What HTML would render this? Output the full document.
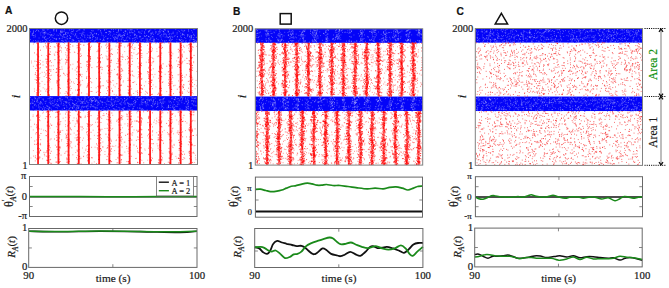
<!DOCTYPE html>
<html><head><meta charset="utf-8"><style>html,body{margin:0;padding:0;background:#fff;overflow:hidden}svg{display:block}text{stroke-width:0.2px}</style></head>
<body><svg width="669" height="288" viewBox="0 0 669 288">
<rect width="669" height="288" fill="#fff"/>
<rect x="29.5" y="28.5" width="168" height="14" fill="#0404f8"/>
<rect x="29.5" y="96.1" width="168" height="14.4" fill="#0404f8"/>
<path d="M105.3 36.3h.9M183.9 35.1h.9M114.6 36.6h.9M60.7 35.7h.9M134.9 39.3h.9M45.7 33.0h.9M45.1 39.5h.9M145.5 29.6h.9M193.5 41.4h.9M138.9 37.0h.9M56.2 29.3h.9M118.0 29.9h.9M61.7 32.2h.9M35.0 35.0h.9M103.3 39.9h.9M116.4 37.3h.9M113.2 37.6h.9M106.1 32.7h.9M196.1 41.8h.9M169.9 38.2h.9M82.5 32.0h.9M78.1 30.0h.9M157.6 34.2h.9M171.0 34.0h.9M189.5 39.9h.9M30.1 31.8h.9M181.6 35.1h.9M193.2 34.2h.9M42.2 37.2h.9M159.6 32.6h.9M44.5 33.4h.9M190.5 38.8h.9M49.6 32.3h.9M46.8 29.9h.9M162.7 31.4h.9M123.1 34.8h.9M61.7 38.5h.9M51.8 37.3h.9M49.4 34.5h.9M65.4 32.6h.9M191.7 39.4h.9M80.6 40.4h.9M65.1 34.1h.9M172.3 37.3h.9M46.7 41.8h.9M65.5 32.4h.9M158.7 33.3h.9M79.3 30.0h.9M45.0 36.6h.9M70.5 36.8h.9M91.9 34.9h.9M189.7 35.3h.9M125.7 40.2h.9M60.4 31.1h.9M181.3 39.6h.9M71.5 31.5h.9M153.1 41.1h.9M62.7 41.3h.9M176.9 36.8h.9M100.2 30.4h.9M36.4 41.4h.9M69.7 38.1h.9M72.8 39.6h.9M129.3 32.9h.9M59.2 38.3h.9M41.5 32.0h.9M123.1 40.0h.9M132.3 32.7h.9M182.7 31.7h.9M32.8 32.5h.9M104.2 29.9h.9M59.3 33.8h.9M125.3 30.8h.9M90.3 40.5h.9M193.3 37.5h.9M145.1 36.6h.9M53.4 29.5h.9M33.0 40.8h.9M146.7 41.4h.9M33.5 37.2h.9M110.3 38.5h.9M83.1 41.9h.9M42.5 36.1h.9M152.7 40.6h.9M152.7 38.1h.9M162.1 40.8h.9M88.6 37.9h.9M180.0 40.3h.9M99.5 39.2h.9M173.8 36.4h.9M134.1 34.0h.9M127.0 36.9h.9M43.4 37.3h.9M195.4 40.4h.9M151.2 34.1h.9M152.4 36.5h.9M103.3 39.8h.9M43.9 38.7h.9M35.0 36.8h.9M110.1 32.0h.9M146.3 35.5h.9M132.3 40.9h.9M72.6 29.2h.9M80.1 37.8h.9M63.7 31.3h.9M180.8 37.5h.9M103.6 40.5h.9M84.4 37.6h.9M63.1 34.6h.9M164.2 40.8h.9M176.6 34.0h.9M127.1 33.2h.9M52.7 35.5h.9M169.4 40.0h.9M148.4 41.3h.9M76.1 31.3h.9M105.0 32.6h.9M65.6 34.4h.9M134.2 35.4h.9M82.5 39.8h.9M193.5 34.9h.9M42.4 29.5h.9M175.3 29.6h.9M148.0 36.4h.9M81.5 39.2h.9M33.2 30.8h.9M105.7 29.4h.9M168.1 32.1h.9M53.5 29.7h.9M134.8 34.8h.9M134.9 37.5h.9M164.4 41.4h.9M144.0 31.7h.9M109.1 31.4h.9M31.8 35.1h.9M148.9 31.4h.9M75.3 33.5h.9M146.1 35.8h.9M132.3 38.8h.9M95.5 39.2h.9M180.9 30.2h.9M185.3 38.3h.9M51.6 34.9h.9M134.2 40.7h.9M92.7 36.4h.9M176.4 39.3h.9M187.2 35.0h.9M138.4 31.7h.9M150.2 39.6h.9M136.8 38.3h.9M65.5 40.6h.9M193.3 41.6h.9M119.4 39.2h.9M83.3 40.7h.9M172.5 33.6h.9M43.8 34.7h.9M121.6 38.9h.9M111.2 29.5h.9M164.7 29.9h.9M163.2 31.3h.9M85.8 39.2h.9M53.4 31.0h.9M116.0 38.4h.9M169.9 37.9h.9M187.5 35.4h.9M188.0 30.2h.9M66.9 35.8h.9M78.3 38.4h.9M136.4 35.8h.9M170.5 36.3h.9M81.9 34.0h.9M170.7 40.6h.9M64.7 40.0h.9M191.2 35.8h.9M125.4 31.7h.9M119.2 35.5h.9M130.8 29.5h.9M191.4 35.7h.9M96.7 39.4h.9M123.7 35.4h.9M145.0 29.9h.9M119.7 34.4h.9M189.3 40.9h.9M74.8 35.2h.9M51.1 34.7h.9M165.8 40.6h.9M109.3 33.2h.9M61.9 37.0h.9M184.1 30.8h.9M159.8 29.4h.9M62.3 32.0h.9M144.4 33.2h.9M89.2 37.0h.9M47.5 38.5h.9M50.4 35.6h.9M71.7 31.6h.9M118.3 34.7h.9M92.6 34.4h.9M118.1 31.1h.9M64.0 37.2h.9M136.3 35.9h.9M171.7 36.9h.9M172.7 32.1h.9M153.3 39.5h.9M180.3 33.1h.9M82.4 40.9h.9M66.3 41.9h.9M177.8 30.8h.9M69.9 38.4h.9M73.2 30.3h.9M168.6 34.5h.9M161.5 30.7h.9M97.1 37.9h.9M33.0 31.7h.9M143.6 40.8h.9M191.2 30.6h.9M114.2 38.8h.9M113.7 37.9h.9M61.5 30.0h.9M47.7 29.6h.9M121.9 35.7h.9M124.7 31.0h.9M60.7 31.7h.9M169.9 41.8h.9M184.3 30.3h.9M40.3 41.3h.9M106.9 38.9h.9M84.4 35.1h.9M115.8 34.6h.9M130.1 29.3h.9M146.7 39.9h.9M60.2 34.9h.9M153.1 34.3h.9M62.5 31.2h.9M115.3 29.3h.9M178.7 39.4h.9M147.3 40.1h.9M134.8 34.3h.9M129.8 35.6h.9M193.6 39.4h.9M73.0 40.8h.9M153.9 39.1h.9M165.6 34.3h.9M179.3 40.4h.9M145.7 38.9h.9M157.4 34.3h.9M150.3 30.0h.9M86.9 35.1h.9M31.8 33.7h.9M136.3 37.1h.9M68.6 41.2h.9M140.9 33.4h.9M139.9 36.4h.9M118.8 34.1h.9M196.5 37.3h.9M146.8 38.9h.9M193.2 29.4h.9M132.5 38.6h.9M72.7 34.2h.9M38.4 31.6h.9M92.6 30.4h.9M71.8 40.7h.9M121.6 35.6h.9M191.0 36.4h.9M195.7 37.3h.9M164.8 30.1h.9M129.5 38.8h.9M37.5 41.0h.9M56.6 35.1h.9M58.2 35.4h.9M131.8 29.8h.9M187.4 34.5h.9M117.7 36.8h.9M90.9 32.8h.9M139.1 36.3h.9M77.2 38.3h.9M79.3 29.3h.9M70.8 29.6h.9M56.1 38.8h.9M94.9 40.6h.9M154.6 29.7h.9M194.6 41.2h.9M42.2 40.7h.9M101.5 35.2h.9M192.0 32.2h.9M117.1 41.1h.9M150.3 35.1h.9M193.0 39.6h.9M130.5 30.6h.9M133.9 34.9h.9M63.9 29.8h.9M117.9 30.7h.9M103.7 37.6h.9M105.8 32.5h.9M126.9 34.5h.9M159.5 35.9h.9M196.1 41.3h.9M152.3 32.2h.9M49.0 40.5h.9M160.6 37.1h.9M89.8 32.6h.9M144.1 36.3h.9M128.5 37.2h.9M155.4 31.5h.9M71.5 41.6h.9M182.5 40.3h.9M36.6 29.9h.9M75.1 34.5h.9M133.8 30.4h.9M120.2 30.0h.9M44.4 37.8h.9M121.7 37.2h.9M92.1 35.2h.9M65.1 33.5h.9M154.0 39.8h.9M42.4 30.6h.9M164.7 37.1h.9M158.0 31.8h.9M100.7 32.4h.9M164.8 33.8h.9M138.8 41.8h.9M84.2 36.1h.9M154.2 40.9h.9M101.2 33.8h.9M46.2 40.3h.9M43.1 30.2h.9M123.9 35.3h.9M144.1 32.9h.9M159.1 30.1h.9M65.5 37.6h.9M43.6 33.0h.9M150.7 38.0h.9M77.1 30.9h.9M89.6 38.4h.9M91.0 30.6h.9M148.1 36.4h.9M182.9 41.1h.9M182.1 34.7h.9M163.7 33.0h.9M82.9 34.2h.9M185.6 40.6h.9M71.3 33.7h.9M90.9 33.8h.9M95.9 34.1h.9M62.5 36.3h.9M162.7 36.0h.9M169.3 36.3h.9M59.4 38.8h.9M176.7 32.7h.9M33.7 35.7h.9M120.6 36.4h.9M190.9 37.4h.9M163.9 29.9h.9M121.0 39.2h.9M44.0 30.1h.9M152.7 40.6h.9M44.1 37.2h.9M54.0 38.6h.9M138.1 32.2h.9M66.7 38.9h.9M116.8 38.9h.9M95.7 33.4h.9M191.2 37.7h.9M112.2 36.0h.9M150.0 38.2h.9M182.3 34.4h.9M167.6 37.6h.9M172.1 39.4h.9M168.8 40.5h.9M189.5 37.3h.9M117.2 38.2h.9M163.6 34.5h.9M100.0 31.0h.9M153.4 41.8h.9M92.5 31.2h.9M64.0 34.5h.9M78.6 41.5h.9M39.9 33.0h.9M49.1 37.4h.9M159.2 31.4h.9M40.4 35.0h.9M127.2 40.7h.9M36.1 30.5h.9M60.7 31.9h.9M69.2 38.3h.9M129.0 32.0h.9M60.8 32.7h.9M58.7 38.8h.9M81.9 36.1h.9M166.1 35.2h.9M73.4 40.5h.9M182.2 33.5h.9M121.1 41.3h.9M110.4 31.9h.9M38.3 41.2h.9M163.4 34.0h.9M117.8 35.7h.9M75.7 41.8h.9M139.5 32.1h.9M102.4 102.5h.9M73.8 107.2h.9M42.1 108.7h.9M124.7 103.9h.9M161.8 99.8h.9M54.3 100.8h.9M37.0 100.8h.9M133.4 103.6h.9M74.1 104.5h.9M44.7 107.5h.9M58.6 100.1h.9M56.6 105.8h.9M168.3 107.1h.9M40.2 102.1h.9M90.7 99.6h.9M191.6 97.3h.9M111.5 106.7h.9M194.2 98.6h.9M105.8 106.5h.9M36.5 99.9h.9M178.2 98.6h.9M95.4 100.6h.9M100.7 97.7h.9M35.7 109.8h.9M157.1 106.4h.9M68.3 100.0h.9M121.9 99.9h.9M106.8 109.0h.9M90.6 101.1h.9M193.4 104.8h.9M36.6 102.0h.9M138.2 97.5h.9M87.1 105.9h.9M173.9 104.5h.9M177.6 102.8h.9M95.4 107.8h.9M93.5 107.0h.9M65.9 101.3h.9M60.6 104.0h.9M57.3 99.4h.9M65.7 102.9h.9M81.4 102.6h.9M195.4 105.7h.9M173.6 99.4h.9M93.8 97.7h.9M145.1 101.5h.9M75.7 96.9h.9M60.3 100.2h.9M95.4 108.9h.9M149.1 100.2h.9M90.1 98.7h.9M185.9 101.4h.9M157.5 106.2h.9M181.0 97.0h.9M83.6 101.8h.9M43.8 108.3h.9M84.2 106.9h.9M116.5 97.4h.9M95.6 99.8h.9M36.8 98.7h.9M129.1 97.1h.9M82.0 102.3h.9M120.6 98.5h.9M147.6 100.1h.9M150.8 105.5h.9M54.5 99.4h.9M76.7 106.1h.9M97.5 101.8h.9M174.2 99.7h.9M78.6 101.3h.9M65.9 97.2h.9M34.1 105.0h.9M124.2 107.4h.9M192.4 100.6h.9M141.6 108.8h.9M66.0 105.8h.9M141.0 109.3h.9M174.6 99.8h.9M135.3 97.9h.9M101.2 101.9h.9M40.0 101.8h.9M84.6 103.3h.9M76.6 98.8h.9M97.0 103.0h.9M57.8 105.5h.9M69.9 97.9h.9M86.9 102.3h.9M55.1 104.4h.9M146.8 104.0h.9M146.6 97.0h.9M95.2 101.5h.9M40.5 102.0h.9M39.1 103.2h.9M127.5 102.9h.9M84.2 100.0h.9M33.9 101.3h.9M178.5 104.2h.9M73.6 105.5h.9M61.0 102.9h.9M132.4 109.3h.9M90.4 104.3h.9M186.9 106.9h.9M134.5 104.9h.9M98.4 102.2h.9M76.0 107.7h.9M176.5 101.7h.9M181.5 97.2h.9M52.6 103.4h.9M81.4 101.5h.9M192.7 98.7h.9M62.0 99.7h.9M143.2 99.8h.9M30.2 103.9h.9M95.6 99.9h.9M112.2 105.3h.9M121.3 104.9h.9M123.4 107.7h.9M191.3 101.1h.9M87.7 108.4h.9M82.2 106.2h.9M145.8 105.8h.9M190.5 107.6h.9M56.6 104.9h.9M111.7 104.1h.9M91.5 100.5h.9M154.7 103.7h.9M69.5 100.0h.9M84.1 99.0h.9M115.5 98.4h.9M40.5 97.6h.9M47.0 106.0h.9M48.8 102.7h.9M158.6 103.0h.9M57.1 108.1h.9M174.8 97.4h.9M72.3 103.4h.9M162.6 101.9h.9M149.2 100.0h.9M149.2 101.0h.9M85.6 106.7h.9M170.3 107.6h.9M124.5 102.3h.9M147.7 104.9h.9M168.4 107.3h.9M50.8 101.7h.9M141.4 99.7h.9M60.7 96.9h.9M127.5 109.1h.9M191.6 98.5h.9M144.5 102.2h.9M135.1 101.9h.9M185.4 109.8h.9M38.1 106.1h.9M49.7 97.3h.9M77.6 106.4h.9M195.4 98.3h.9M85.0 97.1h.9M120.3 103.1h.9M92.2 100.8h.9M163.3 107.8h.9M77.2 101.9h.9M132.9 106.8h.9M193.3 101.8h.9M145.6 103.9h.9M163.2 98.6h.9M59.2 98.1h.9M185.4 100.0h.9M111.3 98.3h.9M83.9 97.0h.9M124.2 98.6h.9M134.1 100.3h.9M67.9 103.1h.9M90.9 100.1h.9M38.5 97.5h.9M178.6 100.8h.9M43.1 99.1h.9M110.5 109.9h.9M63.7 108.1h.9M110.6 102.2h.9M164.4 101.9h.9M39.6 104.0h.9M139.4 104.9h.9M76.1 109.1h.9M174.0 109.8h.9M103.8 107.7h.9M150.7 99.0h.9M34.5 98.9h.9M49.8 97.7h.9M89.8 106.6h.9M81.6 103.5h.9M31.7 99.5h.9M189.7 96.8h.9M117.8 107.4h.9M161.9 106.4h.9M96.5 107.3h.9M167.8 106.8h.9M194.2 98.0h.9M188.2 102.0h.9M147.4 100.0h.9M181.5 97.0h.9M126.0 99.7h.9M94.7 101.6h.9M139.4 107.4h.9M90.7 105.1h.9M88.9 100.4h.9M180.7 100.9h.9M45.7 101.1h.9M153.5 99.5h.9M153.7 103.9h.9M143.3 99.0h.9M47.6 98.6h.9M88.3 102.4h.9M31.6 103.3h.9M97.2 100.9h.9M119.4 109.3h.9M64.1 108.3h.9M83.4 106.7h.9M48.0 109.7h.9M101.6 109.4h.9M66.6 102.1h.9M147.6 99.0h.9M75.5 105.6h.9M187.8 101.0h.9M60.5 101.4h.9M194.7 98.7h.9M135.7 101.7h.9M137.2 99.5h.9M132.6 108.4h.9M172.6 105.0h.9M114.1 104.2h.9M49.0 107.8h.9M144.9 102.7h.9M140.8 102.2h.9M94.0 99.7h.9M130.0 104.3h.9M115.8 97.1h.9M134.5 102.6h.9M128.8 104.5h.9M185.1 98.7h.9M108.0 109.8h.9M152.9 100.8h.9M152.7 109.8h.9M96.9 108.2h.9M51.1 109.8h.9M111.8 99.8h.9M169.9 105.3h.9M186.1 107.6h.9M162.8 103.5h.9M195.4 97.6h.9M174.9 106.1h.9M71.7 107.4h.9M105.6 103.8h.9M174.1 99.3h.9M76.6 105.2h.9M42.2 104.0h.9M161.1 103.2h.9M70.3 107.3h.9M172.4 106.9h.9M121.5 108.7h.9M162.7 98.7h.9M90.9 98.0h.9M36.1 101.3h.9M174.0 107.7h.9M49.5 99.1h.9M94.7 107.9h.9M132.7 108.6h.9M42.0 109.7h.9M64.4 105.0h.9M175.9 106.3h.9M62.8 105.5h.9M101.7 96.9h.9M86.5 100.9h.9M134.8 100.4h.9M130.4 105.9h.9M60.1 98.4h.9M145.5 102.9h.9M51.5 98.2h.9M186.7 104.8h.9M89.5 99.3h.9M195.6 105.8h.9M152.6 101.5h.9M81.7 102.1h.9M54.4 105.0h.9M100.7 107.5h.9M98.1 102.7h.9M114.3 109.1h.9M87.7 106.0h.9M69.1 104.3h.9M77.4 108.2h.9M77.7 108.0h.9M142.7 102.7h.9M185.5 101.8h.9M153.8 104.6h.9M104.7 97.5h.9M99.8 100.4h.9M103.4 109.3h.9M78.8 105.9h.9M141.9 99.9h.9M98.5 98.4h.9M179.1 100.0h.9M100.0 101.2h.9M166.6 107.9h.9M128.4 103.9h.9M46.6 108.5h.9M44.7 101.5h.9M92.4 106.2h.9M141.4 101.2h.9M179.5 109.2h.9M33.9 105.1h.9M108.1 101.5h.9M107.4 100.9h.9M141.7 104.7h.9M191.6 109.6h.9M195.3 101.9h.9M168.0 105.3h.9M146.7 109.9h.9M41.1 102.8h.9M96.8 105.4h.9M66.3 109.8h.9M64.9 101.6h.9M53.8 101.9h.9M153.5 97.8h.9M57.8 105.3h.9M133.7 106.5h.9M72.2 107.4h.9M151.7 106.9h.9M49.9 102.9h.9M32.6 108.0h.9M187.3 108.5h.9M34.0 101.3h.9M119.2 103.7h.9M48.5 107.1h.9M80.2 103.4h.9M50.7 104.2h.9M51.6 97.9h.9M115.3 100.6h.9M159.4 100.0h.9M98.9 97.4h.9M66.2 102.7h.9M122.9 102.8h.9M171.6 98.1h.9M171.5 98.7h.9M191.6 103.6h.9M97.7 104.8h.9M173.8 109.4h.9M98.8 96.8h.9M55.6 107.5h.9M152.3 106.1h.9M56.1 103.7h.9M34.8 98.2h.9M80.1 109.5h.9M137.1 107.9h.9M37.7 102.2h.9M43.0 100.1h.9M48.6 108.8h.9M84.7 103.2h.9M138.9 108.4h.9M187.6 104.2h.9M113.4 108.6h.9M95.7 100.7h.9M153.1 100.1h.9M91.2 102.4h.9M109.4 101.4h.9M101.7 102.7h.9M38.3 107.7h.9M40.3 103.7h.9M121.2 102.0h.9M67.1 98.0h.9M91.9 100.9h.9M110.6 99.7h.9M154.8 103.1h.9M31.5 102.1h.9M190.9 96.8h.9M128.8 109.4h.9M90.9 104.6h.9M91.4 100.7h.9M131.4 104.5h.9M82.5 103.3h.9M115.9 106.6h.9M38.8 97.9h.9M72.0 100.3h.9M162.5 102.3h.9M173.2 102.0h.9M77.6 105.7h.9M44.2 109.7h.9M168.5 101.0h.9M82.8 107.5h.9M161.3 105.2h.9M39.4 106.8h.9M38.0 104.9h.9M121.9 108.9h.9M136.3 97.0h.9M185.6 106.6h.9M126.5 96.8h.9M152.7 102.2h.9M143.2 109.7h.9M182.6 97.7h.9M160.1 102.5h.9M155.1 101.7h.9M104.5 102.5h.9M49.6 100.9h.9M152.3 97.6h.9M49.3 107.7h.9M140.9 103.9h.9M48.9 98.3h.9M81.6 109.3h.9M123.3 108.9h.9M65.2 102.2h.9M119.3 107.8h.9M50.5 108.2h.9M108.7 97.1h.9" stroke="#ffffff" stroke-opacity="0.35" stroke-width="0.9"/>
<path d="M31.8 35.1h.7M91.9 39.3h.7M148.8 36.9h.7M56.2 31.1h.7M83.6 32.4h.7M174.7 35.7h.7M136.1 41.8h.7M74.4 35.9h.7M55.1 39.0h.7M30.2 39.6h.7M170.9 39.6h.7M43.7 32.6h.7M149.3 30.3h.7M109.9 35.1h.7M189.1 36.6h.7M172.7 33.0h.7M161.4 34.4h.7M182.6 30.3h.7M167.6 31.8h.7M120.5 35.8h.7M56.2 39.7h.7M81.8 33.1h.7M42.7 33.0h.7M107.8 38.3h.7M89.9 37.9h.7M47.6 34.1h.7M106.9 41.5h.7M168.2 37.5h.7M32.1 33.9h.7M148.2 32.1h.7M123.9 35.0h.7M31.7 41.8h.7M163.1 31.7h.7M132.6 32.8h.7M92.6 36.0h.7M79.7 33.4h.7M95.3 37.6h.7M72.7 31.7h.7M151.8 33.3h.7M187.3 36.3h.7M150.5 33.3h.7M167.7 30.3h.7M53.4 30.3h.7M142.8 38.2h.7M59.9 34.2h.7M169.3 36.7h.7M45.0 32.0h.7M56.2 30.7h.7M97.7 30.0h.7M183.3 34.6h.7M115.2 37.4h.7M157.7 39.6h.7M94.3 33.3h.7M98.6 29.3h.7M96.7 38.1h.7M193.5 39.2h.7M139.9 36.9h.7M33.1 33.3h.7M87.0 37.4h.7M47.7 33.9h.7M114.8 39.2h.7M167.4 36.9h.7M56.4 38.9h.7M180.3 36.1h.7M88.7 35.5h.7M53.6 38.2h.7M194.3 35.7h.7M149.1 39.8h.7M62.8 41.2h.7M134.4 31.6h.7M43.9 32.2h.7M126.0 38.0h.7M84.8 41.0h.7M90.1 35.0h.7M50.7 41.6h.7M52.6 40.7h.7M120.5 36.3h.7M123.3 32.5h.7M181.4 41.8h.7M166.1 36.8h.7M50.4 39.7h.7M78.0 40.6h.7M70.1 36.4h.7M168.3 31.5h.7M121.2 30.1h.7M35.3 31.4h.7M194.3 41.1h.7M139.6 33.0h.7M141.8 38.5h.7M93.5 36.7h.7M163.8 29.3h.7M63.2 35.1h.7M53.8 34.0h.7M124.8 31.3h.7M116.5 32.5h.7M124.6 33.4h.7M136.8 29.6h.7M141.7 31.0h.7M189.7 36.8h.7M108.2 34.4h.7M133.9 37.9h.7M156.2 38.7h.7M110.9 41.8h.7M169.6 40.0h.7M98.1 34.7h.7M124.2 40.7h.7M117.6 35.8h.7M102.0 40.7h.7M83.4 29.8h.7M150.8 40.6h.7M151.9 36.7h.7M155.2 33.0h.7M128.8 30.0h.7M50.7 34.8h.7M113.7 34.2h.7M38.7 38.0h.7M117.6 32.2h.7M81.0 34.2h.7M69.3 30.0h.7M181.7 41.5h.7M140.8 40.2h.7M100.2 39.4h.7M66.9 38.7h.7M124.4 40.7h.7M46.4 39.2h.7M50.6 36.0h.7M188.3 29.1h.7M70.6 32.9h.7M84.1 29.9h.7M179.0 39.5h.7M96.1 33.7h.7M127.5 29.7h.7M35.2 40.6h.7M81.3 35.5h.7M185.5 41.6h.7M108.7 31.7h.7M79.2 40.9h.7M179.3 31.6h.7M169.5 33.6h.7M108.7 31.3h.7M176.5 41.8h.7M63.6 37.2h.7M61.9 40.4h.7M38.3 30.5h.7M150.8 33.1h.7M179.9 40.2h.7M148.7 30.8h.7M145.9 41.1h.7M104.1 30.1h.7M67.2 33.0h.7M148.3 31.6h.7M60.1 32.1h.7M140.7 39.2h.7M92.0 37.6h.7M177.3 36.7h.7M68.1 33.0h.7M184.3 37.6h.7M76.1 37.3h.7M45.0 41.7h.7M103.3 35.9h.7M118.4 29.7h.7M129.8 32.7h.7M71.8 39.4h.7M44.5 32.7h.7M155.8 32.2h.7M76.5 36.1h.7M61.0 40.6h.7M194.5 29.5h.7M106.9 38.7h.7M94.1 41.0h.7M113.2 31.4h.7M122.6 37.4h.7M89.9 37.5h.7M160.4 35.7h.7M114.2 39.9h.7M143.9 35.8h.7M188.4 31.3h.7M159.8 31.2h.7M131.2 32.1h.7M103.3 39.0h.7M161.0 39.2h.7M69.3 35.4h.7M66.8 36.5h.7M113.1 29.6h.7M129.4 38.2h.7M125.3 40.3h.7M60.0 31.0h.7M33.0 35.5h.7M101.9 101.7h.7M142.3 109.0h.7M112.2 105.8h.7M94.6 107.0h.7M47.5 106.5h.7M57.7 104.4h.7M63.7 101.3h.7M57.3 101.3h.7M128.5 103.6h.7M94.7 104.3h.7M170.2 101.4h.7M127.2 103.0h.7M193.3 101.0h.7M146.1 99.8h.7M73.5 106.3h.7M125.7 100.1h.7M40.7 107.6h.7M92.9 106.2h.7M102.0 104.9h.7M123.2 109.6h.7M181.5 102.7h.7M111.1 99.8h.7M155.4 98.1h.7M81.0 107.9h.7M35.8 105.9h.7M124.6 104.0h.7M85.5 98.7h.7M188.3 106.8h.7M164.2 98.0h.7M160.5 99.6h.7M63.2 103.8h.7M131.5 98.3h.7M157.4 104.4h.7M179.7 108.9h.7M144.8 101.5h.7M188.3 106.2h.7M78.4 108.0h.7M151.0 100.2h.7M71.5 97.0h.7M119.4 100.0h.7M78.8 100.0h.7M51.9 103.1h.7M75.4 100.5h.7M76.2 103.4h.7M175.5 98.8h.7M173.1 108.0h.7M131.5 103.9h.7M152.2 103.8h.7M139.9 108.8h.7M159.1 100.1h.7M39.0 109.1h.7M90.4 107.1h.7M68.9 102.7h.7M91.7 106.3h.7M187.1 103.4h.7M124.2 101.3h.7M68.7 109.2h.7M48.4 109.1h.7M139.4 97.6h.7M180.1 98.0h.7M124.1 98.3h.7M194.6 100.8h.7M175.2 97.5h.7M140.9 97.6h.7M34.9 104.2h.7M193.6 105.7h.7M172.4 107.1h.7M116.8 97.7h.7M117.7 99.1h.7M117.7 101.4h.7M113.1 99.3h.7M147.4 102.2h.7M110.9 97.7h.7M111.1 104.1h.7M191.9 104.1h.7M52.5 100.7h.7M85.9 106.0h.7M186.3 109.6h.7M188.2 108.9h.7M173.0 109.0h.7M33.4 103.2h.7M128.3 105.8h.7M132.0 104.8h.7M185.4 97.8h.7M116.5 109.4h.7M35.3 98.2h.7M174.7 109.3h.7M34.0 97.1h.7M168.2 105.8h.7M116.5 104.4h.7M156.1 107.4h.7M30.1 97.6h.7M162.2 109.6h.7M168.8 102.1h.7M85.9 101.3h.7M32.5 106.9h.7M73.7 104.4h.7M117.6 101.1h.7M142.4 102.7h.7M69.0 108.3h.7M59.3 98.7h.7M72.2 103.0h.7M160.5 101.1h.7M69.7 105.3h.7M73.3 103.6h.7M72.4 108.3h.7M60.7 99.8h.7M80.2 101.1h.7M151.0 105.6h.7M161.6 103.8h.7M43.1 106.8h.7M70.7 99.6h.7M99.0 109.8h.7M91.7 101.4h.7M181.7 109.8h.7M94.5 98.5h.7M161.5 107.0h.7M86.3 107.1h.7M93.2 100.5h.7M128.8 106.5h.7M109.2 107.5h.7M32.3 103.3h.7M93.3 97.6h.7M182.3 98.6h.7M64.2 108.3h.7M189.9 109.0h.7M86.9 109.0h.7M53.6 106.1h.7M187.4 99.2h.7M52.6 105.7h.7M176.9 106.3h.7M188.1 102.7h.7M92.0 98.3h.7M75.5 109.1h.7M41.9 99.1h.7M87.9 97.4h.7M81.1 99.1h.7M50.4 103.7h.7M120.0 104.2h.7M156.9 103.7h.7M187.7 97.8h.7M67.1 97.7h.7M81.5 106.7h.7M183.9 103.4h.7M56.7 101.1h.7M124.6 100.6h.7M162.0 109.5h.7M106.5 104.7h.7M170.9 102.8h.7M61.8 109.2h.7M192.8 97.0h.7M157.0 102.0h.7M38.6 98.8h.7M58.8 106.4h.7M65.2 97.0h.7M66.6 107.2h.7M113.1 105.3h.7M107.4 99.1h.7M32.5 100.7h.7M36.9 100.1h.7M133.0 101.6h.7M108.7 104.9h.7M82.8 101.4h.7M177.2 104.4h.7M99.4 103.8h.7M106.6 101.1h.7M182.1 99.8h.7M185.8 108.0h.7M176.9 98.8h.7M114.7 109.7h.7M78.1 99.0h.7M150.4 99.8h.7M127.2 98.8h.7M187.8 100.4h.7M46.1 105.8h.7M87.8 104.1h.7M112.8 108.9h.7M115.6 101.7h.7M30.3 103.3h.7M74.8 104.3h.7M135.2 102.8h.7M45.0 103.3h.7M110.2 105.2h.7M191.5 100.4h.7M103.7 97.8h.7M163.2 99.8h.7M168.0 107.2h.7M72.4 108.6h.7M113.9 102.3h.7M122.4 109.2h.7M111.6 103.1h.7M78.4 107.8h.7M113.8 101.2h.7" stroke="#ffffff" stroke-opacity="0.6" stroke-width="0.7"/>
<path d="M62.7 42.3h.9M163.8 43.0h.9M192.9 42.8h.9M162.8 42.5h.9M148.5 42.4h.9M59.3 42.9h.9M165.7 42.2h.9M183.1 42.5h.9M33.8 42.6h.9M161.8 42.1h.9M131.7 43.1h.9M137.3 42.7h.9M40.7 42.2h.9M193.5 42.3h.9M175.1 42.2h.9M145.6 42.4h.9M156.2 42.8h.9M50.9 42.2h.9M151.0 43.0h.9M158.0 42.5h.9M160.8 42.6h.9M187.1 42.6h.9M136.4 42.6h.9M88.8 42.1h.9M33.8 42.6h.9M68.1 42.9h.9M138.8 42.2h.9M115.9 42.9h.9M82.6 42.1h.9M137.9 42.4h.9M144.3 42.5h.9M184.4 42.3h.9M181.8 42.4h.9M133.1 43.3h.9M190.3 42.2h.9M76.5 42.5h.9M117.0 42.2h.9M173.6 42.1h.9M119.2 42.9h.9M71.6 42.2h.9M63.2 42.4h.9M84.5 42.3h.9M41.6 110.5h.9M117.7 110.3h.9M188.0 110.4h.9M97.7 110.5h.9M69.2 111.3h.9M50.3 110.3h.9M102.1 110.4h.9M122.4 110.9h.9M136.8 111.1h.9M71.8 110.5h.9M120.1 110.7h.9M61.5 110.1h.9M157.6 110.4h.9M121.8 110.2h.9M75.4 110.3h.9M83.2 110.9h.9M157.7 110.6h.9M106.0 110.7h.9M102.0 110.5h.9M189.0 110.5h.9M177.9 110.3h.9M74.9 110.2h.9M145.6 110.3h.9M100.9 110.2h.9M125.4 110.1h.9M138.2 110.6h.9M143.4 110.2h.9M148.3 110.2h.9M51.4 110.6h.9M32.8 110.3h.9M42.1 110.5h.9M47.6 110.5h.9M188.8 110.4h.9M127.9 110.6h.9M82.5 110.4h.9M80.6 110.1h.9M66.8 110.5h.9M98.3 110.5h.9M96.4 110.4h.9M161.8 110.4h.9M147.9 110.6h.9M102.7 110.3h.9" stroke="#0000ff" stroke-opacity="0.5" stroke-width="0.9"/>
<rect x="37.15" y="42.50" width="1.8" height="53.60" fill="#ff0000" fill-opacity="0.88"/>
<rect x="47.34" y="42.50" width="1.8" height="53.60" fill="#ff0000" fill-opacity="0.88"/>
<rect x="57.52" y="42.50" width="1.8" height="53.60" fill="#ff0000" fill-opacity="0.88"/>
<rect x="67.70" y="42.50" width="1.8" height="53.60" fill="#ff0000" fill-opacity="0.88"/>
<rect x="77.89" y="42.50" width="1.8" height="53.60" fill="#ff0000" fill-opacity="0.88"/>
<rect x="88.07" y="42.50" width="1.8" height="53.60" fill="#ff0000" fill-opacity="0.88"/>
<rect x="98.26" y="42.50" width="1.8" height="53.60" fill="#ff0000" fill-opacity="0.88"/>
<rect x="108.44" y="42.50" width="1.8" height="53.60" fill="#ff0000" fill-opacity="0.88"/>
<rect x="118.63" y="42.50" width="1.8" height="53.60" fill="#ff0000" fill-opacity="0.88"/>
<rect x="128.81" y="42.50" width="1.8" height="53.60" fill="#ff0000" fill-opacity="0.88"/>
<rect x="139.00" y="42.50" width="1.8" height="53.60" fill="#ff0000" fill-opacity="0.88"/>
<rect x="149.19" y="42.50" width="1.8" height="53.60" fill="#ff0000" fill-opacity="0.88"/>
<rect x="159.37" y="42.50" width="1.8" height="53.60" fill="#ff0000" fill-opacity="0.88"/>
<rect x="169.55" y="42.50" width="1.8" height="53.60" fill="#ff0000" fill-opacity="0.88"/>
<rect x="179.74" y="42.50" width="1.8" height="53.60" fill="#ff0000" fill-opacity="0.88"/>
<rect x="189.92" y="42.50" width="1.8" height="53.60" fill="#ff0000" fill-opacity="0.88"/>
<rect x="37.15" y="110.50" width="1.8" height="54.00" fill="#ff0000" fill-opacity="0.88"/>
<rect x="47.34" y="110.50" width="1.8" height="54.00" fill="#ff0000" fill-opacity="0.88"/>
<rect x="57.52" y="110.50" width="1.8" height="54.00" fill="#ff0000" fill-opacity="0.88"/>
<rect x="67.70" y="110.50" width="1.8" height="54.00" fill="#ff0000" fill-opacity="0.88"/>
<rect x="77.89" y="110.50" width="1.8" height="54.00" fill="#ff0000" fill-opacity="0.88"/>
<rect x="88.07" y="110.50" width="1.8" height="54.00" fill="#ff0000" fill-opacity="0.88"/>
<rect x="98.26" y="110.50" width="1.8" height="54.00" fill="#ff0000" fill-opacity="0.88"/>
<rect x="108.44" y="110.50" width="1.8" height="54.00" fill="#ff0000" fill-opacity="0.88"/>
<rect x="118.63" y="110.50" width="1.8" height="54.00" fill="#ff0000" fill-opacity="0.88"/>
<rect x="128.81" y="110.50" width="1.8" height="54.00" fill="#ff0000" fill-opacity="0.88"/>
<rect x="139.00" y="110.50" width="1.8" height="54.00" fill="#ff0000" fill-opacity="0.88"/>
<rect x="149.19" y="110.50" width="1.8" height="54.00" fill="#ff0000" fill-opacity="0.88"/>
<rect x="159.37" y="110.50" width="1.8" height="54.00" fill="#ff0000" fill-opacity="0.88"/>
<rect x="169.55" y="110.50" width="1.8" height="54.00" fill="#ff0000" fill-opacity="0.88"/>
<rect x="179.74" y="110.50" width="1.8" height="54.00" fill="#ff0000" fill-opacity="0.88"/>
<rect x="189.92" y="110.50" width="1.8" height="54.00" fill="#ff0000" fill-opacity="0.88"/>
<path d="M36.4 75.6h.9M38.0 64.3h.9M36.8 66.7h.9M39.9 67.6h.9M38.7 62.5h.9M36.5 90.2h.9M40.0 63.8h.9M37.2 78.1h.9M37.5 80.9h.9M36.4 92.9h.9M36.4 65.6h.9M35.9 77.2h.9M38.0 71.1h.9M40.0 94.5h.9M36.4 43.4h.9M39.5 64.6h.9M37.7 75.1h.9M36.5 54.2h.9M34.0 52.9h.9M40.3 91.0h.9M39.3 86.1h.9M38.3 87.0h.9M36.1 80.3h.9M38.8 82.9h.9M37.6 55.9h.9M35.8 79.9h.9M36.0 94.9h.9M36.9 49.7h.9M37.8 81.1h.9M36.4 93.0h.9M37.3 70.6h.9M39.4 68.8h.9M38.6 89.9h.9M39.3 77.7h.9M37.0 64.8h.9M40.1 50.2h.9M36.4 70.6h.9M36.6 95.1h.9M34.5 61.2h.9M36.1 82.8h.9M38.7 79.2h.9M38.1 79.2h.9M38.2 57.0h.9M36.4 61.5h.9M37.3 62.4h.9M37.5 77.4h.9M38.3 88.8h.9M38.6 92.1h.9M37.6 48.8h.9M38.5 47.1h.9M38.2 56.5h.9M35.4 68.5h.9M37.5 86.0h.9M37.3 88.1h.9M38.1 79.6h.9M39.7 60.4h.9M38.3 67.7h.9M36.9 59.2h.9M35.2 72.8h.9M38.5 74.9h.9M48.8 54.3h.9M47.7 75.4h.9M49.9 60.6h.9M50.7 65.9h.9M45.4 91.1h.9M48.9 78.4h.9M48.4 80.0h.9M48.9 54.0h.9M49.9 54.5h.9M45.9 61.8h.9M48.1 45.0h.9M50.0 79.4h.9M50.3 71.3h.9M48.8 73.5h.9M48.1 61.2h.9M48.0 94.8h.9M45.5 45.8h.9M46.1 47.9h.9M49.9 51.9h.9M48.1 57.0h.9M46.7 59.6h.9M45.9 67.3h.9M47.3 61.4h.9M49.5 61.6h.9M47.8 56.4h.9M48.9 43.4h.9M47.1 56.8h.9M49.5 48.5h.9M48.7 69.7h.9M46.5 59.1h.9M49.6 75.6h.9M46.3 77.5h.9M47.2 64.4h.9M46.2 63.2h.9M46.2 70.6h.9M47.7 70.8h.9M48.5 54.4h.9M44.9 43.7h.9M47.7 84.8h.9M48.1 75.4h.9M47.6 88.6h.9M48.7 86.9h.9M46.9 82.0h.9M45.8 66.6h.9M46.4 89.3h.9M48.9 95.1h.9M50.1 46.4h.9M46.5 55.6h.9M49.5 69.8h.9M47.5 59.0h.9M48.9 95.1h.9M46.5 46.5h.9M48.0 50.4h.9M47.8 63.2h.9M47.4 72.4h.9M47.3 92.4h.9M45.6 73.9h.9M48.7 73.4h.9M48.5 90.3h.9M49.2 78.3h.9M58.3 71.4h.9M59.5 60.4h.9M56.2 43.4h.9M57.0 54.2h.9M57.4 46.4h.9M57.2 83.0h.9M56.2 72.2h.9M61.0 47.9h.9M57.3 85.7h.9M57.1 81.0h.9M58.0 44.3h.9M57.5 84.9h.9M58.6 44.1h.9M58.7 51.2h.9M54.5 59.6h.9M58.6 56.3h.9M58.4 76.2h.9M57.2 75.2h.9M58.4 72.4h.9M57.8 62.8h.9M58.4 80.5h.9M57.0 52.3h.9M54.3 55.2h.9M58.1 57.3h.9M59.8 46.0h.9M56.9 52.4h.9M58.1 87.3h.9M59.1 79.7h.9M60.0 75.8h.9M57.7 62.8h.9M57.6 45.6h.9M56.4 68.6h.9M56.7 45.1h.9M59.1 44.0h.9M59.3 60.0h.9M57.8 50.4h.9M55.4 52.1h.9M56.3 69.1h.9M55.6 72.5h.9M58.0 55.2h.9M58.8 46.6h.9M60.1 88.4h.9M58.9 67.3h.9M58.2 87.3h.9M56.3 82.9h.9M56.4 80.9h.9M60.4 50.3h.9M58.8 51.1h.9M58.3 89.1h.9M58.0 62.7h.9M58.3 87.4h.9M58.2 74.4h.9M58.3 48.5h.9M57.8 57.7h.9M58.2 53.1h.9M58.6 76.5h.9M58.4 70.9h.9M58.7 62.4h.9M59.0 69.5h.9M59.4 63.1h.9M67.8 75.2h.9M68.2 52.8h.9M68.1 89.6h.9M68.3 73.7h.9M66.8 92.4h.9M69.3 49.5h.9M66.5 62.3h.9M69.6 80.0h.9M68.5 57.6h.9M67.9 58.0h.9M68.2 79.6h.9M65.7 91.6h.9M68.7 87.8h.9M69.4 83.1h.9M71.1 81.8h.9M70.7 88.5h.9M66.9 93.4h.9M69.6 90.2h.9M65.6 95.5h.9M66.8 87.1h.9M66.2 50.1h.9M65.2 63.9h.9M67.5 84.0h.9M67.9 45.8h.9M67.4 59.6h.9M67.3 74.7h.9M68.7 88.0h.9M69.6 94.9h.9M68.0 79.3h.9M69.5 52.6h.9M68.7 72.1h.9M67.4 60.5h.9M68.2 42.6h.9M68.2 59.9h.9M67.5 76.4h.9M72.4 46.0h.9M67.9 68.1h.9M67.2 80.9h.9M70.2 64.9h.9M65.6 59.4h.9M67.2 81.9h.9M68.9 67.1h.9M67.8 84.1h.9M67.4 93.8h.9M68.7 51.1h.9M70.0 44.4h.9M67.4 81.3h.9M68.6 72.9h.9M66.5 45.6h.9M64.9 47.7h.9M69.7 86.3h.9M68.5 78.8h.9M65.5 62.3h.9M67.3 48.5h.9M68.0 54.7h.9M67.9 44.1h.9M68.4 70.7h.9M68.6 49.3h.9M66.1 60.8h.9M66.6 48.9h.9M77.3 89.4h.9M76.4 71.9h.9M75.9 78.5h.9M77.0 94.3h.9M77.8 76.1h.9M80.7 67.4h.9M79.9 56.5h.9M78.4 74.4h.9M76.7 45.6h.9M78.2 49.5h.9M76.7 95.1h.9M77.0 84.6h.9M78.0 69.4h.9M79.8 85.2h.9M75.9 68.2h.9M80.3 63.6h.9M77.0 95.6h.9M78.5 45.0h.9M77.9 78.5h.9M78.7 50.5h.9M79.2 74.5h.9M79.5 83.0h.9M77.2 62.0h.9M78.7 89.7h.9M78.4 89.5h.9M78.5 68.1h.9M78.9 89.8h.9M78.9 82.3h.9M80.3 53.9h.9M79.2 66.2h.9M78.0 92.2h.9M78.1 60.3h.9M79.8 48.3h.9M80.3 44.5h.9M77.4 90.3h.9M77.1 84.5h.9M78.5 74.5h.9M78.7 67.5h.9M77.4 53.6h.9M81.3 76.7h.9M81.2 92.9h.9M79.8 75.3h.9M77.4 90.5h.9M80.4 84.7h.9M79.9 49.9h.9M78.8 71.5h.9M81.0 55.7h.9M77.5 71.8h.9M78.0 82.0h.9M79.1 82.8h.9M77.6 79.5h.9M79.6 81.1h.9M77.7 47.6h.9M78.5 51.5h.9M79.1 76.7h.9M76.9 61.9h.9M77.7 94.3h.9M79.0 74.7h.9M79.8 74.2h.9M79.9 75.1h.9M88.8 89.0h.9M86.6 94.0h.9M86.8 62.4h.9M89.6 64.3h.9M87.2 61.2h.9M90.0 61.2h.9M90.0 78.4h.9M86.5 87.3h.9M87.0 55.8h.9M89.8 59.2h.9M90.5 91.4h.9M90.0 58.6h.9M88.0 50.1h.9M89.0 76.4h.9M89.0 56.0h.9M88.2 82.8h.9M89.0 61.2h.9M91.4 67.6h.9M88.9 65.0h.9M89.6 57.3h.9M88.5 76.4h.9M88.2 85.1h.9M88.1 48.9h.9M89.3 46.6h.9M89.0 43.3h.9M86.7 66.6h.9M87.5 44.3h.9M87.8 64.9h.9M86.3 61.6h.9M91.5 91.5h.9M89.8 49.2h.9M87.2 85.4h.9M90.0 47.7h.9M89.5 47.4h.9M87.8 95.2h.9M89.0 73.2h.9M91.3 82.7h.9M86.4 76.8h.9M86.1 78.0h.9M88.9 50.9h.9M87.1 69.9h.9M88.3 80.4h.9M87.8 84.4h.9M86.8 86.3h.9M89.2 45.0h.9M89.0 51.0h.9M89.7 65.8h.9M88.2 67.2h.9M87.5 83.8h.9M88.1 60.1h.9M90.0 42.6h.9M86.4 71.6h.9M90.9 46.2h.9M90.1 56.7h.9M88.7 77.9h.9M86.7 64.4h.9M87.6 67.1h.9M88.4 56.2h.9M88.2 49.8h.9M87.9 53.0h.9M96.9 42.7h.9M98.3 94.9h.9M99.4 50.9h.9M97.5 86.4h.9M99.6 82.6h.9M98.6 85.9h.9M99.6 48.9h.9M98.3 51.2h.9M99.1 90.8h.9M101.7 67.7h.9M99.6 55.3h.9M99.6 76.9h.9M98.3 65.7h.9M96.3 66.8h.9M97.4 66.7h.9M99.0 78.9h.9M98.4 72.6h.9M97.5 50.2h.9M100.0 61.6h.9M99.1 44.2h.9M100.0 92.5h.9M99.4 87.0h.9M99.9 62.1h.9M98.9 59.0h.9M99.9 87.1h.9M100.1 62.8h.9M99.0 43.3h.9M99.3 83.1h.9M99.0 84.5h.9M100.9 46.9h.9M99.2 83.3h.9M99.8 81.6h.9M98.2 61.4h.9M100.2 67.5h.9M99.0 85.5h.9M97.7 91.4h.9M95.9 92.3h.9M96.6 51.6h.9M99.6 85.2h.9M98.7 48.9h.9M98.2 87.1h.9M100.1 78.6h.9M99.6 88.5h.9M101.6 69.6h.9M99.8 58.0h.9M99.1 64.7h.9M100.5 86.0h.9M98.0 46.3h.9M98.8 60.6h.9M101.0 54.6h.9M99.1 64.4h.9M98.9 71.5h.9M97.2 57.9h.9M99.8 43.4h.9M98.1 68.6h.9M97.6 62.6h.9M98.7 58.2h.9M99.2 58.3h.9M99.0 68.0h.9M98.9 43.5h.9M109.9 66.1h.9M108.0 70.4h.9M109.5 84.2h.9M109.0 72.0h.9M107.6 82.4h.9M108.9 69.2h.9M109.6 90.0h.9M106.3 81.0h.9M108.2 70.8h.9M107.5 73.2h.9M106.3 88.1h.9M108.5 45.3h.9M108.9 74.3h.9M107.0 90.7h.9M110.4 62.4h.9M109.4 92.9h.9M109.8 50.2h.9M110.4 82.5h.9M106.6 58.8h.9M109.1 89.4h.9M109.9 81.4h.9M108.9 89.2h.9M109.1 46.8h.9M107.8 80.2h.9M108.8 92.1h.9M108.4 70.5h.9M110.5 60.5h.9M109.2 48.0h.9M111.4 49.1h.9M106.7 66.2h.9M108.6 48.3h.9M111.0 60.2h.9M107.6 65.6h.9M109.7 74.1h.9M111.9 90.7h.9M107.7 86.5h.9M109.0 66.9h.9M109.9 76.7h.9M107.9 95.2h.9M108.1 59.1h.9M109.5 53.6h.9M109.0 81.3h.9M109.1 55.1h.9M108.6 55.4h.9M109.6 56.5h.9M106.0 47.9h.9M112.5 80.6h.9M108.1 67.6h.9M108.8 69.5h.9M106.5 56.9h.9M106.9 59.7h.9M108.6 76.4h.9M111.1 53.7h.9M111.9 54.5h.9M112.2 91.6h.9M108.0 87.2h.9M110.4 72.6h.9M106.8 46.4h.9M108.6 87.0h.9M106.3 44.8h.9M121.2 68.4h.9M119.9 90.0h.9M120.6 78.4h.9M119.0 77.8h.9M118.6 76.5h.9M117.8 46.1h.9M120.9 85.1h.9M117.8 67.0h.9M119.5 78.6h.9M120.6 71.6h.9M119.2 63.6h.9M119.2 55.5h.9M119.2 64.6h.9M120.1 79.4h.9M120.9 43.6h.9M118.0 88.6h.9M117.3 75.1h.9M117.6 61.3h.9M118.8 77.8h.9M119.5 45.4h.9M117.8 78.0h.9M116.3 74.7h.9M120.3 85.6h.9M115.8 95.1h.9M118.8 75.1h.9M119.1 76.4h.9M120.3 61.8h.9M117.6 42.7h.9M120.0 94.8h.9M117.4 74.0h.9M120.5 95.1h.9M117.2 67.0h.9M120.2 43.1h.9M118.2 59.8h.9M116.5 63.5h.9M122.6 57.1h.9M118.8 58.7h.9M118.5 63.5h.9M120.4 65.0h.9M120.4 85.1h.9M117.0 52.9h.9M122.3 70.7h.9M119.1 58.5h.9M119.3 90.1h.9M118.7 70.3h.9M120.6 56.6h.9M118.6 61.1h.9M119.0 57.6h.9M120.0 79.7h.9M116.9 74.1h.9M120.6 45.4h.9M117.4 49.4h.9M119.0 95.0h.9M116.4 83.7h.9M120.1 75.7h.9M120.6 74.6h.9M121.5 69.6h.9M121.8 56.8h.9M120.5 46.2h.9M118.9 78.0h.9M129.2 58.6h.9M130.2 74.7h.9M128.4 90.6h.9M131.1 95.1h.9M131.7 55.9h.9M127.2 86.3h.9M130.8 46.5h.9M130.3 47.8h.9M130.0 80.6h.9M129.0 70.5h.9M131.8 45.7h.9M129.3 89.6h.9M129.9 66.2h.9M127.8 44.0h.9M129.1 70.4h.9M128.9 91.6h.9M129.0 80.8h.9M128.6 79.8h.9M128.1 73.2h.9M131.4 64.5h.9M128.2 57.7h.9M129.1 89.7h.9M127.9 62.0h.9M131.2 52.6h.9M132.9 82.4h.9M129.3 94.6h.9M128.8 51.2h.9M129.0 45.1h.9M127.8 93.2h.9M128.0 58.2h.9M129.4 50.3h.9M130.2 44.0h.9M127.8 62.0h.9M129.3 93.0h.9M128.2 70.8h.9M131.7 48.0h.9M131.2 88.9h.9M129.6 45.2h.9M129.0 79.0h.9M128.3 86.7h.9M129.1 50.8h.9M128.2 93.9h.9M132.0 71.2h.9M127.7 45.2h.9M127.2 46.1h.9M131.5 58.2h.9M132.0 61.3h.9M130.0 46.9h.9M128.7 65.5h.9M130.0 75.2h.9M128.9 70.9h.9M128.7 45.5h.9M126.9 56.4h.9M130.2 86.2h.9M129.3 84.6h.9M130.7 42.7h.9M127.6 80.5h.9M128.7 92.8h.9M128.9 53.1h.9M128.3 68.1h.9M139.1 47.3h.9M141.2 79.3h.9M139.1 48.9h.9M139.7 92.2h.9M141.1 63.2h.9M137.1 94.8h.9M140.5 92.5h.9M141.4 53.6h.9M140.2 46.9h.9M139.5 85.2h.9M138.2 48.6h.9M138.5 76.6h.9M139.9 74.0h.9M140.0 76.7h.9M140.3 49.8h.9M137.0 58.6h.9M140.5 44.0h.9M140.7 88.6h.9M138.4 68.4h.9M137.1 90.9h.9M140.8 85.3h.9M137.2 54.0h.9M139.2 83.1h.9M139.8 67.6h.9M140.6 65.4h.9M139.4 88.5h.9M141.8 89.4h.9M139.0 91.5h.9M139.2 45.9h.9M141.4 78.4h.9M141.0 50.2h.9M139.0 72.7h.9M140.9 46.8h.9M140.1 64.7h.9M140.4 87.8h.9M137.4 66.8h.9M139.0 84.4h.9M139.6 72.8h.9M138.8 66.8h.9M139.9 45.8h.9M139.9 65.1h.9M139.8 49.8h.9M140.3 88.5h.9M137.8 71.9h.9M140.1 87.1h.9M140.4 73.6h.9M138.2 45.1h.9M137.9 53.1h.9M137.0 92.6h.9M140.6 73.9h.9M139.4 72.2h.9M139.9 64.2h.9M140.3 53.4h.9M139.0 43.3h.9M142.0 88.8h.9M139.9 50.7h.9M141.3 55.6h.9M139.6 75.1h.9M141.4 57.4h.9M138.2 74.7h.9M149.1 56.2h.9M151.9 88.7h.9M148.3 60.9h.9M147.0 93.2h.9M148.7 76.8h.9M149.1 59.0h.9M149.9 74.9h.9M149.9 55.3h.9M151.6 50.0h.9M151.1 82.6h.9M149.4 92.0h.9M151.0 86.5h.9M151.6 74.6h.9M146.3 92.2h.9M148.3 59.7h.9M148.3 62.6h.9M148.7 76.6h.9M149.2 88.4h.9M149.4 44.0h.9M148.7 62.0h.9M147.2 71.5h.9M150.7 70.0h.9M148.2 78.5h.9M148.5 72.1h.9M148.7 49.1h.9M149.3 65.8h.9M152.2 58.1h.9M147.4 73.0h.9M148.1 52.0h.9M149.5 84.4h.9M150.5 57.3h.9M150.1 53.3h.9M149.8 70.3h.9M150.2 51.6h.9M148.5 75.7h.9M148.2 68.0h.9M148.7 67.1h.9M148.9 79.1h.9M150.1 73.6h.9M151.9 94.3h.9M148.3 83.3h.9M148.5 57.8h.9M148.6 81.5h.9M150.7 80.7h.9M151.0 94.6h.9M152.8 68.8h.9M151.6 62.9h.9M149.6 47.1h.9M151.5 80.7h.9M149.8 75.2h.9M149.9 81.9h.9M148.2 74.6h.9M148.5 77.9h.9M148.3 72.2h.9M151.4 79.9h.9M150.8 65.2h.9M151.2 51.3h.9M149.3 69.7h.9M149.1 89.7h.9M150.3 51.9h.9M159.6 70.0h.9M159.0 95.4h.9M162.2 42.8h.9M161.3 94.4h.9M161.1 76.4h.9M159.0 66.9h.9M160.5 65.9h.9M160.9 88.7h.9M161.1 67.5h.9M161.0 71.9h.9M160.3 59.7h.9M158.0 93.2h.9M158.9 71.6h.9M159.2 88.6h.9M161.8 68.4h.9M160.4 57.8h.9M160.4 65.7h.9M160.7 64.9h.9M158.9 75.4h.9M159.2 67.6h.9M160.5 55.1h.9M157.4 94.4h.9M158.6 56.0h.9M159.5 80.3h.9M157.9 56.1h.9M160.6 88.2h.9M159.6 65.8h.9M162.6 63.8h.9M158.3 71.6h.9M159.0 72.3h.9M162.0 47.4h.9M159.1 95.0h.9M160.3 86.0h.9M159.9 57.1h.9M160.7 68.8h.9M160.0 87.3h.9M160.7 43.2h.9M159.9 45.3h.9M159.2 93.9h.9M161.3 76.9h.9M161.0 90.8h.9M158.3 78.3h.9M159.9 68.0h.9M161.2 48.3h.9M161.2 53.1h.9M159.1 68.6h.9M160.2 73.7h.9M158.8 47.4h.9M159.9 69.3h.9M160.7 79.0h.9M160.1 73.6h.9M161.9 82.4h.9M161.1 95.4h.9M159.8 66.7h.9M158.9 47.0h.9M159.8 76.8h.9M160.1 47.0h.9M160.0 71.3h.9M160.2 83.2h.9M160.9 66.2h.9M171.3 95.3h.9M171.7 75.5h.9M168.4 79.8h.9M170.6 87.0h.9M170.2 83.9h.9M169.0 48.0h.9M171.2 52.3h.9M171.2 72.3h.9M169.3 65.5h.9M173.3 85.8h.9M171.5 83.3h.9M169.5 68.6h.9M169.4 77.5h.9M170.4 91.4h.9M169.5 70.4h.9M168.9 61.4h.9M168.1 42.9h.9M171.5 68.1h.9M169.2 81.4h.9M169.9 56.0h.9M169.1 74.2h.9M170.6 65.4h.9M169.4 84.1h.9M168.7 71.8h.9M171.3 55.9h.9M171.0 58.3h.9M171.5 81.7h.9M169.5 50.8h.9M169.5 54.3h.9M169.5 49.3h.9M173.0 93.7h.9M170.5 62.0h.9M172.3 77.7h.9M170.2 44.9h.9M170.1 54.9h.9M169.5 83.8h.9M170.1 69.5h.9M169.0 85.0h.9M168.6 52.3h.9M169.0 46.1h.9M170.7 74.1h.9M171.6 66.9h.9M168.8 76.8h.9M168.6 64.3h.9M170.9 89.2h.9M168.6 94.9h.9M171.1 79.1h.9M167.9 71.8h.9M170.0 77.6h.9M170.7 55.7h.9M168.7 74.7h.9M168.9 65.3h.9M170.1 79.5h.9M171.2 89.5h.9M169.5 66.3h.9M171.1 65.3h.9M168.4 83.3h.9M168.3 85.5h.9M169.4 66.3h.9M166.3 66.2h.9M179.5 86.5h.9M179.2 64.7h.9M178.6 61.8h.9M179.6 43.1h.9M179.9 93.0h.9M181.8 49.8h.9M183.3 84.5h.9M178.0 57.3h.9M183.1 46.1h.9M180.5 58.3h.9M182.1 86.2h.9M179.4 86.8h.9M180.9 47.5h.9M181.7 62.6h.9M177.6 57.9h.9M180.3 77.9h.9M180.9 45.6h.9M181.0 73.3h.9M178.3 64.8h.9M179.0 92.2h.9M179.9 88.9h.9M178.4 52.0h.9M179.7 74.3h.9M181.9 93.2h.9M180.0 92.6h.9M179.8 67.3h.9M180.8 75.9h.9M182.5 87.9h.9M179.2 67.5h.9M179.8 67.3h.9M179.1 50.4h.9M181.7 55.9h.9M180.4 70.4h.9M180.4 81.7h.9M177.7 74.8h.9M181.9 77.5h.9M179.5 61.0h.9M183.1 87.4h.9M180.3 78.8h.9M183.6 52.0h.9M180.1 63.0h.9M179.4 62.6h.9M179.5 51.0h.9M181.3 63.7h.9M182.3 61.3h.9M181.6 80.3h.9M176.8 89.2h.9M181.8 80.0h.9M181.9 91.9h.9M177.6 64.4h.9M179.7 61.8h.9M179.9 59.9h.9M180.1 82.5h.9M180.1 46.5h.9M178.8 87.2h.9M180.9 76.1h.9M181.4 55.0h.9M181.9 75.3h.9M177.2 66.3h.9M182.0 56.9h.9M189.1 61.0h.9M193.6 55.4h.9M188.3 92.4h.9M189.9 46.7h.9M189.3 68.8h.9M192.3 79.2h.9M190.1 45.2h.9M189.8 51.9h.9M190.1 57.7h.9M191.2 48.6h.9M192.1 82.7h.9M190.7 51.0h.9M192.3 46.7h.9M191.6 49.9h.9M189.2 84.2h.9M190.4 69.4h.9M189.0 44.0h.9M190.2 86.1h.9M188.4 48.1h.9M192.1 65.4h.9M189.6 46.4h.9M190.2 92.2h.9M196.6 71.4h.9M187.9 81.4h.9M189.1 51.6h.9M189.4 76.6h.9M188.4 44.7h.9M191.1 58.1h.9M192.2 67.9h.9M191.9 57.7h.9M190.7 57.9h.9M188.7 63.3h.9M190.9 44.5h.9M190.4 93.6h.9M191.6 92.5h.9M189.2 71.1h.9M190.1 65.7h.9M189.8 74.9h.9M188.7 60.7h.9M191.5 77.3h.9M190.8 65.2h.9M191.9 70.4h.9M191.4 80.5h.9M190.7 51.3h.9M185.9 74.9h.9M191.0 81.5h.9M190.9 63.1h.9M186.7 63.5h.9M190.4 67.4h.9M190.1 56.9h.9M188.2 88.2h.9M189.6 69.4h.9M190.2 77.5h.9M189.8 91.9h.9M189.2 69.6h.9M189.3 64.4h.9M190.8 84.7h.9M191.2 69.9h.9M192.3 86.6h.9M190.8 77.1h.9M34.0 124.2h.9M40.0 150.6h.9M40.3 139.7h.9M39.1 119.8h.9M38.8 117.5h.9M34.9 157.7h.9M38.9 152.8h.9M37.3 149.0h.9M36.3 127.2h.9M37.0 154.2h.9M38.3 114.2h.9M34.3 141.0h.9M37.3 111.6h.9M36.7 158.3h.9M38.0 128.3h.9M35.4 133.9h.9M37.8 149.2h.9M37.0 148.3h.9M34.2 144.3h.9M38.4 157.8h.9M38.1 126.1h.9M38.9 137.2h.9M37.7 159.2h.9M33.3 156.1h.9M39.9 149.9h.9M37.3 115.4h.9M36.2 116.1h.9M38.5 158.7h.9M36.9 114.9h.9M38.3 139.2h.9M35.8 144.4h.9M40.5 133.5h.9M37.8 147.3h.9M38.0 143.2h.9M35.9 132.5h.9M37.7 159.0h.9M38.6 153.0h.9M37.9 127.4h.9M36.9 126.3h.9M38.9 151.1h.9M39.1 148.7h.9M38.6 128.9h.9M37.4 143.8h.9M36.3 116.0h.9M36.9 143.2h.9M39.2 135.3h.9M39.3 156.8h.9M38.0 125.0h.9M38.1 122.9h.9M39.5 116.0h.9M39.4 157.7h.9M38.5 151.8h.9M35.2 155.9h.9M36.1 124.9h.9M34.8 160.9h.9M40.2 144.8h.9M36.7 115.4h.9M36.7 128.1h.9M37.8 145.6h.9M39.6 144.2h.9M47.8 121.5h.9M47.8 115.8h.9M45.7 135.5h.9M50.0 153.3h.9M48.3 153.2h.9M49.0 126.2h.9M47.6 145.6h.9M45.9 112.1h.9M45.2 130.6h.9M50.9 125.4h.9M49.7 147.7h.9M47.8 136.4h.9M46.8 125.2h.9M46.8 126.1h.9M48.1 115.2h.9M49.9 116.8h.9M43.5 152.3h.9M47.6 146.3h.9M47.7 137.8h.9M46.8 111.4h.9M47.4 116.7h.9M47.7 117.0h.9M46.9 122.2h.9M49.1 114.6h.9M50.3 163.2h.9M50.2 159.4h.9M48.4 157.5h.9M48.5 111.3h.9M49.0 162.1h.9M49.4 160.0h.9M48.5 149.7h.9M46.8 160.6h.9M50.8 151.3h.9M45.6 152.6h.9M47.3 141.2h.9M46.4 160.2h.9M47.5 134.4h.9M47.6 157.1h.9M47.4 160.5h.9M46.2 151.0h.9M48.1 157.0h.9M49.9 110.9h.9M49.2 155.9h.9M47.2 111.2h.9M47.3 122.1h.9M48.9 145.7h.9M48.4 159.2h.9M45.8 116.6h.9M47.5 152.9h.9M49.2 150.0h.9M50.6 138.9h.9M47.6 150.1h.9M48.5 146.8h.9M46.2 156.2h.9M48.2 112.1h.9M47.1 148.3h.9M48.1 156.0h.9M47.0 151.0h.9M48.2 145.7h.9M48.5 143.8h.9M59.6 122.0h.9M60.6 155.1h.9M58.6 148.0h.9M57.7 139.9h.9M59.3 132.5h.9M57.2 123.0h.9M58.7 159.2h.9M57.0 112.3h.9M58.2 149.2h.9M57.8 161.3h.9M57.2 132.6h.9M59.7 114.0h.9M58.8 153.4h.9M56.6 112.4h.9M58.5 154.2h.9M58.8 111.7h.9M59.3 131.2h.9M58.2 155.8h.9M58.6 150.2h.9M57.2 129.6h.9M58.2 114.3h.9M55.9 135.6h.9M56.6 140.2h.9M58.7 147.5h.9M56.6 154.8h.9M58.9 146.9h.9M58.2 125.0h.9M58.7 161.4h.9M55.8 162.1h.9M59.8 147.9h.9M56.4 137.4h.9M59.7 161.5h.9M56.0 147.1h.9M58.0 144.2h.9M58.8 133.4h.9M59.6 146.9h.9M58.1 130.3h.9M57.0 124.2h.9M59.5 134.6h.9M57.6 162.1h.9M58.5 137.4h.9M55.3 117.3h.9M57.6 131.9h.9M58.4 134.6h.9M54.1 139.0h.9M58.5 119.4h.9M58.9 138.1h.9M59.9 132.4h.9M56.5 146.8h.9M58.0 142.2h.9M59.5 123.9h.9M58.5 141.7h.9M55.7 162.1h.9M58.5 150.2h.9M56.7 116.6h.9M56.8 149.6h.9M58.4 141.7h.9M59.3 124.7h.9M59.1 162.5h.9M56.6 111.7h.9M66.9 141.3h.9M68.4 145.2h.9M65.4 134.1h.9M66.4 130.3h.9M68.2 124.9h.9M66.4 159.8h.9M68.2 139.3h.9M68.7 159.2h.9M69.7 143.2h.9M66.1 137.8h.9M67.9 134.2h.9M69.0 155.1h.9M64.4 153.3h.9M66.8 139.6h.9M66.9 159.0h.9M67.4 155.1h.9M69.5 146.7h.9M70.9 129.8h.9M68.1 147.6h.9M66.7 137.5h.9M66.0 158.1h.9M65.8 136.2h.9M66.5 146.2h.9M69.6 115.6h.9M67.0 145.2h.9M68.1 119.4h.9M67.8 125.5h.9M69.2 140.8h.9M69.5 145.1h.9M66.6 151.2h.9M67.0 145.3h.9M69.1 121.6h.9M68.2 157.6h.9M65.0 114.0h.9M69.0 117.5h.9M67.7 143.5h.9M67.7 143.0h.9M68.9 139.2h.9M66.5 143.5h.9M67.8 152.1h.9M67.8 154.8h.9M66.0 135.7h.9M67.7 114.9h.9M67.6 134.7h.9M67.7 161.8h.9M67.2 126.0h.9M66.6 162.4h.9M68.2 118.7h.9M68.1 129.9h.9M70.1 128.9h.9M70.3 134.2h.9M70.5 141.5h.9M68.3 116.2h.9M71.4 147.8h.9M69.7 127.9h.9M68.8 161.4h.9M65.7 112.1h.9M69.2 123.1h.9M69.5 112.5h.9M68.0 124.4h.9M77.2 130.9h.9M79.6 126.8h.9M76.8 120.3h.9M78.6 138.2h.9M76.7 150.1h.9M77.5 134.7h.9M79.1 116.8h.9M81.6 126.7h.9M77.1 121.8h.9M79.1 156.6h.9M77.8 143.1h.9M80.0 117.5h.9M77.7 139.5h.9M78.7 149.6h.9M80.4 116.6h.9M75.7 135.0h.9M77.7 161.0h.9M77.2 137.0h.9M78.7 131.3h.9M78.0 147.8h.9M79.2 156.4h.9M76.9 151.2h.9M76.5 138.1h.9M79.5 116.5h.9M80.5 158.2h.9M76.7 123.1h.9M78.4 137.2h.9M78.0 126.7h.9M77.0 139.9h.9M78.3 133.7h.9M78.5 125.4h.9M76.3 121.1h.9M78.4 133.2h.9M79.6 137.5h.9M78.7 124.5h.9M74.4 126.3h.9M78.2 144.5h.9M78.3 112.5h.9M76.8 131.0h.9M77.3 163.5h.9M78.2 116.2h.9M78.6 123.4h.9M78.2 129.4h.9M76.1 157.7h.9M78.9 141.1h.9M79.2 139.0h.9M78.6 158.7h.9M77.2 144.3h.9M77.7 121.8h.9M76.6 140.6h.9M78.6 128.2h.9M78.3 127.0h.9M78.3 145.2h.9M80.7 117.7h.9M77.5 114.0h.9M75.6 111.5h.9M76.0 139.9h.9M76.6 137.6h.9M76.8 159.3h.9M79.3 142.5h.9M88.5 157.8h.9M87.0 151.6h.9M87.3 126.6h.9M88.5 162.9h.9M88.2 138.4h.9M88.1 133.4h.9M87.6 158.9h.9M87.9 136.3h.9M89.0 158.0h.9M87.6 139.7h.9M87.1 160.9h.9M88.1 140.6h.9M87.2 135.0h.9M88.2 125.0h.9M87.5 114.6h.9M88.9 130.0h.9M90.6 115.6h.9M88.9 158.9h.9M88.1 139.9h.9M89.5 126.1h.9M88.3 159.8h.9M87.3 112.7h.9M91.2 147.3h.9M89.5 124.6h.9M87.7 137.7h.9M87.5 125.2h.9M86.6 155.8h.9M88.0 124.2h.9M86.9 157.3h.9M87.8 136.2h.9M90.6 132.3h.9M86.1 132.2h.9M90.3 138.9h.9M88.2 152.1h.9M87.2 145.7h.9M87.5 124.5h.9M88.4 149.1h.9M88.7 154.6h.9M88.2 150.9h.9M84.8 116.2h.9M87.2 116.3h.9M91.4 157.5h.9M88.8 121.7h.9M87.8 149.6h.9M88.3 138.8h.9M88.2 120.6h.9M89.6 111.2h.9M87.2 131.7h.9M91.6 158.0h.9M88.7 148.9h.9M91.8 124.6h.9M88.6 145.3h.9M88.7 116.7h.9M86.7 123.6h.9M88.4 130.6h.9M87.8 160.4h.9M87.8 145.3h.9M89.0 129.2h.9M88.9 154.8h.9M87.2 154.7h.9M99.5 134.3h.9M100.3 117.1h.9M99.8 143.2h.9M98.0 113.7h.9M102.4 147.1h.9M97.5 117.5h.9M97.9 135.8h.9M97.4 122.2h.9M100.3 142.8h.9M100.9 150.5h.9M98.6 139.9h.9M97.3 126.7h.9M97.9 152.4h.9M97.5 126.1h.9M98.3 112.6h.9M99.1 122.0h.9M100.2 130.8h.9M98.9 157.7h.9M102.6 115.6h.9M99.8 154.9h.9M98.0 143.2h.9M99.5 129.5h.9M99.4 146.8h.9M98.8 149.0h.9M99.8 151.7h.9M98.7 128.8h.9M97.6 132.5h.9M98.6 159.4h.9M98.7 159.1h.9M100.2 134.7h.9M99.4 129.2h.9M97.1 149.0h.9M97.9 163.9h.9M97.6 115.4h.9M100.0 148.5h.9M96.9 135.8h.9M98.7 146.4h.9M98.3 156.8h.9M96.8 147.7h.9M100.0 137.3h.9M98.9 116.9h.9M97.1 138.5h.9M98.7 135.2h.9M97.9 155.2h.9M101.5 129.3h.9M98.9 129.9h.9M98.1 125.9h.9M97.0 118.8h.9M96.1 163.7h.9M100.1 148.9h.9M98.0 159.4h.9M96.7 119.1h.9M100.4 111.6h.9M100.8 138.5h.9M96.1 143.9h.9M100.5 122.5h.9M100.2 140.0h.9M99.3 135.5h.9M98.3 129.7h.9M98.5 154.9h.9M108.7 120.1h.9M109.8 160.7h.9M109.9 128.1h.9M107.9 130.2h.9M111.2 161.4h.9M106.8 156.3h.9M108.6 160.9h.9M108.3 119.5h.9M108.8 112.5h.9M107.6 145.7h.9M108.8 120.2h.9M111.8 146.2h.9M108.5 125.6h.9M109.1 127.1h.9M109.3 160.5h.9M106.5 119.4h.9M109.2 127.6h.9M110.2 121.5h.9M108.9 139.2h.9M108.7 117.6h.9M108.4 135.2h.9M110.0 160.7h.9M108.8 163.5h.9M107.4 124.1h.9M109.6 151.7h.9M110.7 149.2h.9M106.7 128.3h.9M108.8 161.2h.9M108.7 139.4h.9M106.4 159.6h.9M105.5 134.2h.9M109.5 161.4h.9M108.2 140.5h.9M110.4 139.9h.9M110.4 120.2h.9M106.6 148.3h.9M107.5 116.7h.9M108.7 159.2h.9M111.1 141.1h.9M108.7 114.9h.9M108.4 115.1h.9M110.0 130.6h.9M107.9 114.2h.9M110.0 117.6h.9M110.6 123.0h.9M108.4 134.5h.9M107.8 120.0h.9M110.1 150.3h.9M110.7 161.8h.9M108.1 154.1h.9M107.2 147.5h.9M108.5 130.2h.9M110.3 154.2h.9M109.6 146.6h.9M111.4 113.0h.9M109.5 138.3h.9M109.4 122.9h.9M110.0 143.4h.9M108.2 137.6h.9M106.1 113.7h.9M119.7 117.4h.9M119.2 119.9h.9M118.9 156.0h.9M119.8 129.7h.9M116.6 120.2h.9M119.4 137.3h.9M120.6 160.2h.9M119.5 140.8h.9M118.4 137.4h.9M121.0 137.1h.9M117.6 158.1h.9M117.4 162.8h.9M121.6 147.0h.9M118.5 153.3h.9M119.4 155.6h.9M120.0 133.8h.9M121.4 117.7h.9M119.4 125.1h.9M119.9 154.7h.9M118.6 124.8h.9M119.5 140.6h.9M117.8 147.1h.9M118.9 146.4h.9M118.1 119.4h.9M119.2 118.7h.9M121.5 132.6h.9M120.5 119.9h.9M120.3 129.8h.9M120.6 137.3h.9M118.9 112.2h.9M119.0 143.7h.9M119.7 118.7h.9M119.4 150.1h.9M119.8 145.4h.9M118.8 125.3h.9M120.3 139.8h.9M118.4 118.7h.9M118.8 144.0h.9M118.7 119.9h.9M121.1 115.7h.9M121.6 139.2h.9M120.3 111.5h.9M117.9 122.2h.9M120.6 155.0h.9M120.8 141.2h.9M119.1 120.6h.9M120.8 117.5h.9M118.9 150.9h.9M121.2 155.2h.9M119.5 144.7h.9M119.6 154.9h.9M119.2 155.8h.9M118.7 154.0h.9M122.3 116.2h.9M119.3 127.9h.9M118.9 121.7h.9M119.5 113.0h.9M120.7 162.2h.9M119.6 129.3h.9M121.1 159.6h.9M127.7 151.2h.9M128.7 140.6h.9M128.4 153.3h.9M129.5 144.1h.9M125.2 135.3h.9M130.2 150.2h.9M129.9 144.2h.9M130.4 124.3h.9M133.5 145.0h.9M129.2 149.0h.9M128.9 156.5h.9M131.7 135.1h.9M127.4 123.8h.9M128.4 113.0h.9M130.0 144.6h.9M130.8 156.3h.9M129.2 132.9h.9M130.1 119.2h.9M129.2 147.1h.9M130.9 116.1h.9M130.0 138.4h.9M130.7 119.9h.9M128.3 162.0h.9M127.7 161.5h.9M128.8 138.4h.9M128.8 125.0h.9M129.2 147.5h.9M129.8 145.6h.9M129.1 163.6h.9M130.3 140.1h.9M128.9 160.9h.9M128.3 148.9h.9M128.6 133.9h.9M129.2 111.8h.9M129.9 116.4h.9M131.6 121.5h.9M127.3 119.3h.9M132.3 132.8h.9M128.8 140.6h.9M129.2 114.2h.9M128.7 163.8h.9M130.4 133.9h.9M128.9 126.6h.9M130.5 119.2h.9M128.4 129.4h.9M131.2 122.8h.9M131.7 126.5h.9M129.9 125.0h.9M131.4 140.0h.9M126.3 114.2h.9M130.5 111.4h.9M127.2 125.9h.9M130.1 119.9h.9M127.9 163.2h.9M129.5 147.7h.9M130.1 163.3h.9M129.2 111.6h.9M129.0 122.0h.9M127.5 116.7h.9M126.2 146.3h.9M139.3 158.8h.9M139.1 127.3h.9M137.7 139.6h.9M141.2 144.0h.9M141.3 118.5h.9M140.1 154.6h.9M139.8 145.0h.9M137.4 162.7h.9M140.5 129.8h.9M137.5 111.2h.9M140.0 112.8h.9M139.4 142.3h.9M141.0 121.7h.9M139.4 111.5h.9M140.2 129.2h.9M140.6 124.9h.9M143.3 162.8h.9M135.7 121.0h.9M139.2 135.2h.9M138.7 137.3h.9M138.5 122.2h.9M141.7 153.4h.9M139.6 114.6h.9M137.5 117.0h.9M140.7 123.3h.9M136.1 146.2h.9M139.6 117.8h.9M136.6 121.5h.9M141.4 129.7h.9M140.3 147.8h.9M140.5 125.1h.9M141.2 134.0h.9M136.6 120.7h.9M137.6 152.4h.9M140.3 147.8h.9M139.7 114.9h.9M141.0 122.2h.9M137.0 148.3h.9M137.2 137.0h.9M136.3 130.2h.9M140.2 159.4h.9M138.7 129.9h.9M137.2 151.0h.9M140.9 120.4h.9M137.2 131.9h.9M135.9 140.3h.9M138.2 131.4h.9M137.6 130.9h.9M140.3 128.2h.9M141.2 152.6h.9M141.7 119.1h.9M140.1 157.0h.9M140.0 115.8h.9M138.3 121.8h.9M140.5 153.6h.9M143.2 111.8h.9M141.2 134.8h.9M139.5 140.1h.9M140.9 117.7h.9M137.2 162.3h.9M148.1 118.6h.9M150.0 123.3h.9M150.1 139.6h.9M150.7 124.3h.9M149.6 114.2h.9M150.3 159.2h.9M148.2 117.5h.9M150.2 163.1h.9M152.1 112.8h.9M149.8 125.9h.9M148.1 148.2h.9M149.8 141.0h.9M149.5 126.2h.9M149.1 125.2h.9M148.2 116.3h.9M149.8 117.4h.9M150.1 145.1h.9M149.8 162.1h.9M148.9 143.2h.9M149.1 137.0h.9M149.1 124.6h.9M152.1 126.9h.9M150.6 159.9h.9M149.9 136.1h.9M149.4 124.7h.9M148.0 129.5h.9M148.4 138.1h.9M149.6 111.8h.9M149.1 136.1h.9M150.1 138.9h.9M152.0 158.3h.9M148.1 134.3h.9M148.9 116.9h.9M152.2 130.8h.9M152.0 150.4h.9M150.6 160.1h.9M150.7 147.8h.9M152.1 139.6h.9M147.3 135.8h.9M150.5 161.1h.9M150.8 139.3h.9M149.0 133.5h.9M151.9 131.9h.9M148.0 130.2h.9M148.8 146.1h.9M151.5 143.7h.9M147.6 110.8h.9M149.4 136.1h.9M148.8 154.1h.9M147.5 122.6h.9M152.9 143.7h.9M148.0 154.4h.9M149.9 122.1h.9M150.5 139.1h.9M150.7 160.4h.9M148.8 154.9h.9M150.0 163.9h.9M149.7 137.2h.9M150.1 126.8h.9M146.9 111.3h.9M162.0 131.9h.9M157.4 145.9h.9M163.1 143.2h.9M160.1 162.8h.9M159.3 120.1h.9M158.6 138.0h.9M161.0 139.3h.9M158.5 122.3h.9M160.4 126.8h.9M160.6 135.7h.9M160.9 122.7h.9M159.4 150.1h.9M160.8 126.5h.9M159.4 132.7h.9M160.4 140.0h.9M160.1 123.7h.9M160.1 136.3h.9M162.3 140.7h.9M158.5 159.8h.9M157.9 162.4h.9M161.6 111.8h.9M161.3 116.9h.9M159.8 118.7h.9M160.6 123.0h.9M160.8 137.3h.9M157.5 139.9h.9M159.8 114.6h.9M157.9 135.1h.9M160.3 162.8h.9M161.3 121.0h.9M159.0 145.8h.9M161.5 126.9h.9M158.5 160.2h.9M160.8 113.2h.9M161.2 159.5h.9M158.7 131.4h.9M159.6 122.4h.9M159.6 145.2h.9M159.0 163.1h.9M161.3 140.5h.9M158.9 124.0h.9M158.2 163.2h.9M159.6 133.2h.9M160.0 132.7h.9M160.2 114.4h.9M161.2 160.8h.9M158.7 139.8h.9M159.7 142.1h.9M157.9 134.9h.9M161.5 159.9h.9M160.0 119.2h.9M157.7 148.2h.9M162.4 112.8h.9M159.5 125.7h.9M161.9 157.9h.9M159.8 147.2h.9M158.9 149.6h.9M158.3 139.7h.9M160.1 135.7h.9M159.0 144.2h.9M171.6 159.5h.9M170.8 115.2h.9M169.8 158.1h.9M167.8 162.2h.9M168.8 135.9h.9M168.6 134.0h.9M169.0 153.2h.9M169.2 139.7h.9M168.5 148.4h.9M170.7 155.2h.9M170.9 123.6h.9M168.0 110.5h.9M170.4 137.6h.9M170.4 114.6h.9M167.7 134.1h.9M170.4 157.2h.9M169.0 124.7h.9M171.2 117.5h.9M169.4 118.4h.9M169.7 126.0h.9M169.5 122.1h.9M166.2 123.4h.9M171.8 153.1h.9M169.7 164.0h.9M169.4 163.0h.9M169.1 158.2h.9M173.7 145.2h.9M170.1 122.9h.9M168.8 152.0h.9M170.2 131.9h.9M172.5 128.2h.9M171.5 119.8h.9M169.8 142.9h.9M169.3 134.3h.9M172.5 147.6h.9M172.4 113.5h.9M171.6 154.5h.9M168.8 151.8h.9M170.6 119.7h.9M171.1 153.9h.9M171.7 146.1h.9M169.4 162.7h.9M168.5 125.5h.9M169.8 163.3h.9M170.7 156.0h.9M170.6 111.9h.9M170.6 123.2h.9M171.6 131.1h.9M172.1 114.5h.9M170.3 126.0h.9M171.7 122.1h.9M171.3 140.2h.9M171.8 128.8h.9M170.4 159.1h.9M170.4 157.0h.9M171.1 113.8h.9M168.4 126.1h.9M170.1 119.5h.9M169.7 111.0h.9M170.0 125.8h.9M179.4 148.5h.9M180.9 132.7h.9M178.7 148.5h.9M179.0 160.4h.9M178.2 140.3h.9M179.4 114.6h.9M181.1 112.6h.9M178.7 150.2h.9M176.8 132.8h.9M180.2 135.7h.9M182.7 151.7h.9M178.2 134.3h.9M178.1 158.5h.9M181.1 135.0h.9M179.7 140.0h.9M178.5 121.9h.9M180.0 163.1h.9M181.2 111.9h.9M180.4 154.1h.9M181.1 146.4h.9M180.0 146.5h.9M180.8 150.4h.9M178.8 142.5h.9M178.5 112.1h.9M181.0 119.5h.9M177.5 131.0h.9M184.0 154.2h.9M179.8 155.6h.9M181.8 154.5h.9M182.6 121.2h.9M182.4 159.5h.9M178.8 158.5h.9M180.9 153.6h.9M180.7 119.8h.9M178.8 154.9h.9M182.2 131.9h.9M178.3 163.8h.9M181.3 144.1h.9M179.6 120.5h.9M181.0 143.2h.9M180.0 150.3h.9M179.2 142.8h.9M178.7 132.5h.9M179.4 111.3h.9M178.2 158.0h.9M179.7 162.5h.9M179.7 156.5h.9M179.5 132.7h.9M183.5 115.3h.9M179.4 113.3h.9M182.2 136.8h.9M180.8 143.9h.9M179.3 115.6h.9M181.9 121.5h.9M180.1 116.6h.9M179.2 145.2h.9M183.5 157.7h.9M179.8 148.7h.9M181.0 141.6h.9M180.2 139.0h.9M190.6 144.0h.9M190.1 114.3h.9M190.4 136.5h.9M189.8 151.8h.9M192.9 152.3h.9M190.1 126.5h.9M189.3 137.0h.9M189.0 142.4h.9M189.1 151.3h.9M190.8 145.1h.9M193.5 153.3h.9M189.9 116.4h.9M188.7 152.8h.9M190.3 159.2h.9M190.4 157.0h.9M190.6 162.7h.9M189.4 131.1h.9M192.0 131.0h.9M189.0 158.7h.9M188.7 130.0h.9M188.8 163.3h.9M190.4 138.2h.9M193.6 112.0h.9M188.6 151.8h.9M191.6 144.2h.9M191.4 114.7h.9M188.5 129.1h.9M189.4 139.3h.9M189.7 124.1h.9M190.9 160.9h.9M189.2 153.6h.9M189.1 155.3h.9M190.4 139.4h.9M189.0 127.7h.9M193.3 114.8h.9M191.6 130.4h.9M191.1 159.3h.9M189.4 111.6h.9M191.3 144.5h.9M191.6 152.9h.9M192.4 120.4h.9M188.8 163.6h.9M191.9 129.2h.9M190.8 111.8h.9M191.7 162.4h.9M194.6 128.9h.9M192.7 112.3h.9M190.4 142.7h.9M190.7 148.9h.9M191.5 121.6h.9M190.3 127.7h.9M190.5 126.7h.9M190.9 132.3h.9M190.8 114.9h.9M191.4 130.2h.9M190.0 113.9h.9M190.7 114.6h.9M189.5 130.3h.9M193.0 135.5h.9M188.7 141.6h.9" stroke="#ff0000" stroke-opacity="0.65" stroke-width="0.9"/>
<path d="M60.0 93.0h.9M60.3 69.5h.9M106.6 51.3h.9M74.4 52.4h.9M57.9 44.7h.9M137.5 77.9h.9M71.9 93.0h.9M100.5 66.7h.9M184.4 77.0h.9M107.6 82.2h.9M153.3 58.9h.9M41.6 81.4h.9M154.5 74.4h.9M49.5 82.0h.9M59.2 84.9h.9M133.5 76.3h.9M42.5 61.9h.9M152.0 48.4h.9M36.4 64.4h.9M172.0 75.9h.9M68.3 46.8h.9M169.3 87.2h.9M146.7 53.5h.9M155.0 43.0h.9M58.7 59.5h.9M189.3 44.4h.9M56.8 81.5h.9M156.9 56.7h.9M42.7 87.8h.9M191.6 90.7h.9M124.2 47.0h.9M153.2 77.0h.9M168.4 82.8h.9M113.7 94.4h.9M106.9 66.2h.9M136.1 84.4h.9M127.8 92.5h.9M75.2 90.1h.9M176.2 60.9h.9M34.8 74.4h.9M133.2 93.5h.9M122.9 80.9h.9M156.5 51.4h.9M141.0 65.8h.9M66.0 57.1h.9M90.4 81.5h.9M121.9 59.5h.9M39.2 84.3h.9M155.5 86.9h.9M160.9 45.9h.9M76.8 67.1h.9M79.5 86.2h.9M64.1 43.3h.9M105.1 45.2h.9M34.8 74.7h.9M130.6 71.3h.9M41.7 72.3h.9M117.1 58.7h.9M67.1 50.8h.9M110.4 62.0h.9M127.5 78.3h.9M76.0 74.7h.9M73.0 82.1h.9M64.0 74.1h.9M152.6 84.9h.9M118.4 90.9h.9M194.2 84.6h.9M89.7 56.7h.9M134.3 49.3h.9M59.5 47.5h.9M138.4 63.1h.9M183.4 85.3h.9M118.5 60.6h.9M83.4 45.3h.9M48.5 88.8h.9M79.6 42.9h.9M193.2 62.7h.9M159.0 66.6h.9M191.2 46.8h.9M108.8 76.9h.9M34.1 91.2h.9M86.3 78.5h.9M43.1 46.7h.9M44.4 84.4h.9M186.9 91.1h.9M118.4 47.3h.9M159.4 69.4h.9M160.3 76.2h.9M124.3 51.6h.9M53.8 46.8h.9M102.0 57.8h.9M188.9 45.1h.9M156.4 48.9h.9M47.2 91.5h.9M66.6 74.1h.9M127.4 63.7h.9M88.3 50.0h.9M145.8 62.2h.9M130.0 86.0h.9M42.6 65.0h.9M88.8 92.0h.9M133.4 53.0h.9M106.3 43.3h.9M115.6 46.2h.9M53.0 69.5h.9M119.6 53.8h.9M127.1 59.0h.9M147.0 45.3h.9M170.1 66.3h.9M58.8 57.9h.9M134.5 47.5h.9M181.9 54.2h.9M98.4 46.4h.9M106.0 93.6h.9M61.1 52.0h.9M121.1 76.5h.9M53.8 54.1h.9M130.6 55.2h.9M34.6 79.4h.9M174.6 85.3h.9M172.4 53.8h.9M81.6 74.4h.9M132.5 75.7h.9M122.1 54.9h.9M69.7 47.0h.9M39.6 73.4h.9M44.4 89.0h.9M189.7 50.3h.9M190.8 75.6h.9M31.0 62.9h.9M90.1 58.9h.9M41.2 55.4h.9M32.9 66.3h.9M110.2 54.8h.9M183.9 89.5h.9M113.2 85.1h.9M88.8 82.5h.9M159.5 61.2h.9M153.3 61.2h.9M58.8 64.8h.9M48.9 80.6h.9M71.9 68.9h.9M164.7 74.3h.9M181.3 81.0h.9M145.3 81.8h.9M145.0 91.3h.9M129.0 77.6h.9M121.6 70.9h.9M186.7 58.4h.9M61.7 69.1h.9M81.9 80.4h.9M135.9 42.6h.9M64.8 75.4h.9M96.0 78.6h.9M108.2 48.4h.9M144.8 94.2h.9M45.3 75.2h.9M132.1 75.0h.9M114.1 69.4h.9M194.7 88.8h.9M102.4 85.7h.9M141.1 85.3h.9M196.2 46.3h.9M65.3 54.8h.9M166.3 91.6h.9M67.7 68.3h.9M178.1 80.9h.9M127.7 89.9h.9M183.8 47.3h.9M190.8 58.0h.9M132.3 82.5h.9M78.9 58.8h.9M180.7 84.5h.9M192.6 47.5h.9M134.3 81.8h.9M189.2 81.0h.9M76.6 47.9h.9M58.8 56.3h.9M125.0 59.6h.9M54.7 47.1h.9M144.1 85.8h.9M50.6 69.8h.9M193.2 61.7h.9M119.0 85.6h.9M33.9 88.9h.9M158.9 81.6h.9M87.1 68.6h.9M186.6 45.8h.9M43.7 76.5h.9M188.6 50.4h.9M61.4 66.9h.9M161.4 72.4h.9M139.9 45.3h.9M63.2 73.6h.9M150.6 47.3h.9M45.1 59.2h.9M99.0 60.2h.9M58.3 46.4h.9M137.5 93.1h.9M135.6 91.3h.9M51.1 75.2h.9M90.8 87.5h.9M129.7 75.1h.9M182.3 93.2h.9M52.9 65.7h.9M44.2 72.3h.9M67.3 79.6h.9M89.2 42.9h.9M177.9 49.2h.9M74.7 70.1h.9M39.5 83.5h.9M149.3 48.7h.9M133.4 49.3h.9M118.3 47.5h.9M76.9 66.4h.9M120.7 77.2h.9M184.3 60.3h.9M88.3 53.6h.9M152.8 62.0h.9M65.3 52.7h.9M100.0 86.9h.9M102.9 85.7h.9M108.5 73.4h.9M72.5 64.2h.9M150.6 47.0h.9M105.6 55.9h.9M78.4 60.5h.9M63.0 73.1h.9M36.7 55.1h.9M73.9 52.1h.9M168.9 78.9h.9M177.8 49.6h.9M61.3 59.1h.9M114.7 86.8h.9M169.0 88.2h.9M32.9 44.0h.9M86.1 65.3h.9M31.0 61.1h.9M51.3 88.9h.9M65.0 59.4h.9M59.1 87.5h.9M48.7 65.8h.9M66.7 55.6h.9M195.6 80.4h.9M152.6 61.4h.9M192.7 93.8h.9M135.8 54.6h.9M38.1 71.4h.9M111.0 88.3h.9M196.2 85.9h.9M70.3 94.8h.9M132.0 44.5h.9M64.6 93.4h.9M162.5 81.8h.9M140.2 43.7h.9M186.0 58.3h.9M158.5 71.1h.9M111.3 70.4h.9M182.9 86.8h.9M95.7 87.8h.9M59.2 61.0h.9M83.4 45.0h.9M96.8 42.6h.9M191.3 85.9h.9M109.8 45.8h.9M73.8 83.5h.9M78.9 47.5h.9M101.1 73.2h.9M51.1 62.5h.9M122.7 82.0h.9M42.2 158.8h.9M155.6 123.7h.9M169.9 119.1h.9M110.4 125.8h.9M124.5 123.9h.9M120.5 124.2h.9M32.6 116.6h.9M161.3 134.4h.9M115.3 145.8h.9M72.5 120.6h.9M97.9 150.7h.9M151.9 135.1h.9M131.1 124.1h.9M187.9 144.7h.9M163.8 130.3h.9M126.4 148.5h.9M118.6 151.2h.9M75.3 152.5h.9M83.0 138.1h.9M53.9 132.1h.9M177.6 112.1h.9M61.3 139.5h.9M139.5 147.3h.9M144.3 149.0h.9M130.3 118.7h.9M120.6 125.5h.9M30.9 137.6h.9M192.3 135.5h.9M156.6 143.8h.9M36.2 139.9h.9M194.6 145.5h.9M79.5 158.9h.9M141.4 160.4h.9M171.3 141.7h.9M107.9 138.9h.9M83.2 156.2h.9M51.2 163.4h.9M86.5 134.0h.9M131.4 127.1h.9M131.2 113.4h.9M174.8 116.1h.9M175.4 156.4h.9M161.0 150.7h.9M61.1 140.9h.9M40.3 150.4h.9M161.2 121.8h.9M103.7 115.4h.9M141.1 147.8h.9M40.0 143.3h.9M176.3 120.0h.9M181.1 125.1h.9M32.7 115.0h.9M156.0 120.8h.9M173.1 133.8h.9M43.8 154.2h.9M84.6 117.5h.9M30.6 126.7h.9M106.9 137.0h.9M127.0 114.8h.9M30.5 158.0h.9M100.8 149.2h.9M179.0 142.3h.9M153.4 122.3h.9M65.3 138.0h.9M194.2 162.5h.9M68.6 144.4h.9M78.3 129.7h.9M76.9 163.8h.9M93.9 135.3h.9M44.4 155.9h.9M44.2 154.8h.9M69.9 123.1h.9M37.0 129.4h.9M189.1 129.8h.9M85.3 150.3h.9M68.3 151.0h.9M190.9 156.3h.9M36.7 152.3h.9M161.4 153.0h.9M126.3 116.2h.9M142.7 141.6h.9M110.9 151.5h.9M60.4 130.6h.9M135.2 158.5h.9M194.9 157.9h.9M73.7 133.1h.9M117.4 135.1h.9M43.2 130.1h.9M185.0 130.6h.9M176.4 158.2h.9M115.6 159.5h.9M192.6 111.0h.9M128.3 161.5h.9M81.6 129.9h.9M55.3 157.7h.9M123.8 142.2h.9M129.4 158.5h.9M116.1 139.9h.9M104.5 128.5h.9M191.4 145.1h.9M112.3 115.3h.9M136.4 112.9h.9M108.5 121.8h.9M95.2 122.3h.9M67.4 133.9h.9M50.0 124.0h.9M149.8 115.9h.9M170.9 132.5h.9M65.3 151.8h.9M92.7 130.2h.9M30.2 120.0h.9M186.1 136.9h.9M102.4 142.0h.9M44.9 118.6h.9M173.6 144.3h.9M83.1 156.6h.9M78.5 134.4h.9M160.7 156.1h.9M76.7 163.0h.9M65.0 124.7h.9M115.6 140.6h.9M119.9 135.5h.9M159.8 124.0h.9M102.4 146.7h.9M178.3 124.1h.9M89.1 135.6h.9M74.6 137.9h.9M186.5 123.0h.9M168.4 158.1h.9M111.4 129.3h.9M49.6 139.9h.9M170.6 130.9h.9M72.4 154.8h.9M56.2 140.6h.9M157.6 137.8h.9M78.8 142.5h.9M86.0 146.3h.9M162.5 153.4h.9M158.8 117.1h.9M74.9 146.2h.9M135.9 158.3h.9M103.3 113.7h.9M42.3 113.1h.9M119.6 127.8h.9M36.2 159.1h.9M40.8 129.1h.9M159.0 147.1h.9M66.4 162.0h.9M104.5 154.5h.9M100.3 145.1h.9M189.2 113.7h.9M124.5 142.1h.9M191.1 142.7h.9M73.6 117.9h.9M122.2 119.3h.9M88.4 161.8h.9M60.4 121.5h.9M141.5 137.4h.9M181.2 128.0h.9M156.3 132.7h.9M195.5 159.7h.9M62.3 130.4h.9M108.9 135.7h.9M128.5 147.5h.9M54.9 145.2h.9M167.1 132.5h.9M74.9 124.0h.9M131.1 116.9h.9M65.2 126.6h.9M144.7 150.2h.9M120.5 118.4h.9M88.9 113.7h.9M195.9 135.1h.9M169.5 123.7h.9M76.0 118.2h.9M94.6 147.2h.9M121.9 127.8h.9M51.4 125.1h.9M158.1 120.0h.9M195.1 155.3h.9M58.2 110.7h.9M167.3 112.8h.9M141.5 137.4h.9M98.6 141.6h.9M32.9 150.6h.9M170.0 112.5h.9M76.9 155.4h.9M62.7 118.2h.9M164.0 163.5h.9M194.5 120.9h.9M52.0 111.1h.9M49.7 128.1h.9M189.9 150.9h.9M60.1 131.7h.9M121.4 118.9h.9M39.6 120.7h.9M79.9 112.5h.9M192.3 162.6h.9M108.6 133.7h.9M122.2 155.1h.9M98.4 159.7h.9M189.3 125.3h.9M126.3 161.6h.9M80.6 163.6h.9M113.4 146.4h.9M45.9 131.6h.9M139.3 121.5h.9M191.6 131.7h.9M124.4 152.1h.9M82.1 148.0h.9M152.0 152.0h.9M82.9 128.6h.9M127.1 134.4h.9M108.7 140.8h.9M156.3 118.2h.9M65.3 117.3h.9M116.3 121.5h.9M184.9 121.5h.9M104.5 151.6h.9M77.1 114.8h.9M68.5 148.2h.9M88.2 161.1h.9M55.9 126.7h.9M112.3 128.4h.9M79.2 116.0h.9M114.2 150.6h.9M91.5 163.2h.9M133.6 129.9h.9M90.9 125.4h.9M45.8 135.8h.9M119.0 153.1h.9M43.0 112.1h.9M181.1 129.8h.9M150.7 157.4h.9M76.7 120.0h.9M159.9 126.7h.9M113.6 110.6h.9M127.0 134.1h.9M64.9 120.8h.9M184.3 158.6h.9M81.7 127.5h.9M86.5 129.0h.9M93.8 161.9h.9M32.8 129.9h.9M121.3 143.2h.9M85.5 149.1h.9M101.3 118.5h.9M181.7 121.6h.9M147.3 160.2h.9M58.2 151.0h.9M159.6 129.0h.9M182.6 117.9h.9M116.4 162.9h.9M117.4 157.4h.9M96.9 145.2h.9M110.9 148.5h.9M152.3 148.9h.9M156.5 121.9h.9M138.7 153.0h.9M154.2 120.0h.9M121.5 111.3h.9M191.7 145.2h.9M70.9 142.7h.9M82.1 140.3h.9M161.0 156.4h.9M193.5 145.8h.9M119.6 138.1h.9M55.2 112.3h.9M178.0 162.6h.9M168.1 120.6h.9M134.2 121.0h.9M83.7 152.8h.9" stroke="#ff0000" stroke-opacity="0.45" stroke-width="0.9"/>
<rect x="29.5" y="28.5" width="168" height="136" fill="none" stroke="#808080" stroke-width="1"/>
<rect x="255.3" y="28.8" width="167.4" height="14.03" fill="#0404f8"/>
<rect x="255.3" y="96.55" width="167.4" height="14.43" fill="#0404f8"/>
<path d="M373.7 38.4h.9M314.0 39.0h.9M299.4 31.4h.9M279.0 31.7h.9M267.6 33.2h.9M372.7 30.5h.9M283.2 40.8h.9M326.4 34.8h.9M300.6 34.8h.9M407.8 30.0h.9M327.0 37.2h.9M265.9 41.0h.9M417.9 41.0h.9M289.7 36.6h.9M398.4 39.1h.9M268.7 38.0h.9M409.6 41.2h.9M410.2 39.6h.9M359.7 31.2h.9M407.5 39.7h.9M335.9 36.3h.9M266.0 31.4h.9M279.6 40.7h.9M301.2 34.9h.9M360.6 34.4h.9M376.2 33.9h.9M316.2 32.8h.9M410.0 41.1h.9M365.0 41.3h.9M278.7 29.7h.9M256.5 30.8h.9M325.6 37.6h.9M266.5 34.8h.9M386.4 37.4h.9M297.9 41.0h.9M325.5 41.3h.9M398.0 40.0h.9M361.6 32.6h.9M386.4 39.7h.9M372.7 36.6h.9M349.1 32.1h.9M302.9 39.1h.9M374.0 30.9h.9M408.8 36.6h.9M336.7 34.8h.9M336.4 32.5h.9M287.8 35.1h.9M271.2 40.8h.9M397.9 33.5h.9M272.1 37.4h.9M363.6 38.5h.9M407.3 40.6h.9M409.0 33.8h.9M327.4 41.2h.9M326.1 39.5h.9M386.1 40.3h.9M421.3 34.6h.9M317.6 37.1h.9M371.1 31.1h.9M407.2 39.0h.9M395.1 35.7h.9M291.8 33.7h.9M393.3 33.3h.9M420.7 41.8h.9M408.0 37.1h.9M362.7 39.3h.9M315.8 34.0h.9M268.3 38.4h.9M332.5 39.1h.9M314.8 35.6h.9M353.5 35.0h.9M256.2 33.7h.9M409.4 39.0h.9M335.4 30.5h.9M360.4 39.2h.9M361.9 34.0h.9M405.5 34.4h.9M282.2 34.9h.9M385.3 34.8h.9M338.2 33.7h.9M302.4 37.4h.9M302.3 32.2h.9M351.2 30.9h.9M361.3 30.1h.9M289.1 38.6h.9M279.8 41.3h.9M281.5 39.5h.9M382.5 35.6h.9M316.3 34.0h.9M301.9 32.6h.9M325.4 35.4h.9M314.0 37.2h.9M315.7 31.9h.9M396.5 30.2h.9M398.4 32.1h.9M310.1 33.5h.9M336.8 36.6h.9M372.0 36.0h.9M408.4 40.6h.9M313.4 37.6h.9M418.7 32.8h.9M313.2 34.1h.9M372.0 31.9h.9M407.8 36.1h.9M290.5 34.4h.9M409.7 32.3h.9M257.9 37.3h.9M304.9 41.2h.9M301.9 31.2h.9M325.5 39.7h.9M281.3 39.6h.9M314.9 30.5h.9M315.9 32.8h.9M302.6 38.7h.9M339.6 37.7h.9M332.8 39.1h.9M300.4 35.7h.9M291.3 41.2h.9M326.3 41.1h.9M385.3 37.2h.9M350.6 37.0h.9M396.9 32.1h.9M340.7 30.6h.9M382.4 38.0h.9M298.5 35.4h.9M373.6 39.6h.9M372.7 29.6h.9M373.9 37.0h.9M277.6 42.0h.9M326.9 29.5h.9M409.5 31.9h.9M370.5 40.1h.9M350.0 29.8h.9M315.1 40.5h.9M300.8 36.7h.9M266.3 36.2h.9M337.9 31.4h.9M258.7 36.3h.9M385.6 32.2h.9M389.8 39.0h.9M300.5 34.5h.9M390.8 32.4h.9M280.2 35.1h.9M419.2 40.7h.9M393.5 30.6h.9M346.7 32.5h.9M257.3 41.7h.9M397.7 39.9h.9M406.2 40.6h.9M312.2 35.7h.9M302.8 40.6h.9M337.2 36.0h.9M327.5 38.6h.9M312.0 32.4h.9M303.3 37.5h.9M397.9 38.3h.9M375.6 30.2h.9M387.9 41.4h.9M409.8 40.7h.9M269.9 40.9h.9M383.0 32.1h.9M276.2 37.4h.9M357.9 33.7h.9M385.8 35.7h.9M395.2 32.0h.9M345.1 32.2h.9M299.8 38.4h.9M304.5 35.8h.9M333.1 38.4h.9M267.3 31.9h.9M267.6 40.6h.9M296.0 37.8h.9M408.1 39.5h.9M302.6 36.2h.9M379.4 39.6h.9M336.3 34.7h.9M396.9 38.5h.9M375.8 35.3h.9M302.5 35.2h.9M375.1 30.7h.9M374.9 32.6h.9M268.4 31.5h.9M311.5 34.6h.9M369.3 40.2h.9M358.9 36.2h.9M304.7 40.6h.9M290.8 31.8h.9M395.2 40.5h.9M361.6 34.0h.9M335.5 30.7h.9M288.3 42.0h.9M314.6 30.4h.9M339.1 30.3h.9M361.2 33.7h.9M419.6 31.7h.9M388.1 32.6h.9M374.0 32.5h.9M383.2 37.6h.9M278.8 33.9h.9M268.7 35.1h.9M363.0 32.1h.9M395.7 32.1h.9M409.5 29.7h.9M290.3 34.3h.9M290.1 33.2h.9M317.0 30.9h.9M371.1 32.4h.9M291.1 35.0h.9M313.4 40.9h.9M336.0 37.1h.9M408.4 35.0h.9M326.9 40.6h.9M337.4 39.5h.9M338.9 35.4h.9M323.8 33.9h.9M315.9 33.9h.9M268.0 42.1h.9M267.3 33.5h.9M303.0 38.9h.9M256.5 35.5h.9M371.7 34.2h.9M326.2 38.9h.9M337.7 37.1h.9M397.7 33.8h.9M327.9 29.9h.9M371.3 32.4h.9M293.7 38.0h.9M373.2 32.0h.9M416.5 30.7h.9M339.3 31.4h.9M392.1 37.0h.9M277.5 39.0h.9M341.0 30.8h.9M343.9 32.3h.9M406.2 41.7h.9M407.3 34.0h.9M361.7 38.4h.9M292.3 30.5h.9M278.1 40.3h.9M295.8 42.1h.9M382.9 33.0h.9M288.5 31.7h.9M258.5 39.9h.9M278.0 40.9h.9M418.5 30.1h.9M290.9 37.4h.9M380.8 41.3h.9M417.2 40.4h.9M336.0 29.5h.9M265.2 33.8h.9M267.3 30.2h.9M326.3 30.5h.9M284.3 32.3h.9M394.7 35.1h.9M291.7 40.5h.9M326.8 36.8h.9M336.9 38.5h.9M278.9 30.0h.9M280.8 40.5h.9M396.6 30.0h.9M316.8 29.7h.9M311.9 31.9h.9M303.0 34.3h.9M383.0 40.9h.9M392.2 37.7h.9M303.1 41.7h.9M359.0 35.8h.9M312.3 33.4h.9M257.2 33.2h.9M419.6 33.8h.9M406.4 30.7h.9M407.5 40.2h.9M385.5 38.2h.9M273.5 32.0h.9M304.1 31.2h.9M264.6 30.7h.9M271.6 33.4h.9M282.0 36.9h.9M302.5 34.9h.9M256.2 37.3h.9M384.8 34.3h.9M372.2 40.7h.9M383.4 40.5h.9M419.2 33.9h.9M319.3 31.9h.9M384.8 40.0h.9M415.0 41.8h.9M278.0 35.9h.9M314.4 32.2h.9M417.6 35.7h.9M385.8 33.4h.9M339.1 38.9h.9M406.2 31.0h.9M338.8 30.8h.9M281.2 40.8h.9M267.6 35.2h.9M385.7 29.7h.9M257.6 37.6h.9M350.0 32.7h.9M362.1 31.0h.9M303.8 31.6h.9M261.6 40.6h.9M419.1 42.1h.9M354.7 42.1h.9M317.3 35.5h.9M419.6 34.3h.9M400.1 38.4h.9M350.6 41.3h.9M313.3 36.2h.9M323.0 33.4h.9M394.7 36.8h.9M277.4 39.9h.9M417.7 33.6h.9M419.2 32.5h.9M396.7 31.0h.9M383.3 40.1h.9M373.5 31.8h.9M277.2 35.1h.9M269.8 40.9h.9M268.2 39.0h.9M340.5 34.9h.9M395.5 34.8h.9M294.9 37.0h.9M407.8 30.1h.9M316.6 36.4h.9M416.6 34.7h.9M338.2 37.0h.9M326.4 41.9h.9M395.1 31.6h.9M405.6 31.6h.9M314.9 33.9h.9M407.6 42.2h.9M258.5 33.7h.9M419.3 30.0h.9M333.9 40.2h.9M351.1 41.1h.9M393.9 36.4h.9M322.1 40.3h.9M384.8 39.5h.9M313.4 32.7h.9M317.5 38.4h.9M292.8 36.4h.9M314.5 35.0h.9M265.9 30.4h.9M288.3 34.7h.9M280.0 36.9h.9M302.0 38.4h.9M290.2 40.5h.9M279.1 35.8h.9M338.7 29.8h.9M419.2 41.9h.9M334.9 32.2h.9M419.4 40.6h.9M407.8 34.0h.9M316.1 41.1h.9M356.5 41.0h.9M257.0 33.4h.9M378.0 32.0h.9M256.2 29.5h.9M291.0 35.2h.9M417.4 34.8h.9M265.6 38.6h.9M373.2 40.5h.9M304.1 41.9h.9M421.2 34.8h.9M384.1 41.9h.9M316.0 30.7h.9M327.4 34.2h.9M395.7 29.9h.9M278.3 35.0h.9M265.8 30.3h.9M258.8 32.5h.9M348.2 41.0h.9M270.6 33.5h.9M418.6 30.1h.9M384.8 39.1h.9M419.1 35.9h.9M337.8 34.8h.9M304.4 31.1h.9M362.4 41.7h.9M325.5 41.7h.9M313.6 31.1h.9M299.5 39.9h.9M415.6 30.4h.9M279.6 41.6h.9M295.7 34.1h.9M396.2 36.0h.9M382.3 42.1h.9M279.6 39.4h.9M280.7 34.3h.9M418.7 33.0h.9M328.6 40.2h.9M407.8 39.6h.9M316.2 41.8h.9M270.4 31.1h.9M268.0 33.8h.9M304.6 29.9h.9M400.2 31.9h.9M353.7 41.9h.9M354.8 100.6h.9M352.3 109.3h.9M354.6 97.7h.9M273.7 109.5h.9M317.7 102.7h.9M353.0 107.3h.9M402.1 106.0h.9M356.0 102.5h.9M356.8 105.1h.9M378.8 98.1h.9M412.5 101.7h.9M402.3 97.4h.9M263.2 108.2h.9M317.8 102.1h.9M401.4 109.8h.9M274.1 108.4h.9M297.3 105.9h.9M354.0 104.0h.9M377.1 101.7h.9M344.3 103.3h.9M387.3 107.6h.9M346.2 106.4h.9M390.5 100.6h.9M414.6 104.1h.9M357.7 106.5h.9M333.9 102.6h.9M353.8 98.6h.9M365.7 98.9h.9M375.8 100.1h.9M262.1 100.5h.9M309.0 98.4h.9M366.5 101.8h.9M379.7 100.1h.9M297.6 105.6h.9M355.8 107.4h.9M323.5 104.9h.9M354.3 97.2h.9M388.7 103.6h.9M354.6 101.5h.9M322.1 109.9h.9M331.6 103.2h.9M366.7 107.6h.9M279.4 108.0h.9M273.7 107.2h.9M343.7 100.8h.9M403.1 99.2h.9M269.8 101.8h.9M364.4 107.6h.9M341.8 106.5h.9M403.9 103.1h.9M320.2 105.4h.9M358.0 97.3h.9M353.0 97.5h.9M329.2 101.3h.9M274.5 103.6h.9M309.5 105.5h.9M275.5 110.4h.9M415.9 97.4h.9M281.3 107.0h.9M374.7 108.7h.9M421.3 110.0h.9M264.9 103.4h.9M355.9 100.0h.9M292.7 108.1h.9M414.0 98.5h.9M376.3 104.0h.9M412.7 97.8h.9M414.6 105.2h.9M297.7 101.3h.9M410.7 107.8h.9M403.2 98.8h.9M274.7 102.1h.9M401.6 110.1h.9M258.8 102.4h.9M319.7 97.7h.9M284.2 100.1h.9M356.8 99.8h.9M338.5 107.4h.9M388.2 97.6h.9M354.1 106.8h.9M285.6 100.9h.9M392.3 102.0h.9M355.7 106.1h.9M359.3 98.1h.9M364.5 97.3h.9M377.1 109.1h.9M304.6 98.9h.9M330.2 109.7h.9M331.9 102.6h.9M367.1 99.9h.9M318.2 106.3h.9M314.0 101.9h.9M354.1 97.9h.9M366.0 101.4h.9M285.1 103.1h.9M329.8 101.8h.9M399.9 100.4h.9M298.7 101.5h.9M330.6 104.6h.9M390.0 98.5h.9M320.7 97.6h.9M259.1 99.7h.9M388.7 102.1h.9M266.2 100.7h.9M343.5 98.6h.9M318.2 98.5h.9M287.5 105.0h.9M390.0 97.4h.9M368.8 109.7h.9M282.7 106.1h.9M351.8 101.4h.9M288.3 108.8h.9M271.6 102.4h.9M343.0 106.9h.9M367.4 101.2h.9M384.0 109.2h.9M411.4 105.8h.9M379.7 108.9h.9M413.2 106.2h.9M287.1 98.6h.9M351.9 107.4h.9M413.5 97.7h.9M381.0 106.8h.9M356.7 99.9h.9M380.7 108.0h.9M388.6 104.8h.9M318.1 105.5h.9M354.2 106.3h.9M375.6 106.8h.9M410.2 104.9h.9M321.3 108.1h.9M284.6 99.9h.9M343.4 100.2h.9M390.0 106.7h.9M358.9 109.7h.9M364.7 102.5h.9M378.1 109.6h.9M399.8 101.7h.9M272.3 105.2h.9M342.8 101.7h.9M315.2 109.3h.9M275.7 97.3h.9M414.2 108.1h.9M328.3 105.9h.9M368.7 97.3h.9M401.9 108.8h.9M341.7 99.1h.9M270.8 98.1h.9M289.0 99.0h.9M381.3 101.5h.9M377.8 106.6h.9M260.1 106.4h.9M258.9 100.2h.9M301.5 104.4h.9M378.9 104.9h.9M282.2 98.8h.9M318.8 101.8h.9M332.2 101.2h.9M319.5 97.4h.9M369.6 108.3h.9M334.1 104.1h.9M402.8 99.7h.9M413.5 109.9h.9M283.1 102.4h.9M331.7 105.7h.9M295.6 98.8h.9M295.6 108.5h.9M271.4 106.8h.9M330.5 98.0h.9M326.7 99.9h.9M397.2 100.0h.9M354.1 100.2h.9M275.3 104.0h.9M419.5 102.1h.9M322.9 99.3h.9M317.7 101.5h.9M262.3 104.7h.9M319.6 101.7h.9M306.4 100.1h.9M273.3 106.1h.9M363.9 98.0h.9M306.7 106.3h.9M396.4 104.7h.9M403.3 98.8h.9M366.4 99.2h.9M402.5 109.3h.9M412.4 104.4h.9M363.9 98.8h.9M412.6 106.3h.9M386.2 107.1h.9M411.3 97.7h.9M418.8 100.4h.9M285.6 107.4h.9M295.4 104.7h.9M274.2 102.5h.9M356.8 107.8h.9M367.6 97.8h.9M321.9 109.9h.9M355.0 106.8h.9M379.3 99.2h.9M391.0 105.2h.9M260.0 108.2h.9M331.1 101.9h.9M413.6 103.7h.9M354.9 109.4h.9M342.2 100.1h.9M323.8 98.4h.9M272.9 102.6h.9M317.6 102.3h.9M375.8 110.3h.9M381.2 108.8h.9M295.7 105.3h.9M365.5 109.1h.9M284.8 109.8h.9M390.5 109.8h.9M272.9 99.9h.9M260.3 110.4h.9M342.1 100.5h.9M263.3 108.2h.9M412.5 107.6h.9M411.3 105.6h.9M352.0 101.7h.9M329.5 103.9h.9M336.4 102.9h.9M413.5 104.1h.9M390.6 105.2h.9M403.1 106.2h.9M378.8 98.9h.9M343.5 108.9h.9M342.0 99.5h.9M405.3 109.9h.9M377.9 108.6h.9M287.8 101.4h.9M256.4 105.9h.9M378.9 98.0h.9M413.4 109.7h.9M297.8 100.9h.9M282.7 105.4h.9M310.9 102.7h.9M377.6 101.4h.9M362.7 107.9h.9M273.3 109.2h.9M412.4 99.2h.9M299.9 99.2h.9M262.7 99.5h.9M355.2 101.0h.9M401.4 107.1h.9M354.4 102.5h.9M321.5 102.4h.9M390.7 102.4h.9M286.8 97.7h.9M386.9 105.8h.9M331.8 102.6h.9M344.9 108.4h.9M367.7 100.8h.9M353.2 101.9h.9M420.0 98.4h.9M340.6 110.1h.9M312.4 100.6h.9M319.4 107.9h.9M260.1 109.6h.9M311.9 107.0h.9M352.7 103.7h.9M282.0 102.3h.9M322.3 99.8h.9M309.9 97.3h.9M359.0 104.1h.9M360.4 108.5h.9M308.8 108.9h.9M272.6 99.2h.9M344.1 107.4h.9M298.1 109.6h.9M296.5 103.9h.9M284.8 97.5h.9M261.7 105.9h.9M397.2 97.8h.9M331.1 109.3h.9M262.4 106.9h.9M285.9 98.0h.9M273.0 98.4h.9M263.0 103.4h.9M262.5 108.0h.9M285.2 108.4h.9M297.5 108.9h.9M292.6 108.9h.9M262.6 108.3h.9M293.2 99.5h.9M343.0 99.8h.9M260.7 98.0h.9M354.7 103.4h.9M355.1 103.4h.9M280.1 101.2h.9M401.3 98.0h.9M413.4 100.8h.9M413.9 99.8h.9M336.6 100.7h.9M354.1 102.8h.9M295.7 99.9h.9M350.1 106.1h.9M304.7 104.9h.9M379.4 103.8h.9M255.8 100.6h.9M329.8 102.6h.9M296.3 99.9h.9M400.9 101.1h.9M271.3 98.9h.9M379.0 97.2h.9M262.6 105.1h.9M286.0 109.2h.9M412.8 100.0h.9M273.3 104.3h.9M401.3 99.8h.9M315.2 100.9h.9M260.7 97.3h.9M321.1 105.7h.9M338.8 106.1h.9M348.0 106.2h.9M294.2 107.3h.9M380.3 100.9h.9M379.9 100.5h.9M394.8 103.4h.9M257.5 101.9h.9M270.2 104.1h.9M411.0 103.4h.9M287.7 102.5h.9M326.9 102.0h.9M284.5 106.6h.9M379.0 97.6h.9M310.4 102.8h.9M318.2 110.2h.9M330.6 97.6h.9M397.1 103.6h.9M307.9 101.4h.9M314.2 101.5h.9M274.7 108.8h.9M390.8 103.5h.9M333.0 108.7h.9M364.3 103.9h.9M265.7 98.3h.9M259.6 107.9h.9M342.5 109.7h.9M353.9 104.6h.9M262.3 106.8h.9M397.6 110.2h.9M293.8 101.5h.9M305.7 109.0h.9M377.7 100.8h.9M402.8 109.3h.9M380.2 99.3h.9M307.5 105.1h.9M274.4 107.9h.9M380.6 105.6h.9M307.8 107.4h.9M307.2 102.5h.9M385.0 98.5h.9M370.2 106.0h.9M364.1 102.6h.9M291.5 97.9h.9M272.5 105.4h.9M354.6 103.2h.9M392.9 108.1h.9M283.8 97.7h.9M399.2 100.5h.9M307.6 101.2h.9M296.9 107.1h.9M332.5 104.3h.9M389.4 106.8h.9M410.4 99.9h.9M414.6 108.8h.9M380.5 109.5h.9M320.1 98.8h.9M268.3 101.9h.9M328.8 98.2h.9M368.4 107.6h.9M403.4 102.4h.9M343.2 108.3h.9M368.9 98.5h.9M297.6 102.9h.9M297.7 99.7h.9M309.4 97.6h.9M421.6 100.5h.9M421.2 104.1h.9M274.1 100.5h.9M318.4 108.6h.9M333.1 97.8h.9M368.1 105.8h.9M336.4 105.2h.9M260.0 107.4h.9M286.4 102.6h.9M368.5 107.3h.9M355.4 102.4h.9M401.2 105.2h.9M343.3 99.9h.9M263.0 98.0h.9M398.1 103.5h.9M325.4 99.0h.9M400.8 105.5h.9M378.8 102.3h.9M389.5 102.0h.9M320.1 109.5h.9M297.8 109.1h.9M272.4 103.7h.9M376.7 99.1h.9M367.4 99.5h.9M399.7 110.1h.9M401.9 109.7h.9M390.2 104.1h.9M404.8 98.9h.9M273.7 99.7h.9M390.8 105.0h.9" stroke="#ffffff" stroke-opacity="0.35" stroke-width="0.9"/>
<path d="M397.3 40.0h.7M408.3 39.9h.7M278.5 33.6h.7M340.5 39.6h.7M418.2 29.8h.7M382.5 38.6h.7M393.4 35.1h.7M266.7 34.7h.7M315.5 41.7h.7M372.0 33.1h.7M371.8 38.0h.7M351.1 41.8h.7M342.0 30.0h.7M334.9 37.8h.7M291.9 34.2h.7M360.2 32.3h.7M265.6 31.1h.7M361.8 35.8h.7M405.6 35.3h.7M356.1 41.0h.7M367.3 36.7h.7M394.8 29.6h.7M374.7 34.5h.7M383.3 32.9h.7M385.3 34.2h.7M325.3 30.9h.7M380.8 34.3h.7M310.3 30.1h.7M393.4 31.7h.7M293.2 34.0h.7M292.9 31.9h.7M315.6 37.5h.7M301.0 33.3h.7M349.5 32.9h.7M281.6 39.0h.7M325.7 31.9h.7M371.1 39.5h.7M375.3 36.9h.7M383.4 31.6h.7M257.7 41.1h.7M314.3 41.0h.7M312.6 41.3h.7M361.4 40.5h.7M279.8 32.8h.7M350.9 31.6h.7M398.3 36.0h.7M281.0 34.4h.7M332.2 39.1h.7M312.6 41.9h.7M419.3 30.3h.7M360.3 40.6h.7M289.0 29.7h.7M342.0 32.4h.7M407.5 40.6h.7M257.2 30.6h.7M314.6 34.9h.7M368.2 37.1h.7M325.6 38.6h.7M314.6 39.5h.7M303.0 30.4h.7M383.4 39.0h.7M313.2 30.0h.7M346.1 41.2h.7M260.9 36.0h.7M260.2 32.1h.7M418.6 32.6h.7M335.2 37.3h.7M291.7 31.2h.7M320.3 35.6h.7M325.6 32.4h.7M411.4 34.9h.7M350.8 37.0h.7M349.3 40.1h.7M316.0 39.0h.7M369.8 31.6h.7M349.0 41.4h.7M349.3 30.0h.7M370.5 40.4h.7M292.1 33.1h.7M382.4 41.7h.7M386.7 33.2h.7M287.6 32.5h.7M335.9 35.9h.7M373.9 41.3h.7M327.5 33.9h.7M406.4 36.7h.7M338.9 36.3h.7M314.2 30.3h.7M315.2 40.3h.7M375.1 30.0h.7M361.7 39.7h.7M393.2 37.8h.7M291.8 41.1h.7M349.4 36.5h.7M406.5 35.3h.7M384.2 33.9h.7M279.3 36.9h.7M271.1 36.4h.7M364.1 34.9h.7M359.5 41.7h.7M275.7 30.3h.7M381.7 40.9h.7M384.8 30.7h.7M335.1 39.3h.7M325.0 32.2h.7M360.1 39.1h.7M348.5 33.2h.7M311.8 40.8h.7M361.8 40.2h.7M407.3 30.9h.7M409.1 32.6h.7M289.5 31.2h.7M277.6 40.0h.7M385.8 40.7h.7M265.6 40.0h.7M351.2 31.2h.7M389.4 37.3h.7M369.0 39.8h.7M301.5 32.8h.7M266.1 41.0h.7M360.1 30.5h.7M364.1 29.9h.7M327.0 39.1h.7M339.3 29.6h.7M327.9 30.5h.7M360.2 34.2h.7M265.6 35.0h.7M394.6 39.1h.7M420.8 37.8h.7M361.6 32.7h.7M361.5 33.3h.7M301.8 34.6h.7M333.1 35.0h.7M394.0 37.1h.7M397.6 32.3h.7M360.6 38.2h.7M397.3 31.2h.7M288.0 41.6h.7M399.4 32.6h.7M360.8 32.4h.7M360.6 41.1h.7M347.5 30.8h.7M396.1 40.4h.7M326.2 38.8h.7M339.2 29.8h.7M401.6 31.0h.7M418.4 30.9h.7M266.7 33.1h.7M406.8 30.4h.7M417.9 32.6h.7M293.3 37.9h.7M369.0 31.6h.7M310.1 31.5h.7M288.3 35.5h.7M395.7 41.8h.7M400.6 36.9h.7M337.7 38.1h.7M304.6 41.0h.7M418.2 31.8h.7M397.8 38.6h.7M406.1 34.5h.7M373.1 41.4h.7M313.9 39.3h.7M374.3 30.2h.7M361.5 36.6h.7M308.9 42.1h.7M420.7 33.7h.7M383.9 34.4h.7M315.3 36.1h.7M323.2 33.4h.7M267.8 34.0h.7M381.3 38.8h.7M292.2 37.7h.7M407.3 40.9h.7M395.2 39.6h.7M337.9 38.3h.7M405.1 40.1h.7M385.0 36.4h.7M312.0 39.9h.7M283.7 35.8h.7M273.9 32.7h.7M290.5 38.1h.7M302.8 31.5h.7M269.5 39.7h.7M293.4 40.8h.7M338.8 32.9h.7M389.0 32.5h.7M411.8 100.7h.7M298.3 98.8h.7M343.0 106.6h.7M332.1 99.5h.7M365.1 100.9h.7M378.0 105.4h.7M294.4 97.9h.7M344.4 99.7h.7M284.0 99.6h.7M283.3 103.4h.7M297.2 109.3h.7M261.7 98.7h.7M354.1 107.6h.7M308.2 108.6h.7M381.9 105.9h.7M285.3 108.6h.7M402.3 104.1h.7M400.8 106.7h.7M358.2 97.2h.7M272.1 105.0h.7M377.7 100.5h.7M412.3 104.1h.7M286.4 98.3h.7M365.7 105.8h.7M357.0 109.7h.7M283.5 107.1h.7M283.1 100.4h.7M390.4 108.5h.7M307.3 104.2h.7M414.3 98.2h.7M315.5 100.0h.7M283.3 99.9h.7M387.8 107.1h.7M379.3 98.1h.7M343.9 109.6h.7M342.6 102.9h.7M302.0 100.2h.7M377.9 100.7h.7M305.3 102.8h.7M287.2 102.0h.7M334.0 106.8h.7M354.1 109.3h.7M396.4 107.5h.7M407.5 99.9h.7M297.4 98.8h.7M375.8 99.5h.7M331.0 103.5h.7M416.6 104.8h.7M260.3 98.9h.7M330.1 99.7h.7M332.4 105.9h.7M334.1 99.3h.7M286.8 108.2h.7M344.2 104.5h.7M367.5 97.8h.7M344.2 105.9h.7M323.3 99.4h.7M330.3 107.0h.7M278.3 110.2h.7M344.6 106.5h.7M298.1 105.5h.7M287.2 107.7h.7M332.5 108.4h.7M277.9 110.3h.7M285.6 108.3h.7M401.4 109.3h.7M287.1 98.1h.7M353.7 101.3h.7M412.6 109.9h.7M275.2 102.7h.7M412.2 109.5h.7M260.7 98.0h.7M321.4 100.7h.7M368.7 100.4h.7M344.7 108.4h.7M319.9 98.6h.7M370.4 102.1h.7M336.0 110.0h.7M410.9 107.2h.7M282.7 99.1h.7M354.2 102.3h.7M333.2 108.4h.7M302.1 104.9h.7M366.5 110.0h.7M400.5 107.5h.7M320.9 101.1h.7M367.3 102.7h.7M330.8 106.2h.7M274.9 101.1h.7M282.3 101.6h.7M366.4 101.0h.7M259.3 105.5h.7M351.6 102.9h.7M399.7 98.7h.7M278.5 99.1h.7M344.9 102.7h.7M357.1 106.9h.7M297.8 100.3h.7M410.9 107.3h.7M415.7 100.0h.7M260.4 98.3h.7M278.3 99.8h.7M298.3 104.7h.7M337.4 103.0h.7M298.9 101.7h.7M412.2 108.0h.7M296.8 104.5h.7M332.9 101.5h.7M418.4 105.1h.7M308.2 105.1h.7M332.1 108.9h.7M307.0 108.2h.7M389.4 105.0h.7M401.2 106.3h.7M295.1 107.2h.7M269.0 108.0h.7M401.8 103.4h.7M332.2 105.6h.7M355.6 102.3h.7M393.3 99.1h.7M365.8 104.0h.7M389.9 109.2h.7M364.0 104.5h.7M363.6 97.4h.7M310.0 98.4h.7M296.5 98.8h.7M297.8 108.5h.7M305.9 103.5h.7M392.0 101.2h.7M413.8 99.2h.7M283.8 109.0h.7M261.4 109.9h.7M402.5 102.7h.7M272.2 104.3h.7M261.1 102.9h.7M413.0 98.9h.7M304.9 107.6h.7M415.2 103.3h.7M330.8 101.2h.7M286.6 105.0h.7M297.0 105.9h.7M318.9 108.0h.7M282.9 98.3h.7M288.0 105.7h.7M355.4 102.3h.7M403.2 107.9h.7M288.4 102.1h.7M375.4 106.6h.7M389.6 100.8h.7M345.2 109.8h.7M334.1 102.7h.7M390.9 104.9h.7M378.4 100.6h.7M282.8 100.9h.7M356.6 100.3h.7M389.8 108.8h.7M272.6 104.1h.7M342.8 97.5h.7M284.7 103.7h.7M351.8 98.9h.7M260.3 109.1h.7M412.8 101.5h.7M334.4 98.8h.7M346.2 108.7h.7M283.4 104.7h.7M292.0 104.0h.7M262.7 104.6h.7M273.8 103.0h.7M351.4 103.3h.7M317.8 108.9h.7M390.2 98.8h.7M348.6 107.4h.7M320.6 100.3h.7M306.7 99.2h.7M354.5 97.6h.7M261.6 110.3h.7M276.1 108.2h.7M363.8 104.3h.7M298.2 99.5h.7M352.2 99.8h.7M275.1 107.2h.7M402.1 106.2h.7M324.0 99.2h.7M274.8 105.2h.7M331.2 103.7h.7M367.5 100.5h.7M319.0 108.5h.7M273.7 99.7h.7M368.5 102.1h.7M296.2 107.7h.7M412.0 101.3h.7M285.3 103.9h.7M377.4 101.5h.7" stroke="#ffffff" stroke-opacity="0.6" stroke-width="0.7"/>
<path d="M366.5 43.6h.9M322.5 43.3h.9M310.2 42.6h.9M330.4 42.6h.9M418.7 43.2h.9M282.9 42.8h.9M307.7 42.5h.9M290.2 42.6h.9M406.9 42.9h.9M281.2 42.5h.9M377.6 42.8h.9M319.8 42.5h.9M372.9 42.5h.9M358.5 42.6h.9M278.3 43.2h.9M294.3 42.8h.9M312.3 42.8h.9M292.8 43.0h.9M417.0 42.8h.9M282.5 43.2h.9M409.7 43.0h.9M402.0 42.8h.9M396.0 42.7h.9M265.5 42.5h.9M285.1 42.6h.9M276.7 43.2h.9M314.9 42.6h.9M416.9 43.0h.9M402.7 42.9h.9M296.2 42.7h.9M278.9 42.9h.9M281.5 42.5h.9M410.8 43.2h.9M277.6 43.0h.9M301.6 43.5h.9M318.1 42.6h.9M293.9 42.9h.9M277.9 42.5h.9M310.5 42.6h.9M270.2 42.8h.9M350.7 43.0h.9M405.6 111.0h.9M276.0 111.0h.9M303.4 110.8h.9M333.5 111.3h.9M333.3 110.9h.9M280.1 111.0h.9M269.5 110.8h.9M381.6 111.3h.9M405.8 110.8h.9M352.0 111.0h.9M337.8 111.1h.9M279.4 111.4h.9M259.1 110.6h.9M369.0 111.0h.9M383.2 112.0h.9M288.1 111.1h.9M354.9 110.9h.9M412.0 110.7h.9M329.2 110.8h.9M295.6 112.1h.9M344.2 110.9h.9M275.5 110.9h.9M343.4 111.3h.9M287.4 110.6h.9M379.9 111.3h.9M282.8 110.7h.9M257.1 110.8h.9M355.0 111.0h.9M411.6 111.5h.9M319.3 110.6h.9M291.2 110.6h.9M318.0 111.6h.9M262.3 111.3h.9M350.2 111.4h.9M420.4 111.7h.9M419.8 110.9h.9M284.9 110.6h.9M328.6 110.8h.9M346.7 111.5h.9M366.8 111.6h.9M315.0 111.1h.9" stroke="#0000ff" stroke-opacity="0.5" stroke-width="0.9"/>
<path d="M261.9 42.8L261.9 46.7L262.0 50.5L262.1 54.3L261.9 58.2L261.7 62.0L261.5 65.9L261.5 69.7L261.7 73.5L261.8 77.4L261.8 81.2L261.9 85.0L262.0 88.9L262.1 92.7L262.1 96.5M273.7 42.8L273.7 46.7L273.6 50.5L273.5 54.3L273.4 58.2L273.3 62.0L273.2 65.9L273.2 69.7L273.3 73.5L273.5 77.4L273.7 81.2L273.7 85.0L273.6 88.9L273.5 92.7L273.5 96.5M285.0 42.8L284.9 46.7L285.0 50.5L285.2 54.3L285.4 58.2L285.4 62.0L285.2 65.9L285.1 69.7L285.1 73.5L285.1 77.4L285.0 81.2L284.9 85.0L284.9 88.9L285.1 92.7L285.3 96.5M296.6 42.8L296.6 46.7L296.7 50.5L296.8 54.3L296.9 58.2L296.8 62.0L296.8 65.9L296.9 69.7L296.9 73.5L296.8 77.4L296.7 81.2L296.6 85.0L296.7 88.9L296.8 92.7L296.9 96.5M308.7 42.8L308.6 46.7L308.4 50.5L308.4 54.3L308.5 58.2L308.5 62.0L308.3 65.9L308.2 69.7L308.3 73.5L308.5 77.4L308.6 81.2L308.6 85.0L308.5 88.9L308.5 92.7L308.5 96.5M320.1 42.8L320.0 46.7L320.1 50.5L320.2 54.3L320.3 58.2L320.3 62.0L320.1 65.9L320.0 69.7L320.0 73.5L320.0 77.4L320.0 81.2L320.0 85.0L320.0 88.9L320.1 92.7L320.3 96.5M331.7 42.8L331.8 46.7L331.8 50.5L331.7 54.3L331.6 58.2L331.5 62.0L331.7 65.9L331.9 69.7L332.0 73.5L331.9 77.4L331.8 81.2L331.8 85.0L331.9 88.9L331.8 92.7L331.6 96.5M343.6 42.8L343.6 46.7L343.6 50.5L343.5 54.3L343.5 58.2L343.5 62.0L343.4 65.9L343.2 69.7L343.1 73.5L343.3 77.4L343.5 81.2L343.6 85.0L343.6 88.9L343.5 92.7L343.6 96.5M355.0 42.8L354.9 46.7L355.0 50.5L355.2 54.3L355.3 58.2L355.2 62.0L355.1 65.9L355.1 69.7L355.1 73.5L355.1 77.4L355.0 81.2L354.9 85.0L354.9 88.9L355.1 92.7L355.2 96.5M366.9 42.8L366.6 46.7L366.5 50.5L366.5 54.3L366.6 58.2L366.7 62.0L366.8 65.9L366.8 69.7L366.9 73.5L367.0 77.4L367.0 81.2L366.8 85.0L366.5 88.9L366.5 92.7L366.6 96.5M378.2 42.8L378.2 46.7L378.4 50.5L378.4 54.3L378.4 58.2L378.3 62.0L378.4 65.9L378.6 69.7L378.6 73.5L378.5 77.4L378.3 81.2L378.2 85.0L378.3 88.9L378.4 92.7L378.4 96.5M390.1 42.8L390.1 46.7L390.2 50.5L390.2 54.3L390.1 58.2L390.0 62.0L389.9 65.9L389.9 69.7L390.0 73.5L390.1 77.4L390.1 81.2L390.1 85.0L390.2 88.9L390.2 92.7L390.2 96.5M401.9 42.8L401.9 46.7L401.9 50.5L401.7 54.3L401.4 58.2L401.3 62.0L401.4 65.9L401.7 69.7L401.9 73.5L401.9 77.4L401.9 81.2L401.9 85.0L402.0 88.9L401.8 92.7L401.5 96.5M413.5 42.8L413.3 46.7L413.1 50.5L413.2 54.3L413.3 58.2L413.4 62.0L413.3 65.9L413.4 69.7L413.5 73.5L413.7 77.4L413.6 81.2L413.4 85.0L413.2 88.9L413.2 92.7L413.3 96.5M267.0 111.0L267.0 114.8L267.2 118.7L267.3 122.6L267.4 126.4L267.4 130.3L267.5 134.2L267.5 138.0L267.5 141.9L267.3 145.8L267.1 149.6L267.0 153.5L267.1 157.4L267.3 161.2L267.3 165.1M279.0 111.0L279.2 114.8L279.2 118.7L279.1 122.6L279.0 126.4L278.9 130.3L278.9 134.2L278.8 138.0L278.7 141.9L278.8 145.8L279.0 149.6L279.1 153.5L279.2 157.4L279.1 161.2L279.0 165.1M290.4 111.0L290.3 114.8L290.4 118.7L290.6 122.6L290.8 126.4L290.9 130.3L290.8 134.2L290.8 138.0L290.7 141.9L290.6 145.8L290.4 149.6L290.3 153.5L290.3 157.4L290.5 161.2L290.7 165.1M302.3 111.0L302.5 114.8L302.5 118.7L302.3 122.6L302.2 126.4L302.2 130.3L302.2 134.2L302.2 138.0L302.1 141.9L302.1 145.8L302.3 149.6L302.5 153.5L302.5 157.4L302.4 161.2L302.2 165.1M313.9 111.0L314.0 114.8L314.1 118.7L314.1 122.6L314.1 126.4L314.0 130.3L313.9 134.2L313.7 138.0L313.6 141.9L313.7 145.8L313.8 149.6L313.9 153.5L314.0 157.4L314.1 161.2L314.1 165.1M325.8 111.0L325.9 114.8L325.7 118.7L325.6 122.6L325.4 126.4L325.4 130.3L325.4 134.2L325.3 138.0L325.4 141.9L325.6 145.8L325.8 149.6L325.9 153.5L325.8 157.4L325.6 161.2L325.5 165.1M337.2 111.0L337.0 114.8L336.9 118.7L337.1 122.6L337.3 126.4L337.5 130.3L337.4 134.2L337.3 138.0L337.2 141.9L337.3 145.8L337.2 149.6L337.0 153.5L336.9 157.4L337.0 161.2L337.2 165.1M349.0 111.0L349.0 114.8L349.0 118.7L349.0 122.6L348.8 126.4L348.6 130.3L348.5 134.2L348.7 138.0L348.9 141.9L349.0 145.8L348.9 149.6L349.0 153.5L349.0 157.4L349.1 161.2L348.9 165.1M360.7 111.0L360.7 114.8L360.6 118.7L360.4 122.6L360.2 126.4L360.1 130.3L360.3 134.2L360.5 138.0L360.6 141.9L360.7 145.8L360.7 149.6L360.7 153.5L360.7 157.4L360.5 161.2L360.3 165.1M372.5 111.0L372.3 114.8L372.1 118.7L372.1 122.6L372.0 126.4L371.9 130.3L371.9 134.2L372.0 138.0L372.2 141.9L372.4 145.8L372.5 149.6L372.4 153.5L372.2 157.4L372.1 161.2L372.1 165.1M384.1 111.0L384.1 114.8L383.9 118.7L383.9 122.6L383.9 126.4L383.8 130.3L383.6 134.2L383.4 138.0L383.5 141.9L383.8 145.8L384.0 149.6L384.0 153.5L384.0 157.4L383.9 161.2L384.0 165.1M395.4 111.0L395.6 114.8L395.8 118.7L395.8 122.6L395.5 126.4L395.3 130.3L395.3 134.2L395.3 138.0L395.3 141.9L395.2 145.8L395.3 149.6L395.5 153.5L395.8 157.4L395.8 161.2L395.6 165.1M406.8 111.0L406.8 114.8L407.0 118.7L407.1 122.6L407.1 126.4L407.1 130.3L407.3 134.2L407.4 138.0L407.4 141.9L407.1 145.8L406.9 149.6L406.8 153.5L406.9 157.4L407.0 161.2L407.0 165.1M418.6 111.0L418.5 114.8L418.5 118.7L418.7 122.6L418.8 126.4L418.9 130.3L418.9 134.2L418.9 138.0L418.9 141.9L418.8 145.8L418.7 149.6L418.5 153.5L418.5 157.4L418.6 161.2L418.8 165.1" stroke="#ff0000" stroke-opacity="0.5" stroke-width="2.2" fill="none"/>
<path d="M260.7 70.5h.9M258.6 61.9h.9M261.5 88.7h.9M260.4 88.3h.9M260.1 59.3h.9M262.3 74.1h.9M263.2 88.5h.9M260.0 78.5h.9M260.6 82.8h.9M259.9 57.2h.9M257.4 68.4h.9M262.1 60.9h.9M263.2 59.3h.9M258.5 75.8h.9M262.7 83.7h.9M262.7 46.5h.9M262.0 82.1h.9M260.0 79.8h.9M261.1 64.8h.9M262.8 84.5h.9M261.6 85.5h.9M262.8 53.9h.9M261.2 67.8h.9M261.2 63.4h.9M256.9 87.6h.9M264.0 47.1h.9M264.7 54.9h.9M261.0 47.5h.9M260.0 60.4h.9M260.1 74.4h.9M261.8 88.2h.9M259.4 65.0h.9M259.6 49.7h.9M260.0 56.7h.9M261.5 47.7h.9M261.0 86.9h.9M261.2 63.5h.9M262.8 90.4h.9M261.9 82.0h.9M260.2 58.9h.9M261.2 57.0h.9M263.4 54.0h.9M262.4 92.2h.9M263.5 62.3h.9M260.9 54.3h.9M261.1 93.4h.9M261.9 76.3h.9M259.2 83.8h.9M261.6 67.8h.9M262.8 60.6h.9M260.3 64.8h.9M259.2 83.4h.9M259.3 92.0h.9M262.0 89.5h.9M261.1 63.9h.9M260.4 70.5h.9M258.7 66.2h.9M264.5 88.6h.9M261.8 91.3h.9M262.8 52.5h.9M258.4 62.5h.9M258.6 65.2h.9M261.1 81.7h.9M260.9 55.6h.9M262.4 80.8h.9M263.1 49.9h.9M262.8 43.7h.9M261.3 81.9h.9M261.2 81.9h.9M258.5 93.8h.9M264.2 63.8h.9M263.2 76.7h.9M261.4 93.8h.9M259.7 54.8h.9M260.9 73.5h.9M264.9 85.0h.9M263.3 47.4h.9M262.7 45.9h.9M263.1 94.6h.9M262.5 91.8h.9M262.7 65.2h.9M260.7 50.3h.9M261.1 90.1h.9M259.4 74.6h.9M262.1 45.9h.9M262.6 54.8h.9M263.1 90.6h.9M259.8 55.2h.9M263.2 60.7h.9M262.3 92.4h.9M259.2 93.0h.9M262.2 70.2h.9M260.1 42.8h.9M263.9 70.0h.9M261.0 76.7h.9M260.6 50.8h.9M258.7 65.3h.9M262.1 73.8h.9M261.5 66.7h.9M261.9 56.2h.9M261.9 74.2h.9M261.4 67.2h.9M259.1 56.0h.9M260.4 59.7h.9M261.1 44.2h.9M261.8 71.9h.9M261.3 48.8h.9M261.3 84.7h.9M260.7 76.0h.9M259.9 95.2h.9M261.7 75.7h.9M262.0 66.4h.9M260.3 53.1h.9M259.5 55.6h.9M260.1 50.3h.9M261.7 69.7h.9M261.7 88.9h.9M261.8 85.8h.9M260.4 94.3h.9M263.3 86.1h.9M261.0 61.0h.9M263.3 49.5h.9M262.9 72.3h.9M260.1 43.1h.9M261.3 73.4h.9M261.8 70.1h.9M260.6 51.9h.9M260.3 72.8h.9M262.4 94.3h.9M262.2 55.7h.9M262.2 59.7h.9M260.7 78.2h.9M260.2 69.1h.9M263.3 76.6h.9M263.9 87.3h.9M258.7 55.6h.9M260.9 87.7h.9M262.4 49.0h.9M261.0 67.9h.9M263.9 58.3h.9M262.5 54.3h.9M263.3 75.2h.9M260.5 76.4h.9M263.2 69.4h.9M259.3 87.9h.9M260.4 74.7h.9M262.4 58.3h.9M262.1 88.1h.9M261.4 81.3h.9M260.3 76.2h.9M260.9 67.2h.9M262.5 56.5h.9M260.1 56.1h.9M261.5 65.6h.9M259.4 71.4h.9M261.6 80.9h.9M261.9 59.6h.9M260.8 90.9h.9M262.3 56.8h.9M261.3 69.6h.9M260.4 73.4h.9M264.3 73.8h.9M260.3 82.8h.9M260.0 75.4h.9M263.0 70.6h.9M263.4 86.2h.9M262.0 81.6h.9M262.5 43.0h.9M259.9 74.6h.9M261.7 95.0h.9M261.5 60.2h.9M259.4 74.3h.9M260.7 64.9h.9M260.1 44.1h.9M263.5 69.5h.9M261.0 50.6h.9M262.1 91.8h.9M261.7 77.0h.9M259.0 72.9h.9M260.1 62.5h.9M272.9 69.5h.9M272.9 78.4h.9M273.3 50.3h.9M275.4 74.1h.9M273.4 94.7h.9M273.8 52.8h.9M274.5 87.3h.9M274.6 79.2h.9M275.8 47.4h.9M272.2 94.4h.9M273.9 72.0h.9M273.6 59.4h.9M270.7 74.8h.9M271.8 76.9h.9M272.6 72.0h.9M273.2 55.0h.9M274.2 80.9h.9M273.8 47.5h.9M275.3 90.3h.9M272.4 80.1h.9M274.2 88.7h.9M272.8 56.3h.9M275.0 43.8h.9M274.3 44.9h.9M272.3 68.7h.9M272.2 82.5h.9M273.6 52.6h.9M273.8 57.5h.9M272.6 80.0h.9M275.2 48.5h.9M272.9 52.7h.9M275.5 58.5h.9M274.8 48.1h.9M274.0 50.8h.9M274.1 79.5h.9M274.1 85.6h.9M274.8 75.6h.9M273.8 86.3h.9M272.1 63.5h.9M272.0 68.2h.9M273.4 74.2h.9M274.2 87.7h.9M272.6 62.9h.9M274.4 87.6h.9M275.6 57.9h.9M274.1 80.9h.9M268.6 55.2h.9M271.8 51.8h.9M272.9 59.9h.9M270.6 81.2h.9M273.8 51.3h.9M273.2 66.4h.9M271.6 86.0h.9M271.7 72.3h.9M273.4 80.2h.9M270.6 77.4h.9M272.2 67.4h.9M272.8 54.0h.9M273.1 83.3h.9M272.2 69.9h.9M271.0 92.0h.9M272.4 63.6h.9M272.5 89.9h.9M272.5 78.2h.9M273.7 67.6h.9M272.6 59.9h.9M274.5 66.2h.9M273.9 79.6h.9M275.2 44.5h.9M272.9 53.6h.9M273.6 43.8h.9M274.8 65.5h.9M273.8 57.2h.9M270.7 81.4h.9M274.5 87.4h.9M271.9 79.2h.9M273.5 53.9h.9M274.8 85.8h.9M273.4 56.0h.9M274.4 60.5h.9M271.4 47.4h.9M272.8 46.2h.9M274.4 91.1h.9M272.5 50.5h.9M272.6 46.4h.9M273.1 50.7h.9M271.0 63.9h.9M273.1 84.0h.9M273.3 66.9h.9M274.9 90.0h.9M271.6 70.0h.9M274.7 87.6h.9M271.3 46.0h.9M272.5 50.7h.9M272.8 94.0h.9M274.7 75.4h.9M273.1 52.5h.9M273.2 72.7h.9M273.8 92.1h.9M272.3 82.9h.9M271.6 57.8h.9M272.6 92.4h.9M275.4 54.5h.9M271.5 84.6h.9M272.8 77.5h.9M272.7 94.1h.9M270.7 55.1h.9M272.1 91.5h.9M273.1 88.5h.9M272.5 66.2h.9M273.3 79.4h.9M273.7 67.7h.9M276.2 88.2h.9M275.6 77.9h.9M272.5 80.4h.9M271.1 66.9h.9M273.3 61.2h.9M272.0 90.6h.9M272.0 54.9h.9M270.8 75.5h.9M272.1 84.8h.9M273.1 91.2h.9M275.2 51.2h.9M272.5 52.5h.9M273.7 77.0h.9M273.4 82.6h.9M274.7 51.3h.9M273.6 95.5h.9M272.8 66.3h.9M272.4 51.0h.9M273.8 42.9h.9M273.3 49.3h.9M273.2 92.0h.9M273.5 43.3h.9M273.2 67.9h.9M271.5 81.1h.9M272.4 55.8h.9M271.8 51.6h.9M269.9 95.5h.9M273.4 91.0h.9M273.6 91.2h.9M273.8 84.7h.9M275.6 93.8h.9M274.2 56.2h.9M273.6 72.4h.9M271.3 64.5h.9M273.7 44.3h.9M271.2 56.6h.9M272.7 43.8h.9M273.2 94.5h.9M275.3 45.0h.9M273.7 93.0h.9M273.5 64.6h.9M274.1 81.2h.9M273.1 58.2h.9M276.0 56.3h.9M273.2 67.6h.9M274.0 49.6h.9M272.9 72.5h.9M273.0 85.5h.9M275.7 73.5h.9M272.0 54.6h.9M271.7 50.1h.9M274.1 92.5h.9M271.2 85.0h.9M271.4 49.1h.9M272.1 85.7h.9M274.0 93.6h.9M273.9 59.8h.9M273.2 49.2h.9M271.3 72.0h.9M273.4 58.4h.9M273.6 85.5h.9M272.7 75.4h.9M274.2 44.2h.9M274.4 63.0h.9M269.7 67.8h.9M273.2 89.7h.9M273.9 67.5h.9M273.6 46.5h.9M285.5 47.6h.9M283.5 66.3h.9M283.9 65.0h.9M283.1 81.1h.9M283.3 68.9h.9M284.5 66.9h.9M287.2 91.7h.9M283.9 74.1h.9M283.8 83.8h.9M282.3 82.2h.9M286.2 51.6h.9M284.6 75.4h.9M283.3 75.6h.9M283.5 69.3h.9M285.7 59.3h.9M284.0 51.6h.9M283.7 85.3h.9M283.3 61.1h.9M284.9 92.2h.9M282.5 74.7h.9M284.9 52.6h.9M286.3 78.7h.9M282.9 54.0h.9M284.4 76.7h.9M282.1 52.1h.9M285.3 67.7h.9M282.7 60.4h.9M287.0 71.8h.9M282.9 93.1h.9M283.2 48.8h.9M286.7 76.1h.9M283.7 49.4h.9M285.3 72.9h.9M285.0 81.3h.9M282.5 74.6h.9M285.4 86.0h.9M284.9 57.3h.9M282.6 43.1h.9M284.1 65.9h.9M281.9 80.4h.9M283.4 87.6h.9M285.3 91.0h.9M282.7 87.6h.9M284.7 84.7h.9M284.7 71.9h.9M282.8 60.1h.9M285.3 93.5h.9M284.0 77.6h.9M283.4 87.3h.9M287.5 57.3h.9M284.0 64.6h.9M284.4 94.6h.9M283.3 52.7h.9M285.0 66.8h.9M282.4 53.6h.9M285.4 89.6h.9M284.3 68.3h.9M283.3 69.5h.9M284.9 92.2h.9M285.9 54.2h.9M284.6 83.6h.9M284.5 90.3h.9M284.1 80.2h.9M284.8 44.6h.9M284.4 94.8h.9M284.6 47.6h.9M285.3 51.1h.9M285.1 76.5h.9M285.7 47.2h.9M283.7 92.3h.9M283.9 50.8h.9M282.9 74.4h.9M284.5 68.9h.9M284.6 80.2h.9M283.4 53.6h.9M285.7 55.6h.9M284.5 74.0h.9M288.3 59.0h.9M286.0 86.1h.9M285.0 45.9h.9M284.3 82.9h.9M282.3 70.0h.9M282.1 44.5h.9M283.9 94.0h.9M284.0 79.2h.9M285.1 62.2h.9M284.6 55.6h.9M285.2 66.0h.9M285.5 63.7h.9M286.8 84.5h.9M283.7 95.3h.9M282.8 47.0h.9M285.1 77.4h.9M282.0 75.6h.9M286.9 50.1h.9M284.8 92.2h.9M284.5 45.2h.9M287.5 61.5h.9M284.1 71.7h.9M285.8 86.7h.9M284.8 43.5h.9M286.1 81.7h.9M285.7 72.4h.9M285.3 53.1h.9M284.7 75.5h.9M285.6 92.8h.9M285.6 54.0h.9M284.2 45.3h.9M288.3 62.7h.9M285.4 54.4h.9M281.8 67.4h.9M285.6 91.6h.9M286.0 63.1h.9M282.2 83.5h.9M285.2 63.1h.9M284.1 68.0h.9M283.1 62.6h.9M286.0 91.0h.9M285.2 52.9h.9M284.2 51.1h.9M287.6 59.3h.9M283.4 87.0h.9M284.8 45.1h.9M285.3 94.2h.9M285.7 58.9h.9M285.9 45.8h.9M286.4 71.4h.9M283.7 58.3h.9M282.8 71.7h.9M283.6 57.6h.9M286.4 90.1h.9M284.9 56.7h.9M283.4 48.9h.9M285.1 46.0h.9M284.5 79.1h.9M281.6 83.6h.9M285.2 54.4h.9M284.2 65.8h.9M285.1 86.9h.9M285.5 56.4h.9M283.2 61.1h.9M284.1 89.9h.9M284.0 47.5h.9M287.5 45.6h.9M283.5 68.4h.9M285.4 66.8h.9M284.8 62.8h.9M285.0 95.1h.9M285.6 85.6h.9M283.0 69.2h.9M285.0 73.0h.9M283.2 87.5h.9M283.8 64.2h.9M285.5 57.5h.9M283.6 49.5h.9M285.5 76.5h.9M288.4 52.7h.9M282.7 90.1h.9M283.9 68.1h.9M286.2 64.8h.9M282.2 85.1h.9M283.1 68.8h.9M282.1 46.3h.9M284.4 86.0h.9M285.3 86.0h.9M286.3 72.7h.9M285.3 82.3h.9M285.0 69.0h.9M286.8 59.2h.9M283.2 84.8h.9M283.6 62.2h.9M283.4 59.4h.9M283.8 60.4h.9M286.8 77.1h.9M284.4 75.4h.9M285.7 81.1h.9M286.2 55.7h.9M285.8 92.3h.9M285.0 94.0h.9M285.3 44.6h.9M294.1 49.9h.9M298.2 82.8h.9M295.8 76.0h.9M294.2 42.9h.9M296.1 76.7h.9M294.7 44.9h.9M295.7 93.4h.9M297.1 51.2h.9M296.4 62.1h.9M297.8 62.6h.9M295.9 53.3h.9M293.6 46.5h.9M295.7 93.5h.9M296.9 72.8h.9M296.7 80.0h.9M297.4 75.6h.9M295.6 52.4h.9M298.4 46.2h.9M297.1 86.1h.9M296.3 77.5h.9M295.0 67.2h.9M295.9 95.5h.9M295.6 85.6h.9M299.3 74.7h.9M295.9 78.9h.9M298.8 58.6h.9M293.8 45.1h.9M296.7 84.8h.9M294.6 54.3h.9M296.0 45.1h.9M296.9 53.1h.9M300.0 82.9h.9M297.5 69.2h.9M297.2 86.8h.9M297.7 80.5h.9M296.4 72.0h.9M295.2 64.5h.9M295.3 81.2h.9M296.1 95.0h.9M295.8 44.4h.9M298.1 66.9h.9M296.0 81.6h.9M294.6 93.0h.9M296.0 74.9h.9M295.0 45.9h.9M297.3 89.0h.9M295.3 44.7h.9M297.8 67.6h.9M295.7 70.9h.9M297.1 75.0h.9M297.9 72.3h.9M296.9 78.7h.9M297.9 90.6h.9M294.8 83.2h.9M295.1 69.7h.9M294.5 84.6h.9M299.1 90.2h.9M297.2 50.4h.9M297.3 74.4h.9M297.6 53.2h.9M298.5 95.1h.9M297.8 93.5h.9M295.5 70.4h.9M296.2 84.3h.9M296.9 81.4h.9M295.6 91.0h.9M293.9 58.2h.9M296.0 76.0h.9M298.6 92.3h.9M295.7 51.1h.9M297.2 64.6h.9M297.8 43.2h.9M296.8 75.9h.9M298.2 56.5h.9M296.4 66.7h.9M295.1 44.5h.9M298.6 91.7h.9M295.4 50.9h.9M296.4 82.7h.9M295.9 85.8h.9M295.7 57.9h.9M297.1 58.3h.9M298.2 90.0h.9M295.8 69.8h.9M296.9 46.3h.9M296.8 75.3h.9M296.1 75.8h.9M296.9 78.8h.9M295.3 68.3h.9M297.5 69.8h.9M295.9 54.6h.9M298.2 52.9h.9M299.1 62.1h.9M295.9 80.7h.9M296.6 78.1h.9M297.9 74.4h.9M295.7 85.7h.9M295.9 90.6h.9M297.9 66.6h.9M297.3 78.8h.9M296.0 93.0h.9M297.6 79.3h.9M296.0 73.1h.9M299.4 74.2h.9M297.4 94.8h.9M296.9 50.9h.9M297.7 93.9h.9M296.2 94.6h.9M298.3 82.8h.9M294.8 43.7h.9M294.9 54.4h.9M296.2 92.6h.9M294.8 93.9h.9M297.1 60.7h.9M296.1 89.1h.9M297.7 94.2h.9M297.4 57.5h.9M297.6 80.7h.9M295.8 87.5h.9M297.5 60.6h.9M297.1 93.7h.9M295.0 93.2h.9M294.2 57.7h.9M296.0 64.3h.9M297.2 94.0h.9M296.6 49.8h.9M296.9 75.8h.9M296.4 47.2h.9M299.0 86.9h.9M295.4 74.2h.9M297.8 57.9h.9M294.5 57.5h.9M297.6 60.9h.9M297.4 84.3h.9M296.1 58.7h.9M297.5 67.7h.9M296.4 95.8h.9M295.5 48.6h.9M296.2 69.3h.9M297.1 54.1h.9M295.2 64.1h.9M295.2 74.8h.9M296.2 70.4h.9M295.5 45.6h.9M296.8 43.4h.9M296.5 59.3h.9M295.1 95.1h.9M298.5 57.1h.9M299.1 50.3h.9M296.4 73.9h.9M297.2 68.6h.9M295.2 93.1h.9M296.2 54.1h.9M296.0 92.4h.9M297.0 66.6h.9M295.9 69.5h.9M294.8 65.3h.9M295.5 79.9h.9M295.9 84.6h.9M295.2 52.9h.9M298.5 67.2h.9M296.7 43.2h.9M297.2 76.6h.9M298.2 68.1h.9M295.4 49.2h.9M295.4 62.0h.9M295.1 91.5h.9M296.7 87.6h.9M294.4 66.1h.9M295.9 43.6h.9M295.6 65.1h.9M295.7 87.0h.9M293.8 66.3h.9M297.2 78.5h.9M297.3 71.3h.9M296.3 76.7h.9M294.3 69.7h.9M296.5 95.5h.9M297.0 65.3h.9M296.8 77.4h.9M307.3 85.1h.9M308.4 68.4h.9M308.2 46.0h.9M308.8 93.3h.9M308.7 65.3h.9M307.8 62.9h.9M308.5 70.1h.9M308.0 95.4h.9M309.0 89.0h.9M307.4 73.8h.9M307.9 87.4h.9M306.0 65.1h.9M307.5 57.1h.9M306.6 49.5h.9M309.3 90.1h.9M308.9 80.9h.9M307.7 95.7h.9M307.4 89.6h.9M307.7 63.6h.9M305.0 76.8h.9M308.3 55.0h.9M308.0 69.0h.9M309.5 54.6h.9M306.0 46.8h.9M308.6 73.4h.9M308.0 71.4h.9M308.0 62.5h.9M309.3 58.9h.9M303.6 62.0h.9M308.2 88.6h.9M310.4 89.4h.9M308.8 87.9h.9M308.8 93.5h.9M307.6 43.7h.9M309.7 90.4h.9M309.0 55.0h.9M307.3 85.6h.9M308.4 55.2h.9M307.3 51.4h.9M308.7 43.9h.9M305.8 92.8h.9M308.2 60.3h.9M308.9 51.4h.9M307.1 81.1h.9M307.4 52.9h.9M308.6 60.6h.9M309.2 89.2h.9M308.1 79.5h.9M307.4 53.6h.9M308.7 78.5h.9M307.1 58.9h.9M307.8 82.2h.9M307.6 55.4h.9M309.3 79.4h.9M308.5 59.7h.9M307.6 93.6h.9M309.3 82.9h.9M306.9 90.9h.9M310.1 91.0h.9M306.4 62.5h.9M308.1 78.1h.9M306.4 48.2h.9M309.7 79.3h.9M307.9 53.2h.9M307.2 63.9h.9M309.5 65.1h.9M308.1 64.3h.9M306.0 48.1h.9M309.7 52.5h.9M307.2 49.1h.9M308.7 91.2h.9M306.1 68.4h.9M306.9 61.3h.9M307.0 94.0h.9M307.3 87.9h.9M308.7 61.1h.9M307.4 81.0h.9M307.3 66.2h.9M307.2 71.8h.9M308.4 56.8h.9M309.6 65.7h.9M306.7 67.0h.9M308.2 91.9h.9M306.7 49.0h.9M307.7 49.3h.9M306.5 70.9h.9M308.9 61.1h.9M306.2 93.1h.9M306.5 84.0h.9M304.9 86.7h.9M311.4 90.9h.9M306.7 64.1h.9M307.7 84.3h.9M308.5 48.4h.9M311.2 42.9h.9M307.7 53.7h.9M304.4 93.4h.9M309.1 43.8h.9M310.0 53.5h.9M308.7 72.7h.9M306.5 92.3h.9M309.0 74.0h.9M311.0 52.9h.9M308.4 66.8h.9M307.5 63.1h.9M308.6 82.2h.9M310.7 67.0h.9M306.5 43.1h.9M308.6 57.0h.9M307.2 65.6h.9M307.3 71.4h.9M307.1 72.4h.9M304.6 43.0h.9M308.5 83.1h.9M308.3 71.9h.9M311.7 79.9h.9M306.7 68.2h.9M307.3 76.1h.9M310.1 53.3h.9M309.0 84.5h.9M306.5 70.2h.9M307.3 66.7h.9M308.3 89.0h.9M308.3 45.3h.9M307.6 68.1h.9M305.0 66.0h.9M307.8 70.8h.9M308.5 57.1h.9M308.1 69.7h.9M310.2 80.2h.9M307.9 72.3h.9M307.4 85.4h.9M310.0 59.8h.9M307.3 74.8h.9M308.3 75.1h.9M307.7 66.4h.9M305.6 83.8h.9M308.8 73.6h.9M308.6 70.5h.9M307.4 74.4h.9M310.5 60.8h.9M305.6 88.2h.9M305.8 86.7h.9M308.1 54.5h.9M308.5 69.0h.9M307.9 56.1h.9M308.4 47.3h.9M306.6 87.0h.9M310.4 94.8h.9M308.2 59.0h.9M306.0 79.3h.9M306.5 77.7h.9M308.0 52.4h.9M309.3 58.7h.9M307.5 57.9h.9M308.5 67.8h.9M309.4 55.8h.9M308.0 64.3h.9M305.3 45.0h.9M306.9 66.7h.9M307.4 75.7h.9M306.3 66.4h.9M305.1 72.7h.9M308.4 44.8h.9M305.8 67.0h.9M309.0 72.2h.9M310.5 47.2h.9M307.1 71.1h.9M304.6 61.4h.9M308.1 90.3h.9M308.8 63.6h.9M307.0 65.8h.9M307.1 71.5h.9M309.7 71.4h.9M308.0 87.7h.9M306.9 51.4h.9M308.4 74.2h.9M308.9 62.3h.9M307.5 67.1h.9M311.9 71.4h.9M318.9 81.9h.9M318.3 75.5h.9M321.1 54.5h.9M321.2 65.7h.9M319.4 44.3h.9M318.5 77.0h.9M319.8 61.7h.9M318.2 91.8h.9M319.7 76.3h.9M319.7 74.2h.9M318.8 47.3h.9M320.0 92.9h.9M317.2 57.2h.9M320.8 53.9h.9M320.6 67.6h.9M319.9 90.9h.9M318.6 60.4h.9M322.2 58.2h.9M318.5 68.6h.9M320.4 55.6h.9M318.5 57.2h.9M320.1 81.5h.9M319.6 58.1h.9M320.9 57.6h.9M322.2 89.7h.9M320.1 58.0h.9M321.7 93.7h.9M320.0 70.5h.9M322.8 70.7h.9M318.8 91.9h.9M319.0 54.2h.9M322.5 66.4h.9M317.8 79.6h.9M319.5 78.9h.9M319.2 86.6h.9M319.8 54.4h.9M321.3 86.7h.9M319.2 67.5h.9M318.6 59.6h.9M318.8 65.0h.9M319.0 47.6h.9M321.8 62.2h.9M318.6 81.6h.9M322.0 75.9h.9M320.8 51.1h.9M319.2 92.9h.9M322.6 63.3h.9M319.4 71.0h.9M319.3 86.6h.9M317.8 62.5h.9M320.1 92.8h.9M317.6 82.5h.9M322.7 56.8h.9M321.8 59.8h.9M321.3 54.6h.9M318.3 47.1h.9M322.7 64.0h.9M320.9 48.0h.9M318.9 57.7h.9M318.2 53.1h.9M318.4 63.7h.9M320.8 43.3h.9M318.1 68.3h.9M318.1 75.7h.9M319.0 76.2h.9M320.6 84.2h.9M318.8 59.4h.9M318.2 92.7h.9M318.9 48.6h.9M319.0 76.8h.9M318.6 52.0h.9M319.2 52.7h.9M318.3 80.0h.9M320.9 77.5h.9M320.7 49.2h.9M318.4 65.0h.9M320.8 44.0h.9M320.1 74.4h.9M318.5 78.9h.9M320.6 80.6h.9M321.4 82.7h.9M318.0 59.5h.9M318.0 75.8h.9M319.6 93.3h.9M317.4 92.6h.9M318.9 43.3h.9M321.4 54.3h.9M316.9 85.5h.9M320.0 93.6h.9M319.4 46.1h.9M320.8 86.9h.9M319.6 63.5h.9M317.9 77.1h.9M320.9 53.9h.9M320.0 84.8h.9M319.1 88.5h.9M319.6 92.5h.9M317.2 60.6h.9M318.8 93.1h.9M319.4 95.1h.9M321.2 58.6h.9M323.0 55.9h.9M320.1 63.7h.9M321.5 51.2h.9M319.1 67.8h.9M320.0 54.1h.9M321.4 76.4h.9M317.9 44.2h.9M317.5 52.5h.9M321.4 62.8h.9M319.2 66.4h.9M320.6 61.3h.9M319.2 50.5h.9M321.2 93.8h.9M321.4 72.4h.9M319.4 88.5h.9M318.3 84.1h.9M316.2 87.2h.9M322.5 65.2h.9M319.9 58.1h.9M322.1 92.5h.9M317.8 81.1h.9M316.8 64.6h.9M319.7 94.9h.9M320.3 85.4h.9M318.4 93.2h.9M321.9 86.4h.9M322.7 45.2h.9M321.3 66.2h.9M320.0 50.0h.9M320.5 85.7h.9M319.2 84.6h.9M319.8 49.3h.9M319.1 84.2h.9M321.2 79.7h.9M319.5 58.0h.9M319.2 52.2h.9M321.3 63.0h.9M323.6 66.4h.9M319.3 47.3h.9M318.8 57.2h.9M320.9 56.9h.9M318.7 62.6h.9M322.0 85.4h.9M318.4 71.7h.9M318.8 53.6h.9M319.8 84.7h.9M320.0 75.1h.9M319.8 72.0h.9M320.4 78.5h.9M318.6 87.8h.9M320.2 68.6h.9M317.9 52.8h.9M320.4 62.5h.9M322.4 54.1h.9M320.5 56.4h.9M318.6 95.8h.9M318.4 71.2h.9M321.1 57.9h.9M318.0 73.5h.9M320.9 50.3h.9M321.1 49.8h.9M319.0 59.9h.9M322.5 46.0h.9M321.1 72.2h.9M319.1 87.7h.9M318.3 75.1h.9M319.5 58.0h.9M318.4 93.1h.9M319.1 69.7h.9M319.2 84.3h.9M318.3 85.3h.9M315.8 84.3h.9M318.4 61.4h.9M318.1 47.7h.9M318.4 94.3h.9M318.9 81.0h.9M318.9 69.0h.9M319.1 52.3h.9M320.4 82.3h.9M332.5 84.8h.9M331.5 76.4h.9M331.2 44.6h.9M332.3 72.2h.9M331.3 94.1h.9M331.3 52.1h.9M330.2 79.5h.9M333.9 78.2h.9M332.7 57.8h.9M333.0 48.8h.9M331.4 92.4h.9M331.9 91.9h.9M333.1 51.8h.9M333.2 94.4h.9M330.7 66.6h.9M331.8 61.3h.9M331.4 44.4h.9M334.3 72.1h.9M333.1 50.1h.9M334.2 57.1h.9M331.3 55.9h.9M331.1 77.1h.9M330.7 63.4h.9M332.3 83.2h.9M331.0 89.2h.9M331.5 80.1h.9M327.9 48.9h.9M329.7 57.3h.9M334.2 79.0h.9M329.7 84.3h.9M330.6 52.0h.9M331.2 65.6h.9M329.0 50.8h.9M330.8 61.1h.9M333.9 74.0h.9M330.0 73.6h.9M330.7 79.0h.9M332.6 84.4h.9M330.7 89.7h.9M332.5 70.3h.9M332.3 44.0h.9M331.3 55.7h.9M329.9 79.3h.9M331.9 52.4h.9M329.7 78.2h.9M331.5 62.0h.9M330.9 49.4h.9M332.1 80.3h.9M329.9 70.8h.9M331.4 83.5h.9M333.4 83.0h.9M330.2 72.6h.9M332.1 81.1h.9M331.9 88.7h.9M332.4 57.5h.9M330.0 76.6h.9M331.1 91.3h.9M328.7 88.7h.9M330.2 50.2h.9M332.4 88.1h.9M332.4 71.5h.9M331.5 60.3h.9M330.2 45.3h.9M331.2 47.9h.9M332.7 66.8h.9M330.6 60.8h.9M331.1 54.0h.9M332.7 77.3h.9M332.7 46.7h.9M330.6 82.0h.9M332.9 66.3h.9M329.6 66.7h.9M332.4 59.4h.9M332.2 68.2h.9M330.5 80.5h.9M330.6 43.4h.9M331.2 53.6h.9M331.3 66.0h.9M331.7 72.2h.9M330.5 92.4h.9M328.9 61.6h.9M331.6 73.4h.9M331.5 46.0h.9M329.1 62.7h.9M332.5 55.8h.9M331.2 49.6h.9M331.3 74.8h.9M330.4 55.8h.9M331.4 50.5h.9M334.9 43.4h.9M330.3 61.5h.9M334.4 57.3h.9M329.2 46.5h.9M332.0 68.7h.9M328.8 76.0h.9M332.4 69.9h.9M331.9 44.1h.9M333.0 43.4h.9M328.4 45.8h.9M330.8 80.7h.9M333.5 71.4h.9M330.7 75.4h.9M330.3 72.8h.9M331.6 60.0h.9M329.6 77.4h.9M330.4 80.9h.9M331.8 62.9h.9M332.5 72.0h.9M331.7 70.9h.9M332.8 69.4h.9M331.9 94.7h.9M332.4 88.9h.9M329.6 53.2h.9M331.2 87.4h.9M330.0 91.7h.9M330.7 91.5h.9M329.9 51.1h.9M332.2 61.9h.9M333.9 73.3h.9M334.3 49.8h.9M333.7 82.7h.9M332.4 50.0h.9M330.2 72.5h.9M332.1 60.3h.9M331.2 92.7h.9M330.9 42.9h.9M328.2 76.2h.9M331.9 73.3h.9M333.0 66.2h.9M332.3 58.6h.9M332.8 94.2h.9M329.3 52.0h.9M332.4 72.7h.9M333.0 61.7h.9M332.1 84.6h.9M331.6 90.8h.9M331.3 74.1h.9M331.4 55.2h.9M329.1 59.5h.9M331.4 50.1h.9M334.2 83.5h.9M331.3 65.3h.9M330.8 80.8h.9M330.2 81.7h.9M333.1 89.9h.9M329.5 60.4h.9M329.2 82.5h.9M331.8 45.9h.9M331.1 74.7h.9M332.9 82.5h.9M330.7 54.4h.9M333.3 63.5h.9M330.5 76.2h.9M333.3 76.7h.9M330.7 69.8h.9M332.4 83.3h.9M330.9 84.9h.9M332.2 60.8h.9M332.0 80.8h.9M331.2 84.5h.9M331.7 53.7h.9M329.4 67.5h.9M331.4 89.7h.9M333.0 51.8h.9M329.3 64.4h.9M332.0 79.3h.9M332.5 49.1h.9M331.8 55.1h.9M329.7 57.1h.9M329.7 78.4h.9M329.7 83.2h.9M331.4 47.7h.9M330.8 85.3h.9M331.9 46.6h.9M330.1 49.5h.9M334.2 94.3h.9M331.0 93.3h.9M332.2 50.7h.9M329.9 54.3h.9M330.4 57.0h.9M342.6 80.0h.9M341.6 62.0h.9M345.0 95.5h.9M343.0 82.1h.9M343.1 95.9h.9M342.9 86.9h.9M343.7 53.9h.9M342.5 70.1h.9M344.4 60.8h.9M341.6 86.7h.9M340.9 47.5h.9M346.4 88.2h.9M342.8 57.7h.9M342.8 65.0h.9M342.2 46.0h.9M341.2 72.4h.9M342.0 90.5h.9M343.3 81.8h.9M343.4 55.7h.9M343.0 55.3h.9M341.3 74.2h.9M343.4 80.7h.9M342.7 47.9h.9M342.3 70.9h.9M343.9 48.2h.9M341.9 60.2h.9M343.8 77.1h.9M341.4 65.2h.9M344.7 85.0h.9M341.5 60.8h.9M342.7 76.4h.9M343.0 88.0h.9M344.1 80.4h.9M342.9 78.5h.9M343.3 90.7h.9M343.0 62.7h.9M342.4 46.6h.9M341.6 79.9h.9M342.5 53.4h.9M341.8 46.3h.9M341.3 65.5h.9M342.0 88.4h.9M344.5 45.0h.9M344.1 56.5h.9M344.0 83.8h.9M342.4 93.4h.9M341.8 44.3h.9M341.5 90.9h.9M342.9 71.7h.9M344.5 78.9h.9M343.0 80.6h.9M344.3 51.1h.9M338.3 60.3h.9M343.0 93.8h.9M343.9 76.4h.9M341.0 70.1h.9M341.0 59.9h.9M340.2 82.8h.9M344.7 51.8h.9M340.9 58.0h.9M343.5 74.1h.9M344.1 60.0h.9M342.1 46.1h.9M341.1 69.6h.9M341.6 81.7h.9M343.0 86.9h.9M343.1 64.0h.9M341.1 54.2h.9M341.4 60.4h.9M343.4 65.8h.9M341.2 69.8h.9M343.7 89.1h.9M342.4 49.4h.9M341.8 95.8h.9M340.4 57.8h.9M344.5 66.3h.9M340.6 60.4h.9M344.3 92.6h.9M343.7 58.8h.9M343.5 65.8h.9M344.1 62.0h.9M342.3 93.4h.9M342.3 53.7h.9M341.5 56.0h.9M342.2 66.1h.9M340.4 70.4h.9M344.7 62.2h.9M344.2 83.4h.9M344.1 45.9h.9M342.5 83.7h.9M341.5 68.9h.9M343.5 91.0h.9M341.9 50.2h.9M340.5 45.2h.9M344.9 62.8h.9M343.0 79.7h.9M341.9 84.0h.9M342.4 74.8h.9M342.5 68.2h.9M342.6 75.8h.9M342.4 81.4h.9M343.4 55.7h.9M342.4 43.8h.9M343.3 77.0h.9M341.7 86.7h.9M342.2 69.6h.9M341.8 56.5h.9M340.7 84.6h.9M342.6 78.9h.9M345.1 88.6h.9M343.5 55.8h.9M345.2 78.0h.9M342.6 49.1h.9M344.3 43.2h.9M341.5 93.9h.9M344.2 55.5h.9M344.1 60.7h.9M341.2 79.0h.9M342.8 72.7h.9M342.9 88.8h.9M343.4 87.4h.9M342.5 79.3h.9M343.8 92.6h.9M345.0 48.5h.9M345.5 46.6h.9M345.8 93.5h.9M343.5 43.5h.9M344.5 55.9h.9M344.3 54.9h.9M343.4 75.2h.9M343.7 72.4h.9M344.5 80.2h.9M344.7 64.4h.9M340.4 54.2h.9M344.4 70.5h.9M344.5 62.3h.9M343.2 75.4h.9M343.9 61.1h.9M343.2 87.4h.9M342.6 82.5h.9M343.5 51.6h.9M342.4 52.6h.9M343.3 76.2h.9M344.0 60.8h.9M342.0 70.7h.9M342.3 54.1h.9M345.1 85.4h.9M342.4 93.4h.9M342.6 61.9h.9M343.7 54.4h.9M343.0 83.0h.9M342.6 90.0h.9M344.2 94.6h.9M341.5 43.2h.9M343.7 49.4h.9M343.1 67.7h.9M343.4 44.9h.9M343.5 78.1h.9M343.6 62.8h.9M342.2 84.4h.9M344.3 53.9h.9M344.5 57.9h.9M342.6 82.2h.9M342.7 91.7h.9M342.0 94.0h.9M344.8 55.6h.9M344.3 60.5h.9M342.4 58.1h.9M344.1 84.5h.9M342.8 60.6h.9M344.0 50.2h.9M342.3 94.1h.9M343.1 85.8h.9M341.6 79.3h.9M343.6 44.9h.9M346.2 69.4h.9M342.2 46.2h.9M342.4 78.0h.9M343.5 87.5h.9M342.7 94.0h.9M355.4 89.0h.9M351.7 61.6h.9M354.9 62.1h.9M355.5 64.7h.9M356.0 44.5h.9M358.0 55.0h.9M356.5 68.9h.9M353.0 83.5h.9M355.8 59.1h.9M355.3 93.3h.9M354.1 88.9h.9M352.0 46.8h.9M355.7 59.7h.9M357.7 88.3h.9M357.4 45.7h.9M355.8 63.2h.9M354.9 53.7h.9M353.5 69.2h.9M354.7 72.7h.9M353.8 50.8h.9M353.3 82.0h.9M355.9 86.5h.9M353.2 79.2h.9M355.1 95.1h.9M354.2 50.3h.9M355.5 48.4h.9M354.7 62.0h.9M355.4 95.1h.9M357.3 61.9h.9M356.0 67.6h.9M354.0 79.3h.9M353.5 78.7h.9M358.2 57.2h.9M354.4 86.8h.9M352.9 94.6h.9M356.4 51.0h.9M353.9 88.3h.9M353.5 68.9h.9M355.3 43.2h.9M352.9 93.2h.9M354.4 68.0h.9M354.8 45.7h.9M355.5 92.7h.9M352.6 48.1h.9M356.3 80.8h.9M356.5 55.5h.9M354.8 71.4h.9M353.8 47.1h.9M356.5 62.1h.9M355.8 67.0h.9M356.3 68.7h.9M353.8 91.0h.9M354.3 53.3h.9M353.8 75.8h.9M353.2 71.7h.9M354.1 50.6h.9M353.1 86.6h.9M352.6 44.6h.9M356.4 53.4h.9M353.7 48.2h.9M356.4 89.7h.9M353.9 68.4h.9M355.9 60.6h.9M355.4 95.9h.9M353.9 75.6h.9M355.9 72.1h.9M355.8 51.8h.9M354.5 92.2h.9M353.6 65.9h.9M355.8 72.4h.9M354.8 45.9h.9M351.3 72.6h.9M356.8 46.5h.9M355.4 43.5h.9M355.5 67.3h.9M353.6 57.3h.9M353.8 70.7h.9M353.8 90.5h.9M355.8 46.2h.9M355.8 67.0h.9M354.9 85.9h.9M356.7 63.8h.9M352.5 57.0h.9M353.3 77.8h.9M356.1 51.2h.9M353.2 86.1h.9M354.7 58.8h.9M354.5 79.9h.9M353.3 75.3h.9M355.0 75.5h.9M355.7 86.3h.9M358.1 62.2h.9M352.4 72.1h.9M355.4 70.2h.9M356.4 59.6h.9M355.3 91.5h.9M355.5 93.5h.9M356.5 92.4h.9M356.4 91.6h.9M355.7 89.1h.9M354.4 44.7h.9M355.9 45.1h.9M353.1 85.4h.9M353.3 77.5h.9M354.7 63.9h.9M354.9 70.0h.9M354.3 47.8h.9M357.3 63.4h.9M353.1 51.2h.9M354.1 87.6h.9M355.6 48.8h.9M355.9 62.5h.9M352.3 53.1h.9M353.3 90.8h.9M354.8 47.2h.9M353.9 91.0h.9M354.1 56.7h.9M356.2 76.2h.9M356.4 43.1h.9M356.3 69.0h.9M352.7 63.6h.9M353.2 51.8h.9M354.5 49.4h.9M353.5 88.5h.9M352.7 85.5h.9M357.1 93.1h.9M355.9 59.3h.9M355.2 75.9h.9M352.6 55.1h.9M355.1 50.8h.9M354.5 58.2h.9M355.3 61.9h.9M355.0 44.5h.9M353.5 88.4h.9M354.7 52.4h.9M353.5 54.8h.9M353.9 43.8h.9M353.8 71.9h.9M356.1 68.0h.9M355.6 46.0h.9M355.1 62.1h.9M353.1 81.9h.9M354.8 76.8h.9M356.2 88.2h.9M355.6 83.3h.9M352.5 81.7h.9M354.6 50.4h.9M355.1 86.6h.9M352.7 63.0h.9M354.3 77.1h.9M353.9 94.8h.9M354.8 50.8h.9M352.4 61.6h.9M353.6 67.2h.9M352.3 76.9h.9M355.2 66.9h.9M355.5 46.1h.9M354.3 52.5h.9M355.9 54.1h.9M355.6 78.8h.9M355.8 78.9h.9M355.1 57.1h.9M355.9 61.6h.9M353.9 87.5h.9M354.2 81.9h.9M353.2 79.7h.9M355.5 87.6h.9M353.9 69.9h.9M354.4 79.2h.9M354.7 72.4h.9M356.5 75.4h.9M353.0 64.6h.9M355.0 92.0h.9M353.9 52.7h.9M355.6 93.3h.9M356.1 61.4h.9M355.4 66.1h.9M354.6 75.8h.9M353.5 90.1h.9M354.2 82.9h.9M363.9 58.3h.9M368.2 51.3h.9M366.5 56.3h.9M366.7 82.9h.9M363.9 55.4h.9M368.2 52.3h.9M364.4 61.1h.9M366.2 76.3h.9M366.6 86.0h.9M366.9 43.6h.9M365.4 58.1h.9M366.3 90.2h.9M364.7 64.9h.9M364.9 52.3h.9M365.1 73.0h.9M367.9 83.6h.9M366.4 64.3h.9M367.3 85.4h.9M367.7 82.7h.9M366.7 93.9h.9M364.8 55.2h.9M364.7 81.5h.9M366.1 49.3h.9M365.6 87.2h.9M366.2 73.7h.9M365.4 82.3h.9M365.9 61.5h.9M366.1 96.0h.9M365.1 52.7h.9M365.2 50.5h.9M367.7 81.4h.9M366.8 86.1h.9M366.0 58.8h.9M366.1 76.5h.9M364.3 74.7h.9M366.4 86.7h.9M365.4 76.4h.9M369.0 86.5h.9M366.1 88.5h.9M363.8 51.9h.9M365.9 93.5h.9M366.4 46.0h.9M366.8 50.3h.9M366.4 59.4h.9M365.5 50.5h.9M366.7 46.0h.9M364.6 64.3h.9M366.1 52.2h.9M366.8 87.2h.9M367.8 72.0h.9M364.0 83.6h.9M366.8 77.7h.9M367.0 69.7h.9M363.7 79.6h.9M369.1 52.9h.9M366.7 92.1h.9M369.4 64.4h.9M364.5 57.5h.9M366.3 80.2h.9M366.1 47.6h.9M365.2 82.5h.9M365.7 47.8h.9M367.4 49.1h.9M368.0 75.1h.9M364.1 56.0h.9M367.4 69.2h.9M364.2 59.0h.9M366.0 77.8h.9M367.1 51.8h.9M365.7 86.4h.9M365.7 80.3h.9M366.5 89.4h.9M367.1 79.1h.9M367.8 49.7h.9M366.4 88.2h.9M364.3 84.3h.9M364.9 91.7h.9M367.4 78.2h.9M364.4 62.1h.9M365.0 93.4h.9M368.3 88.6h.9M364.6 52.1h.9M364.9 92.2h.9M368.1 55.8h.9M364.7 67.6h.9M367.6 62.9h.9M366.9 89.1h.9M366.6 70.8h.9M365.3 67.3h.9M366.2 62.5h.9M365.9 93.8h.9M364.8 94.6h.9M365.9 93.6h.9M367.4 57.2h.9M365.9 94.6h.9M366.3 84.8h.9M363.6 93.2h.9M365.6 91.0h.9M365.0 49.9h.9M364.2 79.8h.9M367.3 59.0h.9M365.9 65.1h.9M367.2 44.0h.9M367.1 43.9h.9M367.0 49.4h.9M368.7 96.0h.9M366.8 74.9h.9M368.8 76.6h.9M367.3 79.4h.9M364.9 90.8h.9M365.7 71.5h.9M367.0 92.6h.9M367.2 52.5h.9M364.8 43.0h.9M366.6 87.9h.9M367.2 75.8h.9M363.7 86.9h.9M367.1 86.6h.9M366.5 59.0h.9M364.0 70.9h.9M366.0 77.0h.9M366.1 67.2h.9M367.4 83.9h.9M366.7 66.6h.9M366.4 53.1h.9M364.9 56.1h.9M366.2 84.3h.9M365.8 84.3h.9M367.7 44.5h.9M367.5 82.5h.9M368.5 55.2h.9M365.1 86.0h.9M365.5 56.3h.9M368.6 77.6h.9M368.6 79.5h.9M364.3 51.8h.9M364.4 42.9h.9M365.1 48.0h.9M367.3 57.4h.9M364.2 76.3h.9M365.7 91.8h.9M367.5 49.1h.9M364.2 92.0h.9M364.6 56.2h.9M370.7 80.2h.9M366.2 78.4h.9M367.5 68.3h.9M365.4 52.4h.9M366.0 57.6h.9M366.4 74.8h.9M367.5 77.9h.9M366.1 48.2h.9M366.6 59.9h.9M367.3 43.1h.9M366.8 58.0h.9M367.8 81.3h.9M365.9 77.4h.9M365.8 64.3h.9M366.8 80.4h.9M365.9 76.0h.9M366.8 92.5h.9M365.2 92.7h.9M366.4 90.5h.9M363.8 90.3h.9M365.5 55.6h.9M367.5 63.7h.9M364.3 49.7h.9M367.8 94.4h.9M365.7 80.4h.9M366.4 83.9h.9M368.4 54.2h.9M365.8 91.5h.9M367.1 67.7h.9M366.3 59.3h.9M363.5 70.2h.9M365.7 55.0h.9M365.1 78.3h.9M366.7 95.5h.9M365.0 63.4h.9M365.9 87.8h.9M377.2 84.4h.9M378.5 69.8h.9M378.2 74.1h.9M378.7 63.7h.9M377.4 51.5h.9M378.2 74.1h.9M377.2 85.6h.9M375.8 65.0h.9M378.8 56.4h.9M380.0 60.5h.9M378.4 49.3h.9M377.1 60.9h.9M377.7 71.2h.9M377.4 92.0h.9M379.8 86.9h.9M376.6 76.1h.9M377.1 55.5h.9M378.1 51.3h.9M377.5 82.9h.9M376.2 60.5h.9M375.5 63.3h.9M377.4 54.4h.9M378.4 50.8h.9M377.8 76.5h.9M377.4 45.3h.9M376.5 60.8h.9M379.5 64.5h.9M378.2 89.4h.9M379.2 96.0h.9M376.6 53.9h.9M378.8 55.8h.9M377.7 77.5h.9M378.1 61.3h.9M379.1 88.8h.9M378.9 77.8h.9M378.3 91.2h.9M376.5 64.2h.9M377.7 61.2h.9M378.1 61.6h.9M374.4 86.4h.9M379.4 75.0h.9M377.6 75.3h.9M378.7 80.8h.9M378.9 52.5h.9M377.0 47.3h.9M378.0 48.4h.9M376.4 76.4h.9M377.2 47.1h.9M377.8 85.0h.9M378.6 43.6h.9M377.5 48.7h.9M378.3 48.9h.9M378.2 72.5h.9M377.0 43.4h.9M379.3 61.2h.9M375.2 70.9h.9M378.2 88.4h.9M377.9 67.7h.9M375.7 78.9h.9M379.0 59.8h.9M379.7 83.0h.9M379.7 92.2h.9M378.2 96.0h.9M378.8 72.3h.9M379.8 69.4h.9M377.7 62.0h.9M378.6 56.6h.9M380.8 73.3h.9M379.8 43.9h.9M376.2 52.6h.9M378.2 58.1h.9M376.8 74.9h.9M377.6 48.7h.9M377.5 45.4h.9M378.6 74.0h.9M377.1 49.2h.9M377.7 49.3h.9M377.9 50.8h.9M377.7 44.7h.9M377.0 88.4h.9M377.8 80.3h.9M378.1 56.2h.9M377.0 90.1h.9M377.0 60.6h.9M379.1 86.6h.9M381.4 60.6h.9M378.3 55.5h.9M378.3 85.9h.9M377.2 76.4h.9M375.7 81.7h.9M381.2 68.8h.9M378.0 52.4h.9M377.9 72.4h.9M379.0 92.6h.9M378.4 94.2h.9M377.8 58.9h.9M379.1 48.2h.9M378.7 61.6h.9M379.4 71.6h.9M378.1 66.2h.9M377.4 81.8h.9M377.9 55.7h.9M378.2 75.3h.9M379.1 76.7h.9M377.4 88.7h.9M375.8 86.0h.9M379.1 92.1h.9M378.6 54.7h.9M378.3 56.9h.9M377.7 61.8h.9M379.3 95.6h.9M376.5 94.3h.9M378.1 43.3h.9M378.0 68.7h.9M380.0 71.4h.9M379.3 90.2h.9M378.4 73.0h.9M377.1 55.5h.9M378.7 52.6h.9M375.8 87.5h.9M378.1 45.1h.9M378.0 79.9h.9M378.4 88.2h.9M378.8 83.4h.9M379.5 81.2h.9M376.4 42.8h.9M378.4 77.4h.9M375.8 88.3h.9M379.8 78.4h.9M378.3 66.5h.9M378.3 69.7h.9M380.4 54.0h.9M378.9 61.5h.9M376.6 61.2h.9M378.2 64.9h.9M376.9 43.6h.9M377.5 44.7h.9M377.4 82.2h.9M378.8 45.3h.9M377.1 86.1h.9M377.5 85.3h.9M378.7 48.7h.9M377.0 57.0h.9M379.7 63.5h.9M376.7 71.2h.9M376.3 44.4h.9M378.7 49.0h.9M379.5 52.9h.9M378.1 88.6h.9M379.4 69.8h.9M377.3 79.1h.9M377.7 55.8h.9M377.2 91.6h.9M375.9 53.1h.9M375.7 57.6h.9M378.6 95.1h.9M377.8 53.1h.9M378.2 81.3h.9M379.4 64.8h.9M378.2 94.3h.9M377.8 84.9h.9M376.0 82.1h.9M380.5 48.1h.9M377.3 75.5h.9M378.6 71.4h.9M377.3 86.5h.9M377.2 69.2h.9M379.7 56.6h.9M378.9 88.1h.9M378.2 56.8h.9M378.3 82.3h.9M377.2 52.9h.9M377.7 65.6h.9M377.9 74.8h.9M377.3 60.5h.9M378.6 68.6h.9M380.8 92.8h.9M377.8 67.0h.9M380.1 59.7h.9M375.9 77.6h.9M390.1 73.4h.9M389.6 69.2h.9M388.8 69.9h.9M391.6 75.0h.9M390.3 75.5h.9M388.1 78.0h.9M389.5 89.1h.9M387.9 62.2h.9M390.4 48.3h.9M390.9 92.5h.9M388.0 57.5h.9M390.2 58.1h.9M388.9 96.0h.9M389.7 64.7h.9M392.8 60.4h.9M389.3 48.3h.9M389.9 62.4h.9M390.0 61.8h.9M388.5 84.9h.9M389.9 63.3h.9M389.4 85.9h.9M388.9 66.8h.9M387.7 67.6h.9M389.0 95.2h.9M389.4 72.8h.9M391.1 44.4h.9M389.8 57.3h.9M391.1 43.0h.9M389.9 51.3h.9M390.6 91.8h.9M390.7 94.1h.9M390.1 67.5h.9M388.3 83.8h.9M390.7 90.5h.9M392.7 86.8h.9M390.2 45.1h.9M388.2 75.8h.9M389.0 66.6h.9M389.0 92.3h.9M388.2 74.7h.9M387.9 43.4h.9M388.8 46.7h.9M388.6 82.9h.9M389.9 50.2h.9M389.6 73.0h.9M390.3 85.6h.9M390.2 77.2h.9M388.9 60.4h.9M389.5 43.0h.9M390.3 65.1h.9M388.6 52.4h.9M388.9 89.1h.9M390.1 88.4h.9M391.1 84.9h.9M390.9 59.5h.9M390.0 62.5h.9M386.8 93.4h.9M392.5 53.1h.9M390.2 49.5h.9M392.8 89.2h.9M391.5 91.7h.9M388.8 57.6h.9M387.0 53.4h.9M388.8 76.5h.9M389.6 55.5h.9M389.9 56.6h.9M387.9 94.7h.9M390.5 75.8h.9M387.7 95.2h.9M389.5 69.9h.9M388.9 50.8h.9M389.3 73.5h.9M390.8 73.5h.9M390.2 56.3h.9M389.3 63.2h.9M389.1 48.2h.9M389.8 94.0h.9M389.6 79.1h.9M389.3 57.0h.9M391.2 54.4h.9M391.0 48.4h.9M388.6 62.2h.9M388.4 95.0h.9M389.8 76.7h.9M387.4 66.8h.9M391.1 96.0h.9M389.2 61.1h.9M388.9 71.0h.9M392.9 92.5h.9M391.3 64.7h.9M391.8 52.9h.9M389.7 75.0h.9M388.8 55.1h.9M390.3 86.6h.9M389.5 81.5h.9M387.8 91.7h.9M391.4 45.0h.9M387.4 64.7h.9M390.4 96.0h.9M391.5 65.4h.9M391.4 81.2h.9M391.8 81.9h.9M388.2 59.2h.9M392.8 46.8h.9M390.3 45.9h.9M387.8 89.9h.9M387.2 69.0h.9M390.4 78.6h.9M391.0 95.6h.9M390.9 71.8h.9M387.0 54.2h.9M391.5 92.1h.9M390.2 76.8h.9M392.2 73.9h.9M391.2 64.2h.9M391.4 49.3h.9M386.9 48.8h.9M389.4 62.5h.9M387.3 59.9h.9M389.5 80.2h.9M390.9 73.8h.9M387.2 69.8h.9M388.0 80.7h.9M390.4 43.7h.9M393.3 77.4h.9M388.7 58.9h.9M389.8 80.7h.9M389.7 91.8h.9M388.6 57.0h.9M390.4 61.4h.9M391.8 79.8h.9M391.5 50.9h.9M391.2 91.4h.9M388.7 88.5h.9M391.3 56.9h.9M391.0 50.0h.9M391.1 79.1h.9M390.3 93.4h.9M388.6 58.6h.9M388.9 68.5h.9M392.0 64.7h.9M389.0 64.6h.9M391.3 55.9h.9M390.4 73.5h.9M387.2 50.5h.9M391.4 45.7h.9M387.8 62.7h.9M388.0 43.4h.9M390.7 52.3h.9M389.2 52.2h.9M390.1 55.0h.9M392.5 44.3h.9M390.6 62.2h.9M387.2 83.6h.9M387.3 69.5h.9M388.9 43.6h.9M387.7 79.6h.9M389.6 75.8h.9M389.4 80.8h.9M390.9 69.5h.9M390.1 45.4h.9M391.7 59.7h.9M391.2 61.3h.9M390.5 68.3h.9M391.2 59.6h.9M390.0 72.0h.9M391.3 78.8h.9M388.0 69.9h.9M389.2 78.7h.9M389.7 54.8h.9M387.1 85.4h.9M388.4 74.6h.9M388.6 91.3h.9M390.5 94.2h.9M388.1 54.8h.9M387.1 66.8h.9M390.2 74.1h.9M389.4 75.9h.9M388.6 91.6h.9M388.3 48.1h.9M402.1 88.1h.9M399.2 61.6h.9M401.3 57.3h.9M402.2 74.6h.9M400.4 53.2h.9M401.4 74.5h.9M400.3 44.0h.9M401.6 50.1h.9M402.2 75.2h.9M399.3 72.7h.9M402.5 84.5h.9M401.0 72.1h.9M401.0 63.7h.9M399.8 87.9h.9M399.6 66.1h.9M402.5 88.6h.9M402.1 65.9h.9M398.4 75.1h.9M401.0 69.7h.9M404.6 83.3h.9M401.1 46.6h.9M396.6 59.9h.9M403.0 90.1h.9M404.1 87.3h.9M401.5 92.8h.9M403.1 44.4h.9M399.5 74.9h.9M403.0 61.8h.9M400.3 43.5h.9M401.2 88.2h.9M401.4 81.7h.9M401.1 69.9h.9M401.8 66.6h.9M400.0 56.1h.9M402.0 89.0h.9M400.6 45.8h.9M399.7 75.7h.9M400.1 96.0h.9M399.7 47.5h.9M400.3 44.0h.9M402.0 78.6h.9M400.9 68.3h.9M399.1 85.8h.9M399.4 60.5h.9M400.5 68.6h.9M399.6 68.6h.9M401.7 45.6h.9M402.1 83.3h.9M401.6 68.7h.9M401.7 67.4h.9M402.0 68.2h.9M398.9 45.7h.9M398.5 59.0h.9M401.7 60.9h.9M401.3 52.4h.9M402.0 47.2h.9M401.0 64.0h.9M401.4 65.1h.9M402.3 54.4h.9M400.1 93.2h.9M397.6 60.2h.9M398.3 69.5h.9M402.5 43.9h.9M402.9 92.8h.9M402.8 84.9h.9M403.8 91.8h.9M400.3 51.1h.9M403.4 70.1h.9M401.2 79.3h.9M401.1 50.2h.9M401.0 43.2h.9M401.0 62.5h.9M400.6 87.6h.9M403.6 61.0h.9M401.4 93.3h.9M401.4 61.8h.9M399.9 62.1h.9M401.9 66.2h.9M401.6 70.7h.9M401.4 62.7h.9M400.4 48.6h.9M401.7 85.5h.9M402.0 81.9h.9M402.4 89.6h.9M399.1 43.0h.9M401.1 48.1h.9M400.9 89.6h.9M402.6 52.3h.9M402.4 80.3h.9M399.2 59.3h.9M397.3 63.5h.9M402.1 81.6h.9M397.8 53.6h.9M400.4 84.5h.9M397.6 66.8h.9M403.7 55.2h.9M402.2 77.9h.9M400.2 72.1h.9M402.2 46.7h.9M400.4 43.5h.9M401.1 51.2h.9M402.1 69.8h.9M401.8 90.7h.9M401.7 57.4h.9M400.9 46.7h.9M400.8 83.9h.9M402.0 86.9h.9M401.3 46.1h.9M400.8 63.9h.9M401.7 78.3h.9M400.8 50.8h.9M401.9 89.7h.9M401.8 69.7h.9M403.3 82.8h.9M401.0 93.5h.9M403.8 81.7h.9M400.3 83.2h.9M399.7 61.2h.9M401.4 59.4h.9M403.7 76.6h.9M403.0 82.5h.9M401.6 49.1h.9M401.0 72.1h.9M400.2 51.9h.9M401.2 75.0h.9M400.3 48.6h.9M400.5 62.9h.9M400.4 68.3h.9M401.2 63.6h.9M401.8 84.5h.9M401.1 72.9h.9M402.8 68.0h.9M403.3 81.4h.9M400.8 85.1h.9M401.2 95.9h.9M401.9 87.9h.9M399.2 95.8h.9M401.1 72.8h.9M401.5 81.0h.9M401.0 61.1h.9M401.0 86.3h.9M400.2 52.5h.9M402.2 90.2h.9M400.5 79.1h.9M400.8 48.2h.9M401.6 52.8h.9M400.8 52.6h.9M398.2 64.0h.9M402.6 51.4h.9M401.7 52.4h.9M400.8 64.1h.9M397.4 81.8h.9M401.3 90.8h.9M402.6 49.4h.9M401.0 67.3h.9M399.4 93.0h.9M401.9 62.0h.9M401.5 55.8h.9M401.5 79.7h.9M401.6 73.0h.9M402.2 88.2h.9M403.7 73.1h.9M399.6 68.3h.9M401.2 78.4h.9M402.2 84.1h.9M401.8 52.0h.9M402.3 73.5h.9M401.9 63.1h.9M401.6 77.3h.9M401.3 65.2h.9M400.7 62.7h.9M400.4 86.1h.9M400.1 48.8h.9M400.7 82.0h.9M401.5 58.8h.9M400.7 64.3h.9M403.0 48.0h.9M401.3 79.9h.9M401.7 79.8h.9M401.1 94.4h.9M412.4 69.9h.9M413.2 68.8h.9M412.3 61.6h.9M415.3 68.2h.9M415.1 93.9h.9M414.6 76.4h.9M413.7 59.9h.9M413.2 64.4h.9M413.0 80.5h.9M413.2 94.8h.9M412.0 85.1h.9M412.8 45.9h.9M413.0 59.5h.9M409.5 94.5h.9M412.2 69.8h.9M413.3 60.3h.9M411.9 83.4h.9M414.8 75.6h.9M413.8 55.3h.9M412.6 43.7h.9M412.9 95.5h.9M412.6 91.4h.9M410.4 86.1h.9M411.6 46.9h.9M412.9 95.1h.9M410.3 84.0h.9M412.7 60.9h.9M412.9 78.2h.9M411.6 82.7h.9M413.0 52.6h.9M413.0 64.7h.9M413.1 58.6h.9M413.5 47.1h.9M412.4 49.3h.9M414.2 95.9h.9M413.6 47.0h.9M413.0 90.5h.9M412.2 65.8h.9M412.4 81.5h.9M412.3 91.4h.9M410.3 90.2h.9M412.5 52.7h.9M413.8 79.2h.9M412.3 57.1h.9M411.9 92.4h.9M415.4 79.0h.9M414.6 78.4h.9M410.9 58.7h.9M412.0 62.6h.9M412.5 69.5h.9M415.6 81.4h.9M414.6 69.9h.9M414.4 56.3h.9M413.4 92.2h.9M413.2 58.1h.9M413.6 45.1h.9M412.5 81.4h.9M416.8 73.3h.9M411.1 82.3h.9M414.3 63.6h.9M412.5 84.5h.9M413.4 43.2h.9M411.4 46.6h.9M413.4 86.3h.9M412.6 44.8h.9M413.7 75.0h.9M412.0 52.4h.9M412.2 80.5h.9M413.9 77.8h.9M412.2 66.3h.9M412.4 71.1h.9M411.8 77.4h.9M411.7 58.9h.9M413.1 58.2h.9M410.9 80.2h.9M411.3 63.9h.9M411.4 56.3h.9M413.1 89.9h.9M412.8 87.7h.9M412.2 67.5h.9M415.0 67.4h.9M411.7 79.9h.9M414.9 64.3h.9M412.2 75.0h.9M413.1 85.1h.9M412.0 48.4h.9M413.0 77.1h.9M411.4 49.5h.9M414.5 79.8h.9M411.5 91.1h.9M410.5 68.7h.9M412.3 47.6h.9M410.1 52.1h.9M412.8 63.1h.9M411.8 46.9h.9M414.5 51.8h.9M415.4 79.3h.9M415.3 43.3h.9M412.6 69.9h.9M411.2 90.3h.9M413.0 74.2h.9M412.8 92.3h.9M411.0 89.3h.9M414.4 77.3h.9M411.7 65.5h.9M412.4 71.9h.9M413.2 60.2h.9M413.6 65.1h.9M413.1 60.0h.9M413.1 83.4h.9M412.3 57.0h.9M413.8 48.7h.9M412.9 78.5h.9M413.1 68.6h.9M412.7 63.4h.9M414.2 78.6h.9M414.2 85.2h.9M411.7 43.0h.9M411.2 85.7h.9M411.8 51.4h.9M410.0 69.8h.9M414.0 73.3h.9M413.2 72.3h.9M414.7 77.0h.9M411.6 92.0h.9M412.5 51.6h.9M414.0 94.1h.9M414.4 60.4h.9M412.7 48.1h.9M415.6 55.7h.9M412.3 60.7h.9M412.1 53.1h.9M413.3 65.3h.9M414.0 87.1h.9M413.4 68.1h.9M411.6 88.7h.9M411.6 78.5h.9M414.4 80.3h.9M413.5 88.6h.9M412.1 42.9h.9M413.9 94.7h.9M413.9 68.3h.9M417.0 80.3h.9M414.8 53.8h.9M412.4 70.0h.9M413.0 46.0h.9M411.1 53.8h.9M414.6 65.4h.9M415.0 65.2h.9M411.3 57.3h.9M413.0 60.2h.9M413.0 75.2h.9M412.1 50.8h.9M412.8 92.1h.9M409.8 46.0h.9M412.2 71.5h.9M411.9 43.2h.9M413.4 59.9h.9M411.1 95.7h.9M413.4 66.5h.9M413.7 45.1h.9M413.6 77.7h.9M411.7 65.5h.9M415.3 90.1h.9M412.8 84.2h.9M413.7 75.8h.9M411.3 52.6h.9M413.7 55.3h.9M411.4 69.5h.9M412.9 75.4h.9M412.7 80.8h.9M415.5 56.7h.9M413.1 88.1h.9M414.5 74.7h.9M410.9 73.5h.9M414.0 46.4h.9M413.0 94.4h.9M413.6 73.6h.9M411.4 83.3h.9M414.0 95.1h.9M421.2 47.9h.9M421.6 62.3h.9M421.3 70.0h.9M421.3 67.6h.9M421.7 64.9h.9M256.7 137.9h.9M256.1 123.7h.9M255.9 121.8h.9M256.8 141.9h.9M257.1 112.3h.9M256.5 143.0h.9M256.5 133.4h.9M256.1 120.2h.9M256.3 139.9h.9M256.7 126.3h.9M256.7 124.6h.9M256.1 117.8h.9M258.7 158.7h.9M257.6 111.2h.9M256.4 136.9h.9M257.5 134.3h.9M256.2 140.5h.9M257.8 114.4h.9M255.9 119.7h.9M256.6 163.0h.9M256.4 132.6h.9M256.5 153.6h.9M256.8 146.2h.9M257.3 147.3h.9M255.9 146.6h.9M256.9 135.5h.9M258.0 142.1h.9M256.9 115.9h.9M257.3 144.4h.9M257.1 142.0h.9M256.0 114.2h.9M257.1 128.9h.9M257.1 123.4h.9M256.1 131.2h.9M256.2 156.1h.9M256.2 156.6h.9M255.9 113.2h.9M256.8 131.5h.9M257.1 161.2h.9M256.0 122.5h.9M257.2 160.7h.9M255.9 113.4h.9M257.5 123.9h.9M256.3 135.8h.9M257.7 133.6h.9M256.2 159.7h.9M258.0 156.7h.9M256.0 139.9h.9M256.8 118.5h.9M255.8 151.4h.9M257.8 145.5h.9M256.5 162.4h.9M256.8 137.2h.9M267.0 162.7h.9M267.5 141.6h.9M265.8 132.5h.9M266.1 122.0h.9M265.9 125.2h.9M268.7 151.6h.9M266.6 154.6h.9M265.4 146.9h.9M268.2 128.1h.9M269.5 122.5h.9M265.2 116.8h.9M267.1 122.7h.9M266.0 142.4h.9M266.8 118.7h.9M265.9 139.7h.9M267.0 121.2h.9M266.6 139.9h.9M266.2 145.3h.9M267.2 142.9h.9M266.6 162.3h.9M264.7 139.1h.9M265.6 139.3h.9M267.6 159.4h.9M266.2 154.9h.9M266.1 161.0h.9M266.6 142.2h.9M266.3 164.4h.9M267.9 148.6h.9M266.9 146.7h.9M266.9 140.9h.9M264.2 128.1h.9M265.3 136.0h.9M268.6 155.5h.9M267.8 123.1h.9M269.5 144.3h.9M266.6 131.4h.9M267.2 129.6h.9M265.0 123.7h.9M267.1 124.7h.9M265.1 112.2h.9M268.6 142.2h.9M266.8 144.8h.9M270.0 120.4h.9M268.3 113.6h.9M269.1 136.8h.9M265.2 128.8h.9M266.0 126.1h.9M265.4 144.4h.9M266.6 113.0h.9M265.9 138.3h.9M265.9 119.4h.9M267.7 112.7h.9M266.5 138.7h.9M267.5 153.9h.9M267.1 152.2h.9M267.1 121.2h.9M267.5 137.2h.9M268.6 127.8h.9M266.7 139.2h.9M267.7 138.7h.9M268.5 138.0h.9M266.9 149.7h.9M266.7 128.0h.9M268.0 124.7h.9M265.6 155.1h.9M267.7 132.7h.9M266.6 133.8h.9M264.8 124.7h.9M269.3 137.9h.9M266.1 163.4h.9M268.9 114.0h.9M267.0 154.3h.9M266.1 148.5h.9M265.1 124.4h.9M267.4 147.6h.9M263.4 145.4h.9M265.7 122.3h.9M266.5 131.6h.9M267.5 147.8h.9M267.2 148.4h.9M264.9 140.5h.9M266.4 115.4h.9M268.5 112.1h.9M268.9 114.3h.9M269.0 129.3h.9M266.7 149.0h.9M266.4 125.4h.9M268.4 129.7h.9M266.9 157.5h.9M264.6 158.9h.9M265.4 159.2h.9M265.8 147.4h.9M263.7 148.1h.9M266.3 150.4h.9M267.6 119.7h.9M268.6 155.8h.9M265.8 122.6h.9M266.8 163.0h.9M267.1 158.5h.9M265.7 144.8h.9M265.7 125.9h.9M265.6 129.9h.9M267.6 124.4h.9M266.4 146.4h.9M267.7 122.6h.9M267.3 120.9h.9M267.3 113.4h.9M265.9 152.7h.9M266.8 155.9h.9M270.2 122.2h.9M265.1 114.4h.9M266.3 160.2h.9M266.5 134.2h.9M268.0 141.4h.9M267.4 158.0h.9M266.2 124.0h.9M265.3 143.6h.9M266.6 133.4h.9M266.2 134.3h.9M266.5 137.4h.9M264.9 163.3h.9M267.0 111.1h.9M265.7 131.7h.9M267.7 114.4h.9M265.1 142.8h.9M266.0 133.0h.9M264.7 121.5h.9M265.0 126.4h.9M268.0 162.6h.9M267.3 146.3h.9M267.1 160.1h.9M267.5 139.1h.9M267.2 118.3h.9M265.6 125.6h.9M266.9 147.8h.9M266.7 148.2h.9M266.6 159.6h.9M268.2 142.4h.9M268.5 112.4h.9M265.4 136.1h.9M267.9 154.6h.9M268.6 136.8h.9M267.8 133.1h.9M267.4 149.3h.9M267.5 135.9h.9M265.6 146.0h.9M269.6 159.4h.9M267.1 144.1h.9M266.9 148.4h.9M266.9 147.0h.9M266.0 156.5h.9M267.5 123.4h.9M267.0 119.1h.9M266.2 113.3h.9M269.4 160.7h.9M268.4 151.6h.9M266.2 126.7h.9M265.7 111.7h.9M266.3 115.3h.9M263.0 157.9h.9M266.9 136.4h.9M263.7 118.4h.9M265.7 158.6h.9M264.7 159.0h.9M267.9 151.3h.9M263.8 120.7h.9M266.0 157.1h.9M268.2 123.1h.9M267.7 141.1h.9M265.4 122.2h.9M267.1 115.6h.9M267.4 146.7h.9M266.6 158.4h.9M265.2 163.2h.9M265.1 113.3h.9M267.4 118.8h.9M265.9 142.3h.9M268.8 144.0h.9M265.1 150.3h.9M267.4 130.0h.9M279.7 156.6h.9M277.4 141.7h.9M277.6 128.0h.9M277.8 116.3h.9M277.7 133.1h.9M278.2 123.4h.9M281.1 115.1h.9M277.1 160.0h.9M279.4 161.3h.9M278.9 143.5h.9M278.8 133.8h.9M279.7 163.3h.9M277.9 141.5h.9M277.6 149.6h.9M280.7 156.7h.9M278.1 153.1h.9M279.0 136.2h.9M279.3 156.3h.9M279.0 156.1h.9M277.5 133.3h.9M279.0 160.3h.9M279.5 126.1h.9M277.9 137.5h.9M276.1 119.9h.9M277.5 138.2h.9M278.1 138.9h.9M278.6 123.0h.9M278.5 123.2h.9M279.6 132.3h.9M277.4 127.2h.9M275.1 134.3h.9M277.2 149.9h.9M279.2 137.1h.9M276.8 134.6h.9M278.0 147.9h.9M278.7 137.5h.9M278.5 141.3h.9M276.5 135.1h.9M277.5 164.1h.9M275.9 154.3h.9M278.4 162.1h.9M276.9 138.2h.9M279.5 127.9h.9M280.1 163.2h.9M280.6 148.3h.9M279.6 128.7h.9M279.3 135.5h.9M280.8 119.1h.9M276.8 164.0h.9M276.3 124.0h.9M281.3 124.5h.9M279.3 129.4h.9M277.8 157.2h.9M277.6 137.1h.9M277.2 147.4h.9M280.7 122.4h.9M277.3 143.7h.9M277.1 127.6h.9M277.8 155.0h.9M280.1 154.8h.9M278.3 137.6h.9M279.3 131.6h.9M278.8 111.7h.9M276.5 163.4h.9M279.9 144.3h.9M278.1 113.1h.9M277.0 127.4h.9M277.4 121.1h.9M278.3 124.4h.9M277.8 139.8h.9M279.7 159.5h.9M277.1 139.2h.9M279.1 147.0h.9M276.7 136.4h.9M277.7 120.2h.9M278.9 119.7h.9M278.2 150.6h.9M280.1 124.7h.9M277.4 132.4h.9M276.9 145.0h.9M277.7 117.3h.9M277.2 147.4h.9M278.5 122.6h.9M278.3 126.3h.9M277.7 113.0h.9M280.8 120.6h.9M278.4 146.5h.9M278.9 123.4h.9M279.0 122.6h.9M279.0 134.3h.9M277.9 138.0h.9M279.0 142.0h.9M282.6 158.2h.9M280.4 136.7h.9M275.3 141.1h.9M279.9 117.1h.9M279.5 119.5h.9M278.8 130.1h.9M277.7 155.5h.9M278.6 136.0h.9M278.2 138.4h.9M276.5 148.5h.9M279.4 147.3h.9M277.8 119.4h.9M278.3 157.1h.9M275.9 114.3h.9M278.1 138.8h.9M277.5 118.1h.9M280.0 138.8h.9M278.8 112.2h.9M279.3 118.1h.9M276.5 150.8h.9M277.7 159.6h.9M279.3 123.9h.9M280.3 152.2h.9M279.8 126.9h.9M280.6 131.1h.9M279.8 153.5h.9M278.5 128.7h.9M278.1 147.6h.9M277.7 136.5h.9M279.0 111.8h.9M279.0 114.8h.9M278.6 154.3h.9M279.3 144.2h.9M276.9 149.5h.9M277.8 122.8h.9M278.5 152.2h.9M279.6 119.0h.9M278.4 125.6h.9M281.2 119.9h.9M279.1 158.0h.9M278.1 112.7h.9M280.9 151.1h.9M278.9 121.7h.9M277.9 149.0h.9M278.5 144.8h.9M277.8 134.5h.9M279.4 115.5h.9M280.5 159.1h.9M277.8 144.2h.9M279.5 125.4h.9M280.2 112.7h.9M279.1 161.1h.9M277.9 112.5h.9M279.1 143.9h.9M278.2 125.8h.9M278.4 141.7h.9M278.8 150.8h.9M279.0 123.1h.9M279.8 131.9h.9M280.4 125.1h.9M279.0 146.8h.9M278.0 126.6h.9M276.4 138.2h.9M279.0 113.3h.9M278.2 120.1h.9M278.2 157.6h.9M278.0 111.4h.9M277.6 146.0h.9M277.7 149.7h.9M279.2 138.4h.9M276.3 138.7h.9M280.7 157.1h.9M279.9 127.6h.9M280.3 158.4h.9M277.0 139.1h.9M280.0 154.0h.9M276.0 122.7h.9M280.6 151.4h.9M278.6 141.9h.9M277.4 136.4h.9M279.0 150.1h.9M279.9 146.1h.9M277.7 117.3h.9M280.0 148.9h.9M276.9 134.2h.9M279.3 148.6h.9M275.8 138.4h.9M278.5 115.2h.9M288.8 129.3h.9M290.3 160.3h.9M291.6 157.5h.9M296.0 126.9h.9M289.3 115.2h.9M289.8 141.8h.9M290.2 157.7h.9M288.8 124.6h.9M293.1 135.8h.9M291.5 144.5h.9M288.6 146.8h.9M291.0 125.5h.9M288.4 131.2h.9M289.2 120.9h.9M291.3 118.9h.9M290.7 127.6h.9M291.5 132.3h.9M291.4 116.7h.9M289.6 130.7h.9M289.4 140.4h.9M288.3 149.1h.9M290.7 115.3h.9M290.0 146.5h.9M289.6 144.8h.9M292.4 152.3h.9M287.6 123.7h.9M290.1 144.7h.9M291.4 116.2h.9M290.8 160.6h.9M290.8 151.0h.9M290.4 123.1h.9M291.3 137.2h.9M289.6 156.9h.9M290.2 144.7h.9M289.5 122.8h.9M286.5 122.9h.9M289.4 128.1h.9M291.3 152.9h.9M291.1 112.5h.9M291.4 135.5h.9M290.9 141.0h.9M290.2 116.2h.9M289.5 164.2h.9M288.8 117.3h.9M293.0 137.2h.9M291.5 149.3h.9M290.6 153.8h.9M290.2 157.7h.9M290.0 162.6h.9M289.0 113.0h.9M290.6 116.5h.9M291.1 123.1h.9M292.2 134.4h.9M289.0 116.0h.9M289.9 161.2h.9M290.6 126.6h.9M289.0 112.1h.9M291.2 139.8h.9M289.1 131.9h.9M289.6 145.6h.9M290.3 137.9h.9M288.8 124.7h.9M292.0 125.3h.9M291.0 144.2h.9M289.6 116.3h.9M289.6 156.1h.9M289.4 162.1h.9M287.0 139.5h.9M287.2 147.1h.9M291.5 111.1h.9M291.1 114.7h.9M290.4 152.9h.9M288.4 151.6h.9M289.9 121.1h.9M290.1 134.8h.9M289.9 124.1h.9M290.8 135.6h.9M288.1 137.8h.9M290.9 138.8h.9M290.1 137.4h.9M291.4 159.9h.9M290.2 127.1h.9M291.5 132.5h.9M291.1 134.3h.9M291.3 116.2h.9M287.8 124.4h.9M291.5 119.7h.9M289.4 146.4h.9M291.2 159.1h.9M290.2 141.9h.9M290.6 125.3h.9M290.8 149.0h.9M291.0 130.6h.9M288.9 156.1h.9M292.6 148.0h.9M291.9 133.1h.9M291.4 161.2h.9M289.7 157.9h.9M291.2 156.9h.9M290.3 122.0h.9M288.3 150.1h.9M290.1 118.0h.9M287.6 125.6h.9M290.6 145.5h.9M289.6 157.2h.9M288.6 146.8h.9M288.3 145.1h.9M291.2 125.1h.9M289.7 111.5h.9M287.4 159.8h.9M287.5 163.7h.9M288.2 119.5h.9M290.0 128.1h.9M289.2 126.0h.9M289.2 116.5h.9M290.0 133.2h.9M290.1 133.0h.9M289.5 116.2h.9M291.4 118.4h.9M291.0 147.0h.9M292.6 145.4h.9M290.7 137.2h.9M290.1 162.1h.9M288.7 142.6h.9M287.7 133.7h.9M291.7 141.1h.9M291.7 124.0h.9M289.3 116.9h.9M289.2 159.8h.9M291.6 115.1h.9M294.0 135.3h.9M291.6 116.4h.9M289.6 130.5h.9M288.0 158.4h.9M289.3 162.3h.9M290.6 140.3h.9M289.6 151.0h.9M288.9 129.9h.9M289.3 111.1h.9M290.9 149.4h.9M291.7 142.2h.9M289.0 127.7h.9M289.6 128.7h.9M291.2 118.6h.9M287.5 115.7h.9M288.9 118.4h.9M291.8 148.9h.9M289.2 157.5h.9M289.1 113.9h.9M289.4 130.1h.9M289.0 144.3h.9M288.6 120.9h.9M289.0 151.3h.9M289.6 117.5h.9M290.2 117.3h.9M291.8 128.7h.9M290.1 128.2h.9M289.8 120.8h.9M289.0 148.6h.9M287.2 154.6h.9M289.6 164.4h.9M291.7 126.9h.9M291.1 145.7h.9M291.8 147.7h.9M289.0 124.6h.9M291.2 126.2h.9M288.2 146.9h.9M288.6 150.6h.9M291.3 117.7h.9M291.9 147.1h.9M292.8 158.1h.9M287.6 121.5h.9M288.5 128.0h.9M289.6 130.7h.9M289.8 163.9h.9M287.6 156.3h.9M288.8 159.2h.9M289.9 149.4h.9M291.4 117.1h.9M292.8 159.9h.9M300.7 162.7h.9M303.0 133.3h.9M303.0 113.4h.9M302.8 117.8h.9M302.0 123.2h.9M301.9 158.5h.9M303.6 131.5h.9M301.5 117.2h.9M301.2 164.5h.9M300.1 112.1h.9M301.2 112.5h.9M303.9 119.9h.9M302.0 162.3h.9M300.8 116.3h.9M302.2 127.1h.9M304.2 138.7h.9M302.9 164.6h.9M301.8 121.5h.9M302.5 122.9h.9M298.9 134.6h.9M300.4 137.9h.9M304.8 126.6h.9M302.4 116.4h.9M301.0 129.4h.9M300.5 135.1h.9M301.7 120.3h.9M300.1 127.9h.9M303.6 118.2h.9M302.9 156.4h.9M301.7 111.0h.9M299.9 118.4h.9M304.8 125.4h.9M301.5 125.7h.9M304.0 117.5h.9M301.4 134.5h.9M301.8 113.8h.9M300.0 121.3h.9M302.2 114.3h.9M302.5 156.2h.9M301.5 126.2h.9M301.9 162.1h.9M301.1 142.5h.9M302.7 135.2h.9M300.5 141.5h.9M303.7 130.9h.9M304.1 131.1h.9M301.6 120.5h.9M301.3 124.9h.9M303.0 161.0h.9M302.7 117.7h.9M302.2 140.1h.9M301.1 145.9h.9M301.3 157.2h.9M302.5 160.7h.9M301.9 131.9h.9M302.2 123.8h.9M304.0 158.8h.9M300.5 113.9h.9M301.7 147.5h.9M302.3 118.5h.9M302.4 135.8h.9M301.3 136.6h.9M300.4 132.5h.9M304.3 161.2h.9M301.7 111.1h.9M302.3 117.7h.9M300.2 151.4h.9M302.3 111.2h.9M303.4 153.9h.9M302.9 127.8h.9M302.1 121.7h.9M302.8 139.5h.9M303.0 156.4h.9M303.5 121.0h.9M302.9 143.9h.9M300.7 130.1h.9M303.3 161.3h.9M302.7 117.5h.9M302.2 141.8h.9M302.5 145.9h.9M300.3 125.7h.9M303.6 133.7h.9M301.2 124.1h.9M299.8 133.8h.9M303.0 122.0h.9M300.2 112.5h.9M301.5 111.2h.9M299.9 151.9h.9M301.5 129.5h.9M302.9 139.4h.9M300.5 152.4h.9M301.0 159.6h.9M303.9 153.3h.9M300.5 118.6h.9M302.1 159.0h.9M301.0 137.7h.9M302.3 118.9h.9M302.9 121.9h.9M300.7 138.8h.9M299.6 164.5h.9M300.7 164.4h.9M302.1 113.5h.9M301.5 131.2h.9M301.4 138.9h.9M300.3 140.3h.9M301.0 152.8h.9M299.7 159.7h.9M301.8 148.1h.9M299.8 164.0h.9M302.3 148.6h.9M301.5 138.6h.9M302.2 139.1h.9M302.9 132.1h.9M304.9 128.4h.9M302.8 131.6h.9M302.0 116.5h.9M303.8 119.2h.9M300.5 114.3h.9M303.3 123.4h.9M302.8 162.1h.9M303.4 112.3h.9M300.0 143.4h.9M301.0 124.7h.9M300.5 161.9h.9M302.8 121.5h.9M303.3 118.0h.9M300.4 130.6h.9M300.9 156.7h.9M302.2 152.3h.9M301.1 126.9h.9M301.9 148.9h.9M300.4 115.7h.9M300.5 139.4h.9M300.7 160.5h.9M300.0 115.1h.9M301.4 144.8h.9M303.3 160.8h.9M302.8 131.7h.9M303.0 112.2h.9M302.1 148.6h.9M303.2 140.1h.9M302.2 147.1h.9M301.7 162.2h.9M303.9 155.4h.9M300.6 135.3h.9M302.9 143.7h.9M302.8 126.6h.9M302.4 127.1h.9M302.8 123.5h.9M302.6 138.2h.9M300.5 145.3h.9M301.1 144.1h.9M303.8 160.9h.9M300.5 154.4h.9M300.0 145.3h.9M299.4 149.6h.9M302.6 162.2h.9M302.2 111.5h.9M300.3 144.7h.9M301.6 146.2h.9M301.2 157.4h.9M302.3 158.4h.9M301.5 112.6h.9M302.7 111.4h.9M300.7 149.7h.9M302.7 139.6h.9M305.2 120.0h.9M301.9 141.4h.9M302.0 154.9h.9M303.0 126.1h.9M303.4 126.6h.9M301.7 115.0h.9M301.3 141.4h.9M303.5 124.5h.9M301.7 134.0h.9M304.2 148.6h.9M302.9 115.9h.9M303.7 140.6h.9M299.6 160.1h.9M304.0 128.1h.9M311.8 151.6h.9M315.0 164.0h.9M310.8 132.0h.9M312.5 164.2h.9M314.0 119.0h.9M314.4 150.9h.9M312.7 129.4h.9M312.7 113.4h.9M311.4 138.4h.9M314.3 125.1h.9M313.5 142.9h.9M313.7 130.7h.9M312.1 161.4h.9M311.6 155.0h.9M314.1 152.2h.9M312.5 141.6h.9M313.4 125.9h.9M313.4 148.3h.9M311.6 161.1h.9M314.1 136.2h.9M312.1 131.1h.9M315.9 154.9h.9M315.9 128.0h.9M313.8 124.8h.9M311.5 144.9h.9M313.4 154.3h.9M313.8 113.4h.9M314.4 154.1h.9M311.5 119.7h.9M312.8 126.5h.9M311.0 161.3h.9M316.4 124.9h.9M313.4 157.6h.9M312.0 123.1h.9M316.0 131.2h.9M314.5 136.8h.9M314.6 117.0h.9M314.0 140.3h.9M315.7 145.3h.9M314.4 119.7h.9M313.2 157.3h.9M312.9 151.3h.9M313.3 120.3h.9M310.5 153.9h.9M313.4 112.4h.9M312.9 137.7h.9M314.2 125.7h.9M314.3 161.6h.9M313.8 156.4h.9M313.7 124.1h.9M312.4 128.4h.9M314.6 123.1h.9M313.4 147.6h.9M312.8 158.9h.9M311.6 153.5h.9M311.0 144.5h.9M312.7 148.5h.9M314.9 116.3h.9M312.5 140.0h.9M311.6 117.5h.9M314.2 154.4h.9M311.3 136.7h.9M313.0 131.3h.9M312.5 148.5h.9M310.4 164.0h.9M314.5 162.2h.9M317.3 120.5h.9M313.8 112.0h.9M315.9 149.4h.9M314.0 146.8h.9M314.3 155.9h.9M312.9 150.8h.9M312.1 144.5h.9M312.6 149.3h.9M315.7 117.6h.9M314.0 161.6h.9M314.0 117.5h.9M314.3 126.9h.9M314.1 138.9h.9M314.1 126.0h.9M314.6 129.4h.9M312.6 135.4h.9M313.8 153.7h.9M314.9 126.2h.9M313.2 119.2h.9M313.5 153.6h.9M314.5 119.9h.9M315.6 117.4h.9M310.5 120.1h.9M313.3 154.6h.9M311.3 154.6h.9M313.9 133.9h.9M315.2 150.6h.9M315.5 127.2h.9M314.2 155.4h.9M312.8 155.0h.9M314.1 115.6h.9M313.1 147.8h.9M315.5 141.3h.9M312.7 115.6h.9M313.9 126.8h.9M313.3 129.5h.9M312.8 121.2h.9M312.6 151.7h.9M314.5 124.1h.9M312.5 112.0h.9M313.3 130.0h.9M309.6 144.4h.9M313.2 155.3h.9M313.1 113.3h.9M312.0 130.1h.9M313.6 139.5h.9M311.0 161.4h.9M313.1 135.1h.9M315.0 156.9h.9M312.3 133.1h.9M312.4 147.8h.9M314.0 113.8h.9M312.0 114.6h.9M313.1 162.2h.9M312.9 154.2h.9M313.2 151.1h.9M312.9 136.3h.9M315.0 138.1h.9M313.0 132.4h.9M313.3 145.3h.9M313.4 117.1h.9M312.1 113.8h.9M315.1 128.4h.9M312.4 113.1h.9M313.2 151.8h.9M313.4 137.4h.9M312.2 112.4h.9M313.1 159.7h.9M310.7 117.1h.9M311.1 133.1h.9M313.3 126.3h.9M313.3 163.7h.9M314.5 147.7h.9M311.6 138.5h.9M317.2 121.9h.9M312.8 138.3h.9M313.1 157.4h.9M311.4 155.5h.9M313.2 113.9h.9M313.0 123.9h.9M313.6 124.2h.9M311.7 134.7h.9M309.9 137.0h.9M311.5 120.2h.9M313.7 155.8h.9M313.2 146.3h.9M314.7 125.4h.9M312.6 136.2h.9M313.9 137.0h.9M315.1 147.4h.9M314.9 155.3h.9M314.8 115.8h.9M314.2 161.8h.9M313.4 150.3h.9M312.9 133.7h.9M313.2 156.2h.9M312.4 113.6h.9M313.8 153.2h.9M313.3 129.5h.9M313.1 123.6h.9M314.2 155.5h.9M312.6 140.9h.9M312.5 117.5h.9M311.6 157.6h.9M314.1 128.5h.9M313.7 122.8h.9M312.7 129.8h.9M316.2 124.4h.9M315.6 139.4h.9M313.2 138.6h.9M313.0 111.2h.9M315.1 128.1h.9M314.4 112.2h.9M313.3 153.0h.9M324.9 123.0h.9M324.3 150.8h.9M327.0 125.6h.9M323.7 133.7h.9M325.7 153.9h.9M325.3 148.3h.9M324.3 121.6h.9M325.9 137.2h.9M325.2 122.7h.9M326.5 155.7h.9M325.4 158.2h.9M325.7 133.9h.9M323.3 138.3h.9M326.8 153.7h.9M325.2 112.2h.9M324.9 117.7h.9M326.1 161.6h.9M322.5 112.5h.9M326.0 133.6h.9M323.1 142.7h.9M327.1 123.2h.9M326.3 117.2h.9M326.4 132.5h.9M324.5 156.9h.9M325.6 123.2h.9M323.9 123.0h.9M325.8 154.7h.9M323.8 119.9h.9M323.7 154.4h.9M325.1 149.1h.9M324.9 148.4h.9M326.5 163.3h.9M325.8 131.2h.9M324.9 115.6h.9M323.7 121.7h.9M325.3 147.9h.9M322.7 121.5h.9M324.2 162.5h.9M325.8 115.4h.9M326.5 144.8h.9M326.5 142.0h.9M325.1 143.8h.9M324.4 128.2h.9M324.2 112.4h.9M325.2 121.3h.9M323.9 142.3h.9M326.8 111.4h.9M325.9 131.2h.9M324.9 157.1h.9M325.3 163.7h.9M325.0 122.5h.9M325.6 154.4h.9M326.4 154.5h.9M326.6 116.8h.9M326.5 118.7h.9M324.0 139.0h.9M324.9 156.6h.9M327.4 124.9h.9M325.6 156.1h.9M324.7 134.2h.9M325.2 123.6h.9M325.3 132.2h.9M325.8 159.2h.9M325.2 143.3h.9M325.2 134.9h.9M325.6 129.5h.9M327.4 155.7h.9M323.9 134.6h.9M325.9 155.7h.9M325.7 153.8h.9M323.7 147.3h.9M323.8 157.0h.9M326.9 112.0h.9M324.1 135.7h.9M323.4 137.8h.9M325.9 114.8h.9M325.8 127.7h.9M326.1 111.6h.9M326.8 125.4h.9M326.0 131.0h.9M327.6 113.9h.9M322.9 114.4h.9M323.6 145.0h.9M326.2 156.4h.9M327.1 134.4h.9M324.7 147.4h.9M326.1 138.4h.9M326.3 130.4h.9M324.6 164.1h.9M325.9 149.1h.9M324.9 150.8h.9M326.6 132.9h.9M327.4 164.0h.9M327.5 134.2h.9M325.0 135.3h.9M324.2 164.4h.9M325.6 148.8h.9M326.3 162.6h.9M326.7 140.0h.9M324.2 132.2h.9M324.4 131.2h.9M324.9 131.6h.9M327.4 140.5h.9M324.8 141.1h.9M321.6 159.9h.9M324.8 140.7h.9M325.3 163.2h.9M325.6 152.5h.9M325.3 129.4h.9M325.9 114.9h.9M324.9 132.4h.9M324.3 152.4h.9M326.3 155.3h.9M325.6 143.4h.9M323.8 147.5h.9M325.6 136.9h.9M326.4 130.8h.9M326.7 130.6h.9M325.2 115.6h.9M325.6 156.2h.9M325.6 152.7h.9M324.4 116.2h.9M323.3 142.8h.9M326.1 145.9h.9M325.7 126.8h.9M325.7 147.4h.9M323.5 156.2h.9M322.0 114.5h.9M325.8 118.3h.9M324.3 164.2h.9M325.7 161.0h.9M327.1 160.2h.9M324.7 133.4h.9M324.5 139.4h.9M324.9 143.1h.9M322.5 121.0h.9M325.2 136.4h.9M324.1 121.8h.9M321.0 131.0h.9M326.4 150.1h.9M325.2 121.0h.9M324.9 125.2h.9M327.2 116.0h.9M324.9 140.3h.9M325.1 129.4h.9M324.8 139.3h.9M324.4 156.5h.9M326.9 116.7h.9M325.4 161.2h.9M324.5 143.7h.9M324.3 126.2h.9M327.7 126.4h.9M325.9 134.7h.9M326.0 132.5h.9M325.7 112.0h.9M325.4 124.0h.9M325.4 157.7h.9M324.0 111.5h.9M325.5 143.3h.9M327.1 137.1h.9M326.5 155.3h.9M326.5 153.3h.9M326.0 151.4h.9M328.1 143.7h.9M323.6 139.7h.9M325.6 145.6h.9M326.9 146.6h.9M322.6 134.4h.9M325.4 117.3h.9M324.3 122.0h.9M324.0 138.5h.9M326.4 161.8h.9M324.3 150.0h.9M325.5 132.2h.9M325.1 146.3h.9M325.7 122.8h.9M324.1 126.1h.9M323.7 134.0h.9M327.1 141.3h.9M324.4 134.0h.9M337.6 161.3h.9M333.6 141.7h.9M334.9 122.5h.9M336.3 148.6h.9M337.1 114.4h.9M338.0 138.4h.9M335.8 119.4h.9M339.9 129.5h.9M336.8 158.5h.9M338.4 124.4h.9M336.6 129.4h.9M338.2 134.9h.9M335.8 121.9h.9M335.7 162.9h.9M336.5 159.5h.9M333.0 139.7h.9M336.8 147.9h.9M338.2 118.4h.9M335.2 141.7h.9M337.5 149.9h.9M336.4 158.6h.9M338.3 164.2h.9M337.3 114.9h.9M336.7 145.2h.9M334.2 132.4h.9M337.5 130.2h.9M335.8 157.1h.9M336.4 134.8h.9M339.5 157.8h.9M336.3 155.3h.9M336.0 161.9h.9M336.3 160.2h.9M336.2 144.5h.9M335.9 139.8h.9M336.3 132.4h.9M338.4 121.4h.9M338.9 147.4h.9M335.6 128.1h.9M338.4 161.5h.9M337.0 136.4h.9M334.2 162.4h.9M337.2 126.9h.9M336.2 159.8h.9M336.0 128.0h.9M335.7 130.4h.9M336.0 150.8h.9M338.4 115.0h.9M336.0 143.6h.9M334.9 150.9h.9M336.2 142.4h.9M337.8 161.7h.9M335.5 112.2h.9M335.5 138.1h.9M337.1 132.1h.9M335.2 112.0h.9M336.4 119.9h.9M339.7 160.5h.9M335.1 118.2h.9M336.8 135.2h.9M337.5 116.3h.9M338.2 136.3h.9M337.4 151.0h.9M337.1 114.0h.9M336.8 131.2h.9M335.9 113.0h.9M337.2 146.5h.9M336.4 148.7h.9M337.9 137.1h.9M336.1 146.0h.9M336.4 135.7h.9M336.5 156.9h.9M337.5 158.0h.9M334.1 163.9h.9M336.9 149.0h.9M337.2 154.8h.9M335.4 114.1h.9M335.7 112.1h.9M336.0 137.0h.9M336.2 120.5h.9M336.7 116.7h.9M334.7 124.2h.9M335.1 145.7h.9M338.2 164.0h.9M338.4 142.1h.9M339.0 146.7h.9M338.5 128.8h.9M336.6 111.8h.9M336.7 143.2h.9M335.9 160.6h.9M336.8 123.3h.9M336.1 164.1h.9M337.1 130.3h.9M337.9 132.6h.9M337.2 142.4h.9M337.9 111.3h.9M340.5 127.2h.9M337.1 113.1h.9M336.0 115.4h.9M334.7 136.1h.9M336.8 137.2h.9M334.5 151.6h.9M334.6 119.3h.9M339.2 124.2h.9M338.8 124.6h.9M336.3 152.9h.9M335.7 113.3h.9M334.9 161.4h.9M337.1 111.5h.9M336.1 154.5h.9M335.8 114.6h.9M335.4 148.4h.9M336.2 154.6h.9M335.7 138.4h.9M338.4 115.3h.9M336.9 138.7h.9M337.0 148.1h.9M337.6 157.2h.9M336.8 113.0h.9M335.7 163.1h.9M338.2 151.3h.9M337.2 141.5h.9M335.1 146.4h.9M336.0 158.9h.9M336.5 151.5h.9M339.6 148.6h.9M335.8 139.8h.9M338.3 162.4h.9M336.5 128.1h.9M338.0 146.5h.9M337.3 149.3h.9M337.2 115.4h.9M337.0 133.7h.9M338.2 131.4h.9M337.9 145.0h.9M336.8 135.7h.9M338.0 124.0h.9M337.8 148.4h.9M336.2 119.8h.9M336.3 120.8h.9M337.1 151.1h.9M338.3 139.1h.9M336.3 153.3h.9M336.4 139.9h.9M336.2 159.8h.9M338.3 141.9h.9M336.8 117.6h.9M337.3 138.0h.9M338.0 128.7h.9M335.7 155.4h.9M337.7 133.1h.9M334.6 113.2h.9M336.4 159.7h.9M335.1 148.1h.9M339.2 137.3h.9M336.4 119.3h.9M334.9 146.9h.9M336.7 157.8h.9M336.4 117.7h.9M337.4 156.8h.9M337.6 124.9h.9M336.0 115.4h.9M338.4 119.1h.9M337.2 123.0h.9M338.2 153.1h.9M336.5 124.5h.9M336.8 138.3h.9M336.5 129.7h.9M337.0 123.4h.9M338.8 128.4h.9M334.7 161.8h.9M337.0 111.8h.9M335.3 130.7h.9M335.6 118.6h.9M335.7 115.5h.9M336.6 140.2h.9M335.8 117.6h.9M337.8 142.4h.9M336.4 138.0h.9M336.5 122.4h.9M336.0 132.8h.9M348.6 162.8h.9M349.3 163.6h.9M350.2 125.3h.9M350.0 159.5h.9M348.4 161.2h.9M348.6 140.1h.9M348.4 111.1h.9M350.5 113.0h.9M347.9 135.5h.9M347.8 160.9h.9M349.7 149.6h.9M348.3 147.6h.9M348.5 125.2h.9M348.7 147.5h.9M348.0 151.5h.9M347.2 157.6h.9M348.6 123.0h.9M347.8 111.2h.9M349.9 164.1h.9M346.8 149.6h.9M348.7 134.0h.9M348.3 149.1h.9M348.2 150.4h.9M346.4 133.2h.9M350.0 147.3h.9M348.9 137.4h.9M348.9 149.0h.9M348.3 158.4h.9M347.3 130.7h.9M348.8 135.1h.9M347.3 112.8h.9M348.7 114.0h.9M347.8 121.0h.9M347.0 135.4h.9M349.1 122.8h.9M347.6 158.8h.9M347.3 147.1h.9M348.6 125.3h.9M349.6 113.2h.9M347.6 135.9h.9M349.9 164.2h.9M348.3 147.5h.9M348.9 135.8h.9M346.2 133.3h.9M349.4 121.5h.9M349.0 141.5h.9M349.3 156.6h.9M349.3 158.6h.9M345.7 158.5h.9M349.0 145.6h.9M348.2 113.4h.9M347.9 151.0h.9M348.3 133.8h.9M349.5 145.3h.9M348.0 139.3h.9M345.7 112.5h.9M349.8 115.2h.9M346.5 132.9h.9M347.9 152.4h.9M346.8 111.0h.9M347.7 157.9h.9M347.7 123.5h.9M350.4 128.6h.9M345.3 157.3h.9M346.5 133.8h.9M347.7 161.1h.9M346.8 156.5h.9M345.2 161.2h.9M346.5 114.8h.9M348.8 150.4h.9M347.7 156.9h.9M350.0 135.7h.9M348.2 135.2h.9M347.8 127.6h.9M347.7 160.2h.9M350.4 111.2h.9M350.2 136.7h.9M346.0 130.8h.9M348.9 125.7h.9M347.2 139.9h.9M349.3 117.7h.9M348.7 142.3h.9M348.4 155.6h.9M347.5 135.5h.9M348.8 161.7h.9M348.1 124.3h.9M348.0 164.1h.9M346.8 121.1h.9M350.8 122.7h.9M348.1 157.9h.9M349.1 123.1h.9M347.9 127.7h.9M347.3 136.0h.9M346.3 157.3h.9M349.8 147.6h.9M347.9 163.1h.9M346.1 138.3h.9M350.6 149.4h.9M347.2 120.4h.9M349.9 151.9h.9M350.5 153.9h.9M349.4 145.6h.9M350.5 122.1h.9M347.9 138.4h.9M349.6 150.4h.9M347.7 115.5h.9M348.8 127.4h.9M350.2 154.9h.9M348.5 143.3h.9M346.1 123.5h.9M347.0 123.4h.9M350.5 140.2h.9M348.0 141.4h.9M348.2 149.1h.9M350.1 113.6h.9M349.0 134.9h.9M348.8 116.1h.9M349.9 159.5h.9M348.7 120.3h.9M349.8 140.8h.9M347.1 151.6h.9M349.1 154.8h.9M347.7 132.9h.9M351.0 161.7h.9M347.9 138.4h.9M349.5 114.7h.9M349.3 154.3h.9M347.4 150.3h.9M348.4 115.2h.9M349.6 124.6h.9M349.0 147.1h.9M345.7 144.4h.9M346.3 136.4h.9M351.5 116.1h.9M350.6 160.8h.9M346.6 139.5h.9M349.4 125.1h.9M346.5 128.1h.9M347.8 147.2h.9M348.4 128.3h.9M348.3 143.8h.9M348.0 163.5h.9M346.9 126.9h.9M346.6 134.2h.9M349.2 137.2h.9M349.2 124.2h.9M350.6 144.0h.9M349.8 143.3h.9M348.8 151.8h.9M348.8 120.0h.9M349.4 121.7h.9M347.5 114.1h.9M345.8 139.4h.9M349.3 159.7h.9M348.3 153.0h.9M351.0 157.2h.9M350.5 163.9h.9M345.3 156.8h.9M349.2 129.1h.9M350.5 161.2h.9M347.0 113.1h.9M347.6 154.2h.9M347.3 150.8h.9M348.0 124.1h.9M347.5 130.6h.9M347.3 112.3h.9M349.9 143.8h.9M345.8 126.9h.9M350.5 160.3h.9M348.8 134.0h.9M347.9 131.9h.9M345.1 136.2h.9M347.3 132.3h.9M347.9 139.7h.9M347.3 116.4h.9M351.8 112.9h.9M348.2 152.7h.9M347.6 127.1h.9M347.8 138.4h.9M348.4 152.6h.9M358.2 124.3h.9M362.1 131.7h.9M362.3 116.2h.9M358.7 114.3h.9M357.8 125.9h.9M360.2 147.4h.9M359.9 144.4h.9M360.4 125.5h.9M361.3 119.3h.9M359.0 124.0h.9M359.2 145.2h.9M358.4 112.5h.9M360.7 143.0h.9M360.9 128.6h.9M359.6 135.3h.9M360.7 143.8h.9M360.1 157.4h.9M358.3 136.8h.9M359.5 131.3h.9M361.2 117.5h.9M362.3 126.6h.9M359.1 124.6h.9M358.9 138.8h.9M359.3 149.0h.9M362.5 157.7h.9M360.9 134.4h.9M361.0 141.8h.9M358.3 164.2h.9M358.6 146.1h.9M361.9 155.4h.9M361.6 112.4h.9M361.8 143.2h.9M360.3 121.6h.9M361.2 153.8h.9M359.4 162.3h.9M362.5 140.3h.9M360.5 121.6h.9M358.7 127.6h.9M356.8 133.1h.9M360.3 134.7h.9M360.1 162.8h.9M359.0 144.0h.9M358.9 122.3h.9M360.1 128.5h.9M362.9 141.6h.9M358.3 154.7h.9M358.8 111.5h.9M357.9 151.1h.9M358.4 149.5h.9M358.6 130.3h.9M358.5 139.0h.9M359.8 130.7h.9M359.5 160.2h.9M360.8 162.6h.9M359.1 127.8h.9M357.6 161.3h.9M358.8 132.3h.9M361.4 134.2h.9M360.1 120.4h.9M359.5 128.3h.9M359.0 131.0h.9M360.3 139.9h.9M358.7 132.2h.9M362.0 149.2h.9M359.5 150.6h.9M361.6 133.7h.9M359.3 130.0h.9M360.6 161.9h.9M358.7 111.5h.9M359.0 126.6h.9M359.9 153.0h.9M361.4 152.6h.9M358.5 142.4h.9M360.2 132.7h.9M360.0 119.4h.9M358.6 159.5h.9M361.0 127.5h.9M361.6 152.5h.9M358.1 115.1h.9M359.4 143.2h.9M360.7 159.8h.9M361.4 113.6h.9M358.9 130.6h.9M359.1 122.1h.9M361.7 149.7h.9M360.8 135.5h.9M359.4 131.8h.9M359.9 140.3h.9M359.5 114.5h.9M358.0 125.1h.9M360.2 158.2h.9M357.8 120.3h.9M358.2 140.5h.9M360.2 148.8h.9M360.5 147.6h.9M362.2 133.1h.9M361.3 144.1h.9M358.1 127.4h.9M359.8 125.0h.9M361.1 154.6h.9M357.6 127.5h.9M358.6 156.6h.9M361.1 112.4h.9M360.9 147.2h.9M359.9 154.7h.9M359.9 137.0h.9M360.7 121.6h.9M361.2 114.2h.9M359.5 111.3h.9M361.3 150.1h.9M361.0 160.7h.9M359.2 112.6h.9M358.5 146.2h.9M358.0 140.0h.9M360.6 122.7h.9M359.8 136.9h.9M357.8 154.7h.9M360.6 158.2h.9M361.2 138.9h.9M360.8 139.7h.9M360.7 134.1h.9M360.2 122.0h.9M360.4 139.3h.9M360.5 157.6h.9M358.0 147.4h.9M359.6 114.6h.9M359.7 115.5h.9M359.0 125.2h.9M358.4 119.8h.9M359.3 116.8h.9M360.7 145.5h.9M358.8 132.3h.9M357.8 128.0h.9M362.2 141.1h.9M359.5 162.4h.9M360.6 154.3h.9M359.1 112.6h.9M359.6 157.4h.9M361.7 144.8h.9M362.0 155.1h.9M359.7 118.4h.9M359.1 119.5h.9M360.4 153.1h.9M358.5 138.7h.9M359.8 146.5h.9M361.2 149.6h.9M361.6 143.6h.9M360.9 125.2h.9M359.1 162.3h.9M359.8 123.8h.9M361.8 116.3h.9M360.0 153.0h.9M358.9 161.4h.9M361.7 116.4h.9M357.9 129.1h.9M361.3 123.5h.9M359.6 137.8h.9M361.4 111.6h.9M361.4 127.8h.9M359.6 125.7h.9M358.8 129.8h.9M360.1 137.1h.9M361.2 131.6h.9M358.0 115.9h.9M359.7 125.1h.9M362.1 126.1h.9M356.8 157.5h.9M360.5 138.2h.9M358.8 157.0h.9M358.6 137.3h.9M360.1 136.1h.9M361.5 142.2h.9M361.4 131.8h.9M359.8 136.8h.9M358.7 125.4h.9M359.7 143.8h.9M361.1 151.6h.9M363.3 140.7h.9M359.8 128.3h.9M359.5 134.2h.9M373.1 126.8h.9M370.5 115.6h.9M370.6 138.9h.9M369.8 126.0h.9M370.1 131.2h.9M371.6 113.3h.9M373.5 133.5h.9M372.2 123.0h.9M369.2 143.8h.9M373.4 152.3h.9M370.7 142.6h.9M371.4 129.4h.9M371.2 161.6h.9M372.9 146.8h.9M370.9 164.4h.9M370.4 162.8h.9M372.7 124.1h.9M370.8 158.8h.9M373.3 119.9h.9M369.9 146.8h.9M373.0 148.2h.9M372.7 118.8h.9M373.0 142.8h.9M371.4 133.8h.9M371.3 127.2h.9M375.0 128.0h.9M372.2 153.4h.9M375.1 148.9h.9M371.1 134.5h.9M370.3 160.0h.9M371.1 122.5h.9M373.0 129.2h.9M374.7 155.9h.9M372.9 164.2h.9M371.5 133.9h.9M374.1 128.7h.9M371.3 155.3h.9M370.6 135.2h.9M369.5 136.2h.9M372.6 126.8h.9M372.7 140.5h.9M371.8 133.8h.9M370.9 131.1h.9M372.7 128.4h.9M372.1 160.9h.9M370.1 124.8h.9M369.1 139.6h.9M372.7 123.8h.9M371.1 115.8h.9M372.1 129.0h.9M370.0 153.1h.9M371.0 164.3h.9M375.6 163.3h.9M372.5 115.1h.9M370.6 140.7h.9M371.8 142.0h.9M372.9 147.8h.9M373.8 139.3h.9M373.2 136.0h.9M372.8 156.2h.9M371.5 132.3h.9M372.1 150.7h.9M373.3 112.5h.9M372.0 125.6h.9M372.9 120.5h.9M373.3 119.5h.9M370.5 120.1h.9M372.5 114.6h.9M370.4 128.5h.9M372.2 142.8h.9M371.4 118.6h.9M372.0 163.1h.9M371.7 114.8h.9M370.3 161.0h.9M374.2 137.1h.9M371.6 148.0h.9M371.1 132.1h.9M373.0 124.3h.9M374.0 117.8h.9M371.7 160.9h.9M371.0 116.6h.9M374.1 156.3h.9M372.3 141.1h.9M372.0 114.9h.9M372.0 116.2h.9M370.4 151.6h.9M369.4 128.3h.9M372.3 146.8h.9M371.2 132.6h.9M368.8 163.4h.9M370.9 125.3h.9M373.6 127.4h.9M369.1 162.5h.9M371.9 163.8h.9M371.2 121.8h.9M373.6 114.0h.9M371.1 144.5h.9M372.1 150.0h.9M372.7 128.3h.9M371.1 139.9h.9M371.2 112.4h.9M371.9 130.6h.9M372.2 111.4h.9M372.3 161.5h.9M371.5 160.9h.9M371.2 157.7h.9M371.9 153.8h.9M374.2 140.7h.9M372.0 153.3h.9M372.5 119.5h.9M370.2 111.8h.9M371.1 145.2h.9M370.9 135.8h.9M370.7 140.3h.9M374.0 149.7h.9M370.4 132.6h.9M368.7 138.4h.9M370.8 128.8h.9M369.9 133.7h.9M373.3 139.8h.9M373.3 155.0h.9M372.1 142.4h.9M372.1 143.5h.9M372.0 137.4h.9M370.8 135.7h.9M371.2 158.1h.9M372.9 113.0h.9M372.5 115.9h.9M372.4 125.6h.9M371.3 149.8h.9M371.2 123.6h.9M370.9 144.4h.9M370.2 138.7h.9M370.9 135.7h.9M370.6 151.7h.9M373.5 144.4h.9M371.3 163.3h.9M372.7 153.3h.9M372.8 130.3h.9M373.4 117.9h.9M370.2 129.3h.9M373.2 116.1h.9M370.4 129.5h.9M371.2 126.4h.9M368.1 132.5h.9M370.9 120.0h.9M372.8 145.5h.9M368.9 164.5h.9M371.3 157.4h.9M373.1 153.0h.9M371.3 135.6h.9M369.7 118.8h.9M373.4 131.9h.9M370.2 129.8h.9M371.4 158.3h.9M374.7 145.3h.9M371.9 161.1h.9M373.2 115.8h.9M371.8 128.8h.9M371.1 155.5h.9M371.6 112.9h.9M372.7 144.3h.9M370.5 142.3h.9M373.0 162.6h.9M370.7 148.8h.9M374.0 114.6h.9M370.6 135.2h.9M370.4 128.9h.9M372.3 161.3h.9M370.9 152.9h.9M370.1 140.7h.9M370.9 152.0h.9M373.1 148.1h.9M371.9 141.6h.9M371.9 140.6h.9M371.0 158.2h.9M372.1 156.2h.9M371.5 161.0h.9M371.9 124.9h.9M373.6 145.0h.9M383.1 137.4h.9M385.2 142.7h.9M382.8 122.5h.9M386.4 164.1h.9M384.6 159.9h.9M383.7 123.3h.9M382.4 123.9h.9M384.2 146.3h.9M382.7 138.2h.9M382.3 161.0h.9M384.0 140.6h.9M383.8 158.9h.9M382.8 112.9h.9M383.3 154.2h.9M383.6 153.1h.9M387.4 162.0h.9M381.4 122.8h.9M384.0 153.5h.9M383.9 153.6h.9M383.7 137.8h.9M382.1 119.7h.9M381.4 128.0h.9M380.6 144.4h.9M382.6 152.0h.9M383.6 125.1h.9M380.9 141.9h.9M383.2 145.0h.9M381.5 149.8h.9M383.6 144.5h.9M383.2 128.8h.9M382.5 145.3h.9M384.4 140.4h.9M382.6 161.2h.9M381.1 163.8h.9M382.2 141.5h.9M381.7 158.8h.9M383.8 139.2h.9M383.5 117.4h.9M384.3 125.1h.9M383.0 128.6h.9M382.7 164.4h.9M381.1 160.5h.9M383.5 114.5h.9M384.1 149.6h.9M384.0 130.9h.9M385.5 146.5h.9M383.5 133.2h.9M385.6 157.8h.9M381.2 111.2h.9M381.8 140.4h.9M384.5 121.2h.9M384.7 164.1h.9M383.1 157.1h.9M382.2 155.6h.9M385.9 157.4h.9M383.3 152.9h.9M385.4 152.8h.9M386.3 118.3h.9M384.2 164.2h.9M383.9 145.1h.9M383.7 135.8h.9M382.7 124.6h.9M384.5 157.2h.9M381.2 146.4h.9M382.4 123.1h.9M384.9 149.4h.9M383.3 151.2h.9M385.8 150.2h.9M384.7 145.1h.9M384.1 123.3h.9M382.5 134.8h.9M383.4 120.3h.9M382.8 125.6h.9M382.1 141.0h.9M381.0 150.5h.9M382.6 160.6h.9M385.2 162.4h.9M382.5 162.8h.9M381.6 112.5h.9M382.0 163.3h.9M383.1 130.9h.9M380.6 133.1h.9M384.5 159.3h.9M382.9 127.5h.9M381.6 155.5h.9M383.4 153.5h.9M381.8 124.7h.9M385.0 139.6h.9M380.9 141.2h.9M382.4 126.4h.9M381.7 161.7h.9M384.8 158.2h.9M382.4 139.3h.9M386.4 114.0h.9M382.0 148.2h.9M385.5 123.1h.9M383.2 149.0h.9M384.4 146.1h.9M381.6 138.7h.9M382.2 120.3h.9M384.6 144.1h.9M384.3 159.9h.9M385.8 129.7h.9M384.0 163.4h.9M383.6 135.0h.9M381.9 134.6h.9M385.3 118.2h.9M382.8 148.3h.9M384.6 160.7h.9M383.2 154.0h.9M383.3 118.0h.9M385.9 136.6h.9M382.9 116.6h.9M383.8 123.4h.9M385.0 143.3h.9M385.2 157.8h.9M385.8 138.9h.9M384.5 139.9h.9M382.9 152.5h.9M383.2 161.4h.9M382.0 157.3h.9M383.5 140.1h.9M384.9 163.5h.9M383.9 140.9h.9M383.4 158.6h.9M382.8 147.2h.9M384.8 120.0h.9M383.4 145.3h.9M384.3 118.5h.9M382.3 151.0h.9M384.7 147.8h.9M384.0 160.5h.9M383.5 120.0h.9M382.3 145.4h.9M382.6 116.8h.9M384.0 125.3h.9M383.9 117.9h.9M383.3 116.7h.9M382.5 137.2h.9M383.7 158.0h.9M383.2 145.8h.9M383.7 160.7h.9M385.5 113.2h.9M385.7 158.5h.9M383.4 112.9h.9M385.3 113.9h.9M385.0 158.9h.9M383.8 115.2h.9M383.7 155.8h.9M385.2 118.0h.9M383.7 125.3h.9M384.0 116.3h.9M385.3 119.6h.9M381.8 143.8h.9M385.7 150.8h.9M384.2 131.8h.9M383.6 156.4h.9M382.7 150.9h.9M383.9 147.0h.9M383.6 120.6h.9M383.1 148.6h.9M382.8 139.7h.9M384.2 139.1h.9M384.3 143.9h.9M382.2 114.7h.9M384.5 129.3h.9M384.0 112.5h.9M382.2 141.2h.9M383.8 119.4h.9M384.1 164.0h.9M383.1 112.2h.9M382.3 162.5h.9M383.1 111.6h.9M385.3 154.9h.9M383.0 124.2h.9M383.3 127.0h.9M383.0 160.2h.9M384.3 130.5h.9M383.6 164.0h.9M380.4 142.9h.9M394.6 160.9h.9M395.5 152.2h.9M394.3 113.4h.9M394.8 114.1h.9M394.8 122.5h.9M394.1 161.7h.9M393.6 140.6h.9M393.7 130.8h.9M397.6 122.4h.9M394.8 154.9h.9M393.6 138.3h.9M395.2 118.5h.9M395.7 127.8h.9M395.8 127.5h.9M397.7 120.9h.9M393.3 158.0h.9M391.9 151.0h.9M395.4 113.0h.9M395.4 137.3h.9M394.8 138.6h.9M394.6 145.6h.9M396.5 146.5h.9M394.8 135.7h.9M398.3 121.5h.9M395.1 136.2h.9M394.5 144.9h.9M395.0 162.3h.9M393.5 161.6h.9M394.0 146.3h.9M397.5 121.7h.9M393.4 162.4h.9M394.7 114.5h.9M392.1 133.9h.9M394.1 143.3h.9M395.8 131.3h.9M393.1 111.7h.9M394.3 146.2h.9M394.6 122.7h.9M395.0 138.7h.9M392.7 153.9h.9M395.6 154.0h.9M393.7 116.4h.9M394.6 137.1h.9M395.8 147.3h.9M392.3 123.5h.9M395.2 151.5h.9M394.0 120.9h.9M393.7 135.1h.9M394.3 144.9h.9M393.9 130.5h.9M393.5 147.6h.9M392.0 146.7h.9M397.1 140.1h.9M395.7 112.3h.9M395.2 157.8h.9M396.0 116.5h.9M395.5 126.6h.9M397.3 133.0h.9M393.2 154.3h.9M397.7 142.2h.9M394.8 146.0h.9M395.2 150.1h.9M396.3 149.4h.9M395.1 113.9h.9M394.6 147.5h.9M395.9 115.3h.9M394.5 127.1h.9M394.8 146.1h.9M396.6 125.9h.9M393.6 136.2h.9M393.5 116.1h.9M395.3 123.2h.9M396.0 121.4h.9M395.8 153.8h.9M395.4 149.9h.9M394.7 139.9h.9M393.9 157.7h.9M396.6 135.6h.9M395.5 158.6h.9M395.0 137.6h.9M394.0 147.2h.9M395.4 159.8h.9M394.3 121.4h.9M393.9 148.5h.9M394.2 129.1h.9M395.8 127.5h.9M395.9 129.0h.9M398.4 145.4h.9M396.7 130.5h.9M394.0 116.0h.9M394.7 135.8h.9M393.0 124.9h.9M392.9 144.0h.9M393.8 156.2h.9M394.9 127.6h.9M395.4 128.5h.9M395.8 162.1h.9M397.8 115.5h.9M394.5 132.6h.9M394.5 154.6h.9M396.7 163.5h.9M396.2 112.7h.9M395.6 160.9h.9M394.2 115.5h.9M393.7 130.7h.9M398.0 154.5h.9M395.7 131.8h.9M396.1 114.5h.9M393.7 154.9h.9M393.9 114.5h.9M394.3 133.7h.9M394.7 147.0h.9M395.1 142.0h.9M395.8 161.9h.9M395.0 156.2h.9M395.2 120.5h.9M392.6 132.3h.9M396.3 164.4h.9M393.0 121.1h.9M392.2 154.2h.9M396.0 159.6h.9M395.5 115.2h.9M396.3 121.0h.9M396.2 158.5h.9M396.1 131.6h.9M394.9 129.7h.9M395.9 144.8h.9M394.0 117.9h.9M395.8 140.2h.9M394.8 117.6h.9M396.1 139.4h.9M395.8 111.6h.9M395.6 152.5h.9M393.7 142.0h.9M393.7 126.9h.9M395.3 127.0h.9M396.1 159.2h.9M396.0 147.3h.9M395.0 142.4h.9M394.0 129.4h.9M395.4 117.7h.9M396.4 139.6h.9M395.5 128.3h.9M393.7 153.2h.9M396.2 164.6h.9M398.0 121.4h.9M393.0 128.5h.9M392.9 124.1h.9M396.1 161.7h.9M396.3 146.2h.9M395.1 114.7h.9M396.6 117.8h.9M395.4 154.1h.9M397.3 148.9h.9M396.4 118.7h.9M394.0 129.2h.9M395.9 127.7h.9M395.6 164.3h.9M394.0 138.0h.9M396.9 153.5h.9M394.8 112.7h.9M394.5 151.8h.9M393.7 143.5h.9M394.2 116.4h.9M393.8 111.6h.9M392.6 137.7h.9M395.4 111.4h.9M394.2 161.9h.9M395.8 131.8h.9M395.5 149.5h.9M395.2 136.4h.9M393.4 145.0h.9M396.1 116.0h.9M395.2 117.8h.9M397.4 158.0h.9M395.0 125.9h.9M397.7 129.6h.9M395.8 139.2h.9M396.3 160.2h.9M395.2 134.7h.9M405.8 162.3h.9M407.7 132.6h.9M405.7 130.3h.9M405.1 157.7h.9M405.4 144.5h.9M406.3 134.7h.9M405.4 157.6h.9M402.9 158.6h.9M405.7 161.4h.9M406.1 162.1h.9M405.7 123.3h.9M406.7 135.9h.9M408.1 135.2h.9M405.2 158.6h.9M405.3 113.5h.9M406.5 122.4h.9M404.7 147.9h.9M405.0 148.9h.9M407.6 141.9h.9M409.0 147.1h.9M408.3 131.7h.9M404.9 154.0h.9M407.8 154.9h.9M405.3 149.8h.9M406.4 162.1h.9M406.0 123.9h.9M408.1 123.2h.9M405.8 111.8h.9M410.1 137.8h.9M406.0 162.6h.9M404.3 114.6h.9M405.2 156.7h.9M407.0 143.8h.9M407.3 139.3h.9M406.7 126.7h.9M406.2 127.4h.9M407.1 131.4h.9M407.8 158.0h.9M405.9 130.6h.9M405.7 161.2h.9M407.2 132.2h.9M407.7 148.2h.9M408.6 132.2h.9M402.1 158.6h.9M407.9 157.1h.9M406.6 127.7h.9M407.4 120.2h.9M407.1 156.1h.9M406.5 164.0h.9M407.4 144.0h.9M408.5 161.9h.9M404.6 154.8h.9M409.1 136.8h.9M406.0 144.9h.9M403.3 134.5h.9M406.3 113.3h.9M404.5 156.9h.9M409.0 144.3h.9M408.5 149.9h.9M407.6 138.3h.9M407.3 156.2h.9M407.5 155.4h.9M405.7 112.7h.9M408.4 155.6h.9M406.4 118.3h.9M405.7 116.6h.9M404.0 115.7h.9M406.2 141.0h.9M407.3 163.7h.9M406.8 158.2h.9M405.8 147.0h.9M406.0 153.0h.9M406.1 150.7h.9M408.4 157.7h.9M404.9 142.1h.9M407.3 120.2h.9M405.4 118.0h.9M405.4 164.0h.9M406.0 142.8h.9M406.3 146.3h.9M403.9 161.9h.9M404.9 111.8h.9M404.7 128.5h.9M406.0 124.7h.9M406.5 134.6h.9M406.4 133.0h.9M406.8 114.8h.9M406.6 133.8h.9M406.3 162.0h.9M407.0 147.8h.9M407.8 133.2h.9M406.4 125.5h.9M407.4 129.2h.9M407.2 121.6h.9M407.9 163.1h.9M405.5 147.1h.9M406.1 151.8h.9M405.2 152.3h.9M405.7 164.2h.9M404.8 121.0h.9M407.2 153.6h.9M407.4 127.3h.9M406.3 156.8h.9M405.9 115.4h.9M407.8 114.9h.9M406.7 128.1h.9M407.4 137.3h.9M405.8 148.7h.9M404.2 146.3h.9M405.5 120.6h.9M408.2 141.7h.9M406.0 133.8h.9M405.9 164.6h.9M406.7 149.0h.9M409.4 119.1h.9M406.0 139.1h.9M408.4 138.6h.9M406.8 143.6h.9M408.0 142.2h.9M409.2 118.0h.9M404.5 159.7h.9M409.8 145.1h.9M405.4 132.6h.9M409.5 140.0h.9M406.8 120.3h.9M407.7 154.7h.9M407.7 156.6h.9M406.1 116.1h.9M405.9 140.5h.9M407.4 120.9h.9M405.9 160.6h.9M406.1 159.8h.9M406.9 163.9h.9M406.6 149.9h.9M405.1 113.9h.9M405.5 146.1h.9M407.6 144.7h.9M405.3 163.5h.9M406.2 149.4h.9M405.7 120.9h.9M408.9 159.4h.9M407.2 122.7h.9M404.8 161.8h.9M406.2 161.7h.9M407.1 162.2h.9M404.6 144.9h.9M405.4 135.6h.9M406.1 130.6h.9M406.9 113.0h.9M407.4 117.0h.9M406.9 121.1h.9M404.5 151.6h.9M407.4 152.8h.9M406.6 123.9h.9M405.5 163.6h.9M407.6 118.0h.9M405.0 160.3h.9M407.0 136.2h.9M408.9 137.6h.9M405.9 117.9h.9M407.3 112.6h.9M405.2 145.9h.9M406.0 126.5h.9M405.2 113.9h.9M407.2 160.0h.9M408.1 137.1h.9M406.2 131.8h.9M408.7 156.9h.9M407.2 130.9h.9M405.0 113.9h.9M407.7 146.4h.9M405.7 114.4h.9M404.4 164.0h.9M408.0 163.8h.9M406.0 127.6h.9M406.0 164.5h.9M408.0 149.3h.9M407.2 145.3h.9M407.5 131.7h.9M405.8 139.8h.9M419.6 141.4h.9M418.0 125.0h.9M417.0 156.9h.9M416.4 160.5h.9M417.7 126.9h.9M420.4 147.1h.9M417.5 159.8h.9M419.9 111.4h.9M419.7 113.7h.9M417.0 144.1h.9M418.8 127.5h.9M416.5 117.3h.9M419.1 161.8h.9M418.8 161.6h.9M417.8 146.2h.9M418.6 154.8h.9M419.3 131.2h.9M416.1 163.8h.9M416.2 138.4h.9M417.3 114.8h.9M417.9 162.9h.9M419.6 113.2h.9M418.2 133.4h.9M415.9 126.4h.9M418.6 163.5h.9M418.6 112.1h.9M417.7 139.7h.9M419.3 142.5h.9M417.2 119.8h.9M417.6 139.1h.9M419.9 130.7h.9M418.6 114.1h.9M416.7 122.4h.9M417.8 143.2h.9M419.5 122.1h.9M420.2 155.8h.9M416.5 120.5h.9M418.5 125.5h.9M419.1 158.7h.9M417.5 132.8h.9M416.7 130.9h.9M416.2 164.5h.9M418.7 114.8h.9M418.7 140.2h.9M418.1 129.3h.9M419.0 125.8h.9M417.8 151.5h.9M415.6 130.6h.9M415.6 139.6h.9M418.4 136.7h.9M416.3 125.3h.9M419.5 136.2h.9M417.5 162.1h.9M417.2 151.3h.9M419.0 121.6h.9M418.1 130.0h.9M417.7 133.9h.9M417.1 114.5h.9M418.7 118.6h.9M418.0 154.4h.9M416.2 147.4h.9M418.2 124.4h.9M419.7 145.4h.9M418.7 129.2h.9M419.1 133.0h.9M419.0 120.5h.9M419.1 117.2h.9M417.4 146.0h.9M417.1 128.8h.9M419.0 112.4h.9M417.9 115.6h.9M418.7 128.4h.9M416.5 163.8h.9M416.0 113.3h.9M417.4 147.4h.9M417.7 143.9h.9M418.1 124.5h.9M418.5 145.8h.9M419.3 136.9h.9M419.9 153.5h.9M417.3 115.8h.9M416.8 135.3h.9M420.2 147.9h.9M418.7 144.3h.9M418.0 137.2h.9M419.8 119.8h.9M418.4 123.3h.9M418.8 157.5h.9M418.6 120.5h.9M417.7 152.7h.9M419.3 141.3h.9M418.2 148.7h.9M419.0 113.5h.9M420.8 113.4h.9M418.0 148.1h.9M418.4 162.3h.9M419.1 158.4h.9M418.5 162.1h.9M418.1 142.1h.9M417.5 127.6h.9M418.0 126.6h.9M419.3 128.9h.9M418.1 145.6h.9M418.1 160.0h.9M419.8 163.0h.9M417.0 120.5h.9M418.6 113.8h.9M417.9 152.1h.9M417.7 137.6h.9M418.8 145.4h.9M419.8 147.0h.9M417.4 158.2h.9M419.2 118.7h.9M416.2 123.4h.9M419.2 121.3h.9M420.0 116.1h.9M414.9 112.6h.9M416.0 115.7h.9M419.2 118.0h.9M417.9 113.3h.9M418.0 162.1h.9M417.7 136.9h.9M419.8 148.7h.9M416.8 164.2h.9M418.3 157.8h.9M420.2 122.1h.9M419.4 151.6h.9M417.1 147.4h.9M419.4 146.3h.9M415.9 112.5h.9M416.7 140.9h.9M417.5 113.2h.9M416.5 147.9h.9M415.0 115.8h.9M417.9 161.5h.9M420.1 132.6h.9M418.7 114.0h.9M417.1 128.6h.9M418.2 157.3h.9M415.7 112.6h.9M416.9 161.5h.9M416.8 122.7h.9M416.6 117.5h.9M416.8 132.9h.9M419.0 139.5h.9M417.0 150.4h.9M419.9 112.1h.9M420.3 134.2h.9M418.9 134.7h.9M418.0 123.0h.9M416.6 116.3h.9M417.1 161.5h.9M418.0 148.6h.9M418.8 127.7h.9M418.6 124.7h.9M417.1 145.8h.9M416.0 164.1h.9M420.3 158.6h.9M419.1 122.1h.9M418.0 113.3h.9M417.6 158.9h.9M418.3 131.0h.9M418.7 160.0h.9M417.4 158.3h.9M419.4 132.3h.9M419.6 119.0h.9M415.0 134.0h.9M419.4 134.8h.9M419.0 148.7h.9M420.5 148.1h.9M418.5 117.0h.9M420.1 120.7h.9M419.0 162.6h.9M418.2 130.7h.9M416.4 128.3h.9M419.1 130.2h.9M418.0 132.4h.9" stroke="#ff0000" stroke-opacity="0.85" stroke-width="0.9"/>
<path d="M262.6 53.2h.9M264.0 49.9h.9M261.9 61.0h.9M264.4 95.0h.9M264.0 81.3h.9M265.6 89.6h.9M258.5 84.8h.9M262.0 77.7h.9M261.3 70.8h.9M261.0 93.5h.9M260.7 84.6h.9M258.8 91.9h.9M257.9 67.5h.9M260.8 75.6h.9M262.7 92.3h.9M260.9 61.6h.9M264.8 91.7h.9M261.2 54.5h.9M262.2 94.2h.9M261.7 75.9h.9M260.5 66.9h.9M261.6 81.9h.9M259.4 57.2h.9M262.8 56.7h.9M260.0 44.7h.9M260.0 66.6h.9M262.0 44.9h.9M259.7 67.9h.9M260.2 58.9h.9M263.0 45.3h.9M260.5 61.2h.9M260.1 70.1h.9M259.5 71.8h.9M260.7 46.8h.9M266.0 54.9h.9M259.5 70.8h.9M262.5 49.5h.9M260.4 94.2h.9M265.0 71.3h.9M264.6 87.3h.9M259.9 49.2h.9M259.8 61.1h.9M262.4 89.0h.9M258.8 75.3h.9M261.7 53.3h.9M260.5 86.0h.9M259.5 63.0h.9M265.3 83.3h.9M261.8 67.7h.9M266.6 63.4h.9M266.5 82.3h.9M260.6 93.8h.9M262.0 54.7h.9M259.1 81.5h.9M259.8 72.4h.9M263.8 74.0h.9M261.9 53.0h.9M261.5 61.6h.9M257.8 71.1h.9M261.2 92.1h.9M261.2 60.1h.9M264.5 54.0h.9M262.6 93.0h.9M263.4 59.9h.9M261.8 53.1h.9M263.9 64.8h.9M261.1 87.7h.9M262.4 64.4h.9M259.4 64.6h.9M261.6 75.5h.9M261.2 70.6h.9M259.9 74.6h.9M263.4 45.6h.9M261.7 83.3h.9M257.8 50.5h.9M263.9 61.1h.9M260.6 45.3h.9M256.5 71.2h.9M260.0 47.9h.9M256.2 76.4h.9M264.6 70.7h.9M259.0 62.7h.9M260.0 80.7h.9M257.9 53.1h.9M259.3 66.4h.9M262.8 75.4h.9M262.7 74.4h.9M262.7 85.6h.9M274.4 50.3h.9M269.0 60.9h.9M272.9 85.1h.9M273.5 85.5h.9M274.7 75.4h.9M272.2 44.8h.9M270.1 88.4h.9M274.7 83.5h.9M273.1 93.7h.9M274.3 70.4h.9M274.6 60.3h.9M268.5 69.1h.9M269.2 86.1h.9M275.4 57.1h.9M275.3 95.4h.9M272.5 85.6h.9M277.0 49.3h.9M271.9 83.0h.9M270.5 66.3h.9M279.1 54.6h.9M269.7 85.4h.9M269.6 67.4h.9M271.3 51.2h.9M273.2 94.5h.9M272.6 85.2h.9M275.4 52.1h.9M270.2 45.6h.9M273.3 49.1h.9M270.9 58.5h.9M276.3 49.6h.9M274.6 86.3h.9M270.4 66.2h.9M273.4 57.1h.9M275.1 88.4h.9M274.5 82.2h.9M269.1 77.8h.9M275.3 63.0h.9M276.0 82.3h.9M269.7 50.0h.9M271.8 43.0h.9M272.3 84.3h.9M273.8 47.7h.9M271.0 95.8h.9M268.0 93.0h.9M275.5 89.6h.9M274.8 91.0h.9M273.0 83.2h.9M271.6 45.3h.9M276.4 81.7h.9M273.1 71.9h.9M269.3 72.5h.9M268.7 70.0h.9M273.2 91.2h.9M269.6 67.7h.9M273.2 50.2h.9M272.5 44.2h.9M274.8 87.3h.9M274.2 88.7h.9M270.5 82.7h.9M274.3 69.2h.9M272.8 88.5h.9M272.5 77.2h.9M274.7 79.1h.9M274.8 55.5h.9M272.6 58.7h.9M274.9 80.4h.9M273.5 83.3h.9M274.6 51.6h.9M276.9 53.6h.9M268.0 74.9h.9M274.1 78.8h.9M269.6 93.0h.9M275.1 49.9h.9M274.9 84.9h.9M270.9 73.9h.9M272.5 65.1h.9M267.7 80.9h.9M271.4 65.2h.9M277.3 61.9h.9M272.6 92.6h.9M273.3 67.4h.9M270.6 48.6h.9M275.3 64.3h.9M275.1 88.6h.9M270.2 76.7h.9M274.3 75.1h.9M272.9 61.9h.9M271.9 58.7h.9M275.5 70.7h.9M272.0 70.8h.9M278.1 63.0h.9M287.0 51.1h.9M286.8 87.1h.9M280.9 94.6h.9M284.4 61.9h.9M277.8 60.2h.9M284.3 95.5h.9M282.7 63.3h.9M281.8 67.3h.9M286.7 66.6h.9M283.7 49.0h.9M285.7 62.3h.9M288.5 71.8h.9M284.8 93.0h.9M284.2 52.5h.9M284.3 49.9h.9M285.2 59.5h.9M284.9 61.1h.9M283.5 63.7h.9M281.5 64.1h.9M283.6 68.3h.9M285.7 59.6h.9M290.3 62.4h.9M280.8 84.9h.9M285.2 67.0h.9M284.3 48.5h.9M283.1 57.5h.9M288.7 95.4h.9M286.1 64.6h.9M282.7 86.0h.9M281.7 68.0h.9M285.2 49.8h.9M286.6 74.4h.9M282.2 58.4h.9M285.6 62.0h.9M285.0 80.9h.9M286.2 82.5h.9M285.6 84.8h.9M282.5 81.3h.9M282.0 62.6h.9M280.1 54.8h.9M287.4 54.8h.9M284.4 64.7h.9M287.8 78.3h.9M283.0 93.9h.9M282.4 46.2h.9M288.0 74.7h.9M281.5 92.8h.9M286.8 44.9h.9M287.9 87.8h.9M284.8 78.3h.9M289.0 58.8h.9M283.8 92.3h.9M282.2 84.0h.9M284.6 51.2h.9M284.6 50.2h.9M286.9 47.6h.9M283.7 65.2h.9M285.9 44.8h.9M286.1 70.0h.9M278.0 83.9h.9M287.8 43.2h.9M286.9 59.1h.9M287.6 73.8h.9M285.7 52.7h.9M281.7 44.5h.9M287.9 63.4h.9M288.1 74.6h.9M285.5 80.4h.9M285.6 45.9h.9M282.9 72.3h.9M281.5 71.0h.9M289.3 65.1h.9M287.0 75.8h.9M284.3 80.7h.9M288.1 94.8h.9M284.8 73.5h.9M281.7 43.4h.9M281.2 45.4h.9M286.9 81.9h.9M284.8 50.5h.9M283.3 85.1h.9M283.6 76.0h.9M285.8 56.0h.9M288.4 87.6h.9M286.4 75.2h.9M281.2 83.3h.9M285.9 48.2h.9M285.0 72.6h.9M285.2 95.2h.9M294.4 80.4h.9M295.2 91.4h.9M297.3 95.7h.9M300.6 48.9h.9M301.6 64.0h.9M294.8 74.5h.9M298.0 45.0h.9M298.6 44.1h.9M294.8 80.1h.9M293.2 89.8h.9M298.7 53.8h.9M298.8 48.3h.9M295.7 55.0h.9M298.5 93.8h.9M294.7 68.7h.9M292.2 51.5h.9M299.8 83.7h.9M300.9 91.7h.9M297.8 56.9h.9M300.8 51.6h.9M296.7 43.9h.9M297.3 65.6h.9M298.1 83.6h.9M299.2 92.4h.9M297.4 61.5h.9M297.7 88.1h.9M293.5 61.4h.9M295.0 67.5h.9M297.1 92.8h.9M300.9 57.0h.9M295.3 59.6h.9M299.1 48.5h.9M293.8 57.6h.9M297.6 54.6h.9M295.9 90.0h.9M299.4 53.5h.9M295.9 49.5h.9M294.8 75.1h.9M296.6 54.9h.9M300.2 65.5h.9M294.8 86.8h.9M292.4 66.8h.9M294.8 59.6h.9M294.6 56.1h.9M296.8 43.7h.9M298.9 60.1h.9M295.5 82.2h.9M295.8 50.0h.9M295.0 44.3h.9M300.4 79.7h.9M294.9 79.0h.9M296.6 90.8h.9M294.8 88.5h.9M298.9 48.0h.9M297.4 65.6h.9M296.5 48.2h.9M294.6 72.9h.9M294.7 93.9h.9M300.0 47.5h.9M293.5 61.5h.9M296.9 92.3h.9M297.0 50.9h.9M292.8 77.3h.9M299.3 70.9h.9M294.8 93.1h.9M297.1 66.0h.9M292.7 58.3h.9M298.4 89.5h.9M299.1 90.6h.9M293.7 46.6h.9M296.6 54.0h.9M301.1 59.9h.9M298.2 75.1h.9M295.4 83.7h.9M296.0 71.2h.9M298.6 90.0h.9M296.0 62.0h.9M296.3 59.7h.9M298.5 72.3h.9M299.7 50.4h.9M300.9 58.9h.9M296.3 64.2h.9M296.9 94.2h.9M295.7 43.6h.9M296.6 44.6h.9M295.7 43.3h.9M296.5 73.3h.9M292.0 95.5h.9M294.4 69.2h.9M296.6 86.9h.9M305.3 68.1h.9M306.6 94.8h.9M307.5 52.3h.9M312.3 65.2h.9M307.3 49.7h.9M308.0 43.9h.9M304.4 80.2h.9M309.7 51.6h.9M307.0 50.1h.9M306.5 87.3h.9M309.3 54.5h.9M307.5 87.6h.9M307.8 70.0h.9M302.0 86.2h.9M309.6 74.4h.9M304.7 55.7h.9M310.2 79.6h.9M305.1 61.3h.9M308.5 53.9h.9M306.4 59.8h.9M310.9 59.1h.9M308.1 63.9h.9M304.1 90.4h.9M310.4 81.9h.9M310.3 95.9h.9M312.2 56.3h.9M313.2 59.3h.9M311.1 91.6h.9M309.0 54.0h.9M307.8 46.3h.9M310.0 89.9h.9M305.5 76.6h.9M311.6 92.4h.9M306.6 56.2h.9M310.5 45.5h.9M310.0 55.8h.9M307.4 95.0h.9M311.2 70.6h.9M310.9 89.5h.9M308.1 43.6h.9M308.2 61.5h.9M310.9 89.8h.9M305.5 69.1h.9M308.1 47.9h.9M308.7 69.4h.9M304.6 46.1h.9M307.9 76.0h.9M309.0 87.0h.9M313.0 56.7h.9M310.4 65.8h.9M306.2 65.8h.9M306.7 56.7h.9M306.1 84.3h.9M302.2 70.4h.9M301.9 43.0h.9M307.2 72.9h.9M306.2 74.3h.9M307.5 93.3h.9M308.0 82.4h.9M306.7 54.2h.9M310.1 52.6h.9M309.9 52.1h.9M304.4 78.6h.9M308.1 58.8h.9M307.3 64.6h.9M304.9 92.6h.9M306.3 47.1h.9M307.4 66.6h.9M310.0 88.3h.9M306.0 46.0h.9M307.6 78.3h.9M304.1 87.2h.9M307.4 74.2h.9M309.9 55.7h.9M307.9 58.2h.9M309.0 71.8h.9M307.5 75.8h.9M306.2 78.3h.9M306.0 47.2h.9M306.0 64.8h.9M308.8 60.6h.9M312.6 89.2h.9M304.8 70.1h.9M308.0 94.8h.9M312.4 75.8h.9M309.2 64.6h.9M308.3 45.8h.9M305.4 52.1h.9M310.2 46.3h.9M308.7 79.5h.9M321.6 92.6h.9M319.2 83.6h.9M319.0 78.5h.9M318.0 81.4h.9M317.8 54.0h.9M317.6 81.5h.9M320.9 61.5h.9M318.1 77.1h.9M315.5 57.9h.9M321.5 61.4h.9M320.1 87.6h.9M321.1 47.5h.9M319.7 54.5h.9M319.9 59.4h.9M319.9 61.3h.9M317.0 80.7h.9M316.4 82.1h.9M319.5 73.3h.9M313.8 45.5h.9M321.0 72.9h.9M320.7 69.5h.9M320.4 76.7h.9M318.5 58.1h.9M319.1 90.9h.9M320.5 86.7h.9M321.2 60.2h.9M320.6 93.4h.9M322.9 90.4h.9M321.0 91.1h.9M324.5 79.9h.9M317.8 56.0h.9M314.5 49.6h.9M325.0 52.4h.9M318.6 52.7h.9M316.6 84.9h.9M316.6 95.5h.9M313.4 64.5h.9M320.3 47.4h.9M319.6 73.3h.9M317.9 56.3h.9M320.0 82.0h.9M318.4 83.9h.9M320.2 86.0h.9M316.3 42.9h.9M317.9 78.9h.9M319.8 45.2h.9M316.2 52.2h.9M323.0 63.2h.9M320.2 75.5h.9M316.7 44.9h.9M315.9 57.7h.9M318.9 52.8h.9M321.5 84.1h.9M317.1 66.3h.9M319.0 82.5h.9M320.2 66.7h.9M319.7 57.7h.9M319.8 89.9h.9M322.6 72.5h.9M319.7 87.5h.9M320.4 54.0h.9M320.2 58.3h.9M320.6 87.6h.9M322.4 44.8h.9M317.4 90.7h.9M318.1 55.5h.9M320.1 72.9h.9M321.6 52.7h.9M315.6 76.5h.9M318.3 58.8h.9M318.9 85.1h.9M319.3 87.1h.9M321.5 72.1h.9M319.7 64.4h.9M317.2 94.4h.9M318.2 94.5h.9M321.7 44.7h.9M320.7 52.0h.9M324.1 63.2h.9M316.8 51.5h.9M320.7 89.1h.9M319.3 74.9h.9M316.8 95.7h.9M315.6 58.8h.9M320.8 93.9h.9M320.2 49.4h.9M316.7 51.7h.9M317.6 78.3h.9M313.3 82.2h.9M321.8 60.8h.9M326.5 86.6h.9M331.2 89.4h.9M326.8 71.9h.9M334.8 65.5h.9M330.9 62.2h.9M334.3 74.3h.9M330.6 78.3h.9M332.0 85.2h.9M335.2 70.2h.9M331.6 83.3h.9M331.0 68.9h.9M333.7 92.5h.9M325.4 70.5h.9M331.0 60.2h.9M330.8 53.1h.9M328.3 56.1h.9M331.1 94.1h.9M330.6 76.2h.9M332.7 47.4h.9M333.8 89.0h.9M334.6 47.2h.9M333.5 49.2h.9M331.9 66.2h.9M330.0 70.1h.9M330.9 46.9h.9M332.7 58.4h.9M332.8 62.7h.9M335.4 75.7h.9M330.6 47.6h.9M330.1 50.3h.9M330.8 87.7h.9M330.3 94.5h.9M334.0 54.2h.9M332.6 52.7h.9M329.2 66.9h.9M335.5 58.3h.9M333.2 68.9h.9M328.0 81.7h.9M328.7 65.3h.9M333.8 80.1h.9M330.8 56.6h.9M330.8 47.4h.9M332.2 61.9h.9M331.7 68.5h.9M331.5 75.6h.9M331.7 60.1h.9M333.4 48.6h.9M328.3 49.7h.9M331.3 66.5h.9M333.2 81.4h.9M333.0 86.5h.9M327.7 68.9h.9M330.9 84.0h.9M325.5 56.7h.9M329.9 88.0h.9M328.9 75.5h.9M334.9 43.2h.9M333.6 57.6h.9M336.4 83.2h.9M333.6 47.8h.9M330.5 70.6h.9M326.2 92.5h.9M327.4 89.8h.9M330.7 53.8h.9M331.5 76.6h.9M329.4 69.8h.9M333.8 92.2h.9M329.8 93.2h.9M333.0 84.5h.9M327.1 93.3h.9M331.9 86.0h.9M336.9 58.9h.9M329.7 50.2h.9M332.0 69.6h.9M332.1 59.5h.9M333.0 79.3h.9M333.3 75.8h.9M329.9 67.5h.9M330.6 52.2h.9M327.2 85.6h.9M330.2 70.4h.9M330.7 52.3h.9M335.4 80.5h.9M333.4 53.0h.9M328.7 62.7h.9M333.4 44.1h.9M333.2 64.5h.9M330.1 56.3h.9M330.0 57.3h.9M333.8 48.3h.9M346.4 84.5h.9M343.7 54.9h.9M346.2 72.0h.9M345.7 89.3h.9M343.5 63.5h.9M347.1 75.0h.9M342.3 88.0h.9M343.1 59.9h.9M342.3 62.8h.9M343.4 66.6h.9M346.7 86.9h.9M346.0 65.8h.9M338.2 65.3h.9M341.0 49.0h.9M343.0 94.8h.9M344.2 53.9h.9M339.9 50.0h.9M339.2 44.8h.9M341.0 89.0h.9M342.7 45.5h.9M340.9 76.8h.9M344.2 51.7h.9M346.9 75.2h.9M343.5 44.9h.9M343.4 87.3h.9M342.9 81.4h.9M340.3 60.2h.9M344.1 44.6h.9M344.5 93.0h.9M351.4 48.0h.9M348.3 68.5h.9M344.5 83.0h.9M342.5 50.2h.9M340.5 88.0h.9M344.4 83.5h.9M341.7 57.7h.9M341.9 58.9h.9M343.7 60.6h.9M340.9 54.4h.9M346.7 95.9h.9M346.8 68.1h.9M345.1 72.8h.9M340.9 58.5h.9M344.3 45.2h.9M344.4 67.8h.9M344.9 69.0h.9M347.1 43.8h.9M345.4 82.7h.9M343.8 68.2h.9M340.3 75.5h.9M342.5 92.7h.9M340.5 76.2h.9M343.8 83.6h.9M342.5 64.6h.9M348.7 88.1h.9M346.7 79.2h.9M345.0 95.4h.9M340.9 62.9h.9M341.5 93.5h.9M344.1 50.3h.9M346.0 75.4h.9M338.7 77.7h.9M341.0 78.6h.9M338.6 78.4h.9M340.1 72.8h.9M343.7 51.2h.9M346.4 56.8h.9M339.0 83.1h.9M342.8 49.2h.9M342.7 47.3h.9M343.2 92.1h.9M342.1 87.5h.9M340.2 92.6h.9M342.1 60.2h.9M337.5 73.9h.9M342.8 68.1h.9M342.0 89.6h.9M339.6 74.3h.9M339.1 43.2h.9M338.2 46.4h.9M344.6 81.6h.9M346.5 79.0h.9M342.5 48.5h.9M340.2 82.0h.9M345.8 78.4h.9M347.0 49.6h.9M344.4 77.9h.9M339.3 92.9h.9M345.3 59.3h.9M342.6 63.5h.9M354.2 91.7h.9M359.3 94.4h.9M349.8 54.6h.9M352.9 47.4h.9M355.5 91.1h.9M353.4 61.3h.9M354.2 75.5h.9M349.1 60.0h.9M352.2 83.4h.9M355.6 94.8h.9M352.4 43.0h.9M356.0 80.0h.9M355.6 46.7h.9M351.2 46.8h.9M355.8 74.3h.9M355.2 46.9h.9M351.3 61.0h.9M353.5 92.6h.9M351.8 80.2h.9M350.8 42.9h.9M353.7 53.6h.9M354.2 70.8h.9M351.3 44.7h.9M356.5 93.3h.9M352.6 47.2h.9M351.4 58.1h.9M351.6 69.9h.9M349.6 44.4h.9M355.7 90.3h.9M356.7 78.6h.9M353.0 78.6h.9M353.8 58.4h.9M356.6 55.7h.9M353.4 91.6h.9M353.5 51.9h.9M354.0 50.5h.9M349.1 49.7h.9M359.1 64.8h.9M357.2 51.2h.9M355.9 53.6h.9M356.1 81.6h.9M351.9 52.1h.9M350.8 63.4h.9M356.6 60.9h.9M354.8 54.7h.9M351.2 83.1h.9M352.0 87.6h.9M357.2 47.7h.9M356.5 63.6h.9M355.0 65.1h.9M354.7 84.2h.9M360.7 63.6h.9M355.9 86.9h.9M356.2 60.8h.9M353.9 91.1h.9M352.4 63.6h.9M358.1 75.3h.9M350.2 47.9h.9M355.3 64.9h.9M357.1 93.9h.9M355.2 66.3h.9M355.6 49.2h.9M352.0 93.0h.9M360.0 94.9h.9M354.2 80.2h.9M351.3 52.4h.9M354.6 44.1h.9M356.1 59.7h.9M353.3 92.4h.9M353.5 59.3h.9M358.2 59.7h.9M356.2 64.4h.9M355.6 63.7h.9M356.2 57.6h.9M351.4 91.3h.9M356.2 65.7h.9M354.5 69.4h.9M350.1 43.9h.9M352.6 88.5h.9M356.1 86.3h.9M354.4 85.1h.9M353.0 75.1h.9M351.0 46.8h.9M353.9 69.9h.9M355.4 73.7h.9M357.5 49.7h.9M354.7 48.6h.9M352.4 55.6h.9M354.5 83.7h.9M350.1 69.1h.9M365.8 60.7h.9M366.7 69.2h.9M368.1 58.5h.9M363.0 80.2h.9M365.2 88.3h.9M363.2 58.5h.9M369.7 43.6h.9M366.8 85.9h.9M364.0 52.2h.9M365.8 89.7h.9M368.0 80.9h.9M368.0 82.5h.9M366.2 86.2h.9M369.9 84.0h.9M366.9 84.3h.9M367.9 83.2h.9M368.5 63.1h.9M362.4 78.1h.9M366.3 75.9h.9M371.1 79.8h.9M369.1 49.4h.9M362.3 63.3h.9M366.0 44.0h.9M365.9 79.7h.9M367.5 59.3h.9M366.5 76.1h.9M367.5 57.0h.9M365.1 53.0h.9M368.2 52.2h.9M363.1 91.4h.9M365.7 79.0h.9M366.7 68.4h.9M366.1 83.2h.9M366.1 45.9h.9M367.0 80.3h.9M366.9 47.0h.9M365.4 46.1h.9M367.2 93.3h.9M367.2 47.7h.9M363.4 56.0h.9M366.6 48.2h.9M366.0 44.6h.9M364.1 71.4h.9M364.3 51.1h.9M361.6 57.8h.9M366.1 49.4h.9M367.8 68.6h.9M362.2 54.5h.9M361.7 49.2h.9M363.9 60.8h.9M370.8 59.8h.9M364.8 73.5h.9M366.2 84.4h.9M363.4 94.9h.9M365.4 88.4h.9M366.9 84.9h.9M368.6 69.5h.9M368.6 73.2h.9M364.5 52.1h.9M370.4 50.3h.9M367.1 74.5h.9M365.6 75.3h.9M364.5 68.9h.9M369.2 64.4h.9M363.9 53.0h.9M366.9 66.3h.9M367.5 84.6h.9M372.1 83.4h.9M369.7 90.1h.9M371.5 62.5h.9M364.5 60.2h.9M370.8 55.0h.9M364.5 51.9h.9M362.6 91.2h.9M361.1 74.7h.9M365.8 88.5h.9M364.5 67.9h.9M369.0 74.6h.9M363.9 93.9h.9M365.7 52.5h.9M363.7 81.7h.9M362.5 86.1h.9M366.6 78.3h.9M363.1 52.8h.9M365.8 94.5h.9M358.6 88.2h.9M363.9 65.3h.9M362.0 86.3h.9M361.4 80.5h.9M368.0 71.4h.9M379.3 60.5h.9M379.0 63.5h.9M381.1 85.5h.9M378.2 82.5h.9M379.6 78.2h.9M375.6 86.5h.9M375.0 45.6h.9M373.3 94.7h.9M377.3 44.2h.9M374.9 81.7h.9M375.3 78.6h.9M378.6 88.1h.9M373.7 50.6h.9M373.8 78.3h.9M377.8 93.0h.9M377.1 87.8h.9M380.2 54.8h.9M376.3 87.0h.9M378.6 53.2h.9M378.8 88.9h.9M377.2 58.6h.9M378.1 92.8h.9M378.7 79.2h.9M374.0 77.6h.9M377.5 87.4h.9M381.1 73.0h.9M380.1 51.4h.9M375.5 49.2h.9M376.6 73.0h.9M376.9 91.0h.9M379.7 79.3h.9M377.7 84.6h.9M375.4 53.3h.9M382.6 43.2h.9M377.9 76.0h.9M380.2 92.0h.9M377.1 65.9h.9M377.1 88.5h.9M378.4 69.0h.9M381.0 60.8h.9M372.8 56.1h.9M380.1 57.9h.9M378.3 54.3h.9M376.6 59.5h.9M380.2 49.6h.9M379.1 81.7h.9M376.5 77.8h.9M377.7 77.2h.9M381.4 96.0h.9M378.9 50.4h.9M378.3 57.5h.9M379.6 89.3h.9M379.5 72.0h.9M375.8 93.7h.9M377.0 88.6h.9M380.6 71.1h.9M376.9 47.6h.9M375.6 45.3h.9M376.2 59.2h.9M377.9 57.8h.9M381.8 57.0h.9M374.3 52.4h.9M377.2 84.4h.9M375.3 88.4h.9M375.7 53.1h.9M378.0 64.0h.9M376.9 67.8h.9M380.1 78.0h.9M377.9 93.3h.9M376.5 50.9h.9M378.5 72.4h.9M375.3 70.5h.9M379.8 79.1h.9M382.1 65.3h.9M374.6 48.9h.9M376.5 89.4h.9M373.9 61.2h.9M378.2 48.7h.9M379.5 82.3h.9M375.2 88.8h.9M381.5 92.7h.9M379.4 57.5h.9M375.2 88.8h.9M378.7 45.7h.9M377.5 81.9h.9M375.4 61.3h.9M381.5 89.0h.9M380.1 73.9h.9M380.1 96.0h.9M378.2 81.1h.9M391.9 62.8h.9M392.7 44.2h.9M389.8 55.3h.9M391.1 49.4h.9M388.5 91.9h.9M387.7 55.2h.9M390.8 42.8h.9M389.5 90.0h.9M387.8 45.6h.9M385.6 85.0h.9M384.8 51.3h.9M389.1 82.5h.9M387.7 51.3h.9M393.2 58.3h.9M391.4 94.5h.9M391.4 72.8h.9M390.6 69.2h.9M387.1 51.7h.9M386.0 62.0h.9M388.1 65.8h.9M388.8 87.3h.9M390.7 87.4h.9M389.2 71.2h.9M387.6 95.8h.9M388.8 47.5h.9M392.8 90.6h.9M384.4 59.9h.9M386.9 94.1h.9M386.5 69.1h.9M389.9 66.3h.9M388.6 70.8h.9M388.9 65.2h.9M391.6 52.8h.9M391.4 90.3h.9M393.0 63.4h.9M387.0 42.9h.9M386.6 92.1h.9M391.0 46.6h.9M387.3 53.2h.9M388.4 46.0h.9M392.9 55.9h.9M394.6 43.5h.9M389.1 45.8h.9M391.0 84.6h.9M389.9 67.1h.9M389.5 63.0h.9M391.3 68.5h.9M390.0 53.8h.9M389.3 57.2h.9M391.6 63.1h.9M392.7 53.6h.9M390.8 67.6h.9M388.5 66.9h.9M390.7 89.5h.9M394.5 60.3h.9M389.3 73.9h.9M392.1 66.8h.9M391.3 74.5h.9M394.7 79.9h.9M391.7 85.2h.9M387.2 89.6h.9M388.9 92.9h.9M389.3 68.2h.9M390.3 88.5h.9M389.9 84.2h.9M389.0 50.6h.9M388.5 83.1h.9M388.6 87.4h.9M391.0 47.1h.9M387.3 62.3h.9M390.1 77.9h.9M387.5 51.0h.9M389.3 76.0h.9M390.7 59.5h.9M394.4 53.7h.9M395.0 85.0h.9M387.3 93.6h.9M389.5 55.9h.9M389.6 55.9h.9M386.1 49.3h.9M385.8 54.7h.9M389.9 65.3h.9M390.8 62.9h.9M390.9 81.4h.9M393.1 85.1h.9M387.0 45.4h.9M387.2 54.7h.9M390.2 48.9h.9M393.7 53.6h.9M390.9 64.6h.9M402.8 68.8h.9M399.6 49.1h.9M400.2 78.8h.9M401.6 86.3h.9M401.6 60.8h.9M401.5 93.3h.9M398.0 90.9h.9M399.8 76.3h.9M404.8 45.2h.9M401.1 81.3h.9M401.4 53.8h.9M395.8 90.3h.9M400.3 92.1h.9M404.3 92.2h.9M400.5 72.1h.9M401.8 45.1h.9M403.5 55.5h.9M399.9 94.8h.9M403.9 51.5h.9M401.0 91.4h.9M398.0 94.9h.9M401.5 64.6h.9M402.8 53.7h.9M402.2 76.2h.9M400.8 84.4h.9M393.8 64.3h.9M398.9 90.2h.9M401.9 64.0h.9M401.6 78.6h.9M407.2 82.3h.9M401.7 68.6h.9M402.5 46.4h.9M398.5 53.8h.9M401.3 77.7h.9M399.5 92.9h.9M399.7 66.2h.9M400.0 47.2h.9M399.6 61.5h.9M400.0 83.4h.9M400.9 75.0h.9M401.9 86.2h.9M400.9 55.8h.9M401.7 56.5h.9M403.3 54.3h.9M404.2 70.3h.9M403.0 76.9h.9M401.4 52.7h.9M399.8 48.6h.9M404.4 73.8h.9M404.8 50.4h.9M396.1 63.1h.9M400.2 56.7h.9M403.2 74.6h.9M401.5 70.1h.9M402.2 54.1h.9M410.0 92.0h.9M400.8 89.2h.9M396.9 88.9h.9M401.1 80.9h.9M400.5 60.2h.9M399.2 77.2h.9M401.8 52.9h.9M402.7 82.4h.9M397.3 82.2h.9M400.5 87.8h.9M399.3 72.1h.9M400.4 90.3h.9M402.4 76.7h.9M400.6 70.4h.9M405.1 91.6h.9M405.4 77.0h.9M401.8 91.3h.9M403.8 60.6h.9M401.1 63.8h.9M398.4 42.9h.9M399.7 69.1h.9M397.3 76.5h.9M401.6 92.8h.9M398.6 87.2h.9M400.5 92.0h.9M402.9 51.6h.9M399.6 66.9h.9M397.0 46.8h.9M401.1 70.3h.9M399.8 75.8h.9M398.0 62.3h.9M401.9 94.6h.9M403.2 68.3h.9M403.5 58.4h.9M398.5 93.4h.9M416.1 54.3h.9M415.2 43.0h.9M409.5 93.0h.9M415.2 73.0h.9M416.1 53.7h.9M412.4 44.2h.9M415.8 44.2h.9M414.2 51.6h.9M412.3 44.9h.9M416.7 61.8h.9M417.0 83.1h.9M409.9 61.4h.9M416.4 87.5h.9M409.8 84.5h.9M413.8 60.8h.9M414.6 65.2h.9M411.6 60.7h.9M413.4 88.2h.9M412.7 48.9h.9M409.5 75.6h.9M412.4 50.1h.9M411.2 94.0h.9M414.4 73.4h.9M414.6 83.8h.9M414.2 78.2h.9M414.4 70.6h.9M414.1 75.6h.9M411.3 93.7h.9M420.2 70.4h.9M411.4 71.8h.9M414.5 65.1h.9M417.2 57.3h.9M415.1 70.6h.9M410.6 63.3h.9M412.7 63.6h.9M416.3 46.0h.9M414.5 77.5h.9M412.7 92.6h.9M408.4 81.8h.9M414.5 43.1h.9M415.3 84.6h.9M414.9 42.9h.9M412.2 86.2h.9M413.6 90.1h.9M412.6 51.8h.9M412.8 49.8h.9M411.6 86.1h.9M412.7 44.3h.9M412.7 92.3h.9M411.2 47.4h.9M414.5 54.7h.9M411.7 81.4h.9M410.6 70.5h.9M413.0 47.7h.9M412.2 94.2h.9M413.2 70.9h.9M413.6 79.7h.9M411.8 52.4h.9M413.9 62.0h.9M410.5 68.0h.9M414.4 49.4h.9M409.6 60.7h.9M413.3 89.4h.9M414.5 75.4h.9M416.8 95.0h.9M415.1 48.6h.9M412.9 55.4h.9M413.4 60.1h.9M411.3 53.7h.9M413.0 43.8h.9M412.6 73.3h.9M417.2 78.2h.9M414.4 47.6h.9M414.6 76.2h.9M410.0 55.1h.9M411.3 60.8h.9M407.4 47.4h.9M412.1 85.3h.9M415.7 43.2h.9M409.4 88.8h.9M411.0 48.1h.9M415.7 54.0h.9M412.5 88.1h.9M413.1 61.3h.9M411.4 93.8h.9M414.4 63.8h.9M408.8 82.1h.9M410.5 48.6h.9M409.9 95.5h.9M410.5 66.8h.9M421.5 60.3h.9M421.2 51.0h.9M420.8 75.1h.9M421.7 84.9h.9M420.1 86.3h.9M420.4 82.8h.9M421.0 84.2h.9M421.0 57.8h.9M409.4 80.9h.9M296.0 94.3h.9M263.7 75.1h.9M407.3 65.6h.9M391.8 82.7h.9M384.2 73.1h.9M374.2 92.9h.9M294.7 79.4h.9M268.4 70.7h.9M411.0 78.1h.9M413.9 43.6h.9M333.1 93.3h.9M415.6 71.5h.9M317.6 69.8h.9M379.5 68.1h.9M259.0 72.3h.9M335.0 66.2h.9M285.7 86.3h.9M409.2 93.9h.9M281.6 52.5h.9M256.8 80.9h.9M270.7 66.2h.9M291.4 44.8h.9M358.8 79.6h.9M376.3 55.2h.9M367.2 57.6h.9M350.1 87.0h.9M267.1 80.0h.9M297.0 81.8h.9M314.1 46.7h.9M370.8 70.7h.9M358.1 58.7h.9M342.3 95.1h.9M327.2 69.3h.9M403.8 81.6h.9M294.8 76.4h.9M281.6 86.6h.9M383.3 84.0h.9M372.6 62.8h.9M333.6 51.9h.9M410.5 47.7h.9M310.4 56.7h.9M367.4 58.7h.9M290.0 47.1h.9M292.1 95.5h.9M273.5 92.2h.9M390.9 64.8h.9M408.7 86.9h.9M289.0 94.7h.9M306.3 76.9h.9M289.3 80.8h.9M305.0 83.9h.9M413.2 51.3h.9M394.8 70.6h.9M262.4 86.3h.9M324.9 44.7h.9M377.0 77.7h.9M345.6 62.5h.9M314.0 80.4h.9M369.8 87.9h.9M299.6 84.2h.9M297.2 48.6h.9M404.1 59.8h.9M371.8 92.4h.9M410.4 60.5h.9M262.0 44.1h.9M394.2 61.5h.9M289.0 85.6h.9M339.2 90.5h.9M356.7 55.8h.9M410.7 43.1h.9M364.3 57.0h.9M287.7 59.4h.9M354.6 61.5h.9M391.1 62.3h.9M289.8 61.7h.9M410.4 63.7h.9M392.5 92.7h.9M302.0 52.2h.9M286.3 61.2h.9M311.5 66.2h.9M266.7 73.1h.9M351.4 91.3h.9M292.1 43.7h.9M270.3 48.6h.9M262.8 91.3h.9M404.4 49.5h.9M264.0 51.7h.9M272.4 95.8h.9M352.0 73.1h.9M341.5 82.8h.9M417.9 49.8h.9M399.0 79.9h.9M257.7 92.5h.9M365.2 60.5h.9M402.3 57.9h.9M417.5 92.0h.9M259.3 58.0h.9M302.3 77.1h.9M385.6 71.0h.9M383.3 60.1h.9M317.4 65.4h.9M335.0 55.8h.9M356.9 91.4h.9M372.2 57.0h.9M311.2 56.8h.9M321.2 95.4h.9M319.6 77.4h.9M259.0 67.2h.9M342.7 49.8h.9M372.4 54.6h.9M372.6 59.0h.9M318.8 66.3h.9M362.0 53.2h.9M291.5 50.0h.9M319.6 68.1h.9M275.6 63.6h.9M401.6 95.3h.9M348.4 86.3h.9M421.0 43.4h.9M299.7 81.1h.9M337.2 54.0h.9M264.6 52.0h.9M290.6 48.8h.9M269.7 61.8h.9M378.1 79.1h.9M384.4 82.1h.9M326.3 46.6h.9M324.4 52.1h.9M385.2 67.1h.9M312.9 90.5h.9M296.1 89.6h.9M259.1 86.8h.9M354.1 47.2h.9M338.1 46.6h.9M380.6 56.9h.9M401.9 86.5h.9M326.7 69.0h.9M362.0 88.3h.9M356.0 71.1h.9M292.6 54.5h.9M337.7 94.4h.9M258.1 50.1h.9M330.7 91.3h.9M362.5 88.0h.9M312.0 58.6h.9M349.8 59.2h.9M340.0 91.5h.9M334.9 56.9h.9M305.7 64.4h.9M380.3 73.5h.9M386.9 84.7h.9M310.3 61.2h.9M266.2 78.5h.9M320.7 92.9h.9M289.0 81.9h.9M288.3 53.4h.9M286.7 50.9h.9M404.4 50.8h.9M309.1 80.3h.9M409.2 72.4h.9M321.7 58.6h.9M273.4 50.0h.9M323.9 77.6h.9M334.9 56.9h.9M316.2 65.0h.9M382.7 61.3h.9M395.1 50.6h.9M376.6 58.6h.9M339.1 46.5h.9M351.8 75.3h.9M314.4 70.9h.9M357.7 56.1h.9M360.8 62.4h.9M405.0 91.8h.9M405.0 57.5h.9M362.7 58.5h.9M411.1 44.8h.9M262.8 64.4h.9M380.7 95.3h.9M318.0 58.1h.9M292.4 81.4h.9M397.0 87.0h.9M344.3 49.7h.9M373.6 88.4h.9M267.2 90.7h.9M348.0 88.0h.9M308.5 50.5h.9M306.7 56.3h.9M259.3 58.9h.9M268.1 93.7h.9M279.0 64.4h.9M331.1 64.1h.9M328.2 64.9h.9M294.8 43.5h.9M358.8 78.6h.9M350.6 56.8h.9M363.3 85.9h.9M312.3 89.0h.9M383.2 78.1h.9M288.1 95.6h.9M281.2 53.3h.9M259.0 58.3h.9M337.1 71.6h.9M414.8 60.0h.9M315.4 52.1h.9M326.5 61.4h.9M417.6 90.9h.9M292.4 60.3h.9M257.5 68.0h.9M336.6 45.4h.9M272.8 68.7h.9M264.9 92.5h.9M390.3 73.7h.9M338.6 84.3h.9M322.3 67.6h.9M419.2 73.9h.9M360.5 76.1h.9M376.7 43.0h.9M256.9 43.3h.9M281.6 46.8h.9M417.8 52.0h.9M283.2 92.7h.9M383.3 51.3h.9M268.7 74.1h.9M375.6 58.1h.9M293.8 63.4h.9M337.1 67.1h.9M270.3 61.8h.9M327.7 70.5h.9M395.2 75.2h.9M316.5 94.2h.9M271.7 51.9h.9M399.8 52.5h.9M369.3 91.5h.9M392.5 71.5h.9M305.3 93.7h.9M262.3 58.9h.9M307.4 48.3h.9M363.1 82.5h.9M304.8 70.7h.9M261.6 62.9h.9M382.1 69.9h.9M270.7 60.8h.9M308.7 88.3h.9M403.3 94.7h.9M315.8 66.9h.9M360.0 44.6h.9M318.5 81.0h.9M311.8 65.0h.9M316.4 62.0h.9M295.0 62.3h.9M402.3 60.4h.9M360.3 80.9h.9M292.4 58.5h.9M392.8 52.8h.9M302.9 75.0h.9M345.6 64.5h.9M394.1 85.3h.9M280.3 61.7h.9M380.7 80.8h.9M311.2 71.2h.9M347.9 81.1h.9M365.6 80.8h.9M351.7 83.2h.9M324.4 54.4h.9M262.3 45.6h.9M327.7 61.1h.9M300.6 82.1h.9M370.9 62.3h.9M302.1 61.3h.9M320.0 91.5h.9M342.4 62.8h.9M324.5 48.8h.9M340.2 68.7h.9M407.5 66.3h.9M298.3 71.2h.9M343.7 85.2h.9M411.6 53.0h.9M375.3 51.0h.9M417.7 56.1h.9M371.6 66.1h.9M283.1 70.6h.9M371.1 82.5h.9M309.3 86.6h.9M283.9 93.9h.9M377.7 83.7h.9M304.2 46.5h.9M364.2 54.1h.9M358.3 54.7h.9M263.7 90.8h.9M378.1 49.0h.9M268.0 82.1h.9M404.7 56.4h.9M413.9 44.9h.9M340.7 73.6h.9M312.1 55.6h.9M400.7 72.6h.9M309.6 63.3h.9M407.2 92.4h.9M406.9 71.9h.9M294.4 73.3h.9M370.5 57.3h.9M329.6 75.6h.9M317.4 66.4h.9M357.8 64.5h.9M376.8 54.4h.9M356.8 73.2h.9M289.2 82.2h.9M273.4 74.6h.9M362.0 52.0h.9M276.6 47.2h.9M334.7 69.6h.9M336.6 49.0h.9M369.9 78.7h.9M366.9 87.5h.9M361.9 54.8h.9M331.1 63.8h.9M352.5 79.7h.9M336.2 88.2h.9M416.2 54.1h.9M288.4 43.9h.9M289.9 49.6h.9M271.7 86.9h.9M264.5 68.1h.9M288.4 75.4h.9M314.9 61.9h.9M322.3 88.2h.9M342.4 54.0h.9M289.7 53.8h.9M274.1 94.4h.9M383.3 55.1h.9M352.9 90.4h.9M300.8 49.8h.9M333.8 90.3h.9M323.6 84.1h.9M264.8 90.8h.9M347.4 51.2h.9M287.5 65.4h.9M388.5 69.1h.9M259.0 94.7h.9M297.6 85.4h.9M291.3 62.0h.9M271.5 70.9h.9M287.4 50.3h.9M265.9 93.5h.9M378.0 55.6h.9M262.6 43.2h.9M373.4 85.5h.9M306.0 86.7h.9M261.3 48.3h.9M345.1 65.0h.9M347.0 82.1h.9M398.4 79.5h.9M357.9 80.1h.9M358.7 95.7h.9M364.5 88.5h.9M382.0 61.5h.9M410.4 43.4h.9M257.5 118.1h.9M257.0 162.8h.9M255.9 111.1h.9M258.4 134.7h.9M256.7 138.1h.9M256.9 126.2h.9M257.8 158.0h.9M256.3 161.6h.9M258.7 117.2h.9M258.8 118.6h.9M258.9 121.8h.9M258.5 112.3h.9M256.8 134.8h.9M257.9 149.9h.9M257.2 134.4h.9M256.2 152.3h.9M259.1 163.5h.9M257.2 123.7h.9M259.3 117.9h.9M257.1 161.4h.9M255.9 116.4h.9M256.1 135.8h.9M257.5 164.0h.9M256.3 136.6h.9M259.0 129.8h.9M259.7 143.6h.9M258.4 160.1h.9M258.1 123.4h.9M257.8 129.1h.9M257.4 153.4h.9M256.4 135.8h.9M256.0 154.4h.9M256.1 146.4h.9M258.6 160.2h.9M256.0 115.9h.9M257.6 119.3h.9M255.8 159.2h.9M259.6 124.4h.9M256.2 134.1h.9M268.4 120.0h.9M260.5 132.4h.9M269.0 161.0h.9M269.4 120.4h.9M267.3 117.9h.9M270.2 159.4h.9M265.2 120.0h.9M266.8 128.2h.9M266.4 160.6h.9M266.2 134.7h.9M268.7 146.7h.9M265.2 147.5h.9M264.7 162.4h.9M266.4 141.4h.9M270.0 149.7h.9M264.4 129.0h.9M264.6 124.0h.9M265.2 135.2h.9M259.8 124.7h.9M263.6 146.6h.9M264.8 118.6h.9M269.3 135.6h.9M263.3 142.0h.9M266.2 163.5h.9M265.7 125.9h.9M267.0 116.7h.9M265.3 136.6h.9M266.8 133.2h.9M265.4 126.1h.9M268.0 117.7h.9M266.0 124.3h.9M267.8 159.9h.9M270.2 162.9h.9M267.9 163.1h.9M270.0 156.3h.9M267.0 160.3h.9M262.4 125.3h.9M265.9 136.7h.9M265.0 126.9h.9M266.6 150.9h.9M269.3 135.6h.9M260.1 151.0h.9M265.1 113.5h.9M264.0 161.4h.9M266.7 160.6h.9M271.3 143.5h.9M269.3 121.1h.9M266.3 129.3h.9M263.7 111.2h.9M263.8 118.2h.9M265.0 144.6h.9M266.1 135.8h.9M264.7 119.5h.9M268.6 145.3h.9M268.1 158.8h.9M263.4 135.3h.9M267.2 139.3h.9M270.4 148.5h.9M267.3 164.1h.9M265.2 141.3h.9M269.0 138.4h.9M263.2 158.8h.9M264.8 118.2h.9M269.4 126.1h.9M264.7 162.2h.9M265.2 111.8h.9M265.6 137.8h.9M266.7 147.5h.9M269.5 126.4h.9M266.2 137.7h.9M267.6 150.3h.9M267.6 131.9h.9M259.5 142.9h.9M263.1 126.1h.9M266.1 122.8h.9M267.9 124.3h.9M268.4 150.3h.9M267.1 146.7h.9M266.4 126.3h.9M264.7 138.3h.9M267.8 139.6h.9M271.7 118.0h.9M264.4 135.0h.9M265.8 150.4h.9M266.2 118.5h.9M265.7 136.2h.9M266.7 121.1h.9M268.1 130.5h.9M268.2 163.5h.9M265.0 124.5h.9M277.8 148.4h.9M282.8 153.3h.9M279.9 156.2h.9M281.3 147.4h.9M278.4 134.9h.9M278.9 144.7h.9M278.3 119.8h.9M278.0 160.4h.9M278.2 146.7h.9M276.4 156.0h.9M273.8 123.9h.9M276.1 148.0h.9M276.4 145.5h.9M276.8 152.1h.9M277.0 133.5h.9M276.2 131.4h.9M277.5 135.3h.9M277.2 149.2h.9M275.7 119.0h.9M278.6 121.4h.9M277.7 156.3h.9M274.1 114.1h.9M274.8 116.0h.9M280.7 147.5h.9M283.1 141.3h.9M281.2 149.0h.9M280.6 126.1h.9M281.9 156.3h.9M278.5 150.9h.9M274.4 123.2h.9M278.9 120.6h.9M279.9 114.3h.9M278.2 122.2h.9M279.7 148.5h.9M271.7 156.8h.9M277.2 137.3h.9M280.7 136.7h.9M283.9 149.2h.9M277.2 119.9h.9M275.1 122.4h.9M280.9 113.2h.9M278.8 122.3h.9M274.8 125.3h.9M279.8 155.0h.9M279.4 159.7h.9M277.0 141.3h.9M276.4 141.3h.9M279.5 153.6h.9M275.9 149.6h.9M277.7 130.7h.9M277.6 154.7h.9M281.9 144.1h.9M279.5 120.1h.9M278.0 124.2h.9M281.3 159.5h.9M280.7 114.8h.9M278.0 128.8h.9M282.6 162.7h.9M281.4 147.6h.9M279.4 139.4h.9M277.6 127.7h.9M281.5 136.0h.9M284.5 140.4h.9M278.6 132.0h.9M279.2 121.1h.9M278.4 131.4h.9M277.7 149.4h.9M273.1 126.2h.9M280.7 156.1h.9M278.4 134.8h.9M276.8 153.0h.9M281.2 118.0h.9M280.5 162.2h.9M282.1 130.0h.9M278.8 139.3h.9M274.7 154.6h.9M278.7 148.3h.9M279.3 119.2h.9M279.9 159.4h.9M277.2 114.0h.9M281.2 111.7h.9M277.2 157.0h.9M280.7 152.7h.9M277.5 142.5h.9M274.7 136.6h.9M283.5 120.7h.9M278.3 159.6h.9M276.6 154.3h.9M276.5 151.5h.9M279.5 122.8h.9M289.5 133.5h.9M288.5 153.4h.9M290.6 131.6h.9M289.4 127.2h.9M288.2 161.5h.9M286.4 135.5h.9M292.9 153.3h.9M292.5 123.1h.9M288.3 153.4h.9M289.8 151.8h.9M288.8 127.8h.9M288.8 163.2h.9M290.8 137.7h.9M292.6 135.8h.9M292.3 152.7h.9M292.3 164.2h.9M292.4 145.1h.9M289.3 130.3h.9M291.1 155.2h.9M289.7 161.5h.9M290.8 160.5h.9M287.5 127.6h.9M284.8 158.3h.9M288.6 155.7h.9M293.5 126.0h.9M288.4 143.4h.9M289.1 153.6h.9M291.0 113.7h.9M289.1 121.0h.9M293.2 148.7h.9M290.7 135.8h.9M294.1 163.9h.9M288.6 142.0h.9M286.6 158.2h.9M286.0 153.1h.9M290.2 138.1h.9M292.1 119.1h.9M289.2 161.7h.9M285.3 119.2h.9M293.3 121.6h.9M293.2 124.5h.9M294.1 140.8h.9M293.2 129.4h.9M291.2 164.6h.9M289.9 114.4h.9M287.8 156.0h.9M293.1 125.7h.9M287.9 156.4h.9M291.4 128.1h.9M289.2 163.5h.9M290.4 119.7h.9M289.8 159.4h.9M289.4 130.4h.9M293.0 158.0h.9M287.4 156.9h.9M288.2 145.5h.9M287.6 143.9h.9M291.2 137.5h.9M290.1 146.9h.9M290.9 121.9h.9M288.2 161.2h.9M286.7 159.5h.9M291.1 149.9h.9M288.6 112.1h.9M290.1 128.3h.9M294.5 126.3h.9M289.9 147.1h.9M289.3 145.1h.9M291.3 143.0h.9M294.3 142.7h.9M293.0 118.1h.9M290.4 157.8h.9M291.9 158.9h.9M288.5 152.0h.9M291.9 123.4h.9M288.3 159.8h.9M292.3 129.5h.9M291.7 127.7h.9M291.4 111.6h.9M290.7 111.2h.9M292.6 130.7h.9M291.2 157.2h.9M290.5 111.4h.9M290.3 153.9h.9M296.5 155.0h.9M290.8 154.3h.9M290.5 143.6h.9M288.0 114.3h.9M290.9 150.0h.9M289.8 143.1h.9M300.7 123.2h.9M299.4 136.8h.9M301.3 138.8h.9M305.0 139.2h.9M304.6 163.3h.9M300.5 145.1h.9M299.1 144.9h.9M302.5 151.9h.9M301.4 124.2h.9M304.4 160.3h.9M299.3 132.4h.9M297.1 163.4h.9M301.5 131.3h.9M302.5 149.5h.9M306.0 152.7h.9M306.0 159.7h.9M301.5 148.1h.9M299.4 143.0h.9M301.4 141.9h.9M303.6 134.7h.9M299.1 128.1h.9M307.4 125.4h.9M301.2 164.6h.9M300.2 121.6h.9M301.5 121.2h.9M302.5 135.4h.9M299.0 140.0h.9M297.4 124.3h.9M299.8 159.5h.9M302.2 112.5h.9M300.1 135.5h.9M303.7 121.2h.9M303.6 133.4h.9M305.2 154.6h.9M300.0 150.1h.9M305.1 146.5h.9M305.5 138.4h.9M300.0 158.0h.9M303.5 133.1h.9M302.4 154.2h.9M300.5 133.9h.9M304.4 156.9h.9M303.3 142.2h.9M302.3 139.8h.9M306.0 111.2h.9M300.2 164.1h.9M297.7 160.4h.9M303.7 116.8h.9M300.4 115.8h.9M302.0 147.5h.9M304.6 151.5h.9M301.2 145.9h.9M302.7 159.1h.9M302.1 119.9h.9M303.7 137.8h.9M304.7 112.1h.9M302.2 146.5h.9M300.1 129.8h.9M301.2 145.1h.9M298.8 146.3h.9M301.3 144.6h.9M302.6 162.6h.9M302.8 163.5h.9M302.7 134.1h.9M298.6 128.6h.9M305.0 125.9h.9M298.8 113.0h.9M297.2 153.7h.9M303.5 136.2h.9M300.1 137.7h.9M301.0 141.3h.9M299.2 111.5h.9M303.2 120.7h.9M300.6 139.5h.9M303.2 118.9h.9M302.8 122.7h.9M306.2 159.5h.9M299.4 158.9h.9M298.7 135.4h.9M303.9 163.0h.9M299.8 157.5h.9M302.4 161.5h.9M303.3 142.8h.9M300.3 148.6h.9M303.4 158.7h.9M302.5 143.3h.9M299.2 120.8h.9M300.0 144.1h.9M302.3 146.2h.9M303.2 124.2h.9M310.5 123.7h.9M311.2 162.0h.9M314.3 164.0h.9M309.5 161.3h.9M312.1 134.0h.9M313.1 133.0h.9M319.6 128.4h.9M314.7 132.4h.9M310.4 154.8h.9M313.5 115.6h.9M313.1 147.6h.9M314.2 156.9h.9M313.8 156.3h.9M309.8 163.3h.9M314.8 148.2h.9M314.3 130.0h.9M314.8 132.3h.9M310.8 154.6h.9M312.9 150.5h.9M310.8 140.2h.9M312.7 111.8h.9M314.9 156.0h.9M311.5 158.5h.9M310.9 119.6h.9M309.6 150.1h.9M313.6 148.6h.9M310.9 140.0h.9M314.2 148.6h.9M314.7 160.2h.9M311.2 147.0h.9M314.8 146.8h.9M313.7 116.2h.9M312.8 119.7h.9M313.4 122.1h.9M310.5 126.0h.9M313.9 149.7h.9M311.7 113.7h.9M313.8 126.3h.9M316.9 120.2h.9M313.1 131.4h.9M310.8 122.2h.9M316.0 131.7h.9M317.0 131.4h.9M315.2 150.1h.9M312.3 136.4h.9M311.3 155.8h.9M312.8 160.2h.9M311.1 121.1h.9M310.2 153.3h.9M313.7 148.0h.9M315.6 115.0h.9M316.2 113.0h.9M316.9 114.1h.9M316.5 122.5h.9M310.8 161.1h.9M310.8 133.4h.9M317.8 120.4h.9M310.4 129.4h.9M317.0 152.4h.9M313.7 115.8h.9M313.3 120.9h.9M314.1 119.2h.9M311.6 116.8h.9M313.8 121.9h.9M314.3 111.9h.9M313.9 155.0h.9M318.5 156.3h.9M312.8 127.9h.9M308.4 123.9h.9M310.0 153.7h.9M314.9 131.5h.9M312.9 153.1h.9M313.9 132.3h.9M316.6 122.4h.9M308.4 153.1h.9M313.1 162.5h.9M314.0 113.4h.9M312.0 117.0h.9M313.1 140.9h.9M317.0 128.6h.9M314.4 130.2h.9M316.2 124.1h.9M313.9 158.9h.9M313.5 128.9h.9M313.9 152.0h.9M315.1 119.4h.9M309.9 111.2h.9M316.4 152.2h.9M316.4 139.3h.9M313.8 123.0h.9M328.4 116.6h.9M322.0 145.5h.9M321.6 142.4h.9M326.8 156.0h.9M325.0 121.1h.9M327.6 141.5h.9M321.0 115.7h.9M323.9 149.6h.9M325.1 146.0h.9M320.3 123.0h.9M322.4 144.5h.9M324.3 160.5h.9M323.4 121.3h.9M327.0 151.1h.9M328.4 124.3h.9M322.1 162.6h.9M329.2 135.3h.9M325.0 162.0h.9M326.0 129.2h.9M324.4 164.1h.9M327.4 118.8h.9M323.2 125.2h.9M324.3 129.1h.9M323.4 159.7h.9M328.0 164.5h.9M325.3 151.8h.9M324.1 115.1h.9M327.6 155.1h.9M328.2 158.0h.9M326.0 116.4h.9M324.2 123.6h.9M323.0 121.6h.9M325.0 118.6h.9M325.1 116.7h.9M324.5 140.9h.9M328.9 151.4h.9M324.1 149.8h.9M334.0 116.6h.9M325.3 150.2h.9M327.5 125.4h.9M322.6 163.5h.9M324.6 138.6h.9M325.7 163.6h.9M326.8 141.1h.9M326.4 141.4h.9M324.3 126.4h.9M326.1 122.8h.9M322.0 126.3h.9M328.0 143.9h.9M323.3 163.6h.9M321.0 133.2h.9M321.7 156.1h.9M324.4 162.9h.9M325.0 111.6h.9M323.9 158.4h.9M325.9 146.2h.9M325.4 130.4h.9M323.8 132.3h.9M324.5 139.5h.9M327.7 111.2h.9M323.8 141.5h.9M319.4 122.4h.9M324.6 114.1h.9M321.3 135.7h.9M328.4 137.1h.9M326.0 139.2h.9M321.0 134.8h.9M327.2 127.9h.9M325.8 122.8h.9M322.8 121.6h.9M324.9 144.8h.9M324.8 135.0h.9M320.0 139.5h.9M326.3 128.2h.9M323.7 164.3h.9M322.1 127.8h.9M327.6 138.9h.9M327.7 140.3h.9M327.3 134.1h.9M326.2 149.7h.9M322.7 126.1h.9M328.2 124.6h.9M323.2 138.0h.9M322.5 124.3h.9M330.4 120.3h.9M322.1 127.8h.9M324.2 133.1h.9M323.4 125.0h.9M327.5 138.5h.9M325.1 143.1h.9M339.5 120.4h.9M335.0 123.8h.9M334.4 149.3h.9M332.2 143.1h.9M334.9 141.8h.9M337.9 136.7h.9M338.8 126.0h.9M334.8 155.1h.9M334.4 115.5h.9M339.1 135.6h.9M337.7 140.2h.9M335.3 132.6h.9M335.8 156.7h.9M336.9 129.1h.9M342.7 126.1h.9M339.1 131.8h.9M336.6 131.4h.9M335.8 151.7h.9M333.8 156.0h.9M341.7 125.1h.9M336.6 135.4h.9M336.4 125.3h.9M331.3 132.1h.9M338.1 159.8h.9M333.5 147.8h.9M341.3 142.9h.9M337.1 122.2h.9M337.0 159.7h.9M342.2 112.7h.9M334.1 146.6h.9M338.6 111.9h.9M335.3 143.3h.9M336.9 163.2h.9M334.4 141.8h.9M337.2 136.3h.9M335.3 145.8h.9M338.1 155.3h.9M338.6 129.9h.9M335.5 135.2h.9M339.8 135.5h.9M335.7 130.9h.9M334.5 125.6h.9M334.5 113.3h.9M333.1 150.2h.9M337.7 112.6h.9M338.4 126.0h.9M336.2 140.0h.9M338.2 138.9h.9M333.7 112.0h.9M335.3 161.2h.9M337.8 156.1h.9M339.2 131.7h.9M336.5 116.9h.9M338.0 162.8h.9M336.2 134.3h.9M335.8 119.1h.9M332.1 121.6h.9M336.3 159.7h.9M333.2 149.2h.9M338.8 120.3h.9M334.8 116.2h.9M334.5 144.7h.9M334.9 158.4h.9M336.7 123.3h.9M338.3 133.1h.9M336.6 152.1h.9M338.9 164.2h.9M332.5 117.3h.9M336.4 142.9h.9M334.0 153.6h.9M339.7 162.7h.9M335.6 123.3h.9M337.6 114.7h.9M336.7 118.2h.9M339.1 153.8h.9M336.5 113.3h.9M333.6 145.7h.9M339.0 141.5h.9M338.2 163.2h.9M335.2 140.1h.9M340.2 139.0h.9M340.9 159.8h.9M333.9 114.7h.9M337.1 132.1h.9M339.5 134.8h.9M339.2 129.0h.9M334.0 122.6h.9M334.4 122.3h.9M336.3 150.8h.9M337.9 122.0h.9M350.5 113.0h.9M352.5 159.3h.9M349.1 139.4h.9M347.1 153.3h.9M352.2 115.5h.9M346.4 155.7h.9M344.8 161.8h.9M349.7 151.8h.9M347.1 119.1h.9M347.2 152.8h.9M350.7 151.4h.9M350.7 130.0h.9M348.8 138.3h.9M346.9 123.5h.9M349.9 113.8h.9M349.7 145.5h.9M348.5 113.8h.9M346.5 124.2h.9M348.6 159.0h.9M348.3 127.1h.9M350.0 157.6h.9M344.5 136.8h.9M350.4 146.8h.9M346.3 142.1h.9M349.2 115.4h.9M347.0 126.5h.9M345.5 119.9h.9M345.6 119.3h.9M344.8 139.3h.9M346.1 115.4h.9M350.1 125.8h.9M350.3 115.5h.9M350.1 154.0h.9M343.2 140.0h.9M350.7 162.9h.9M350.9 141.8h.9M348.2 126.3h.9M350.3 156.2h.9M350.2 121.2h.9M346.9 148.2h.9M349.1 160.9h.9M350.0 146.2h.9M347.1 143.5h.9M344.4 122.8h.9M345.4 117.0h.9M344.2 161.1h.9M348.6 120.1h.9M346.5 124.7h.9M348.9 155.9h.9M348.8 146.1h.9M353.4 158.3h.9M347.8 117.3h.9M352.3 146.5h.9M348.3 152.8h.9M350.6 141.6h.9M343.7 118.4h.9M347.3 144.2h.9M350.0 157.8h.9M346.9 158.4h.9M347.2 128.0h.9M350.1 154.5h.9M347.6 149.6h.9M347.4 147.9h.9M350.0 138.9h.9M348.4 131.4h.9M345.5 128.3h.9M351.4 164.0h.9M346.4 141.4h.9M347.6 154.7h.9M353.0 157.9h.9M346.7 150.9h.9M342.4 150.5h.9M350.0 114.1h.9M348.4 130.1h.9M345.8 130.2h.9M355.2 121.2h.9M351.5 149.9h.9M348.0 152.5h.9M347.8 142.7h.9M344.1 139.2h.9M348.6 159.4h.9M345.7 139.6h.9M351.3 163.4h.9M348.6 138.1h.9M345.9 153.7h.9M347.6 146.5h.9M352.3 162.4h.9M344.3 117.7h.9M347.3 152.5h.9M352.7 153.4h.9M359.2 111.5h.9M356.6 135.3h.9M361.6 134.2h.9M357.7 114.3h.9M360.5 117.9h.9M359.3 126.7h.9M362.3 123.5h.9M362.7 149.3h.9M360.7 152.8h.9M358.7 126.2h.9M359.7 118.9h.9M358.1 125.0h.9M355.9 113.7h.9M361.4 119.7h.9M361.0 120.6h.9M359.3 123.5h.9M361.5 145.7h.9M359.3 159.5h.9M356.5 128.4h.9M363.6 124.6h.9M359.6 122.9h.9M363.8 149.7h.9M358.6 152.0h.9M364.0 139.1h.9M360.0 136.9h.9M353.4 111.8h.9M359.5 164.0h.9M355.9 126.3h.9M354.8 130.2h.9M360.0 149.9h.9M360.2 133.3h.9M360.0 144.0h.9M361.6 161.8h.9M358.4 155.6h.9M360.9 157.3h.9M360.4 156.5h.9M361.1 142.9h.9M364.9 122.0h.9M359.7 152.7h.9M359.3 116.0h.9M358.5 124.2h.9M360.0 155.2h.9M357.9 132.6h.9M358.1 141.9h.9M359.8 127.5h.9M361.7 137.5h.9M354.9 144.6h.9M359.9 145.7h.9M365.6 151.6h.9M361.8 113.4h.9M357.6 118.9h.9M360.2 137.2h.9M356.9 134.6h.9M361.2 124.6h.9M364.9 111.8h.9M359.4 114.3h.9M362.2 144.9h.9M358.9 154.0h.9M355.6 133.8h.9M361.0 164.0h.9M362.1 123.9h.9M360.4 159.8h.9M359.2 164.3h.9M360.8 157.1h.9M360.8 153.6h.9M359.4 111.3h.9M357.8 143.9h.9M359.3 142.5h.9M357.0 153.9h.9M358.5 133.7h.9M361.3 124.7h.9M358.7 121.4h.9M359.6 158.5h.9M362.7 163.5h.9M361.5 147.4h.9M362.3 137.6h.9M360.5 149.4h.9M357.9 114.4h.9M359.2 160.5h.9M358.2 163.0h.9M361.9 150.1h.9M364.4 143.3h.9M360.1 116.2h.9M358.9 155.9h.9M366.1 129.7h.9M361.9 153.7h.9M363.2 141.8h.9M359.1 133.2h.9M360.7 132.4h.9M359.8 128.5h.9M369.2 157.9h.9M366.8 113.4h.9M368.7 136.2h.9M370.5 131.9h.9M370.8 114.4h.9M371.5 118.1h.9M374.3 118.5h.9M373.3 160.7h.9M370.3 155.8h.9M374.0 139.3h.9M376.9 112.3h.9M373.3 158.6h.9M371.8 151.7h.9M371.6 114.6h.9M374.5 130.2h.9M369.2 149.6h.9M375.7 143.4h.9M370.2 127.1h.9M373.5 144.8h.9M374.5 122.6h.9M377.7 163.1h.9M372.0 138.5h.9M373.4 145.1h.9M371.9 113.0h.9M369.8 136.6h.9M373.8 145.9h.9M372.3 162.2h.9M371.6 140.1h.9M371.9 127.6h.9M375.1 141.6h.9M369.9 150.2h.9M368.2 149.2h.9M371.4 138.1h.9M373.9 134.2h.9M374.4 146.5h.9M373.9 154.3h.9M373.2 145.7h.9M371.6 146.6h.9M372.0 151.7h.9M370.8 146.8h.9M370.3 140.3h.9M370.1 162.4h.9M369.3 118.6h.9M375.7 142.2h.9M371.3 123.3h.9M373.0 150.8h.9M373.2 146.0h.9M371.0 135.5h.9M371.4 140.7h.9M368.4 154.9h.9M373.6 117.9h.9M371.2 142.1h.9M371.5 151.1h.9M370.1 160.0h.9M368.1 142.8h.9M371.4 148.1h.9M370.8 132.9h.9M374.3 124.1h.9M369.1 118.7h.9M370.0 122.1h.9M371.2 159.4h.9M369.8 157.4h.9M375.0 143.6h.9M373.1 145.5h.9M369.4 144.0h.9M372.9 148.1h.9M373.8 157.8h.9M373.6 152.1h.9M370.0 113.2h.9M373.6 146.5h.9M370.7 144.6h.9M373.0 146.7h.9M370.5 113.0h.9M372.2 142.9h.9M377.8 111.8h.9M371.5 119.1h.9M371.8 115.9h.9M372.0 139.8h.9M374.6 149.1h.9M368.8 143.7h.9M369.2 147.7h.9M371.9 156.9h.9M370.0 128.0h.9M372.4 156.7h.9M368.6 111.6h.9M375.1 120.9h.9M370.2 130.5h.9M369.2 156.0h.9M370.3 164.4h.9M376.5 121.2h.9M382.6 117.3h.9M382.2 117.8h.9M383.7 111.4h.9M382.1 153.6h.9M380.7 146.4h.9M382.0 120.3h.9M384.8 135.7h.9M382.8 156.2h.9M380.9 157.8h.9M382.6 127.5h.9M381.1 144.0h.9M381.9 119.4h.9M381.2 136.8h.9M382.3 118.3h.9M383.8 112.8h.9M380.8 147.1h.9M379.2 132.6h.9M383.5 163.2h.9M382.8 163.6h.9M382.7 160.2h.9M382.9 143.8h.9M383.8 163.2h.9M381.3 125.0h.9M379.5 150.8h.9M385.6 129.6h.9M384.0 146.9h.9M385.2 115.1h.9M380.2 143.3h.9M383.6 151.0h.9M381.3 143.7h.9M381.8 152.7h.9M380.5 124.8h.9M378.8 147.1h.9M377.9 111.6h.9M383.2 140.1h.9M382.6 128.6h.9M380.2 144.8h.9M383.7 130.3h.9M384.6 132.4h.9M386.4 163.2h.9M385.2 138.9h.9M384.3 122.7h.9M382.3 141.3h.9M388.8 162.9h.9M387.1 143.3h.9M381.2 117.5h.9M381.9 148.8h.9M381.7 162.6h.9M381.7 162.4h.9M384.0 126.1h.9M378.7 118.0h.9M385.0 112.5h.9M385.4 149.4h.9M384.6 140.4h.9M381.5 133.6h.9M382.6 112.8h.9M384.6 111.9h.9M381.1 163.6h.9M382.8 127.9h.9M384.7 112.5h.9M387.0 111.3h.9M381.8 111.8h.9M383.9 146.5h.9M386.4 150.3h.9M382.7 126.6h.9M378.9 122.7h.9M385.5 120.5h.9M387.4 145.2h.9M389.3 138.9h.9M385.5 147.9h.9M386.9 144.6h.9M383.3 132.5h.9M380.9 146.5h.9M385.9 128.8h.9M379.6 147.6h.9M380.5 161.4h.9M380.1 128.4h.9M384.9 141.9h.9M380.2 147.8h.9M386.1 117.8h.9M380.7 137.9h.9M383.6 135.0h.9M382.1 158.7h.9M381.5 147.5h.9M385.5 159.8h.9M380.3 156.7h.9M382.2 131.8h.9M384.3 123.8h.9M385.8 120.5h.9M383.4 147.8h.9M394.1 114.2h.9M392.9 133.3h.9M390.7 147.1h.9M396.7 123.4h.9M394.4 113.6h.9M394.5 160.7h.9M395.9 147.4h.9M395.5 131.8h.9M391.3 113.1h.9M397.6 130.3h.9M400.1 117.1h.9M395.0 152.3h.9M392.7 129.5h.9M399.5 115.7h.9M397.5 146.6h.9M395.5 127.5h.9M396.4 148.6h.9M397.5 117.6h.9M395.1 115.0h.9M392.2 152.8h.9M394.6 130.2h.9M392.3 153.7h.9M397.0 163.3h.9M399.0 145.0h.9M396.4 156.0h.9M395.5 160.5h.9M393.6 144.0h.9M397.0 131.4h.9M390.1 156.3h.9M397.6 137.1h.9M393.8 131.9h.9M395.7 144.7h.9M396.4 163.8h.9M397.5 164.1h.9M394.7 151.8h.9M393.2 157.0h.9M393.7 155.9h.9M392.7 130.5h.9M395.5 145.9h.9M394.6 158.0h.9M395.9 156.2h.9M397.3 157.7h.9M397.6 143.8h.9M399.1 153.3h.9M398.4 150.7h.9M396.5 131.8h.9M395.7 115.2h.9M394.7 147.6h.9M394.0 159.1h.9M394.3 126.3h.9M395.7 158.4h.9M398.6 148.3h.9M395.3 116.7h.9M393.4 142.5h.9M396.6 120.3h.9M397.1 126.2h.9M400.2 152.0h.9M397.5 122.2h.9M395.2 147.4h.9M394.5 144.0h.9M397.0 119.3h.9M395.9 131.2h.9M390.9 118.5h.9M396.4 135.9h.9M398.5 123.0h.9M390.9 116.9h.9M396.1 128.6h.9M396.4 157.8h.9M394.8 131.1h.9M396.9 160.1h.9M394.8 127.9h.9M399.3 131.0h.9M393.8 118.7h.9M395.1 144.1h.9M394.1 112.0h.9M394.5 124.2h.9M397.6 160.6h.9M392.5 114.2h.9M396.3 156.3h.9M394.3 143.3h.9M390.6 146.6h.9M401.0 115.6h.9M394.5 136.7h.9M395.6 154.9h.9M396.9 146.6h.9M394.1 124.6h.9M395.3 151.2h.9M393.5 130.9h.9M398.3 125.2h.9M391.7 114.7h.9M406.8 112.6h.9M404.4 155.8h.9M412.2 120.1h.9M401.4 155.6h.9M407.1 155.6h.9M407.0 145.7h.9M407.6 146.9h.9M409.7 143.3h.9M408.9 149.6h.9M405.3 145.7h.9M405.7 131.3h.9M407.5 112.5h.9M405.3 140.2h.9M409.0 145.5h.9M406.2 155.9h.9M404.1 141.1h.9M407.4 134.0h.9M404.0 111.7h.9M406.8 148.0h.9M410.0 121.6h.9M407.8 114.4h.9M409.0 136.1h.9M406.8 156.4h.9M405.6 116.4h.9M410.9 149.8h.9M405.7 152.4h.9M405.5 140.2h.9M402.5 153.6h.9M404.5 146.5h.9M404.7 119.6h.9M408.3 163.2h.9M403.7 154.2h.9M408.0 135.8h.9M408.8 134.9h.9M406.8 152.6h.9M405.4 124.4h.9M409.7 157.3h.9M412.7 133.3h.9M405.0 139.5h.9M404.5 155.0h.9M405.3 152.2h.9M406.8 146.4h.9M406.9 129.9h.9M406.8 123.0h.9M405.2 126.1h.9M407.8 136.0h.9M404.6 130.0h.9M407.0 160.2h.9M406.2 155.7h.9M404.5 154.9h.9M411.0 124.0h.9M405.2 133.3h.9M406.0 158.6h.9M407.1 142.0h.9M403.9 125.2h.9M404.7 149.2h.9M403.5 114.2h.9M405.7 160.9h.9M407.4 157.0h.9M405.9 128.6h.9M405.6 159.7h.9M405.4 112.9h.9M408.1 114.6h.9M405.1 159.9h.9M407.1 139.3h.9M405.8 112.7h.9M403.4 137.7h.9M407.1 131.6h.9M406.0 164.2h.9M405.8 154.6h.9M406.1 131.3h.9M406.3 116.1h.9M409.8 115.4h.9M405.6 148.7h.9M405.4 119.9h.9M404.5 136.3h.9M410.2 149.0h.9M410.3 140.3h.9M409.8 120.5h.9M405.6 119.0h.9M408.4 124.5h.9M404.3 144.8h.9M411.9 117.2h.9M408.1 133.8h.9M401.1 152.2h.9M404.9 123.2h.9M401.3 125.7h.9M405.8 134.5h.9M405.5 125.6h.9M406.8 159.7h.9M420.1 117.2h.9M419.3 134.6h.9M413.3 161.1h.9M418.1 162.3h.9M421.5 159.9h.9M417.1 134.8h.9M416.4 159.0h.9M412.9 148.4h.9M417.3 144.8h.9M417.7 118.3h.9M421.6 129.9h.9M417.9 114.9h.9M415.1 133.3h.9M419.5 143.9h.9M420.8 143.1h.9M418.5 149.9h.9M415.5 113.3h.9M417.7 158.1h.9M420.4 113.8h.9M413.6 161.3h.9M419.6 125.9h.9M414.9 136.9h.9M420.0 146.9h.9M409.2 139.1h.9M420.8 136.5h.9M417.2 141.8h.9M415.7 134.1h.9M419.0 119.4h.9M416.5 156.3h.9M421.1 149.3h.9M418.6 118.3h.9M413.1 148.8h.9M416.3 154.1h.9M419.2 131.0h.9M415.6 122.5h.9M414.4 164.1h.9M417.1 121.6h.9M418.8 116.8h.9M420.4 153.5h.9M420.0 113.1h.9M419.4 121.4h.9M420.3 161.4h.9M416.4 113.7h.9M418.1 112.3h.9M419.5 137.1h.9M420.3 113.9h.9M417.3 124.3h.9M419.0 148.7h.9M417.4 148.9h.9M420.0 112.8h.9M419.4 148.7h.9M415.7 114.4h.9M417.1 152.6h.9M418.8 152.4h.9M419.8 146.6h.9M416.0 127.7h.9M420.0 155.5h.9M419.9 150.4h.9M416.9 154.0h.9M417.7 156.1h.9M416.7 111.0h.9M417.9 125.2h.9M415.0 132.1h.9M418.3 164.6h.9M417.2 148.9h.9M417.3 153.4h.9M418.5 157.9h.9M414.1 138.6h.9M417.1 137.0h.9M416.0 131.7h.9M417.9 141.9h.9M417.6 122.8h.9M418.8 119.0h.9M418.9 114.5h.9M421.3 151.1h.9M414.9 117.7h.9M386.4 119.7h.9M358.1 140.2h.9M274.3 116.9h.9M297.2 130.7h.9M399.2 154.9h.9M410.3 135.7h.9M287.1 132.3h.9M273.7 137.4h.9M271.9 123.3h.9M356.6 125.6h.9M320.0 133.1h.9M298.2 133.8h.9M392.6 134.9h.9M270.7 160.7h.9M266.6 145.5h.9M326.6 115.6h.9M358.5 111.0h.9M348.7 158.4h.9M405.3 147.4h.9M396.4 153.0h.9M346.3 158.9h.9M380.6 114.8h.9M394.6 115.6h.9M302.9 112.2h.9M400.3 132.7h.9M308.5 111.1h.9M415.0 162.4h.9M264.0 158.8h.9M258.2 148.4h.9M412.9 139.0h.9M400.8 126.7h.9M310.6 155.2h.9M335.8 131.1h.9M399.5 147.8h.9M310.7 145.9h.9M312.9 120.8h.9M276.2 142.8h.9M364.0 159.7h.9M404.1 136.1h.9M266.6 151.6h.9M370.1 152.1h.9M310.6 132.0h.9M296.9 153.0h.9M276.0 145.4h.9M332.3 112.6h.9M257.5 122.6h.9M295.9 123.3h.9M293.6 150.2h.9M318.1 139.6h.9M274.3 111.8h.9M403.1 152.0h.9M338.2 112.1h.9M287.9 130.2h.9M301.4 129.4h.9M256.8 131.2h.9M356.0 123.5h.9M343.6 147.8h.9M339.8 159.7h.9M306.2 130.8h.9M368.8 141.2h.9M344.5 114.4h.9M341.4 160.8h.9M266.0 118.4h.9M363.0 141.6h.9M358.6 122.9h.9M389.4 152.6h.9M420.0 140.0h.9M278.3 113.9h.9M368.6 152.3h.9M286.0 146.3h.9M391.7 117.6h.9M362.2 127.7h.9M328.5 150.9h.9M363.7 117.9h.9M375.6 129.0h.9M355.9 134.2h.9M274.0 133.6h.9M373.7 160.8h.9M305.6 131.8h.9M413.6 129.9h.9M390.4 112.8h.9M273.6 112.3h.9M267.3 145.3h.9M273.3 124.7h.9M379.2 159.5h.9M313.0 112.7h.9M280.1 123.6h.9M257.8 145.3h.9M257.4 154.4h.9M312.2 150.3h.9M347.0 118.7h.9M289.7 150.7h.9M413.2 142.7h.9M301.0 159.8h.9M305.5 149.0h.9M331.3 163.3h.9M418.2 138.3h.9M414.4 147.6h.9M309.3 144.1h.9M400.8 127.1h.9M302.4 137.8h.9M370.9 154.1h.9M381.2 138.1h.9M310.1 119.5h.9M298.4 146.9h.9M298.8 114.7h.9M397.4 147.3h.9M390.2 141.9h.9M295.9 145.5h.9M290.3 130.0h.9M389.1 140.0h.9M418.8 116.8h.9M306.9 148.5h.9M367.9 131.3h.9M413.7 142.5h.9M303.9 135.3h.9M368.5 154.9h.9M377.2 137.4h.9M404.6 159.0h.9M418.0 125.0h.9M371.0 136.6h.9M328.3 118.8h.9M344.3 133.9h.9M302.5 115.2h.9M335.7 142.4h.9M400.7 148.5h.9M419.5 143.8h.9M295.2 144.5h.9M280.1 134.4h.9M419.2 153.2h.9M399.5 114.6h.9M367.5 134.6h.9M302.5 143.8h.9M349.9 149.4h.9M330.9 162.9h.9M345.2 160.0h.9M339.6 115.5h.9M289.0 146.9h.9M294.0 114.0h.9M294.5 131.1h.9M321.3 145.5h.9M382.2 118.8h.9M319.5 127.2h.9M261.0 154.0h.9M284.8 131.9h.9M420.3 121.3h.9M312.3 114.1h.9M387.0 158.1h.9M305.1 140.9h.9M286.0 138.1h.9M361.2 139.8h.9M311.5 139.9h.9M325.3 135.9h.9M359.9 113.3h.9M374.7 127.0h.9M267.1 122.3h.9M366.7 112.9h.9M331.4 119.4h.9M322.7 161.5h.9M409.3 152.7h.9M278.5 130.8h.9M362.5 114.7h.9M296.8 122.4h.9M417.2 135.2h.9M320.4 122.5h.9M409.3 146.0h.9M267.3 121.1h.9M420.2 115.7h.9M322.4 155.3h.9M418.1 129.6h.9M283.0 134.6h.9M377.4 123.0h.9M273.3 151.4h.9M293.5 159.1h.9M320.0 129.9h.9M284.9 128.9h.9M419.6 121.6h.9M295.9 129.8h.9M289.7 126.2h.9M330.7 156.1h.9M289.7 157.8h.9M406.1 157.8h.9M292.7 138.8h.9M350.5 146.7h.9M416.4 116.4h.9M267.7 150.8h.9M336.2 129.8h.9M290.2 146.5h.9M325.4 132.9h.9M303.1 118.4h.9M364.5 111.6h.9M314.8 161.5h.9M379.8 119.4h.9M389.5 157.0h.9M326.6 157.0h.9M266.8 160.9h.9M368.1 117.9h.9M331.8 120.9h.9M367.8 149.6h.9M294.3 114.7h.9M302.2 136.9h.9M413.2 120.5h.9M310.1 154.5h.9M415.3 138.9h.9M421.3 120.8h.9M411.6 149.9h.9M389.3 162.2h.9M357.4 114.5h.9M288.9 127.7h.9M355.5 164.2h.9M384.8 131.4h.9M375.0 123.4h.9M262.5 139.6h.9M302.9 160.6h.9M285.4 149.5h.9M301.7 119.9h.9M377.3 145.2h.9M260.7 128.3h.9M343.8 122.6h.9M391.3 150.3h.9M281.8 156.4h.9M334.2 121.0h.9M306.5 114.3h.9M271.8 133.5h.9M285.8 132.1h.9M408.6 114.6h.9M409.3 114.7h.9M374.3 159.9h.9M407.4 129.6h.9M282.0 135.1h.9M317.2 114.0h.9M256.5 145.8h.9M322.9 120.6h.9M399.2 126.7h.9M407.4 140.2h.9M375.7 145.0h.9M370.2 139.3h.9M337.1 131.6h.9M401.8 124.2h.9M406.3 151.9h.9M384.8 118.6h.9M273.9 112.1h.9M315.1 126.5h.9M284.6 128.9h.9M363.7 158.7h.9M268.9 125.4h.9M395.3 138.2h.9M302.1 126.8h.9M336.8 158.2h.9M304.8 113.7h.9M291.2 143.2h.9M384.5 141.0h.9M272.3 152.7h.9M263.2 133.4h.9M415.2 158.2h.9M331.6 134.8h.9M420.6 116.8h.9M280.0 134.2h.9M379.9 148.8h.9M310.7 139.8h.9M258.3 144.9h.9M390.9 130.9h.9M368.0 122.2h.9M328.1 111.2h.9M354.0 151.3h.9M255.9 158.5h.9M359.6 157.0h.9M333.5 121.1h.9M318.1 144.7h.9M301.6 149.4h.9M312.2 111.9h.9M363.3 140.4h.9M397.9 156.7h.9M390.0 140.9h.9M355.4 117.2h.9M323.0 141.4h.9M298.8 144.4h.9M371.2 152.2h.9M321.4 154.6h.9M257.9 117.0h.9M332.6 144.1h.9M386.0 155.1h.9M342.0 158.1h.9M356.0 147.9h.9M340.6 143.8h.9M361.4 120.7h.9M390.1 118.8h.9M263.0 132.4h.9M297.4 118.7h.9M347.7 157.2h.9M318.9 162.5h.9M306.0 123.8h.9M311.2 116.4h.9M362.1 121.0h.9M311.3 121.4h.9M364.2 144.8h.9M295.5 111.9h.9M337.3 159.6h.9M390.3 140.3h.9M361.4 140.4h.9M325.1 112.6h.9M392.3 140.1h.9M293.2 115.5h.9M366.2 121.6h.9M411.8 127.3h.9M270.9 153.3h.9M295.2 139.6h.9M299.7 117.3h.9M261.0 111.5h.9M350.7 158.3h.9M408.0 124.1h.9M325.1 158.3h.9M319.9 132.6h.9M281.9 120.6h.9M359.3 128.6h.9M412.2 136.5h.9M388.5 152.3h.9M356.3 151.1h.9M385.3 132.9h.9M276.5 159.3h.9M356.8 120.4h.9M407.8 155.8h.9M318.9 154.4h.9M292.7 130.8h.9M414.0 121.0h.9M262.1 125.8h.9M378.2 137.3h.9M373.4 136.6h.9M280.2 154.9h.9M371.5 155.7h.9M295.7 144.3h.9M279.7 144.0h.9M272.7 163.9h.9M356.6 120.1h.9M300.1 132.4h.9M341.4 147.3h.9M338.9 119.5h.9M395.2 116.8h.9M418.2 133.1h.9M418.0 142.0h.9M351.6 121.8h.9M261.9 132.6h.9M339.1 153.8h.9M349.4 141.1h.9M263.0 152.3h.9M397.6 160.8h.9M310.7 130.7h.9M309.9 120.1h.9M260.6 151.2h.9M330.8 141.4h.9M313.0 111.3h.9M325.4 127.0h.9M295.1 123.3h.9M308.2 162.7h.9M349.7 149.4h.9M374.4 114.0h.9M265.1 157.6h.9M380.7 119.4h.9M412.0 142.2h.9M274.3 145.9h.9M279.1 118.4h.9M372.4 133.5h.9" stroke="#ff0000" stroke-opacity="0.55" stroke-width="0.9"/>
<rect x="255.3" y="28.8" width="167.4" height="136.3" fill="none" stroke="#808080" stroke-width="1"/>
<rect x="475.3" y="28.5" width="167.2" height="14.09" fill="#0404f8"/>
<rect x="475.3" y="96.55" width="167.2" height="14.49" fill="#0404f8"/>
<path d="M541.3 33.8h.9M598.4 30.0h.9M545.8 37.9h.9M560.8 39.3h.9M547.6 29.6h.9M596.8 41.9h.9M608.2 37.9h.9M543.4 36.9h.9M520.6 33.3h.9M493.2 33.0h.9M505.6 29.7h.9M592.8 35.8h.9M496.4 34.5h.9M550.7 31.4h.9M621.8 29.4h.9M483.1 40.5h.9M630.7 35.6h.9M626.5 32.3h.9M556.0 35.7h.9M553.5 31.5h.9M499.7 38.5h.9M493.3 32.1h.9M513.7 38.9h.9M634.0 34.6h.9M517.1 34.9h.9M501.8 41.4h.9M560.0 36.5h.9M584.4 34.1h.9M548.6 30.9h.9M506.4 37.4h.9M586.7 37.3h.9M601.6 39.8h.9M511.5 30.7h.9M522.7 41.7h.9M610.3 32.1h.9M486.4 30.6h.9M628.0 38.9h.9M585.6 31.0h.9M607.4 38.3h.9M488.3 38.8h.9M538.4 41.0h.9M629.4 31.3h.9M622.4 30.7h.9M588.6 37.8h.9M633.0 32.0h.9M486.7 35.7h.9M508.3 39.2h.9M589.0 40.6h.9M503.4 41.1h.9M553.8 33.3h.9M481.5 29.9h.9M609.8 41.0h.9M599.8 36.3h.9M627.6 30.2h.9M511.9 31.8h.9M614.6 41.5h.9M584.6 38.5h.9M504.8 30.6h.9M623.9 32.2h.9M543.1 32.5h.9M636.6 32.2h.9M488.0 37.8h.9M616.0 32.9h.9M494.4 39.6h.9M607.2 36.7h.9M556.6 40.1h.9M626.0 31.0h.9M493.4 35.6h.9M497.8 38.6h.9M482.6 38.8h.9M496.2 40.3h.9M530.0 37.9h.9M637.3 34.8h.9M556.9 29.8h.9M535.3 38.3h.9M497.1 32.8h.9M517.9 35.7h.9M633.8 36.7h.9M581.5 32.8h.9M574.5 33.0h.9M562.5 30.6h.9M578.5 38.9h.9M583.4 40.1h.9M576.7 39.3h.9M491.6 33.4h.9M579.6 30.6h.9M636.0 36.0h.9M640.6 35.4h.9M522.9 32.8h.9M507.7 41.7h.9M603.6 33.7h.9M616.9 29.4h.9M557.7 32.6h.9M495.0 39.4h.9M574.2 30.8h.9M481.9 37.1h.9M551.6 39.0h.9M524.8 38.3h.9M485.5 38.8h.9M528.9 36.8h.9M608.1 38.4h.9M526.5 38.8h.9M510.9 37.7h.9M591.0 37.1h.9M579.8 32.3h.9M532.7 39.2h.9M476.9 34.9h.9M574.7 40.0h.9M617.3 29.6h.9M559.7 33.8h.9M536.4 37.6h.9M592.0 37.1h.9M513.8 41.1h.9M476.9 40.4h.9M510.2 41.1h.9M590.8 41.9h.9M576.2 38.4h.9M610.1 34.8h.9M543.7 37.3h.9M597.5 33.0h.9M539.0 29.1h.9M493.8 39.6h.9M551.1 39.1h.9M580.2 38.3h.9M520.9 34.5h.9M547.5 39.4h.9M530.8 36.9h.9M520.1 39.5h.9M582.8 37.9h.9M574.5 40.0h.9M610.8 35.8h.9M559.3 29.6h.9M635.5 33.8h.9M634.8 33.0h.9M591.0 31.7h.9M501.0 38.9h.9M479.3 38.6h.9M631.9 41.9h.9M495.4 30.0h.9M641.3 34.3h.9M593.4 40.4h.9M640.5 29.7h.9M633.0 37.8h.9M628.8 35.7h.9M529.6 36.4h.9M555.7 29.7h.9M498.1 35.3h.9M529.2 37.2h.9M570.9 41.1h.9M504.6 32.6h.9M541.4 35.7h.9M633.2 29.5h.9M557.7 32.3h.9M476.9 37.2h.9M577.8 41.1h.9M587.6 35.7h.9M599.2 35.6h.9M580.0 33.4h.9M529.4 33.0h.9M620.3 39.5h.9M572.9 35.7h.9M611.6 40.4h.9M543.1 41.1h.9M478.7 40.8h.9M603.3 37.8h.9M613.4 38.9h.9M527.3 36.3h.9M570.3 36.7h.9M484.1 38.7h.9M531.5 40.3h.9M476.9 32.9h.9M516.1 31.5h.9M602.3 41.1h.9M606.3 37.7h.9M594.9 35.2h.9M613.1 37.4h.9M614.8 34.5h.9M528.6 32.3h.9M595.5 29.2h.9M552.9 41.6h.9M541.9 33.1h.9M551.8 36.6h.9M570.9 34.2h.9M514.8 36.1h.9M559.2 29.9h.9M491.5 37.7h.9M618.6 38.6h.9M544.1 32.5h.9M502.4 38.4h.9M549.6 39.4h.9M486.1 37.9h.9M641.1 36.7h.9M562.2 33.5h.9M611.9 40.3h.9M502.3 36.5h.9M493.9 40.8h.9M509.6 38.7h.9M633.2 39.3h.9M569.9 39.6h.9M536.0 33.3h.9M555.0 38.6h.9M487.7 35.7h.9M571.9 41.0h.9M533.9 37.4h.9M488.7 34.4h.9M503.8 40.5h.9M502.2 31.9h.9M572.1 30.5h.9M614.3 38.5h.9M511.8 41.2h.9M498.7 36.7h.9M516.2 35.4h.9M619.6 34.5h.9M514.1 36.9h.9M641.1 38.6h.9M486.6 31.9h.9M529.3 31.7h.9M483.8 33.0h.9M477.8 31.2h.9M611.2 39.0h.9M501.1 35.7h.9M523.0 39.0h.9M529.6 33.8h.9M636.2 33.1h.9M498.1 33.8h.9M530.0 32.4h.9M600.7 41.9h.9M631.9 39.9h.9M486.3 35.5h.9M522.4 41.5h.9M526.3 32.2h.9M523.0 36.8h.9M513.6 34.2h.9M587.2 31.4h.9M537.6 31.6h.9M529.7 37.3h.9M574.5 38.7h.9M531.9 36.3h.9M512.7 29.5h.9M606.0 39.7h.9M592.6 40.4h.9M560.2 38.2h.9M608.2 31.4h.9M604.6 35.2h.9M490.2 39.8h.9M626.8 31.9h.9M477.3 40.6h.9M525.5 38.0h.9M584.9 36.8h.9M584.1 29.5h.9M545.0 29.6h.9M603.2 34.5h.9M537.4 36.1h.9M497.2 30.3h.9M599.4 31.6h.9M544.5 31.5h.9M611.0 36.4h.9M582.0 39.2h.9M604.0 39.7h.9M571.6 38.4h.9M534.0 35.7h.9M578.7 31.5h.9M546.5 32.0h.9M509.1 39.0h.9M603.6 36.3h.9M639.7 35.2h.9M568.6 31.1h.9M578.6 29.1h.9M494.7 41.6h.9M608.3 31.8h.9M601.1 35.2h.9M607.8 31.0h.9M593.4 37.4h.9M591.3 29.6h.9M540.5 39.7h.9M551.4 41.4h.9M583.1 29.9h.9M506.8 29.3h.9M535.5 30.0h.9M614.1 34.3h.9M529.0 30.8h.9M572.8 38.2h.9M618.7 38.5h.9M489.3 35.5h.9M621.5 29.4h.9M548.2 31.8h.9M494.8 39.6h.9M572.9 36.1h.9M517.9 41.1h.9M622.3 36.1h.9M489.6 33.5h.9M521.0 34.0h.9M578.4 30.0h.9M638.0 30.8h.9M628.6 32.5h.9M570.4 39.0h.9M621.9 40.3h.9M584.1 37.7h.9M612.9 32.3h.9M635.3 41.1h.9M544.4 39.0h.9M548.0 38.9h.9M626.1 41.6h.9M632.8 37.9h.9M611.1 35.2h.9M538.9 32.8h.9M623.9 38.7h.9M489.8 35.9h.9M546.2 39.6h.9M578.6 40.1h.9M616.1 39.8h.9M507.3 36.7h.9M522.5 34.9h.9M549.8 29.8h.9M490.0 30.9h.9M540.6 29.4h.9M561.2 40.1h.9M553.9 31.5h.9M548.1 31.1h.9M523.3 35.2h.9M617.6 33.0h.9M546.5 30.6h.9M512.9 37.3h.9M572.2 34.7h.9M543.2 33.8h.9M602.3 32.9h.9M637.0 32.9h.9M614.1 29.9h.9M548.6 31.1h.9M580.3 30.8h.9M587.2 41.8h.9M480.8 31.7h.9M490.4 31.9h.9M578.0 41.8h.9M590.9 29.7h.9M477.9 39.4h.9M500.7 38.8h.9M520.6 36.4h.9M530.9 34.5h.9M626.0 30.6h.9M599.8 38.6h.9M599.7 29.5h.9M607.0 34.0h.9M502.9 29.8h.9M476.7 37.6h.9M538.5 41.5h.9M571.8 39.7h.9M577.9 40.6h.9M593.4 31.5h.9M584.6 41.6h.9M638.6 31.6h.9M605.8 31.1h.9M630.2 36.1h.9M571.9 39.5h.9M536.3 40.7h.9M539.9 35.4h.9M593.7 39.1h.9M498.6 41.1h.9M605.9 36.9h.9M490.0 31.6h.9M630.5 30.4h.9M507.5 34.6h.9M607.8 35.5h.9M624.9 37.4h.9M635.3 41.5h.9M535.2 30.8h.9M497.0 41.1h.9M523.5 31.2h.9M570.5 35.0h.9M497.0 35.9h.9M601.9 32.0h.9M482.2 35.0h.9M486.3 31.7h.9M558.1 41.2h.9M576.4 36.3h.9M510.3 33.0h.9M520.2 36.6h.9M490.4 33.9h.9M553.6 39.3h.9M635.0 32.0h.9M589.3 31.2h.9M520.7 32.8h.9M544.5 41.8h.9M490.2 35.9h.9M571.7 32.2h.9M547.1 37.7h.9M560.2 42.0h.9M576.5 31.6h.9M505.2 33.4h.9M545.7 39.8h.9M637.9 38.9h.9M579.7 35.0h.9M603.1 29.7h.9M536.5 37.7h.9M531.7 41.5h.9M639.1 40.9h.9M527.3 39.8h.9M620.7 38.1h.9M524.4 31.7h.9M530.3 29.4h.9M529.4 108.4h.9M481.4 109.5h.9M525.5 98.6h.9M501.3 108.9h.9M533.3 99.0h.9M536.2 106.5h.9M534.8 102.4h.9M578.3 99.6h.9M539.2 107.7h.9M503.0 97.6h.9M614.0 102.4h.9M527.5 101.3h.9M614.2 99.8h.9M530.8 109.6h.9M594.7 100.6h.9M514.3 97.6h.9M624.2 106.8h.9M535.5 102.2h.9M573.1 98.8h.9M562.9 110.2h.9M533.1 106.4h.9M586.6 108.1h.9M526.0 102.7h.9M524.3 101.8h.9M560.3 103.2h.9M628.8 98.2h.9M530.5 104.8h.9M578.1 107.1h.9M513.7 110.1h.9M627.4 105.6h.9M505.9 109.7h.9M632.7 98.3h.9M556.7 99.8h.9M627.6 102.7h.9M485.5 105.8h.9M529.4 104.8h.9M638.1 103.1h.9M631.3 109.8h.9M599.6 107.4h.9M566.8 105.1h.9M489.1 105.6h.9M476.2 109.6h.9M552.1 99.2h.9M613.9 102.3h.9M602.3 97.6h.9M614.2 109.8h.9M490.2 107.7h.9M481.2 101.6h.9M625.0 100.2h.9M614.9 102.3h.9M612.0 106.5h.9M596.5 106.8h.9M574.9 101.4h.9M557.8 101.6h.9M529.1 101.2h.9M569.5 105.8h.9M622.3 101.8h.9M542.6 110.0h.9M478.4 105.4h.9M546.5 102.5h.9M521.3 105.1h.9M477.3 99.0h.9M546.9 106.3h.9M514.1 105.4h.9M601.3 98.8h.9M633.7 101.0h.9M482.9 102.9h.9M606.0 100.1h.9M593.1 105.9h.9M602.8 102.9h.9M577.4 107.5h.9M629.3 108.8h.9M494.9 100.9h.9M584.9 100.7h.9M585.2 103.2h.9M531.1 103.2h.9M486.1 102.7h.9M563.8 106.4h.9M536.6 99.1h.9M588.6 108.4h.9M542.1 102.5h.9M491.9 106.0h.9M606.8 97.8h.9M479.3 103.9h.9M560.5 99.2h.9M613.9 106.5h.9M631.2 109.8h.9M625.1 98.0h.9M641.1 109.7h.9M579.8 107.1h.9M567.5 101.1h.9M632.0 103.8h.9M596.2 109.3h.9M496.0 106.0h.9M576.6 108.8h.9M570.3 102.1h.9M541.8 101.8h.9M514.6 101.7h.9M549.3 102.1h.9M623.3 107.6h.9M582.7 99.6h.9M620.8 99.4h.9M575.7 97.8h.9M534.0 100.3h.9M635.3 104.4h.9M491.5 102.5h.9M574.4 101.1h.9M483.3 100.9h.9M509.2 99.4h.9M551.4 102.3h.9M600.7 100.3h.9M633.5 110.3h.9M530.3 98.3h.9M542.8 107.8h.9M613.1 102.9h.9M584.4 107.5h.9M568.9 105.8h.9M516.7 100.2h.9M599.7 100.9h.9M545.0 104.5h.9M583.8 101.8h.9M508.3 105.8h.9M633.3 97.2h.9M640.7 98.1h.9M628.0 102.6h.9M501.5 98.1h.9M607.7 102.7h.9M622.1 109.2h.9M486.1 98.9h.9M611.7 102.8h.9M605.5 109.5h.9M608.7 100.5h.9M628.5 97.3h.9M614.7 109.9h.9M620.8 109.4h.9M576.2 109.2h.9M487.1 107.6h.9M481.6 109.0h.9M555.2 101.4h.9M512.5 104.3h.9M503.5 109.7h.9M562.4 104.9h.9M610.5 99.6h.9M530.7 107.2h.9M548.8 102.0h.9M492.4 101.4h.9M636.8 108.0h.9M495.3 107.6h.9M506.9 103.1h.9M499.1 108.9h.9M593.0 100.3h.9M601.8 98.1h.9M589.3 103.2h.9M596.5 109.3h.9M581.7 109.9h.9M564.4 102.9h.9M560.6 101.7h.9M569.4 107.6h.9M498.6 109.2h.9M618.3 105.3h.9M626.1 107.1h.9M497.0 98.7h.9M481.1 107.8h.9M524.3 97.2h.9M592.0 99.1h.9M554.6 99.8h.9M617.6 102.0h.9M591.0 103.5h.9M521.9 102.8h.9M484.3 100.1h.9M593.9 99.1h.9M525.6 99.1h.9M551.0 102.6h.9M625.6 109.9h.9M558.4 103.2h.9M632.8 109.4h.9M605.1 101.2h.9M633.3 100.4h.9M479.4 99.0h.9M630.8 99.8h.9M537.6 103.4h.9M632.9 104.7h.9M543.0 105.4h.9M525.2 99.5h.9M491.6 98.3h.9M609.0 99.6h.9M551.5 109.6h.9M582.3 97.4h.9M602.8 105.0h.9M625.6 102.4h.9M628.2 100.5h.9M607.4 103.4h.9M532.2 105.7h.9M577.7 107.3h.9M519.4 107.2h.9M633.7 109.6h.9M622.0 98.4h.9M603.9 106.0h.9M580.7 105.6h.9M495.6 108.2h.9M542.6 102.9h.9M570.5 103.7h.9M541.4 103.9h.9M603.1 106.7h.9M527.1 98.3h.9M578.4 106.4h.9M510.5 103.3h.9M495.6 107.6h.9M580.4 102.1h.9M532.8 105.2h.9M505.1 100.2h.9M544.2 102.2h.9M524.9 104.4h.9M503.3 100.9h.9M564.5 98.3h.9M517.8 107.7h.9M632.3 102.9h.9M533.6 104.1h.9M545.3 100.9h.9M515.0 107.8h.9M506.6 98.1h.9M569.8 109.5h.9M552.8 102.4h.9M604.5 104.6h.9M526.5 108.6h.9M622.8 99.8h.9M525.6 106.7h.9M635.8 99.9h.9M596.7 103.2h.9M489.5 99.6h.9M636.2 110.1h.9M560.9 98.1h.9M484.8 103.3h.9M477.3 107.6h.9M485.0 102.4h.9M528.0 102.6h.9M480.2 110.4h.9M631.3 100.2h.9M542.6 101.7h.9M490.3 99.8h.9M622.0 98.4h.9M550.3 102.7h.9M537.5 110.2h.9M633.2 104.0h.9M513.3 102.4h.9M485.8 102.3h.9M502.6 109.6h.9M510.6 105.0h.9M580.5 101.2h.9M520.9 103.6h.9M543.7 98.2h.9M578.3 98.4h.9M545.7 104.4h.9M503.8 106.4h.9M589.4 104.3h.9M627.3 106.9h.9M537.7 108.2h.9M543.7 99.2h.9M488.3 103.3h.9M606.3 106.1h.9M605.3 98.3h.9M601.2 107.0h.9M613.9 103.7h.9M571.7 101.8h.9M624.6 104.5h.9M629.4 99.7h.9M523.1 101.9h.9M510.1 101.2h.9M503.4 109.6h.9M487.8 105.2h.9M505.4 103.5h.9M477.0 105.4h.9M603.4 100.4h.9M548.9 102.1h.9M559.7 107.3h.9M594.5 109.6h.9M621.1 103.9h.9M501.9 106.5h.9M631.8 109.0h.9M517.0 101.6h.9M530.3 106.3h.9M581.6 103.7h.9M493.3 105.9h.9M565.7 107.4h.9M553.7 98.9h.9M607.5 98.1h.9M541.3 97.2h.9M487.2 104.8h.9M626.1 97.3h.9M587.5 100.1h.9M606.9 105.2h.9M612.4 103.8h.9M569.7 102.2h.9M513.5 106.8h.9M499.8 103.0h.9M603.0 99.9h.9M483.4 99.0h.9M566.0 98.6h.9M590.0 110.0h.9M618.8 106.2h.9M505.3 109.4h.9M583.7 98.9h.9M585.6 101.4h.9M492.7 102.9h.9M509.6 100.6h.9M481.0 103.3h.9M476.9 108.1h.9M515.6 102.8h.9M507.1 106.2h.9M551.1 100.4h.9M538.3 99.5h.9M481.6 107.4h.9M529.5 108.9h.9M612.7 102.6h.9M620.3 105.2h.9M521.4 103.1h.9M597.4 107.2h.9M597.9 99.2h.9M582.5 103.0h.9M597.2 101.2h.9M549.1 99.5h.9M491.3 109.5h.9M539.7 109.4h.9M560.8 101.4h.9M623.8 110.2h.9M555.0 108.3h.9M633.5 106.3h.9M607.2 108.7h.9M515.4 101.4h.9M494.5 102.0h.9M628.6 109.3h.9M556.7 99.5h.9M563.5 102.0h.9M562.2 109.5h.9M560.1 109.5h.9M559.1 102.8h.9M580.6 109.9h.9M569.9 98.6h.9M635.9 107.2h.9M527.0 103.0h.9M548.7 102.8h.9M626.8 106.1h.9M606.6 102.7h.9M606.4 108.5h.9M540.6 110.0h.9M479.3 103.3h.9M566.0 105.3h.9M593.8 109.4h.9M540.3 101.1h.9M531.1 108.8h.9M552.1 109.5h.9M549.1 97.7h.9M515.5 103.2h.9M576.9 109.5h.9M545.9 98.0h.9M520.7 104.6h.9M628.1 97.8h.9M503.5 108.6h.9M541.6 110.3h.9M604.6 98.5h.9M504.8 101.8h.9M547.0 97.7h.9M572.3 106.2h.9M551.9 106.0h.9M507.2 104.3h.9M530.3 108.6h.9M557.9 99.2h.9M616.9 101.5h.9M506.5 100.3h.9M534.7 98.9h.9M515.5 98.4h.9M625.6 107.9h.9M622.2 103.2h.9M523.0 107.5h.9M526.3 108.7h.9M560.8 97.9h.9M478.4 100.3h.9M608.8 104.4h.9M490.7 106.2h.9M477.6 97.7h.9M536.9 104.0h.9M551.7 104.6h.9M593.7 104.8h.9M607.3 100.1h.9M541.2 99.4h.9M488.8 98.3h.9M615.9 103.9h.9M516.1 107.6h.9M498.5 107.8h.9M603.1 105.8h.9M568.8 97.7h.9M585.8 104.4h.9M609.8 101.8h.9M610.8 102.2h.9M602.5 98.3h.9M577.3 101.1h.9M619.4 104.1h.9M572.1 109.4h.9M549.5 107.2h.9M636.3 98.3h.9M485.7 108.5h.9M560.2 101.6h.9M525.2 103.1h.9M587.9 104.4h.9M500.5 107.9h.9M476.3 102.9h.9M621.4 100.7h.9M594.4 100.8h.9M625.6 109.3h.9M622.1 108.1h.9M635.0 106.6h.9" stroke="#ffffff" stroke-opacity="0.35" stroke-width="0.9"/>
<path d="M491.9 33.9h.7M636.5 41.3h.7M490.7 40.4h.7M626.7 29.8h.7M550.5 37.7h.7M548.0 39.6h.7M593.6 37.6h.7M529.4 32.8h.7M557.8 29.5h.7M609.1 31.2h.7M510.3 31.0h.7M589.6 41.9h.7M604.1 29.3h.7M477.1 38.4h.7M580.5 38.9h.7M537.4 32.4h.7M484.6 39.7h.7M594.2 36.2h.7M522.4 36.3h.7M609.7 36.7h.7M563.3 31.6h.7M513.5 41.5h.7M636.1 34.3h.7M563.4 36.5h.7M569.4 33.7h.7M576.1 37.0h.7M497.0 37.8h.7M586.8 31.6h.7M632.4 31.4h.7M545.2 31.1h.7M547.7 29.3h.7M515.6 30.5h.7M512.0 34.7h.7M542.2 36.0h.7M522.7 37.8h.7M573.2 38.7h.7M635.8 30.5h.7M598.0 40.8h.7M554.1 35.6h.7M607.7 30.4h.7M508.6 33.5h.7M572.9 37.0h.7M496.1 41.6h.7M490.0 29.6h.7M503.0 35.5h.7M571.3 29.1h.7M518.1 35.7h.7M622.5 33.2h.7M544.6 31.4h.7M599.5 35.2h.7M565.0 30.6h.7M505.5 32.2h.7M560.1 31.8h.7M620.6 30.2h.7M541.0 36.5h.7M518.9 39.3h.7M518.2 35.1h.7M541.3 40.3h.7M585.3 32.4h.7M492.6 39.2h.7M545.7 29.7h.7M616.2 31.9h.7M522.8 39.3h.7M613.1 38.1h.7M610.7 41.8h.7M483.9 30.1h.7M596.2 30.2h.7M552.2 30.5h.7M593.8 40.2h.7M640.6 36.2h.7M488.7 36.7h.7M628.4 31.2h.7M626.6 34.6h.7M577.3 39.2h.7M567.7 40.6h.7M576.3 41.4h.7M627.0 39.5h.7M616.1 35.9h.7M595.8 41.6h.7M608.4 29.4h.7M555.3 40.8h.7M494.6 38.6h.7M519.1 38.4h.7M476.0 31.0h.7M629.6 33.4h.7M552.5 41.6h.7M540.1 37.9h.7M556.1 36.2h.7M632.0 34.9h.7M519.9 41.8h.7M539.9 32.7h.7M498.1 36.7h.7M602.2 39.3h.7M482.6 41.7h.7M624.0 35.5h.7M483.3 37.5h.7M492.6 34.5h.7M566.6 35.4h.7M599.2 39.6h.7M553.7 41.0h.7M559.7 35.9h.7M487.3 41.3h.7M613.4 32.2h.7M613.3 35.3h.7M620.7 33.4h.7M589.8 30.9h.7M546.2 29.7h.7M485.0 31.9h.7M617.0 41.2h.7M591.8 31.3h.7M511.2 36.6h.7M509.4 36.2h.7M604.0 29.6h.7M633.7 41.1h.7M598.2 33.7h.7M601.7 39.8h.7M598.8 35.3h.7M534.2 37.6h.7M558.6 39.8h.7M615.1 41.4h.7M506.4 41.7h.7M616.7 34.1h.7M527.5 33.0h.7M487.5 39.5h.7M573.7 32.7h.7M492.1 29.7h.7M568.1 36.0h.7M516.5 39.5h.7M534.2 33.5h.7M589.7 35.1h.7M585.9 38.0h.7M497.1 38.0h.7M587.4 35.9h.7M617.3 33.7h.7M627.8 32.7h.7M549.3 30.4h.7M506.6 41.9h.7M500.7 30.2h.7M621.7 38.3h.7M550.7 34.5h.7M602.7 32.2h.7M611.8 35.0h.7M489.5 32.6h.7M523.5 30.9h.7M529.0 32.6h.7M590.9 30.5h.7M568.2 31.9h.7M582.3 39.3h.7M623.9 38.7h.7M587.7 32.3h.7M489.6 39.8h.7M505.3 35.6h.7M606.2 41.9h.7M638.0 30.9h.7M576.4 36.6h.7M501.4 29.3h.7M555.1 39.1h.7M608.9 34.5h.7M612.0 30.5h.7M556.4 36.7h.7M477.8 34.4h.7M490.3 41.6h.7M552.9 41.7h.7M611.6 38.9h.7M582.6 30.8h.7M599.2 29.2h.7M617.9 40.8h.7M531.0 41.8h.7M595.5 39.0h.7M486.2 31.8h.7M522.4 34.9h.7M614.2 32.1h.7M490.0 39.7h.7M501.8 31.5h.7M506.0 40.2h.7M533.1 37.6h.7M481.9 31.9h.7M598.9 30.2h.7M629.3 34.4h.7M481.8 31.8h.7M526.4 40.9h.7M637.8 30.0h.7M579.5 36.0h.7M623.9 29.7h.7M513.8 37.9h.7M486.6 38.1h.7M625.3 39.0h.7M528.9 37.4h.7M548.6 109.8h.7M515.9 104.1h.7M562.2 102.5h.7M521.3 104.9h.7M495.6 99.2h.7M510.0 103.7h.7M639.8 106.0h.7M621.8 108.8h.7M548.8 103.6h.7M576.5 101.5h.7M512.2 105.1h.7M606.9 108.1h.7M622.5 98.2h.7M581.4 98.4h.7M501.4 109.4h.7M518.3 105.2h.7M573.6 99.3h.7M528.9 106.1h.7M558.3 109.0h.7M559.2 101.4h.7M602.3 99.0h.7M590.3 109.2h.7M547.4 104.8h.7M497.9 109.6h.7M555.6 103.1h.7M504.5 99.3h.7M540.7 100.8h.7M630.5 104.1h.7M591.7 100.3h.7M590.1 109.1h.7M614.8 106.3h.7M575.2 105.5h.7M488.9 98.6h.7M485.2 101.3h.7M489.3 99.6h.7M521.4 101.1h.7M624.5 101.6h.7M508.6 106.8h.7M604.5 99.9h.7M518.2 109.8h.7M538.7 99.8h.7M483.2 103.2h.7M571.7 97.3h.7M484.1 103.5h.7M521.1 102.2h.7M526.4 109.1h.7M640.7 106.6h.7M595.7 108.6h.7M610.9 109.1h.7M600.9 105.0h.7M554.4 100.6h.7M521.8 107.4h.7M526.2 108.1h.7M624.4 101.2h.7M503.4 107.8h.7M573.9 101.2h.7M482.4 101.9h.7M571.9 108.8h.7M571.7 101.6h.7M586.5 105.5h.7M510.1 107.6h.7M626.1 98.1h.7M515.0 99.7h.7M620.1 110.4h.7M547.0 106.0h.7M594.8 103.8h.7M630.9 109.7h.7M613.4 101.1h.7M533.8 100.0h.7M544.1 102.3h.7M601.0 107.8h.7M535.4 110.2h.7M595.5 98.9h.7M598.4 106.3h.7M580.7 105.4h.7M641.3 109.9h.7M545.3 105.5h.7M612.2 107.0h.7M630.8 99.9h.7M515.1 103.3h.7M586.4 101.8h.7M534.7 104.7h.7M511.7 98.0h.7M489.7 99.1h.7M553.6 98.8h.7M612.7 104.1h.7M536.9 110.2h.7M625.8 104.4h.7M575.0 108.8h.7M558.3 98.6h.7M482.8 106.1h.7M568.1 101.1h.7M575.0 106.0h.7M613.0 110.0h.7M621.5 103.0h.7M634.7 108.4h.7M482.2 105.4h.7M598.9 102.8h.7M605.7 108.1h.7M622.1 105.3h.7M564.8 104.6h.7M494.2 98.5h.7M583.6 109.2h.7M612.4 100.2h.7M553.6 107.6h.7M509.4 109.1h.7M590.3 100.2h.7M477.4 109.2h.7M536.2 103.1h.7M494.9 108.8h.7M535.5 103.3h.7M497.0 102.8h.7M478.7 99.9h.7M488.0 108.5h.7M542.4 97.4h.7M560.2 107.9h.7M571.2 100.6h.7M602.8 101.0h.7M586.9 97.4h.7M578.8 102.4h.7M559.2 99.1h.7M605.9 100.2h.7M486.4 104.9h.7M561.9 109.6h.7M554.6 101.5h.7M560.4 110.4h.7M638.9 102.7h.7M612.2 108.3h.7M477.2 110.2h.7M608.0 99.9h.7M559.4 97.2h.7M599.0 99.2h.7M636.8 107.1h.7M607.7 99.6h.7M609.3 108.3h.7M636.5 108.4h.7M533.3 106.2h.7M572.5 98.8h.7M595.8 100.1h.7M638.9 109.8h.7M540.5 106.0h.7M636.4 109.0h.7M476.4 106.8h.7M610.1 103.5h.7M486.2 105.7h.7M499.2 106.2h.7M609.1 109.0h.7M610.6 100.3h.7M491.3 104.3h.7M539.6 109.3h.7M501.5 102.4h.7M490.6 103.4h.7M520.4 98.9h.7M597.6 102.5h.7M482.5 108.2h.7M579.1 109.6h.7M629.0 99.3h.7M602.1 102.1h.7M517.4 108.9h.7M476.3 98.6h.7M604.7 105.5h.7M499.5 109.2h.7M510.9 98.0h.7M522.2 104.9h.7M490.0 99.9h.7M566.5 104.7h.7M592.1 101.4h.7M521.5 99.9h.7M600.8 105.3h.7M486.6 97.2h.7M478.5 97.9h.7M539.8 106.2h.7M593.5 97.4h.7M481.1 110.4h.7M640.6 103.4h.7M509.0 106.7h.7M584.8 100.5h.7M493.3 103.2h.7M575.6 102.6h.7M570.2 107.3h.7M536.9 100.9h.7M523.3 109.9h.7M579.1 108.7h.7M552.7 102.9h.7M485.4 101.6h.7M638.4 105.5h.7M490.5 100.0h.7M609.2 105.5h.7M622.9 102.3h.7M531.0 97.4h.7M549.5 100.4h.7M634.2 106.9h.7M537.1 97.9h.7" stroke="#ffffff" stroke-opacity="0.6" stroke-width="0.7"/>
<path d="M542.2 42.3h.9M616.2 42.3h.9M590.5 42.2h.9M568.3 42.3h.9M478.4 42.7h.9M545.4 42.2h.9M478.9 42.6h.9M593.0 42.7h.9M599.6 42.4h.9M546.5 42.2h.9M640.7 42.4h.9M595.7 42.3h.9M544.1 42.4h.9M607.7 42.6h.9M575.6 42.7h.9M505.7 43.1h.9M491.4 42.5h.9M521.3 42.6h.9M511.5 43.2h.9M525.7 42.8h.9M509.8 42.5h.9M594.9 42.3h.9M514.9 42.5h.9M636.7 42.8h.9M542.9 42.2h.9M500.9 42.5h.9M512.9 42.7h.9M494.3 42.6h.9M618.0 42.2h.9M622.5 42.3h.9M587.2 42.8h.9M589.2 42.7h.9M574.5 42.4h.9M617.2 42.3h.9M533.8 42.7h.9M492.0 42.5h.9M574.1 42.5h.9M620.1 43.9h.9M633.3 42.3h.9M515.2 42.2h.9M508.6 42.6h.9M555.0 110.8h.9M617.6 111.1h.9M572.0 110.8h.9M572.6 111.6h.9M584.5 110.7h.9M543.8 111.1h.9M607.0 111.5h.9M501.6 110.9h.9M632.7 111.8h.9M521.3 111.8h.9M635.3 110.9h.9M511.7 110.9h.9M490.2 110.8h.9M576.2 111.3h.9M639.4 110.8h.9M493.3 111.6h.9M483.2 111.5h.9M553.7 111.7h.9M631.9 110.7h.9M534.5 110.8h.9M575.8 111.0h.9M630.4 110.8h.9M495.5 110.7h.9M639.6 111.2h.9M559.1 110.8h.9M579.1 111.2h.9M619.5 111.0h.9M584.2 111.3h.9M560.6 111.0h.9M543.9 111.1h.9M495.1 110.9h.9M611.8 110.9h.9M617.6 111.4h.9M538.5 110.7h.9M567.9 110.8h.9M502.0 111.0h.9M594.2 111.5h.9M584.4 111.6h.9M630.6 111.4h.9M575.5 110.7h.9M602.8 110.7h.9" stroke="#0000ff" stroke-opacity="0.5" stroke-width="0.9"/>
<path d="M622.6 92.1h.9M626.3 69.8h.9M514.9 86.1h.9M499.3 70.8h.9M501.0 60.1h.9M622.0 84.2h.9M568.2 71.5h.9M481.7 90.3h.9M637.2 45.8h.9M555.6 51.7h.9M631.4 92.7h.9M497.5 88.9h.9M563.9 65.8h.9M476.4 60.4h.9M590.6 86.0h.9M569.5 70.0h.9M638.1 43.6h.9M479.8 50.5h.9M633.5 51.1h.9M553.6 63.5h.9M586.9 84.2h.9M638.5 95.2h.9M572.2 85.5h.9M597.0 85.6h.9M526.0 61.1h.9M523.7 60.8h.9M592.9 52.4h.9M574.1 80.9h.9M624.2 93.9h.9M493.2 82.7h.9M636.4 49.2h.9M529.8 76.8h.9M582.7 74.8h.9M618.6 47.9h.9M527.0 96.0h.9M480.6 54.7h.9M485.6 52.5h.9M505.3 60.8h.9M610.8 81.8h.9M625.9 80.4h.9M640.2 54.2h.9M593.9 77.9h.9M558.1 53.2h.9M475.9 42.9h.9M493.2 53.1h.9M573.8 66.4h.9M582.4 50.1h.9M618.2 84.8h.9M499.1 65.4h.9M527.4 88.8h.9M639.1 64.6h.9M537.2 92.1h.9M593.6 68.2h.9M615.2 70.5h.9M541.1 92.4h.9M631.4 53.6h.9M603.1 66.2h.9M561.8 94.5h.9M560.5 84.9h.9M579.1 70.6h.9M512.1 53.3h.9M624.8 51.4h.9M584.0 77.2h.9M604.7 48.5h.9M575.3 89.6h.9M524.5 96.0h.9M581.2 81.7h.9M594.7 59.4h.9M562.7 57.6h.9M539.3 93.7h.9M529.0 76.8h.9M608.7 68.7h.9M637.3 64.9h.9M611.2 78.5h.9M541.9 88.6h.9M571.8 79.0h.9M598.0 47.3h.9M517.8 76.0h.9M621.1 48.3h.9M542.7 90.0h.9M485.9 51.6h.9M613.0 78.0h.9M526.8 84.2h.9M490.0 72.7h.9M513.0 73.6h.9M607.6 91.2h.9M485.2 94.0h.9M489.0 78.1h.9M615.0 68.4h.9M498.2 51.4h.9M540.2 59.8h.9M479.1 94.6h.9M588.2 81.4h.9M620.5 48.6h.9M637.4 65.4h.9M620.1 52.7h.9M613.9 81.5h.9M489.8 94.7h.9M477.4 49.0h.9M528.6 46.5h.9M595.6 95.4h.9M640.1 48.3h.9M585.3 77.1h.9M539.3 70.6h.9M546.2 74.7h.9M505.2 75.6h.9M530.5 53.5h.9M490.3 56.9h.9M604.2 42.8h.9M638.7 49.6h.9M554.0 84.6h.9M529.9 55.3h.9M592.6 50.3h.9M508.1 64.4h.9M611.9 52.5h.9M489.6 65.7h.9M636.9 86.5h.9M552.9 59.0h.9M547.4 79.0h.9M608.9 80.0h.9M636.1 93.9h.9M545.7 61.2h.9M568.8 80.4h.9M510.4 84.3h.9M506.3 91.4h.9M612.3 78.9h.9M548.7 53.4h.9M529.5 83.6h.9M632.0 88.6h.9M538.9 70.9h.9M598.8 46.6h.9M542.5 53.8h.9M621.8 90.7h.9M493.3 84.4h.9M518.7 85.3h.9M530.3 75.2h.9M512.9 44.9h.9M550.9 70.3h.9M484.1 46.2h.9M587.6 64.2h.9M597.2 42.8h.9M478.4 47.9h.9M498.3 67.7h.9M629.6 86.4h.9M476.4 66.9h.9M623.9 64.2h.9M510.7 64.2h.9M612.0 65.3h.9M480.7 55.3h.9M558.6 66.9h.9M530.8 48.6h.9M532.3 79.6h.9M627.4 80.6h.9M574.5 86.6h.9M624.6 43.4h.9M479.1 67.7h.9M553.6 86.9h.9M512.9 94.5h.9M542.7 70.3h.9M571.3 71.4h.9M606.4 64.7h.9M591.6 46.8h.9M508.4 62.5h.9M585.5 63.7h.9M503.6 52.6h.9M632.1 71.0h.9M504.7 52.6h.9M592.6 88.5h.9M567.2 61.0h.9M523.7 84.7h.9M534.4 56.9h.9M476.2 51.6h.9M573.2 86.7h.9M529.1 83.0h.9M575.2 57.8h.9M620.7 79.0h.9M590.6 63.8h.9M563.2 78.9h.9M514.0 52.9h.9M615.4 94.5h.9M489.9 91.9h.9M539.7 55.6h.9M477.9 52.2h.9M539.5 85.6h.9M627.9 58.1h.9M566.8 51.9h.9M539.0 88.8h.9M543.0 88.8h.9M561.0 75.1h.9M584.2 59.9h.9M636.3 94.9h.9M601.7 50.4h.9M583.2 67.2h.9M589.6 67.2h.9M618.5 56.6h.9M553.0 77.6h.9M541.5 90.6h.9M533.5 68.0h.9M525.7 84.3h.9M513.8 43.2h.9M599.4 63.4h.9M489.4 82.1h.9M537.3 85.8h.9M604.5 51.2h.9M479.8 73.6h.9M541.0 72.6h.9M538.8 81.5h.9M586.8 85.3h.9M630.3 57.7h.9M522.6 66.4h.9M622.1 53.2h.9M559.5 54.7h.9M493.7 51.0h.9M587.1 64.1h.9M514.7 73.1h.9M638.4 89.9h.9M609.5 86.7h.9M562.9 70.7h.9M512.3 83.1h.9M596.0 45.7h.9M540.9 80.8h.9M558.7 50.5h.9M518.8 92.5h.9M532.9 70.1h.9M506.1 92.0h.9M553.5 68.3h.9M543.2 94.2h.9M629.5 70.7h.9M619.7 58.4h.9M557.9 86.7h.9M514.7 44.7h.9M476.2 79.6h.9M562.3 93.2h.9M578.7 61.1h.9M636.9 89.2h.9M581.4 70.2h.9M550.5 48.4h.9M586.8 71.8h.9M554.2 87.5h.9M597.9 45.2h.9M480.7 69.8h.9M625.8 70.9h.9M533.9 86.5h.9M489.5 64.0h.9M596.4 89.0h.9M632.1 63.9h.9M550.4 89.6h.9M577.8 67.6h.9M521.8 71.6h.9M561.2 73.3h.9M625.1 62.4h.9M583.4 68.8h.9M542.7 82.1h.9M526.7 70.7h.9M500.6 78.5h.9M528.1 75.6h.9M538.7 83.4h.9M558.0 64.6h.9M551.4 71.6h.9M504.4 93.9h.9M632.5 63.8h.9M630.4 69.7h.9M628.9 69.6h.9M614.9 81.1h.9M544.6 90.3h.9M539.4 49.5h.9M528.4 89.0h.9M581.4 66.7h.9M626.0 66.7h.9M524.1 93.6h.9M521.8 63.6h.9M577.3 52.8h.9M556.6 79.6h.9M526.1 82.3h.9M480.3 86.8h.9M570.0 92.7h.9M589.7 47.7h.9M515.2 62.3h.9M515.5 65.8h.9M490.5 51.4h.9M570.0 67.6h.9M555.3 45.6h.9M604.6 86.3h.9M522.3 58.7h.9M607.7 57.2h.9M638.5 66.1h.9M490.4 46.0h.9M634.3 66.8h.9M541.8 45.3h.9M544.7 54.6h.9M637.8 62.5h.9M581.4 44.0h.9M569.9 62.8h.9M491.2 49.2h.9M495.3 75.2h.9M561.1 86.1h.9M553.3 47.9h.9M634.3 79.0h.9M599.9 70.7h.9M639.1 66.9h.9M621.9 51.9h.9M484.4 46.4h.9M554.4 91.7h.9M551.6 56.4h.9M529.4 59.2h.9M516.3 84.6h.9M574.0 66.9h.9M557.4 61.1h.9M583.5 95.3h.9M524.4 54.8h.9M584.8 72.2h.9M477.3 63.1h.9M583.9 63.4h.9M482.9 43.1h.9M597.7 44.8h.9M601.8 61.1h.9M590.2 80.0h.9M594.4 59.3h.9M556.9 72.7h.9M499.5 45.5h.9M477.3 67.0h.9M537.0 93.2h.9M606.0 71.1h.9M616.6 63.0h.9M494.1 62.8h.9M536.7 62.4h.9M633.2 59.2h.9M552.1 50.4h.9M575.3 50.4h.9M637.0 53.1h.9M590.2 57.5h.9M621.4 49.5h.9M625.4 54.3h.9M492.9 46.0h.9M548.1 93.7h.9M500.4 93.0h.9M547.9 47.1h.9M590.9 65.3h.9M595.9 73.8h.9M599.7 76.6h.9M557.1 92.0h.9M569.6 53.6h.9M531.5 52.0h.9M543.3 94.3h.9M603.6 63.2h.9M570.9 80.7h.9M587.2 95.4h.9M625.0 63.7h.9M581.3 61.8h.9M527.2 64.2h.9M498.0 72.4h.9M526.7 86.5h.9M625.8 66.9h.9M598.4 95.8h.9M620.3 84.0h.9M519.0 72.7h.9M518.2 62.3h.9M617.8 73.7h.9M562.3 68.3h.9M560.8 70.8h.9M624.6 89.2h.9M579.2 45.1h.9M613.0 45.4h.9M606.2 65.8h.9M590.7 74.9h.9M520.5 72.6h.9M535.8 66.3h.9M501.9 47.6h.9M487.5 50.7h.9M495.1 55.3h.9M554.1 76.9h.9M575.3 73.1h.9M497.2 66.4h.9M627.7 46.2h.9M514.6 72.8h.9M534.3 46.7h.9M573.4 47.9h.9M586.8 60.6h.9M570.6 94.8h.9M583.5 86.8h.9M489.2 71.8h.9M541.4 60.7h.9M502.8 80.8h.9M525.9 58.1h.9M503.4 50.4h.9M543.3 80.0h.9M598.6 94.4h.9M496.7 92.7h.9M520.0 47.4h.9M536.9 70.0h.9M631.6 65.2h.9M571.1 94.7h.9M631.8 51.3h.9M497.7 76.1h.9M619.6 58.0h.9M626.6 70.2h.9M538.3 45.8h.9M534.9 58.4h.9M555.9 88.1h.9M551.0 44.3h.9M531.5 84.2h.9M487.9 92.4h.9M508.0 85.3h.9M537.0 81.5h.9M514.9 67.6h.9M513.8 50.5h.9M493.1 68.4h.9M624.1 69.6h.9M584.7 62.9h.9M608.5 71.1h.9M524.5 64.9h.9M534.0 48.7h.9M513.5 65.6h.9M573.3 73.2h.9M621.4 43.8h.9M533.4 71.8h.9M624.1 68.4h.9M595.7 78.8h.9M520.4 59.8h.9M591.4 89.8h.9M562.8 65.5h.9M509.6 64.8h.9M494.5 67.3h.9M489.8 55.7h.9M502.4 88.9h.9M493.9 69.7h.9M591.0 84.9h.9M634.3 51.2h.9M564.2 80.8h.9M539.7 58.4h.9M596.4 86.3h.9M608.5 91.9h.9M624.0 60.0h.9M521.1 75.8h.9M635.4 45.6h.9M553.4 53.7h.9M545.1 58.3h.9M517.3 95.5h.9M587.6 83.7h.9M477.2 68.6h.9M571.5 51.0h.9M554.2 53.5h.9M563.1 46.2h.9M555.1 48.1h.9M573.9 61.5h.9M608.2 88.2h.9M570.9 49.6h.9M623.9 54.2h.9M543.0 64.9h.9M641.4 56.0h.9M613.7 66.8h.9M496.3 50.3h.9M551.4 85.4h.9M518.7 95.7h.9M600.8 78.7h.9M640.8 86.9h.9M587.0 84.0h.9M576.4 72.0h.9M626.9 77.7h.9M574.0 85.3h.9M563.4 63.0h.9M530.5 52.5h.9M480.3 92.9h.9M519.2 75.1h.9M558.5 76.4h.9M614.9 60.7h.9M517.9 52.2h.9M637.4 48.4h.9M548.8 81.1h.9M491.1 76.8h.9M593.2 86.4h.9M567.3 87.5h.9M634.4 68.1h.9M516.2 86.2h.9M543.9 72.6h.9M610.7 74.0h.9M639.3 75.7h.9M556.8 43.6h.9M485.2 57.7h.9M638.3 79.6h.9M603.9 75.4h.9M503.1 47.8h.9M487.0 60.3h.9M501.2 44.7h.9M568.7 91.2h.9M594.8 64.1h.9M536.7 88.3h.9M485.7 71.3h.9M534.9 81.3h.9M522.3 82.2h.9M505.3 53.2h.9M512.2 52.3h.9M504.3 60.7h.9M636.0 51.0h.9M543.0 69.1h.9M575.1 58.8h.9M611.0 74.0h.9M600.1 62.5h.9M607.6 75.0h.9M606.4 91.5h.9M495.7 71.4h.9M589.6 92.1h.9M576.6 66.2h.9M514.5 55.1h.9M567.6 93.3h.9M557.1 65.0h.9M528.2 81.4h.9M590.4 68.5h.9M515.2 73.9h.9M608.6 73.5h.9M567.4 76.7h.9M507.2 64.6h.9M629.3 48.0h.9M594.5 60.4h.9M638.9 85.2h.9M555.4 94.8h.9M494.7 84.0h.9M538.0 50.1h.9M508.5 63.8h.9M516.8 72.3h.9M550.9 54.1h.9M627.4 45.4h.9M556.6 59.6h.9M507.8 67.7h.9M624.5 70.0h.9M625.3 67.3h.9M505.2 42.8h.9M561.5 72.1h.9M533.5 74.0h.9M552.8 45.6h.9M543.2 59.2h.9M635.9 95.5h.9M533.9 79.6h.9M606.1 81.5h.9M616.0 73.5h.9M638.5 77.8h.9M554.7 85.4h.9M490.1 73.3h.9M513.5 77.8h.9M576.2 65.1h.9M541.1 48.1h.9M640.2 57.7h.9M506.9 85.3h.9M631.4 76.3h.9M609.5 88.4h.9M604.5 59.0h.9M611.5 58.0h.9M573.1 65.4h.9M516.6 83.3h.9M631.8 58.4h.9M598.0 80.4h.9M603.3 50.9h.9M634.8 58.7h.9M524.3 92.9h.9M599.3 61.4h.9M637.9 83.2h.9M544.9 73.3h.9M630.4 60.3h.9M625.0 60.8h.9M508.3 93.9h.9M588.0 43.8h.9M616.5 95.5h.9M517.6 82.7h.9M555.4 53.7h.9M490.8 82.6h.9M530.0 57.7h.9M640.7 70.5h.9M558.8 94.4h.9M491.0 69.7h.9M485.2 56.5h.9M615.0 65.4h.9M503.1 90.2h.9M592.3 93.7h.9M559.7 82.0h.9M638.4 46.9h.9M531.3 84.0h.9M510.1 54.3h.9M610.0 75.1h.9M575.8 45.5h.9M634.1 92.4h.9M499.3 79.0h.9M476.9 72.5h.9M567.1 52.8h.9M535.6 79.5h.9M540.2 62.0h.9M608.3 72.6h.9M609.2 77.3h.9M558.7 54.5h.9M607.0 47.2h.9M528.0 83.1h.9M495.1 85.8h.9M606.5 82.9h.9M484.0 56.4h.9M614.1 48.5h.9M527.1 49.6h.9M574.3 48.9h.9M519.3 66.3h.9M599.6 56.3h.9M561.1 79.6h.9M506.7 79.0h.9M608.7 50.4h.9M554.9 73.3h.9M543.9 65.2h.9M531.8 69.3h.9M587.7 89.9h.9M484.8 44.6h.9M580.3 55.2h.9M601.9 54.8h.9M622.3 82.5h.9M529.9 58.2h.9M567.4 63.6h.9M635.4 73.0h.9M562.0 81.0h.9M544.4 82.1h.9M582.2 62.9h.9M500.8 44.7h.9M619.3 43.9h.9M500.3 88.8h.9M527.0 85.3h.9M615.4 91.1h.9M531.2 49.0h.9M545.5 84.6h.9M582.6 83.7h.9M564.9 68.3h.9M542.3 53.6h.9M554.2 86.2h.9M589.9 91.1h.9M513.0 63.0h.9M609.2 93.9h.9M492.0 92.5h.9M541.8 48.7h.9M549.2 60.0h.9M636.1 66.8h.9M581.3 83.0h.9M589.2 64.3h.9M611.8 73.5h.9M508.0 89.5h.9M615.6 75.3h.9M610.6 70.4h.9M523.4 57.6h.9M499.0 87.4h.9M522.4 89.2h.9M534.2 80.8h.9M632.3 63.9h.9M525.3 47.0h.9M503.4 45.6h.9M548.8 91.2h.9M523.4 54.2h.9M528.2 46.2h.9M559.1 48.2h.9M594.9 55.9h.9M536.1 49.9h.9M524.5 53.4h.9M548.5 79.2h.9M563.1 70.6h.9M506.8 66.6h.9M573.5 50.0h.9M504.7 45.0h.9M479.2 87.9h.9M508.9 68.3h.9M585.1 77.8h.9M602.6 42.9h.9M510.2 80.2h.9M581.8 44.3h.9M576.4 87.7h.9M581.6 89.0h.9M528.3 53.4h.9M591.6 65.9h.9M547.1 83.6h.9M599.7 72.9h.9M635.3 62.9h.9M569.4 87.9h.9M574.6 49.9h.9M548.9 81.0h.9M496.4 60.0h.9M569.8 58.0h.9M479.4 90.2h.9M605.5 70.8h.9M502.4 43.3h.9M569.8 74.4h.9M507.7 42.9h.9M612.5 53.6h.9M624.7 85.6h.9M585.4 86.9h.9M639.8 80.7h.9M602.0 83.6h.9M574.5 60.9h.9M539.3 63.9h.9M555.6 49.4h.9M638.5 72.7h.9M639.6 80.4h.9M585.7 90.5h.9M531.2 76.9h.9M497.1 58.3h.9M614.7 93.0h.9M554.2 70.0h.9M526.2 52.2h.9M508.2 43.2h.9M503.6 73.3h.9M477.9 53.3h.9M577.1 71.6h.9M641.0 48.3h.9M583.9 86.2h.9M504.2 62.6h.9M510.1 88.1h.9M557.2 87.5h.9M556.9 43.3h.9M588.6 80.2h.9M621.3 62.3h.9M548.8 82.1h.9M632.0 50.9h.9M628.1 45.7h.9M595.3 96.0h.9M590.7 55.4h.9M530.0 79.2h.9M533.9 63.7h.9M539.1 66.1h.9M579.3 85.4h.9M478.9 71.9h.9M497.3 49.5h.9M583.6 68.0h.9M539.7 72.6h.9M479.8 49.1h.9M594.0 75.4h.9M479.0 72.8h.9M528.1 68.6h.9M601.2 67.6h.9M632.1 76.8h.9M545.0 54.8h.9M599.9 91.2h.9M595.7 71.3h.9M521.9 75.9h.9M613.5 60.8h.9M553.1 58.2h.9M513.4 63.6h.9M591.6 73.1h.9M630.5 80.7h.9M511.1 50.3h.9M523.0 45.8h.9M575.2 68.9h.9M635.9 84.0h.9M563.6 58.1h.9M603.9 85.2h.9M586.9 89.4h.9M513.6 85.9h.9M479.0 51.6h.9M517.1 57.1h.9M511.2 85.9h.9M536.3 56.0h.9M514.6 81.8h.9M492.6 85.5h.9M484.2 63.9h.9M573.3 95.3h.9M500.6 54.5h.9M641.0 60.1h.9M561.9 73.2h.9M607.7 47.5h.9M539.4 83.1h.9M501.0 63.5h.9M526.3 57.4h.9M547.7 65.6h.9M554.2 58.8h.9M513.6 51.6h.9M604.5 76.7h.9M550.1 57.1h.9M605.1 90.6h.9M486.6 55.4h.9M479.8 68.3h.9M509.5 56.7h.9M545.0 58.6h.9M553.2 83.1h.9M538.0 85.6h.9M559.0 75.2h.9M587.5 90.7h.9M635.4 49.4h.9M534.8 64.0h.9M566.6 86.0h.9M527.0 91.3h.9M499.5 92.2h.9M520.7 82.3h.9M580.0 61.3h.9M493.1 59.7h.9M548.1 89.7h.9M487.6 95.1h.9M630.3 66.3h.9M626.5 78.3h.9M585.5 65.4h.9M476.2 57.1h.9M620.6 53.4h.9M521.2 87.0h.9M598.3 76.9h.9M512.3 62.3h.9M561.4 94.3h.9M563.7 62.6h.9M592.6 71.5h.9M610.7 93.6h.9M542.6 93.7h.9M535.9 58.8h.9M494.6 94.2h.9M595.4 95.2h.9M515.0 84.4h.9M640.7 91.4h.9M550.4 88.3h.9M636.5 58.2h.9M504.1 69.4h.9M597.9 76.4h.9M568.5 92.8h.9M618.8 49.1h.9M558.1 71.9h.9M624.6 80.4h.9M569.5 78.3h.9M526.4 62.8h.9M543.4 93.8h.9M561.7 94.7h.9M559.8 81.7h.9M634.3 71.6h.9M557.2 43.6h.9M478.9 56.0h.9M538.7 95.9h.9M604.2 85.4h.9M544.2 93.7h.9M527.0 89.5h.9M522.4 49.9h.9M504.0 76.6h.9M510.1 78.7h.9M529.7 66.5h.9M517.4 78.9h.9M490.3 92.6h.9M630.3 68.3h.9M528.7 92.5h.9M620.3 48.8h.9M506.2 55.3h.9M548.9 69.3h.9M498.6 90.9h.9M556.5 67.4h.9M522.5 63.4h.9M626.5 51.4h.9M518.1 66.2h.9M541.5 55.2h.9M569.9 59.9h.9M525.9 75.3h.9M543.0 66.3h.9M551.7 48.5h.9M576.7 66.7h.9M635.7 50.9h.9M562.7 43.9h.9M496.0 87.9h.9M573.3 48.4h.9M554.4 86.3h.9M563.0 89.8h.9M495.6 87.2h.9M613.6 64.0h.9M507.5 94.7h.9M556.6 62.4h.9M585.5 94.1h.9M600.1 77.2h.9M519.1 81.3h.9M477.3 68.7h.9M638.9 68.8h.9M570.5 95.1h.9M509.5 68.2h.9M508.0 81.4h.9M539.2 93.0h.9M598.5 42.7h.9M561.6 65.4h.9M478.3 67.0h.9M510.4 55.8h.9M490.7 73.8h.9M590.9 80.7h.9M513.4 68.7h.9M570.0 64.7h.9M484.8 85.0h.9M556.5 55.3h.9M622.6 94.7h.9M631.6 73.9h.9M509.4 78.0h.9M485.0 84.2h.9M583.4 77.6h.9M639.2 44.3h.9M640.1 84.2h.9M610.8 61.8h.9M593.8 65.9h.9M636.9 62.3h.9M629.7 69.9h.9M594.7 76.0h.9M621.5 79.5h.9M493.4 86.8h.9M476.5 82.8h.9M507.0 51.9h.9M547.8 64.7h.9M535.9 83.6h.9M496.4 76.8h.9M570.1 83.4h.9M614.3 79.8h.9M486.4 56.8h.9M625.0 95.1h.9M562.6 79.1h.9M518.4 78.1h.9M523.1 63.0h.9M498.6 87.7h.9M568.5 71.2h.9M490.1 58.1h.9M584.9 73.2h.9M536.4 91.9h.9M529.0 73.9h.9M555.6 42.8h.9M499.8 73.3h.9M543.3 46.4h.9M596.2 55.4h.9M601.3 66.0h.9M533.2 74.1h.9M636.2 49.6h.9M503.5 58.0h.9M526.2 80.9h.9M613.3 67.7h.9M486.6 59.4h.9M539.9 80.3h.9M612.3 94.9h.9M555.9 90.1h.9M487.0 87.4h.9M582.0 71.3h.9M542.1 48.2h.9M527.6 76.8h.9M493.2 74.5h.9M540.7 95.4h.9M608.9 84.5h.9M579.8 89.6h.9M569.1 55.2h.9M528.3 48.9h.9M599.2 76.2h.9M578.3 51.5h.9M639.0 53.5h.9M513.6 42.8h.9M589.7 79.1h.9M624.1 91.0h.9M516.7 82.7h.9M496.2 76.2h.9M509.8 60.7h.9M552.0 49.6h.9M491.7 87.2h.9M532.8 43.9h.9M518.4 80.2h.9M589.6 55.9h.9M543.8 74.0h.9M584.9 89.5h.9M595.1 70.6h.9M563.4 81.1h.9M531.7 60.1h.9M632.4 91.3h.9M497.2 63.6h.9M568.5 84.8h.9M641.0 87.7h.9M548.4 63.9h.9M585.0 66.0h.9M516.3 56.4h.9M625.4 91.2h.9M496.2 47.9h.9M616.4 91.6h.9M542.3 73.9h.9M495.3 83.2h.9M528.0 71.4h.9M531.5 70.3h.9M602.9 80.7h.9M531.9 92.0h.9M567.5 90.8h.9M485.2 87.6h.9M500.8 55.8h.9M600.9 88.4h.9M496.6 60.3h.9M538.3 91.0h.9M576.1 46.0h.9M618.2 46.6h.9M572.3 67.8h.9M547.1 56.1h.9M564.3 77.6h.9M535.2 49.1h.9M482.5 79.0h.9M585.3 57.7h.9M638.7 74.1h.9M508.8 60.1h.9M610.3 45.7h.9M546.4 42.7h.9M569.7 51.7h.9M513.0 65.3h.9M619.4 73.8h.9M577.3 78.2h.9M563.7 70.5h.9M496.4 79.0h.9M497.8 78.6h.9M554.7 81.2h.9M495.5 46.3h.9M520.3 57.7h.9M534.4 92.3h.9M569.2 70.8h.9M521.1 51.2h.9M574.0 80.7h.9M527.6 70.6h.9M551.1 80.4h.9M567.5 43.7h.9M517.9 64.4h.9M554.1 76.9h.9M604.2 56.9h.9M568.4 47.2h.9M562.2 80.0h.9M532.9 91.3h.9M495.6 85.8h.9M615.3 82.5h.9M626.1 65.2h.9M612.4 82.2h.9M635.5 56.9h.9M623.8 84.5h.9M618.2 59.6h.9M477.4 91.5h.9M589.5 44.7h.9M509.5 46.0h.9M603.1 57.3h.9M510.0 45.1h.9M588.6 45.8h.9M582.5 58.9h.9M498.5 95.4h.9M593.2 89.2h.9M512.2 55.3h.9M599.3 71.1h.9M639.0 79.5h.9M543.7 59.4h.9M578.1 77.7h.9M514.5 79.9h.9M634.2 95.9h.9M493.1 59.3h.9M626.9 70.1h.9M551.4 79.6h.9M498.8 59.6h.9M476.7 94.3h.9M615.1 87.0h.9M632.2 65.9h.9M494.9 44.0h.9M595.5 73.2h.9M581.9 78.3h.9M530.0 91.1h.9M548.1 58.9h.9M630.8 52.7h.9M529.6 50.3h.9M496.5 71.9h.9M592.5 52.8h.9M594.8 44.7h.9M629.1 43.5h.9M628.7 63.7h.9M601.9 42.7h.9M623.8 78.9h.9M483.5 66.6h.9M515.1 91.9h.9M572.7 87.5h.9M535.9 57.1h.9M499.4 46.2h.9M518.9 69.8h.9M479.6 59.0h.9M626.6 55.8h.9M631.0 56.8h.9M498.8 65.6h.9M524.7 47.4h.9M553.3 83.6h.9M628.9 72.3h.9M593.6 53.5h.9M512.2 83.7h.9M511.0 82.0h.9M602.9 60.9h.9M538.9 66.6h.9M570.5 71.1h.9M499.7 79.7h.9M481.3 58.9h.9M575.3 50.8h.9M616.3 64.5h.9M624.9 45.2h.9M610.4 71.4h.9M596.0 94.4h.9M529.0 68.4h.9M595.7 85.6h.9M585.4 76.6h.9M578.9 92.7h.9M572.1 73.8h.9M560.6 48.1h.9M559.8 45.6h.9M606.8 85.7h.9M505.2 55.5h.9M499.5 93.9h.9M552.8 70.8h.9M575.5 86.4h.9M503.0 94.6h.9M516.0 81.1h.9M491.2 73.2h.9M575.2 54.3h.9M612.3 87.6h.9M509.2 45.3h.9M636.7 78.6h.9M504.9 87.4h.9M590.5 68.6h.9M549.9 57.2h.9M535.8 76.2h.9M489.7 51.9h.9M522.3 54.4h.9M477.2 64.7h.9M528.7 87.0h.9M624.1 48.6h.9M500.5 53.2h.9M538.1 62.9h.9M548.9 44.6h.9M571.5 46.0h.9M547.2 64.6h.9M586.7 53.4h.9M542.9 78.0h.9M555.0 53.2h.9M570.1 51.4h.9M490.9 88.0h.9M542.1 79.9h.9M577.0 78.5h.9M585.6 73.3h.9M554.8 67.1h.9M611.7 63.6h.9M558.2 83.7h.9M551.1 82.4h.9M483.3 68.3h.9M638.0 69.5h.9M638.0 50.8h.9M631.5 52.1h.9M516.5 53.5h.9M488.3 53.8h.9M579.9 67.3h.9M530.8 88.7h.9M514.6 59.6h.9M521.9 62.4h.9M592.4 43.6h.9M519.9 43.8h.9M569.8 89.3h.9M630.4 50.1h.9M566.7 94.4h.9M620.8 64.2h.9M618.9 53.1h.9M584.3 52.0h.9M610.7 95.5h.9M551.3 54.7h.9M492.9 47.0h.9M628.4 62.5h.9M569.0 89.9h.9M584.8 43.8h.9M628.6 46.3h.9M589.6 48.3h.9M626.7 65.4h.9M511.1 79.6h.9M511.1 51.7h.9M486.2 76.6h.9M516.2 84.1h.9M500.0 77.7h.9M625.5 48.7h.9M638.6 46.7h.9M509.9 95.2h.9M601.1 44.4h.9M514.5 57.4h.9M581.1 73.6h.9M504.1 89.3h.9M637.7 68.0h.9M532.2 69.4h.9M535.0 74.8h.9M537.1 68.1h.9M575.6 75.3h.9M605.0 88.8h.9M516.0 49.3h.9M602.5 56.9h.9M533.7 57.9h.9M532.6 66.0h.9M487.9 43.2h.9M602.2 47.2h.9M624.8 68.9h.9M580.1 50.7h.9M581.9 72.0h.9M612.7 83.1h.9M595.1 85.3h.9M610.4 89.4h.9M612.4 95.9h.9M617.7 62.8h.9M509.6 69.0h.9M575.3 89.3h.9M634.8 63.7h.9M496.8 52.7h.9M612.7 79.8h.9M537.1 47.8h.9M495.8 56.8h.9M492.4 57.3h.9M574.3 56.3h.9M637.0 51.9h.9M637.9 94.0h.9M498.4 70.1h.9M531.5 63.0h.9M596.5 61.8h.9M498.3 71.7h.9M505.4 43.6h.9M593.0 49.2h.9M551.9 92.7h.9M639.6 48.0h.9M618.6 53.5h.9M593.2 69.3h.9M598.0 78.3h.9M570.8 79.8h.9M614.8 77.9h.9M578.7 51.8h.9M563.0 90.4h.9M542.1 87.1h.9M537.3 57.7h.9M605.8 88.3h.9M491.7 47.6h.9M638.9 84.4h.9M547.6 87.0h.9M477.3 77.0h.9M596.8 63.5h.9M540.9 44.3h.9M571.8 91.2h.9M589.3 55.5h.9M536.1 87.9h.9M592.6 127.5h.9M529.6 155.7h.9M489.8 118.9h.9M576.2 135.1h.9M615.9 116.1h.9M639.3 111.4h.9M579.0 142.4h.9M514.3 123.1h.9M479.2 119.8h.9M578.9 148.0h.9M616.9 147.3h.9M551.0 115.0h.9M574.9 162.0h.9M481.0 112.0h.9M600.1 151.2h.9M596.3 146.5h.9M603.9 139.2h.9M495.6 139.9h.9M509.5 115.4h.9M599.7 148.5h.9M515.9 159.5h.9M535.7 121.4h.9M546.6 119.2h.9M496.7 157.1h.9M510.7 140.2h.9M619.5 156.8h.9M567.3 128.9h.9M625.8 155.3h.9M542.1 146.5h.9M478.4 159.6h.9M486.4 155.8h.9M528.2 161.3h.9M541.4 128.2h.9M613.3 143.5h.9M561.8 147.7h.9M638.9 132.3h.9M566.7 140.5h.9M498.7 136.1h.9M622.3 155.6h.9M581.8 155.7h.9M540.7 115.6h.9M492.0 146.4h.9M575.5 116.6h.9M529.9 146.6h.9M630.5 159.0h.9M577.1 156.9h.9M589.1 126.8h.9M543.9 152.8h.9M607.6 157.7h.9M540.4 145.1h.9M481.2 120.4h.9M587.8 131.7h.9M535.4 141.8h.9M590.0 144.6h.9M498.4 112.3h.9M608.9 115.2h.9M490.0 131.0h.9M515.6 114.0h.9M500.2 122.1h.9M550.7 154.5h.9M579.0 124.0h.9M493.2 162.6h.9M594.7 135.1h.9M538.7 147.5h.9M592.4 149.2h.9M529.9 126.4h.9M625.6 137.7h.9M521.8 160.1h.9M633.1 161.3h.9M588.9 153.5h.9M564.8 161.0h.9M545.0 113.5h.9M599.5 112.3h.9M580.1 129.1h.9M549.2 139.5h.9M550.9 127.3h.9M534.3 155.9h.9M566.0 163.7h.9M581.2 138.9h.9M479.4 140.3h.9M495.2 116.2h.9M587.6 154.6h.9M506.3 116.0h.9M481.7 128.5h.9M500.4 115.9h.9M531.3 116.4h.9M593.6 135.2h.9M503.8 112.5h.9M602.1 112.4h.9M559.1 136.4h.9M486.9 117.7h.9M629.3 112.2h.9M568.3 164.6h.9M553.5 125.0h.9M556.0 144.0h.9M478.2 148.3h.9M563.2 143.4h.9M636.0 150.5h.9M480.4 148.3h.9M484.6 111.7h.9M615.2 144.8h.9M577.9 113.1h.9M524.6 122.4h.9M590.3 154.0h.9M541.2 138.9h.9M578.1 153.0h.9M581.5 149.5h.9M580.8 134.4h.9M569.3 131.2h.9M525.2 137.9h.9M549.2 158.5h.9M505.7 113.6h.9M627.5 135.6h.9M627.0 142.7h.9M487.8 126.3h.9M602.6 127.4h.9M637.4 141.9h.9M633.2 151.6h.9M482.7 143.4h.9M479.5 122.6h.9M527.8 137.5h.9M574.8 146.1h.9M548.1 141.0h.9M513.1 126.5h.9M610.9 158.0h.9M573.8 123.6h.9M549.7 134.8h.9M561.1 134.8h.9M491.7 162.7h.9M612.1 146.2h.9M541.1 128.2h.9M525.8 156.8h.9M593.5 141.5h.9M494.3 164.7h.9M540.4 145.8h.9M540.8 160.6h.9M599.3 142.9h.9M520.0 151.8h.9M552.4 152.3h.9M584.6 163.9h.9M629.2 135.4h.9M606.5 134.6h.9M637.5 118.5h.9M589.1 141.2h.9M620.0 132.5h.9M589.3 142.9h.9M619.8 156.0h.9M571.0 131.8h.9M506.1 122.3h.9M548.2 121.6h.9M515.8 137.0h.9M579.1 147.5h.9M606.1 115.2h.9M537.3 141.4h.9M510.4 143.1h.9M534.7 115.3h.9M587.5 128.7h.9M498.2 112.8h.9M621.3 159.4h.9M479.8 136.9h.9M578.8 127.7h.9M530.3 140.3h.9M488.3 152.5h.9M620.6 114.3h.9M576.3 129.2h.9M487.7 114.1h.9M605.9 126.5h.9M593.4 123.2h.9M567.3 142.1h.9M501.3 112.9h.9M498.2 145.2h.9M561.3 114.7h.9M581.2 137.0h.9M635.8 115.0h.9M576.1 115.8h.9M488.9 123.3h.9M502.0 158.4h.9M521.7 112.2h.9M478.9 143.8h.9M482.3 145.9h.9M600.9 153.2h.9M502.7 144.3h.9M519.6 150.3h.9M529.5 163.8h.9M533.5 135.1h.9M553.3 142.0h.9M524.6 123.7h.9M488.4 162.1h.9M591.3 116.0h.9M479.0 112.4h.9M572.4 152.9h.9M476.6 162.8h.9M583.1 144.7h.9M596.5 148.2h.9M585.7 156.7h.9M493.5 139.3h.9M493.2 136.3h.9M563.3 137.9h.9M641.0 116.8h.9M616.7 142.5h.9M558.2 126.7h.9M602.1 147.3h.9M512.4 161.6h.9M488.2 133.9h.9M618.3 162.9h.9M558.5 124.8h.9M603.3 129.2h.9M479.0 155.0h.9M526.2 131.6h.9M509.9 154.8h.9M631.9 157.2h.9M529.3 138.6h.9M534.2 131.6h.9M584.7 156.8h.9M556.9 140.0h.9M564.5 134.5h.9M589.7 159.1h.9M619.1 136.0h.9M632.1 158.9h.9M612.4 112.5h.9M614.8 135.9h.9M611.1 156.4h.9M505.3 119.0h.9M637.6 133.8h.9M501.5 126.2h.9M482.4 151.7h.9M609.3 144.9h.9M561.1 144.7h.9M567.0 134.2h.9M636.4 138.7h.9M548.2 127.5h.9M566.8 159.2h.9M483.3 145.5h.9M638.7 111.4h.9M546.6 143.8h.9M532.2 162.2h.9M574.4 155.5h.9M518.4 121.3h.9M482.5 159.8h.9M577.4 162.7h.9M572.5 122.2h.9M570.3 138.3h.9M617.2 158.1h.9M479.5 150.2h.9M543.1 121.0h.9M579.2 163.0h.9M482.5 149.6h.9M632.7 154.2h.9M502.2 146.2h.9M627.0 155.7h.9M553.7 153.4h.9M528.8 142.8h.9M594.6 158.7h.9M605.5 135.0h.9M531.8 152.1h.9M577.8 139.6h.9M567.6 118.4h.9M547.0 134.6h.9M502.3 124.4h.9M483.7 145.8h.9M556.3 118.6h.9M629.0 131.4h.9M558.4 140.3h.9M636.1 147.9h.9M550.7 121.9h.9M532.9 119.0h.9M612.5 137.5h.9M587.6 137.8h.9M615.3 141.2h.9M620.8 154.2h.9M593.2 147.4h.9M493.8 127.0h.9M558.0 132.2h.9M564.1 124.3h.9M634.5 154.1h.9M546.3 123.1h.9M636.9 156.5h.9M523.4 138.6h.9M632.8 125.0h.9M540.1 140.4h.9M637.9 115.0h.9M593.4 149.8h.9M530.7 122.9h.9M641.3 129.4h.9M638.5 125.8h.9M489.5 137.9h.9M624.1 148.4h.9M499.6 126.6h.9M555.3 123.0h.9M512.1 136.7h.9M482.0 149.5h.9M619.5 122.4h.9M555.9 121.1h.9M633.9 142.0h.9M639.5 119.2h.9M533.2 151.2h.9M615.5 150.1h.9M631.5 144.7h.9M504.4 164.4h.9M535.4 148.9h.9M628.4 159.2h.9M554.9 160.2h.9M592.6 149.4h.9M507.3 113.7h.9M522.3 142.5h.9M509.3 122.2h.9M607.1 136.6h.9M574.9 123.2h.9M539.4 131.0h.9M569.9 132.8h.9M588.2 139.4h.9M550.2 143.7h.9M505.1 118.1h.9M540.5 142.0h.9M586.4 163.1h.9M528.7 116.0h.9M508.2 124.8h.9M486.0 111.7h.9M570.1 163.4h.9M620.9 156.2h.9M618.7 119.3h.9M478.3 164.8h.9M507.5 114.9h.9M549.7 156.4h.9M640.8 112.2h.9M606.1 159.9h.9M511.1 131.8h.9M569.9 152.9h.9M524.7 164.5h.9M578.2 147.1h.9M639.9 121.5h.9M574.6 120.2h.9M510.0 128.0h.9M519.7 122.7h.9M571.1 134.4h.9M598.9 123.8h.9M539.9 140.8h.9M594.5 116.8h.9M483.6 161.8h.9M552.3 116.8h.9M588.3 135.8h.9M534.1 151.6h.9M539.5 115.2h.9M626.6 143.3h.9M563.2 161.6h.9M503.0 141.0h.9M613.9 163.8h.9M599.7 156.8h.9M582.1 149.5h.9M600.8 152.3h.9M509.4 134.0h.9M622.5 138.0h.9M600.2 123.1h.9M620.5 138.0h.9M604.8 126.0h.9M536.9 111.9h.9M506.2 162.1h.9M555.9 125.6h.9M508.3 163.7h.9M578.3 130.8h.9M548.1 125.4h.9M609.2 130.7h.9M535.4 118.8h.9M477.3 142.6h.9M520.6 139.5h.9M480.8 142.9h.9M631.0 143.0h.9M574.3 141.6h.9M604.6 148.5h.9M574.5 114.2h.9M567.3 113.0h.9M550.5 152.5h.9M586.4 124.6h.9M520.0 128.9h.9M540.8 120.0h.9M628.3 131.4h.9M494.6 123.5h.9M602.2 147.5h.9M637.7 160.3h.9M497.3 162.4h.9M504.7 115.7h.9M552.9 159.0h.9M519.1 164.9h.9M571.7 120.6h.9M600.9 113.5h.9M487.4 119.5h.9M629.0 149.9h.9M640.0 118.6h.9M490.7 140.0h.9M565.4 158.6h.9M588.1 156.4h.9M618.3 144.4h.9M516.4 144.3h.9M593.8 114.4h.9M571.1 162.3h.9M565.9 114.9h.9M508.9 141.4h.9M599.4 113.5h.9M479.0 154.2h.9M486.5 160.1h.9M590.0 134.5h.9M616.1 157.9h.9M612.2 164.3h.9M576.1 154.1h.9M567.4 128.4h.9M627.6 146.5h.9M490.6 111.2h.9M596.0 126.2h.9M519.3 153.0h.9M561.1 118.4h.9M559.5 160.9h.9M582.4 126.4h.9M553.8 113.0h.9M489.6 145.3h.9M534.9 136.2h.9M583.2 151.2h.9M604.6 119.4h.9M534.5 149.1h.9M582.8 162.2h.9M499.7 142.7h.9M559.4 147.0h.9M512.1 148.2h.9M568.3 118.2h.9M553.4 134.0h.9M570.5 138.0h.9M596.6 157.1h.9M607.4 158.3h.9M561.0 118.1h.9M582.5 164.8h.9M639.1 113.2h.9M545.2 128.5h.9M628.4 134.9h.9M513.5 154.4h.9M571.2 111.7h.9M500.8 124.4h.9M500.8 162.7h.9M561.4 162.1h.9M508.7 157.4h.9M571.9 144.7h.9M615.7 158.1h.9M628.3 141.3h.9M478.1 145.9h.9M495.0 126.2h.9M570.7 142.7h.9M498.4 153.9h.9M575.1 118.0h.9M593.3 124.7h.9M488.0 147.5h.9M570.3 142.3h.9M633.2 144.7h.9M478.3 127.9h.9M634.4 162.1h.9M555.5 161.7h.9M559.8 120.0h.9M553.3 127.4h.9M611.2 126.8h.9M627.6 121.8h.9M514.3 141.9h.9M609.4 116.8h.9M506.4 123.9h.9M536.2 131.4h.9M497.4 156.4h.9M552.2 161.5h.9M600.6 126.3h.9M553.1 164.6h.9M515.0 126.5h.9M622.4 134.4h.9M638.9 117.1h.9M637.3 128.5h.9M533.9 134.9h.9M480.8 129.5h.9M516.7 164.6h.9M572.4 131.9h.9M528.9 130.7h.9M500.7 124.4h.9M616.7 117.0h.9M621.4 134.8h.9M583.1 132.0h.9M595.1 130.1h.9M515.2 145.4h.9M476.0 153.3h.9M517.1 119.2h.9M526.0 114.5h.9M558.8 113.4h.9M612.7 157.8h.9M544.3 156.6h.9M599.5 143.5h.9M536.2 118.6h.9M565.2 148.9h.9M607.6 162.1h.9M591.6 117.6h.9M552.0 149.4h.9M505.8 111.2h.9M596.2 152.5h.9M616.7 158.7h.9M608.4 130.7h.9M536.7 142.7h.9M558.9 134.9h.9M544.0 122.8h.9M516.5 162.9h.9M620.6 146.9h.9M488.5 118.8h.9M534.6 121.4h.9M504.4 160.1h.9M540.0 144.8h.9M640.3 124.6h.9M498.2 157.2h.9M489.0 147.6h.9M542.3 116.3h.9M550.8 131.7h.9M598.2 162.2h.9M477.4 157.0h.9M508.4 161.4h.9M493.3 143.7h.9M538.8 146.3h.9M557.3 143.7h.9M575.9 163.4h.9M554.8 152.5h.9M576.9 146.7h.9M636.0 157.3h.9M634.8 156.6h.9M619.8 151.1h.9M599.9 118.2h.9M515.0 137.2h.9M564.0 138.2h.9M627.5 147.7h.9M545.3 127.9h.9M572.1 130.7h.9M526.2 120.7h.9M482.7 150.1h.9M545.2 135.7h.9M594.1 163.5h.9M588.2 120.2h.9M630.8 130.1h.9M557.1 156.4h.9M487.7 147.5h.9M586.8 119.5h.9M622.7 156.0h.9M526.2 148.3h.9M482.3 136.9h.9M622.4 136.1h.9M543.9 154.3h.9M601.9 139.6h.9M595.2 136.8h.9M616.9 159.3h.9M596.2 151.4h.9M480.1 160.8h.9M573.9 138.8h.9M603.7 133.4h.9M616.1 128.9h.9M606.9 125.9h.9M628.1 120.3h.9M509.4 138.7h.9M637.7 121.2h.9M639.8 138.6h.9M598.7 119.2h.9M568.3 112.4h.9M532.4 156.7h.9M553.7 162.9h.9M591.8 151.5h.9M555.9 120.8h.9M624.0 122.0h.9M627.5 113.2h.9M511.0 128.3h.9M548.6 134.8h.9M580.3 115.7h.9M498.6 112.0h.9M555.7 147.1h.9M637.7 125.0h.9M491.4 112.3h.9M591.4 124.4h.9M607.4 134.2h.9M516.0 129.7h.9M567.8 147.9h.9M540.0 157.9h.9M585.7 118.3h.9M581.2 129.4h.9M638.7 127.9h.9M578.2 128.6h.9M573.2 112.2h.9M498.7 125.7h.9M591.8 162.3h.9M638.2 130.7h.9M567.1 139.6h.9M533.0 153.8h.9M475.8 158.8h.9M515.1 164.8h.9M477.6 125.4h.9M543.5 111.6h.9M489.8 152.9h.9M600.3 160.3h.9M626.8 124.5h.9M482.5 150.3h.9M608.7 127.4h.9M502.5 133.8h.9M531.8 158.7h.9M606.0 162.5h.9M507.4 158.1h.9M580.3 132.7h.9M519.8 146.7h.9M632.4 157.1h.9M564.6 120.2h.9M522.4 152.8h.9M586.4 130.9h.9M640.9 132.3h.9M491.4 141.0h.9M482.0 136.0h.9M564.3 140.1h.9M566.5 134.5h.9M575.9 125.1h.9M573.7 151.5h.9M551.2 134.7h.9M565.2 123.9h.9M545.2 144.8h.9M495.8 157.0h.9M629.6 141.8h.9M556.4 156.1h.9M503.9 142.9h.9M508.2 128.8h.9M548.7 128.0h.9M512.4 155.3h.9M613.9 135.3h.9M547.0 153.3h.9M568.2 112.1h.9M594.4 114.3h.9M592.4 156.4h.9M519.5 142.8h.9M479.3 125.8h.9M634.9 139.5h.9M603.1 139.7h.9M499.5 154.9h.9M507.1 132.2h.9M610.5 163.7h.9M612.1 111.6h.9M557.8 139.1h.9M585.5 148.7h.9M574.0 134.1h.9M524.1 114.7h.9M584.4 145.1h.9M568.4 142.4h.9M496.8 126.0h.9M492.7 139.9h.9M546.8 143.5h.9M565.2 154.0h.9M533.0 131.7h.9M483.8 150.3h.9M581.0 136.5h.9M636.4 153.8h.9M537.8 113.8h.9M606.3 137.4h.9M537.6 113.4h.9M589.5 124.4h.9M553.2 151.7h.9M480.1 150.9h.9M483.2 155.8h.9M592.5 148.0h.9M543.9 116.5h.9M634.0 118.7h.9M594.5 118.2h.9M622.2 115.6h.9M500.7 124.1h.9M500.5 149.2h.9M613.2 113.7h.9M489.2 160.9h.9M537.4 125.5h.9M606.3 137.1h.9M629.8 135.6h.9M539.5 122.0h.9M507.2 155.1h.9M482.3 129.6h.9M531.2 144.4h.9M558.8 143.4h.9M494.7 114.1h.9M526.2 141.9h.9M513.6 147.0h.9M606.8 113.4h.9M585.6 159.9h.9M555.0 141.7h.9M603.0 164.5h.9M588.7 141.5h.9M578.8 146.1h.9M637.2 137.8h.9M559.3 151.9h.9M589.4 143.1h.9M475.9 154.3h.9M485.3 162.5h.9M601.9 138.6h.9M534.3 141.5h.9M501.2 155.7h.9M582.8 164.5h.9M500.0 123.0h.9M485.8 151.6h.9M512.5 161.5h.9M521.6 115.8h.9M513.1 160.9h.9M564.1 121.3h.9M625.4 125.3h.9M627.5 112.2h.9M624.7 117.5h.9M614.9 119.1h.9M478.5 122.7h.9M530.8 130.7h.9M479.8 139.1h.9M592.5 113.3h.9M492.1 131.9h.9M551.8 153.4h.9M533.9 116.7h.9M539.3 117.3h.9M564.6 142.5h.9M526.0 147.5h.9M534.7 154.8h.9M574.9 116.3h.9M618.8 152.6h.9M553.1 120.2h.9M477.3 155.6h.9M487.5 143.7h.9M586.0 131.5h.9M512.4 120.8h.9M477.7 159.8h.9M541.2 125.4h.9M506.1 149.4h.9M609.6 163.1h.9M564.3 120.0h.9M562.2 163.9h.9M535.9 114.7h.9M574.4 142.7h.9M542.7 138.5h.9M483.4 155.1h.9M494.0 122.8h.9M489.4 160.2h.9M520.0 131.8h.9M538.4 142.6h.9M545.1 138.9h.9M616.9 156.7h.9M619.9 153.6h.9M534.8 124.5h.9M505.4 126.6h.9M485.3 118.6h.9M617.9 114.8h.9M600.4 162.9h.9M599.0 151.5h.9M639.5 147.8h.9M639.2 162.5h.9M483.1 157.1h.9M561.7 123.9h.9M493.9 121.9h.9M528.1 112.7h.9M518.9 115.3h.9M527.1 137.4h.9M580.1 123.7h.9M582.3 147.8h.9M496.6 117.4h.9M550.0 136.9h.9M616.5 137.6h.9M506.9 124.2h.9M552.8 123.9h.9M571.6 149.9h.9M478.0 126.0h.9M612.1 160.6h.9M627.0 117.5h.9M544.5 153.4h.9M634.9 142.1h.9M572.6 159.4h.9M598.3 113.8h.9M588.2 133.9h.9M492.4 128.8h.9M576.8 164.1h.9M566.2 162.8h.9M506.2 119.2h.9M535.0 164.8h.9M518.0 114.8h.9M514.4 112.8h.9M554.3 125.7h.9M593.4 121.5h.9M638.9 127.3h.9M526.8 138.1h.9M616.5 141.1h.9M622.6 138.6h.9M591.1 134.1h.9M540.9 142.0h.9M641.1 116.5h.9M583.1 128.3h.9M518.6 137.9h.9M537.4 134.8h.9M479.6 125.4h.9M576.9 130.9h.9M503.6 114.9h.9M620.2 116.6h.9M522.0 164.2h.9M605.2 162.2h.9M593.7 153.7h.9M515.2 158.7h.9M624.3 145.4h.9M500.2 119.4h.9M514.3 128.4h.9M639.7 139.9h.9M609.2 119.3h.9M607.8 136.3h.9M559.3 129.6h.9M626.4 145.2h.9M624.8 150.4h.9M610.2 137.3h.9M506.9 127.0h.9M481.9 139.6h.9M525.4 161.2h.9M598.6 141.3h.9M639.9 133.6h.9M547.8 119.6h.9M598.9 120.1h.9M524.7 120.2h.9M555.3 138.7h.9M481.1 135.1h.9M480.1 123.0h.9M505.6 126.8h.9M636.9 151.0h.9M587.3 123.0h.9M621.7 111.5h.9M540.6 133.5h.9M520.4 163.1h.9M532.0 113.1h.9M491.1 140.6h.9M542.6 158.3h.9M510.6 123.8h.9M516.3 130.7h.9M530.0 155.2h.9M636.8 120.6h.9M553.9 157.7h.9M633.8 162.5h.9M615.6 145.7h.9M508.9 161.6h.9M495.2 145.2h.9M629.1 129.4h.9M533.2 164.3h.9M575.2 113.0h.9M490.0 136.9h.9M605.3 140.8h.9M477.1 156.1h.9M500.5 155.9h.9M578.6 111.2h.9M600.6 133.0h.9M636.9 122.8h.9M528.4 152.9h.9M584.8 162.6h.9M525.5 136.2h.9M622.7 117.8h.9M593.8 143.2h.9M501.9 113.4h.9M532.1 135.2h.9M557.4 150.1h.9M615.2 116.6h.9M615.3 115.7h.9M601.4 163.6h.9M624.7 122.3h.9M520.7 125.9h.9M586.2 132.6h.9M592.1 157.0h.9M618.4 146.3h.9M613.2 163.6h.9M598.4 158.2h.9M504.6 133.0h.9M544.2 144.4h.9M482.0 157.3h.9M494.2 144.2h.9M527.5 147.9h.9M624.8 129.6h.9M607.6 163.2h.9M489.0 139.1h.9M616.8 150.5h.9M562.7 135.1h.9M493.9 141.9h.9M601.6 140.7h.9M516.5 124.2h.9M529.5 152.5h.9M589.8 121.4h.9M529.6 163.5h.9M599.7 151.9h.9M626.5 116.4h.9M518.7 144.1h.9M605.5 116.6h.9M547.9 115.3h.9M606.7 136.3h.9M603.0 126.9h.9M548.4 121.3h.9M517.3 116.3h.9M510.1 116.7h.9M605.4 125.6h.9M503.1 140.8h.9M496.6 120.3h.9M531.3 143.7h.9M517.6 123.4h.9M592.0 148.0h.9M614.4 134.8h.9M561.6 133.2h.9M559.2 157.7h.9M524.7 142.6h.9M582.9 150.4h.9M476.2 127.6h.9M527.4 115.8h.9M539.5 132.4h.9M489.4 129.6h.9M533.0 129.7h.9M564.8 157.5h.9M606.3 124.3h.9M622.7 114.9h.9M584.0 121.2h.9M559.2 123.8h.9M605.2 132.3h.9M546.7 164.1h.9M513.8 135.6h.9M530.5 124.3h.9M514.1 133.6h.9M570.0 115.5h.9M551.7 153.8h.9M559.3 134.7h.9M497.3 144.6h.9M574.1 117.8h.9M583.5 138.1h.9M532.2 137.7h.9M545.9 113.5h.9M516.4 152.7h.9M638.1 164.1h.9M572.6 129.3h.9M480.0 136.9h.9M485.4 142.7h.9M599.1 164.7h.9M567.9 158.4h.9M563.2 154.6h.9M589.3 136.3h.9M547.4 130.9h.9M536.0 117.5h.9M527.5 130.1h.9M546.7 126.4h.9M524.3 136.9h.9M483.4 128.1h.9M524.3 127.8h.9M573.0 119.1h.9M532.7 133.6h.9M495.4 160.9h.9M507.4 133.9h.9M566.5 150.4h.9M507.7 124.0h.9M488.8 143.1h.9M611.5 155.4h.9M595.0 151.6h.9M621.5 124.6h.9M531.5 149.4h.9M599.0 141.8h.9M588.5 151.9h.9M544.8 112.0h.9M534.3 135.2h.9M479.7 163.6h.9M478.6 144.0h.9M587.2 135.6h.9M500.6 144.4h.9M576.1 118.2h.9M535.5 153.6h.9M483.4 139.2h.9M602.2 133.6h.9M539.7 140.9h.9M498.9 133.8h.9M582.8 116.0h.9M588.8 149.9h.9M612.3 113.9h.9M603.8 115.6h.9M546.3 153.6h.9M527.6 149.7h.9M482.8 158.0h.9M532.0 150.2h.9M549.3 150.2h.9M479.6 131.7h.9M569.7 144.3h.9M560.0 157.1h.9M498.6 114.8h.9M507.5 150.1h.9M595.3 158.0h.9M623.9 152.6h.9M480.5 123.4h.9M630.4 115.3h.9M614.1 122.4h.9M558.0 151.5h.9M508.1 140.2h.9M500.6 118.4h.9M563.9 147.5h.9M605.6 134.4h.9M570.7 158.4h.9M598.5 164.6h.9M588.9 134.8h.9M481.0 116.8h.9M518.4 157.6h.9M630.1 119.1h.9M536.3 124.2h.9M485.5 164.4h.9M608.6 157.3h.9M637.9 139.9h.9M621.6 117.1h.9M591.7 124.5h.9M604.3 138.3h.9M528.0 157.5h.9M536.5 142.0h.9M516.1 145.1h.9M575.9 126.2h.9M563.7 155.3h.9M501.4 157.9h.9M599.5 147.3h.9M522.3 118.9h.9M566.4 129.1h.9M615.8 141.5h.9M495.1 141.2h.9M598.8 135.6h.9M553.6 131.4h.9M628.4 164.1h.9M565.3 124.9h.9M529.2 113.7h.9M565.4 153.7h.9M519.4 134.1h.9M527.6 154.0h.9M543.9 149.1h.9M549.0 119.4h.9M587.2 126.2h.9M501.5 133.8h.9M640.2 116.8h.9M549.5 159.4h.9M537.7 125.0h.9M539.3 130.6h.9M499.3 164.5h.9M575.4 145.9h.9M544.7 132.0h.9M501.8 154.6h.9M555.4 120.3h.9M484.2 133.1h.9M575.1 144.6h.9M511.9 160.8h.9M485.2 145.0h.9M605.1 132.6h.9M593.0 149.5h.9M571.0 157.9h.9M506.6 130.8h.9M542.3 161.2h.9M533.2 117.9h.9M608.5 153.9h.9M625.1 154.3h.9M629.8 150.8h.9M618.8 112.5h.9M555.0 142.7h.9M631.7 138.7h.9M635.6 114.2h.9M492.3 139.3h.9M549.2 132.1h.9M495.4 133.5h.9M495.5 126.1h.9M502.1 150.5h.9M512.9 116.2h.9M615.7 151.7h.9M582.8 155.7h.9M564.7 140.4h.9M510.1 125.7h.9M490.4 146.4h.9M592.8 129.6h.9M568.7 131.4h.9M494.0 137.7h.9M589.7 162.1h.9M528.0 111.5h.9M601.4 122.2h.9M501.1 161.6h.9M485.8 153.4h.9M564.6 163.7h.9M530.0 163.8h.9M573.5 148.0h.9M542.5 113.3h.9M525.1 159.3h.9M630.6 116.6h.9M544.4 136.3h.9M591.7 163.8h.9M626.1 162.4h.9M595.4 124.5h.9M625.7 145.5h.9M580.7 143.6h.9M638.1 129.7h.9M578.2 162.5h.9M609.5 153.0h.9M590.6 128.4h.9M510.6 125.3h.9M520.6 127.6h.9M563.5 139.1h.9M588.2 127.8h.9M547.4 113.5h.9M563.9 116.1h.9M583.8 113.7h.9M502.3 139.7h.9M495.6 129.8h.9M629.8 121.3h.9M516.5 156.7h.9M563.1 118.0h.9M481.1 140.9h.9M637.7 115.5h.9M582.7 164.2h.9M523.3 112.1h.9M544.2 130.8h.9M532.3 123.6h.9M571.5 153.6h.9M529.0 121.1h.9M579.1 119.5h.9M635.6 127.1h.9M492.4 149.3h.9M489.2 141.1h.9M639.6 116.9h.9M554.8 113.0h.9M633.6 133.1h.9M637.2 164.5h.9M490.2 153.1h.9M540.0 128.1h.9M499.8 163.3h.9M575.0 124.8h.9M617.0 140.6h.9M621.5 161.6h.9M595.6 162.5h.9M634.4 128.8h.9M557.6 115.7h.9M537.2 115.9h.9M625.8 146.8h.9M493.1 151.7h.9M501.4 131.8h.9M570.4 116.7h.9M591.3 130.7h.9M572.3 113.8h.9M499.2 150.9h.9M534.2 133.7h.9M536.1 160.8h.9M509.2 121.4h.9M528.0 131.1h.9M617.3 125.8h.9M555.1 120.5h.9M521.7 134.0h.9M551.4 114.2h.9M593.0 137.6h.9M510.9 146.3h.9M490.2 158.2h.9M509.3 143.1h.9M629.4 120.4h.9M641.3 120.0h.9M590.7 147.6h.9M631.9 124.9h.9M586.9 120.8h.9M553.6 164.0h.9M588.3 141.0h.9M609.8 112.0h.9M555.7 127.6h.9M573.6 116.9h.9M517.5 128.1h.9M524.6 161.5h.9M508.8 112.8h.9M555.8 157.7h.9M606.8 161.0h.9M494.7 126.7h.9M546.3 142.5h.9M528.3 130.3h.9M585.7 145.6h.9M492.5 131.8h.9M600.7 119.4h.9M561.9 144.4h.9M519.4 164.8h.9M485.3 141.4h.9M491.9 151.6h.9M539.3 125.3h.9M527.9 150.3h.9M628.4 149.7h.9M534.0 160.8h.9M580.8 120.8h.9M515.1 113.9h.9M607.9 115.4h.9M620.5 142.9h.9M557.1 113.9h.9M639.4 145.9h.9M543.4 155.9h.9M594.6 152.3h.9M546.9 141.2h.9M482.8 139.3h.9M584.2 116.3h.9M497.9 116.9h.9M500.0 133.5h.9M536.5 163.6h.9M517.4 158.1h.9M489.7 146.1h.9M590.3 162.3h.9M560.9 136.6h.9M558.9 144.9h.9M574.6 130.9h.9M606.3 142.3h.9M585.5 133.3h.9M606.7 156.2h.9M542.4 123.2h.9M515.2 140.4h.9M603.8 146.7h.9M634.4 126.8h.9M492.1 125.1h.9M487.1 121.7h.9M619.5 123.9h.9M553.0 149.0h.9M607.0 160.7h.9M503.3 148.6h.9M566.4 127.4h.9M543.1 138.6h.9M511.6 135.0h.9M542.4 123.7h.9M605.2 133.7h.9M617.5 133.1h.9M542.3 164.7h.9M492.3 155.0h.9M524.9 155.6h.9M584.1 145.9h.9M527.1 127.7h.9M600.8 124.3h.9M631.8 115.3h.9M542.2 143.8h.9M480.5 146.3h.9M487.5 143.5h.9M508.7 164.2h.9M609.6 137.1h.9M606.0 140.8h.9M580.3 115.5h.9M548.5 134.2h.9M499.0 144.8h.9M618.4 158.7h.9M497.6 120.8h.9M605.3 129.2h.9M556.8 141.7h.9M623.9 142.4h.9" stroke="#f41010" stroke-opacity="0.72" stroke-width="0.9"/>
<rect x="475.3" y="28.5" width="167.2" height="136.9" fill="none" stroke="#808080" stroke-width="1"/>
<path d="M29.5 186.5h3.2M197 186.5h-3.2M29.5 206.5h3.2M197 206.5h-3.2" stroke="#686868" stroke-width="0.8" fill="none"/>
<path d="M28.7 247.95h3.2M197 247.95h-3.2M112.85 228.5v3.2M112.85 267.4v-3.2" stroke="#686868" stroke-width="0.8" fill="none"/>
<path d="M255.4 200h3.2M422.5 200h-3.2" stroke="#686868" stroke-width="0.8" fill="none"/>
<path d="M254.7 251h3.2M422.9 251h-3.2M338.8 228.5v3.2M338.8 267.5v-3.2" stroke="#686868" stroke-width="0.8" fill="none"/>
<path d="M475.4 186.7h3.2M642.5 186.7h-3.2M475.4 206.7h3.2M642.5 206.7h-3.2M558.95 176.7v3.2M558.95 216.7v-3.2" stroke="#686868" stroke-width="0.8" fill="none"/>
<path d="M474.7 247.5h3.2M642.2 247.5h-3.2M558.45 228.1v3.2M558.45 266.9v-3.2" stroke="#686868" stroke-width="0.8" fill="none"/>
<path d="M29.5 196.8C57.4 196.8 169.0 196.8 196.9 196.8" fill="none" stroke="#111" stroke-width="1.5" stroke-linejoin="round"/>
<path d="M29.5 196.6C37.9 196.6 64.9 196.5 80.0 196.5C95.1 196.5 106.7 196.8 120.0 196.8C133.3 196.8 147.2 196.5 160.0 196.5C172.8 196.5 190.8 196.6 196.9 196.6" fill="none" stroke="#1a8a1a" stroke-width="1.5" stroke-linejoin="round"/>
<path d="M29.0 231.2C34.2 231.3 48.2 231.8 60.0 231.8C71.8 231.8 86.7 231.2 100.0 231.2C113.3 231.2 126.7 231.4 140.0 231.6C153.3 231.8 170.5 232.5 180.0 232.4C189.5 232.3 194.2 231.4 197.0 231.2" fill="none" stroke="#111" stroke-width="1.6" stroke-linejoin="round"/>
<path d="M29.0 231.3C34.2 231.4 48.2 231.6 60.0 231.6C71.8 231.6 86.7 231.1 100.0 231.1C113.3 231.1 126.7 231.4 140.0 231.5C153.3 231.6 170.5 231.9 180.0 231.8C189.5 231.8 194.2 231.3 197.0 231.2" fill="none" stroke="#1a8a1a" stroke-width="1.5" stroke-linejoin="round"/>
<path d="M255.4 211.5C283.2 211.5 394.6 211.5 422.5 211.5" fill="none" stroke="#111" stroke-width="1.8" stroke-linejoin="round"/>
<path d="M255.4 189.5C256.2 189.4 258.5 189.0 260.2 189.2C261.9 189.4 264.1 190.1 265.8 190.5C267.5 190.9 268.7 191.5 270.6 191.6C272.5 191.7 275.1 191.4 277.0 191.1C278.9 190.8 280.2 190.5 281.8 190.0C283.4 189.5 284.9 188.7 286.5 188.1C288.1 187.5 289.8 186.7 291.3 186.3C292.8 185.9 293.7 186.1 295.3 185.8C296.9 185.5 298.9 184.9 300.9 184.4C302.9 183.9 305.4 183.2 307.3 183.1C309.2 183.0 310.5 183.6 312.1 183.9C313.7 184.2 315.3 185.0 316.9 185.2C318.5 185.4 320.1 185.3 321.7 185.2C323.3 185.1 324.6 184.4 326.5 184.5C328.4 184.6 330.6 185.3 332.9 185.5C335.1 185.7 337.5 185.3 340.0 185.5C342.5 185.7 345.3 186.2 348.0 186.5C350.7 186.8 352.8 187.2 356.0 187.6C359.2 188.0 364.0 188.8 367.2 188.9C370.4 189.0 372.5 188.1 375.1 188.1C377.8 188.1 380.7 189.0 383.1 188.9C385.5 188.8 387.4 187.7 389.5 187.3C391.6 187.0 393.8 186.7 395.9 186.8C398.0 186.9 400.3 187.6 402.3 188.1C404.3 188.6 406.0 190.0 407.9 190.0C409.8 190.0 411.8 188.7 413.5 188.1C415.2 187.5 416.8 186.7 418.3 186.3C419.8 186.0 421.8 186.1 422.5 186.0" fill="none" stroke="#1a8a1a" stroke-width="1.7" stroke-linejoin="round"/>
<path d="M254.7 247.3C255.5 247.5 257.8 247.6 259.2 248.4C260.7 249.2 261.9 251.4 263.2 252.3C264.5 253.2 265.9 254.2 267.1 253.9C268.3 253.7 269.2 252.5 270.2 250.8C271.2 249.1 272.1 245.4 273.3 243.8C274.5 242.1 275.8 241.1 277.2 240.9C278.6 240.7 280.3 242.0 281.9 242.5C283.5 243.0 284.9 243.3 286.6 243.8C288.3 244.2 290.4 244.6 292.1 245.0C293.8 245.4 295.2 246.0 296.8 246.1C298.3 246.2 300.1 245.6 301.4 245.8C302.7 246.0 303.4 246.4 304.6 247.2C305.8 248.0 307.1 249.6 308.5 250.8C309.9 252.0 311.8 253.9 313.2 254.2C314.6 254.5 315.6 253.8 317.1 252.8C318.7 251.8 320.9 248.9 322.5 248.4C324.1 247.9 325.0 249.1 326.4 250.0C327.8 250.9 329.3 253.0 331.1 253.9C332.9 254.8 335.8 255.1 337.4 255.5C339.0 255.9 339.3 256.4 340.5 256.2C341.7 256.1 343.1 255.4 344.7 254.7C346.3 254.0 348.4 251.9 350.2 251.9C352.0 251.9 353.9 253.7 355.6 254.4C357.3 255.1 358.7 256.2 360.3 255.9C361.9 255.6 363.4 253.7 365.0 252.3C366.6 250.9 368.4 248.3 369.7 247.3C371.0 246.3 371.5 246.0 372.8 246.1C374.1 246.2 375.9 247.8 377.5 248.1C379.1 248.4 380.6 247.9 382.2 247.7C383.8 247.5 385.1 246.8 386.9 246.9C388.7 247.0 391.0 247.8 393.1 248.4C395.2 249.1 397.6 250.1 399.4 250.8C401.2 251.5 402.4 253.1 404.0 252.8C405.6 252.5 407.2 250.6 408.8 249.2C410.3 247.8 411.8 245.5 413.4 244.5C415.0 243.5 416.5 243.2 418.1 243.0C419.7 242.8 422.1 243.0 422.9 243.0" fill="none" stroke="#111" stroke-width="1.8" stroke-linejoin="round"/>
<path d="M254.7 247.3C255.7 247.2 259.1 246.8 260.8 246.9C262.5 247.0 263.4 247.5 264.7 248.1C266.0 248.7 267.4 249.9 268.6 250.5C269.8 251.1 270.6 251.6 271.8 251.6C272.9 251.6 274.3 250.1 275.7 250.5C277.1 250.9 278.8 252.6 280.3 253.9C281.9 255.2 283.4 257.6 285.0 258.1C286.6 258.6 288.3 257.6 289.7 257.0C291.1 256.4 292.3 254.9 293.6 254.4C294.9 253.9 296.2 254.4 297.5 253.9C298.8 253.4 300.0 252.9 301.4 251.6C302.8 250.3 304.5 247.5 306.1 246.1C307.7 244.7 309.0 244.2 310.8 243.4C312.6 242.6 315.0 241.8 317.1 241.1C319.2 240.4 321.2 239.7 323.3 239.1C325.4 238.5 328.0 237.6 329.6 237.5C331.2 237.4 331.4 237.5 332.7 238.3C334.0 239.1 336.1 241.2 337.4 242.2C338.7 243.2 339.3 243.9 340.5 244.2C341.7 244.5 343.0 244.3 344.7 244.0C346.4 243.7 349.1 242.4 350.9 242.5C352.7 242.6 353.8 243.8 355.6 244.5C357.4 245.2 359.8 246.3 361.9 246.9C364.0 247.5 365.8 248.2 368.1 248.1C370.4 248.0 373.5 246.0 375.9 246.1C378.2 246.2 380.1 247.8 382.2 248.4C384.3 249.0 386.3 249.7 388.4 249.7C390.5 249.7 392.6 249.1 394.7 248.4C396.8 247.7 399.1 245.3 400.9 245.3C402.7 245.3 404.2 247.0 405.6 248.4C407.0 249.8 408.3 252.7 409.5 253.9C410.7 255.2 411.4 256.3 412.7 255.9C414.0 255.5 415.6 253.1 417.3 251.6C419.0 250.1 422.0 247.7 422.9 246.9" fill="none" stroke="#1a8a1a" stroke-width="1.8" stroke-linejoin="round"/>
<path d="M475.4 197.0C503.2 197.0 614.6 197.0 642.5 197.0" fill="none" stroke="#111" stroke-width="1.5" stroke-linejoin="round"/>
<path d="M475.4 197.0C476.0 197.3 477.5 198.3 478.8 198.7C480.1 199.1 481.6 199.3 483.0 199.2C484.4 199.0 485.8 198.4 487.2 197.8C488.6 197.2 490.1 196.2 491.3 195.8C492.6 195.5 493.3 195.5 494.7 195.7C496.1 195.8 497.8 196.5 499.7 196.7C501.6 196.9 504.4 196.9 506.3 197.0C508.2 197.1 509.4 197.4 511.3 197.3C513.2 197.2 516.0 196.5 518.0 196.5C520.0 196.5 521.3 197.4 523.0 197.3C524.7 197.2 526.6 196.1 528.0 195.7C529.4 195.3 529.9 194.7 531.3 194.8C532.7 194.9 534.3 195.8 536.3 196.2C538.2 196.6 541.0 197.2 543.0 197.3C545.0 197.4 546.3 196.8 548.0 196.5C549.7 196.2 551.3 195.3 553.0 195.3C554.7 195.3 556.0 196.2 558.0 196.7C560.0 197.2 562.7 198.3 565.0 198.3C567.3 198.3 569.5 196.9 571.7 196.7C573.9 196.5 576.4 196.8 578.3 197.0C580.2 197.2 581.3 198.2 583.3 198.2C585.2 198.2 588.0 197.2 590.0 197.0C592.0 196.8 593.0 197.0 595.0 197.3C597.0 197.6 599.5 198.9 601.7 199.0C603.9 199.1 606.1 197.5 608.3 197.8C610.5 198.1 613.0 200.5 615.0 200.7C617.0 200.8 618.5 199.4 620.0 198.7C621.5 198.0 622.8 196.8 624.2 196.5C625.6 196.2 626.8 196.7 628.3 197.0C629.8 197.3 631.6 198.1 633.3 198.2C635.0 198.2 636.8 197.5 638.3 197.3C639.8 197.1 641.8 197.1 642.5 197.0" fill="none" stroke="#1a8a1a" stroke-width="1.5" stroke-linejoin="round"/>
<path d="M474.7 254.5C475.4 254.4 477.4 253.9 478.8 254.2C480.2 254.5 481.5 255.5 483.0 256.2C484.5 256.9 486.3 258.2 488.0 258.2C489.7 258.2 491.3 256.5 493.0 256.2C494.7 255.9 496.3 256.3 498.0 256.2C499.7 256.1 501.3 256.0 503.0 255.8C504.7 255.6 506.3 254.9 508.0 255.0C509.7 255.1 511.3 256.0 513.0 256.5C514.7 257.0 516.0 258.0 518.0 258.2C520.0 258.4 522.8 258.0 524.7 257.8C526.7 257.6 527.8 257.4 529.7 257.0C531.6 256.6 534.4 255.8 536.3 255.7C538.2 255.6 539.6 256.0 541.3 256.3C543.0 256.6 544.6 257.4 546.3 257.5C548.0 257.6 549.6 257.2 551.3 257.0C553.0 256.8 554.8 256.4 556.3 256.2C557.8 256.0 558.3 255.7 560.0 255.8C561.7 255.9 564.5 257.0 566.7 257.0C568.9 257.0 571.1 255.7 573.3 255.8C575.5 255.9 577.8 257.7 580.0 257.8C582.2 257.9 584.5 256.9 586.7 256.7C588.9 256.5 591.1 256.6 593.3 256.7C595.5 256.8 597.5 257.2 600.0 257.5C602.5 257.8 606.1 258.2 608.3 258.3C610.5 258.4 611.3 257.5 613.3 257.8C615.2 258.1 618.0 259.9 620.0 260.0C622.0 260.1 623.3 258.7 625.0 258.3C626.7 257.9 628.0 257.4 630.0 257.5C632.0 257.6 634.7 258.2 636.7 258.7C638.7 259.2 641.3 260.0 642.2 260.3" fill="none" stroke="#111" stroke-width="1.5" stroke-linejoin="round"/>
<path d="M474.7 257.0C475.5 256.9 478.0 256.6 479.7 256.2C481.4 255.8 483.0 254.9 484.7 254.7C486.4 254.4 488.0 254.5 489.7 254.7C491.4 254.9 492.8 255.4 494.7 255.7C496.6 255.9 498.8 256.1 501.3 256.2C503.8 256.3 507.5 256.0 509.7 256.2C511.9 256.4 513.0 256.9 514.7 257.3C516.4 257.7 517.8 258.7 519.7 258.7C521.6 258.7 524.4 257.7 526.3 257.5C528.2 257.3 529.6 257.4 531.3 257.5C533.0 257.6 534.3 258.1 536.3 258.2C538.2 258.3 540.5 258.3 543.0 258.3C545.5 258.3 548.8 258.0 551.3 258.3C553.8 258.6 556.5 259.7 558.0 260.0C559.5 260.3 558.5 260.5 560.0 260.3C561.5 260.1 564.5 259.6 566.7 259.0C568.9 258.4 571.1 256.9 573.3 257.0C575.5 257.1 577.8 259.4 580.0 259.5C582.2 259.6 584.5 257.4 586.7 257.3C588.9 257.2 591.1 258.8 593.3 259.0C595.5 259.2 597.8 258.8 600.0 258.7C602.2 258.6 604.5 258.8 606.7 258.7C608.9 258.6 611.1 258.7 613.3 258.3C615.5 257.9 617.8 256.4 620.0 256.2C622.2 256.0 624.5 257.0 626.7 257.3C628.9 257.6 630.7 257.4 633.3 257.8C635.9 258.2 640.7 259.2 642.2 259.5" fill="none" stroke="#1a8a1a" stroke-width="1.5" stroke-linejoin="round"/>
<rect x="29.5" y="176.5" width="167.5" height="40" fill="none" stroke="#686868" stroke-width="1"/>
<rect x="28.7" y="228.5" width="168.3" height="38.9" fill="none" stroke="#686868" stroke-width="1"/>
<rect x="255.4" y="177.1" width="167.1" height="40.1" fill="none" stroke="#686868" stroke-width="1"/>
<rect x="254.7" y="228.5" width="168.2" height="39" fill="none" stroke="#686868" stroke-width="1"/>
<rect x="475.4" y="176.7" width="167.1" height="40" fill="none" stroke="#686868" stroke-width="1"/>
<rect x="474.7" y="228.1" width="167.5" height="38.8" fill="none" stroke="#686868" stroke-width="1"/>
<rect x="156.5" y="176.4" width="37" height="19.5" fill="#fff" stroke="#686868" stroke-width="0.8"/>
<path d="M158.8 182.2h10.1" stroke="#111" stroke-width="1.4"/>
<path d="M158.8 190.7h10.1" stroke="#1a8a1a" stroke-width="1.4"/>
<text x="171.5" y="185.8" font-size="8.4" text-anchor="start" fill="#1a1a1a" stroke="#1a1a1a" style="font-family:&quot;Liberation Serif&quot;,serif" >A = 1</text>
<text x="171.5" y="193.7" font-size="8.4" text-anchor="start" fill="#1a1a1a" stroke="#1a1a1a" style="font-family:&quot;Liberation Serif&quot;,serif" >A = 2</text>
<text x="5.1" y="13.8" font-size="10.2" text-anchor="start" fill="#111" stroke="#111" style="font-family:&quot;Liberation Sans&quot;,sans-serif" font-weight="bold">A</text>
<text x="232.9" y="14.7" font-size="10.2" text-anchor="start" fill="#111" stroke="#111" style="font-family:&quot;Liberation Sans&quot;,sans-serif" font-weight="bold">B</text>
<text x="456.6" y="14.9" font-size="10.2" text-anchor="start" fill="#111" stroke="#111" style="font-family:&quot;Liberation Sans&quot;,sans-serif" font-weight="bold">C</text>
<text transform="translate(27.50,32.1) scale(0.92,1)" font-size="11.4" text-anchor="end" fill="#1a1a1a" stroke="#1a1a1a" style="font-family:&quot;Liberation Serif&quot;,serif">2000</text>
<text transform="translate(27.60,168.9) scale(0.95,1)" font-size="11.4" text-anchor="end" fill="#1a1a1a" stroke="#1a1a1a" style="font-family:&quot;Liberation Serif&quot;,serif">1</text>
<text transform="translate(20.3,96.6) rotate(-90)" font-size="12.5" text-anchor="middle" style="font-family:&quot;Liberation Serif&quot;,serif" font-style="italic" fill="#1a1a1a" stroke="#1a1a1a">i</text>
<text x="113.05" y="282" font-size="11.3" text-anchor="middle" fill="#1a1a1a" stroke="#1a1a1a" style="font-family:&quot;Liberation Serif&quot;,serif" >time (s)</text>
<text x="28.7" y="278.9" font-size="10.8" text-anchor="middle" fill="#1a1a1a" stroke="#1a1a1a" style="font-family:&quot;Liberation Serif&quot;,serif" >90</text>
<text x="197" y="278.9" font-size="10.8" text-anchor="middle" fill="#1a1a1a" stroke="#1a1a1a" style="font-family:&quot;Liberation Serif&quot;,serif" >100</text>
<text transform="translate(253.30,32.1) scale(0.92,1)" font-size="11.4" text-anchor="end" fill="#1a1a1a" stroke="#1a1a1a" style="font-family:&quot;Liberation Serif&quot;,serif">2000</text>
<text transform="translate(253.40,168.9) scale(0.95,1)" font-size="11.4" text-anchor="end" fill="#1a1a1a" stroke="#1a1a1a" style="font-family:&quot;Liberation Serif&quot;,serif">1</text>
<text transform="translate(246.1,96.6) rotate(-90)" font-size="12.5" text-anchor="middle" style="font-family:&quot;Liberation Serif&quot;,serif" font-style="italic" fill="#1a1a1a" stroke="#1a1a1a">i</text>
<text x="339" y="282" font-size="11.3" text-anchor="middle" fill="#1a1a1a" stroke="#1a1a1a" style="font-family:&quot;Liberation Serif&quot;,serif" >time (s)</text>
<text x="254.7" y="278.9" font-size="10.8" text-anchor="middle" fill="#1a1a1a" stroke="#1a1a1a" style="font-family:&quot;Liberation Serif&quot;,serif" >90</text>
<text x="422.9" y="278.9" font-size="10.8" text-anchor="middle" fill="#1a1a1a" stroke="#1a1a1a" style="font-family:&quot;Liberation Serif&quot;,serif" >100</text>
<text transform="translate(473.30,32.1) scale(0.92,1)" font-size="11.4" text-anchor="end" fill="#1a1a1a" stroke="#1a1a1a" style="font-family:&quot;Liberation Serif&quot;,serif">2000</text>
<text transform="translate(473.40,168.9) scale(0.95,1)" font-size="11.4" text-anchor="end" fill="#1a1a1a" stroke="#1a1a1a" style="font-family:&quot;Liberation Serif&quot;,serif">1</text>
<text transform="translate(466.1,96.6) rotate(-90)" font-size="12.5" text-anchor="middle" style="font-family:&quot;Liberation Serif&quot;,serif" font-style="italic" fill="#1a1a1a" stroke="#1a1a1a">i</text>
<text x="558.65" y="282" font-size="11.3" text-anchor="middle" fill="#1a1a1a" stroke="#1a1a1a" style="font-family:&quot;Liberation Serif&quot;,serif" >time (s)</text>
<text x="474.7" y="278.9" font-size="10.8" text-anchor="middle" fill="#1a1a1a" stroke="#1a1a1a" style="font-family:&quot;Liberation Serif&quot;,serif" >90</text>
<text x="642.2" y="278.9" font-size="10.8" text-anchor="middle" fill="#1a1a1a" stroke="#1a1a1a" style="font-family:&quot;Liberation Serif&quot;,serif" >100</text>
<text x="26.3" y="178.9" font-size="10.5" text-anchor="end" fill="#1a1a1a" stroke="#1a1a1a" style="font-family:&quot;Liberation Serif&quot;,serif" >π</text>
<text x="27.1" y="200.4" font-size="10.5" text-anchor="end" fill="#1a1a1a" stroke="#1a1a1a" style="font-family:&quot;Liberation Serif&quot;,serif" >0</text>
<text x="27.1" y="218.7" font-size="10.5" text-anchor="end" fill="#1a1a1a" stroke="#1a1a1a" style="font-family:&quot;Liberation Serif&quot;,serif" >-π</text>
<text x="27.3" y="231.4" font-size="10.8" text-anchor="end" fill="#1a1a1a" stroke="#1a1a1a" style="font-family:&quot;Liberation Serif&quot;,serif" >1</text>
<text x="27.3" y="269.9" font-size="10.8" text-anchor="end" fill="#1a1a1a" stroke="#1a1a1a" style="font-family:&quot;Liberation Serif&quot;,serif" >0</text>
<text x="471.7" y="178.9" font-size="8.8" text-anchor="end" fill="#1a1a1a" stroke="#1a1a1a" style="font-family:&quot;Liberation Serif&quot;,serif" >π</text>
<text x="471.7" y="199.9" font-size="9.2" text-anchor="end" fill="#1a1a1a" stroke="#1a1a1a" style="font-family:&quot;Liberation Serif&quot;,serif" >0</text>
<text x="471.7" y="219.2" font-size="8.8" text-anchor="end" fill="#1a1a1a" stroke="#1a1a1a" style="font-family:&quot;Liberation Serif&quot;,serif" >-π</text>
<text x="473.2" y="231.4" font-size="10.8" text-anchor="end" fill="#1a1a1a" stroke="#1a1a1a" style="font-family:&quot;Liberation Serif&quot;,serif" >1</text>
<text x="473.2" y="269.9" font-size="10.8" text-anchor="end" fill="#1a1a1a" stroke="#1a1a1a" style="font-family:&quot;Liberation Serif&quot;,serif" >0</text>
<text x="251.6" y="190.7" font-size="8.6" text-anchor="end" fill="#1a1a1a" stroke="#1a1a1a" style="font-family:&quot;Liberation Serif&quot;,serif" >π</text>
<text x="252" y="214.5" font-size="8.4" text-anchor="end" fill="#1a1a1a" stroke="#1a1a1a" style="font-family:&quot;Liberation Serif&quot;,serif" >0</text>
<text transform="translate(12.5,196.6) rotate(-90)" font-size="11" text-anchor="middle" style="font-family:&quot;Liberation Serif&quot;,serif" fill="#1a1a1a" stroke="#1a1a1a"><tspan font-size="12.2">θ</tspan><tspan font-size="8" dy="-4.5">′</tspan><tspan font-size="8" dx="-2" dy="7.5" font-style="italic">A</tspan><tspan dy="-3">(</tspan><tspan font-style="italic">t</tspan>)</text>
<text transform="translate(15.3,247) rotate(-90)" font-size="11" text-anchor="middle" style="font-family:&quot;Liberation Serif&quot;,serif" fill="#1a1a1a" stroke="#1a1a1a"><tspan font-style="italic">R</tspan><tspan font-size="7.5" dy="3" font-style="italic">A</tspan><tspan dy="-3">(</tspan><tspan font-style="italic">t</tspan>)</text>
<text transform="translate(238.4,196.6) rotate(-90)" font-size="11" text-anchor="middle" style="font-family:&quot;Liberation Serif&quot;,serif" fill="#1a1a1a" stroke="#1a1a1a"><tspan font-size="12.2">θ</tspan><tspan font-size="8" dy="-4.5">′</tspan><tspan font-size="8" dx="-2" dy="7.5" font-style="italic">A</tspan><tspan dy="-3">(</tspan><tspan font-style="italic">t</tspan>)</text>
<text transform="translate(241.2,247) rotate(-90)" font-size="11" text-anchor="middle" style="font-family:&quot;Liberation Serif&quot;,serif" fill="#1a1a1a" stroke="#1a1a1a"><tspan font-style="italic">R</tspan><tspan font-size="7.5" dy="3" font-style="italic">A</tspan><tspan dy="-3">(</tspan><tspan font-style="italic">t</tspan>)</text>
<text transform="translate(458.4,196.6) rotate(-90)" font-size="11" text-anchor="middle" style="font-family:&quot;Liberation Serif&quot;,serif" fill="#1a1a1a" stroke="#1a1a1a"><tspan font-size="12.2">θ</tspan><tspan font-size="8" dy="-4.5">′</tspan><tspan font-size="8" dx="-2" dy="7.5" font-style="italic">A</tspan><tspan dy="-3">(</tspan><tspan font-style="italic">t</tspan>)</text>
<text transform="translate(461.2,247) rotate(-90)" font-size="11" text-anchor="middle" style="font-family:&quot;Liberation Serif&quot;,serif" fill="#1a1a1a" stroke="#1a1a1a"><tspan font-style="italic">R</tspan><tspan font-size="7.5" dy="3" font-style="italic">A</tspan><tspan dy="-3">(</tspan><tspan font-style="italic">t</tspan>)</text>
<circle cx="61.5" cy="18.2" r="6.2" fill="none" stroke="#111" stroke-width="1.5"/>
<rect x="280.2" y="13.6" width="11" height="10.5" fill="none" stroke="#111" stroke-width="1.5"/>
<path d="M501.4 13.3L507.6 23.9H495.2Z" fill="none" stroke="#111" stroke-width="1.5" stroke-linejoin="miter"/>
<path d="M644.5 28.5H665.5M644.5 96.5H665.5M644.5 165.3H665.5" stroke="#000" stroke-width="1" stroke-dasharray="1.1 1.1"/>
<path d="M661 30V95M661 98V163.5" stroke="#a8a8a8" stroke-width="1.5"/>
<path d="M659 31.8L661 28.9L663 31.8M659 93.6L661 96.4L663 93.6M659 99.4L661 96.6L663 99.4M659 162.2L661 165L663 162.2" stroke="#111" stroke-width="1.3" fill="none"/>
<text transform="translate(656.8,64.5) rotate(-90)" font-size="11.5" text-anchor="middle" style="font-family:&quot;Liberation Serif&quot;,serif" fill="#0c900c" stroke="#0c900c">Area 2</text>
<text transform="translate(656.8,132.2) rotate(-90)" font-size="11.5" text-anchor="middle" style="font-family:&quot;Liberation Serif&quot;,serif" fill="#1a1a1a" stroke="#1a1a1a">Area 1</text>
</svg></body></html>
